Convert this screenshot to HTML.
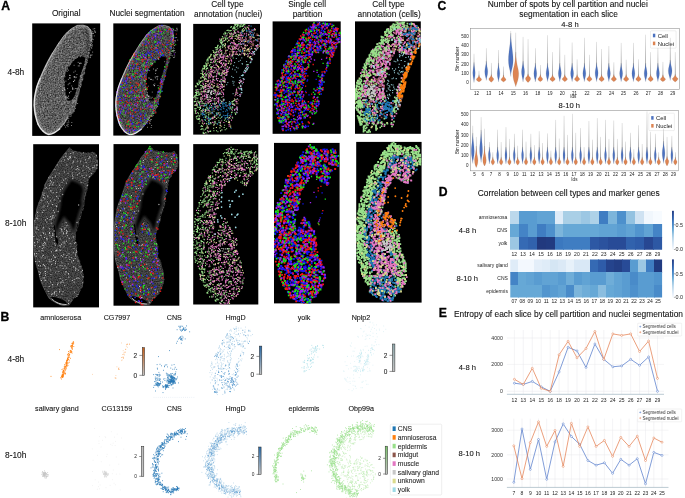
<!DOCTYPE html>
<html><head><meta charset="utf-8"><title>Figure</title>
<style>html,body{margin:0;padding:0;background:#fff;}svg{display:block;will-change:transform;font-family:"Liberation Sans",sans-serif;}</style>
</head><body>
<svg width="685" height="498" viewBox="0 0 685 498">
<defs>
<clipPath id="cp0"><rect x="32.2" y="23.4" width="68.0" height="112.5"/></clipPath>
<clipPath id="cp1"><rect x="113.3" y="23.4" width="67.6" height="112.2"/></clipPath>
<clipPath id="cp2"><rect x="193.2" y="23.9" width="66.8" height="110.7"/></clipPath>
<clipPath id="cp3"><rect x="272.6" y="21.4" width="68.1" height="112.4"/></clipPath>
<clipPath id="cp4"><rect x="355.0" y="21.4" width="65.8" height="112.4"/></clipPath>
<clipPath id="cp5"><rect x="33.2" y="144.2" width="65.8" height="163.2"/></clipPath>
<clipPath id="cp6"><rect x="113.5" y="144.1" width="65.8" height="161.6"/></clipPath>
<clipPath id="cp7"><rect x="193.2" y="144.1" width="65.1" height="160.4"/></clipPath>
<clipPath id="cp8"><rect x="274.0" y="142.9" width="65.6" height="160.5"/></clipPath>
<clipPath id="cp9"><rect x="356.2" y="141.9" width="65.4" height="160.7"/></clipPath>
<filter id="gn1" x="-5%" y="-5%" width="110%" height="110%" color-interpolation-filters="sRGB"><feTurbulence type="fractalNoise" baseFrequency="0.72" numOctaves="2" seed="2" result="n"/><feColorMatrix in="n" type="matrix" values="0.66 0 0 0 0.03 0.66 0 0 0 0.03 0.66 0 0 0 0.03 0 0 0 0 1" result="g"/><feGaussianBlur in="SourceAlpha" stdDeviation="0.35" result="m"/><feComposite in="g" in2="m" operator="in"/></filter>
<filter id="gn2" x="-5%" y="-5%" width="110%" height="110%" color-interpolation-filters="sRGB"><feTurbulence type="fractalNoise" baseFrequency="0.8" numOctaves="2" seed="7" result="n"/><feColorMatrix in="n" type="matrix" values="0.42 0 0 0 0.035 0.42 0 0 0 0.035 0.42 0 0 0 0.035 0 0 0 0 1" result="g"/><feGaussianBlur in="SourceAlpha" stdDeviation="0.35" result="m"/><feComposite in="g" in2="m" operator="in"/></filter>
<filter id="gn1b" x="-5%" y="-5%" width="110%" height="110%" color-interpolation-filters="sRGB"><feTurbulence type="fractalNoise" baseFrequency="0.72" numOctaves="2" seed="4" result="n"/><feColorMatrix in="n" type="matrix" values="0.52 0 0 0 0.01 0.52 0 0 0 0.01 0.52 0 0 0 0.01 0 0 0 0 1" result="g"/><feGaussianBlur in="SourceAlpha" stdDeviation="0.35" result="m"/><feComposite in="g" in2="m" operator="in"/></filter>
<filter id="bl5" x="-20%" y="-20%" width="140%" height="140%"><feGaussianBlur stdDeviation="0.5"/></filter>
<filter id="bl8" x="-20%" y="-20%" width="140%" height="140%"><feGaussianBlur stdDeviation="0.8"/></filter>
<clipPath id="gl_cp0"><path d="M71 29L65 34.5L58.9 42.9L52.9 52.5L48.1 61L44.5 68.2L40.2 78L36.6 87.6L34.6 97.3L34.2 105.7L35.4 115.4L38.4 125L43.3 131.6L48.1 134.4L54.1 132.8L60.1 128.6L65 122.6L68.6 116.4L73.4 113L76.4 104.5L78.4 96.1L80.8 87.6L83.2 78L85 70.6L87.4 62.2L89.1 55L90.3 47.7L91.5 41.7L92.1 35.7L90.9 30.2L87.9 26.6L83 25.1L77 25.4ZM85.3 57.6L84.6 62.2L82 71L79.8 78L77.4 87.6L75 95.1L71.5 101L67.4 100.2L66 96.1L65 87.6L64.3 78L65.6 73L68.9 66.2L74.3 60.4L79.2 55.6Z" clip-rule="evenodd"/></clipPath>
<clipPath id="gl_cp1"><path d="M152.6 29.3L146.6 34.8L140.5 43.2L134.5 52.8L129.7 61.3L126.1 68.5L121.8 78.3L118.2 87.9L116.2 97.6L115.8 106L117 115.7L120 125.3L124.9 131.9L129.7 134.7L135.7 133.1L141.7 128.9L146.6 122.9L150.2 116.7L155 113.3L158 104.8L160 96.4L162.4 87.9L164.8 78.3L166.6 70.9L169 62.5L170.7 55.3L171.9 48L173.1 42L173.7 36L172.5 30.5L169.5 26.9L164.6 25.4L158.6 25.7ZM166.9 57.9L166.2 62.5L163.6 71.3L161.4 78.3L159 87.9L156.6 95.4L153.1 101.3L149 100.5L147.6 96.4L146.6 87.9L145.9 78.3L147.2 73.3L150.5 66.5L155.9 60.7L160.8 55.9Z" clip-rule="evenodd"/></clipPath>
<clipPath id="hc_cp5"><path d="M66 184.5L62 191L59.4 198L58.3 207.6L55.9 216.1L53.9 224.2L55 226L56.5 238L58.1 238L58.3 234.2L60.7 225.7L64.3 219.7L68.6 224.5L72.2 233L74.8 234.2L77.2 225.7L79 218.5L81.4 211.3L83.8 205L83.4 199.9L85.2 190.2L83.6 184.5L78 180.8L70.5 177.8Z"/></clipPath>
<clipPath id="hc_cp6"><path d="M146.3 183.9L142.3 190.4L139.7 197.4L138.6 207L136.2 215.5L134.2 223.6L135.3 225.4L136.8 237.4L138.4 237.4L138.6 233.6L141 225.1L144.6 219.1L148.9 223.9L152.5 232.4L155.1 233.6L157.5 225.1L159.3 217.9L161.7 210.7L164.1 204.4L163.7 199.3L165.5 189.6L163.9 183.9L158.3 180.2L150.8 177.2Z"/></clipPath>
<linearGradient id="cb142_347" x1="0" y1="0" x2="0" y2="1"><stop offset="0" stop-color="#c8601a"/><stop offset="1" stop-color="#c4c4c4"/></linearGradient>
<linearGradient id="cb259_346" x1="0" y1="0" x2="0" y2="1"><stop offset="0" stop-color="#2a6aa6"/><stop offset="1" stop-color="#c4c4c4"/></linearGradient>
<linearGradient id="cb392_344" x1="0" y1="0" x2="0" y2="1"><stop offset="0" stop-color="#8fa9ad"/><stop offset="1" stop-color="#c4c4c4"/></linearGradient>
<linearGradient id="cb141_446" x1="0" y1="0" x2="0" y2="1"><stop offset="0" stop-color="#bdbdbd"/><stop offset="1" stop-color="#c4c4c4"/></linearGradient>
<linearGradient id="cb258_447" x1="0" y1="0" x2="0" y2="1"><stop offset="0" stop-color="#2a6aa6"/><stop offset="1" stop-color="#c4c4c4"/></linearGradient>
<linearGradient id="cb385_446" x1="0" y1="0" x2="0" y2="1"><stop offset="0" stop-color="#7cc46c"/><stop offset="1" stop-color="#c4c4c4"/></linearGradient>
<linearGradient id="wh" x1="0" y1="0" x2="0" y2="1"><stop offset="0" stop-color="#a8a8a8" stop-opacity="0.5"/><stop offset="0.55" stop-color="#808080" stop-opacity="0.85"/><stop offset="1" stop-color="#555" stop-opacity="1"/></linearGradient>
<clipPath id="hcl1"><rect x="509.7" y="210.8" width="152.4" height="38.9"/></clipPath>
<clipPath id="hcl2"><rect x="510.3" y="259.4" width="151.8" height="38.1"/></clipPath>
<linearGradient id="dcb" x1="0" y1="0" x2="0" y2="1"><stop offset="0.0" stop-color="#213b81"/><stop offset="0.1" stop-color="#294d98"/><stop offset="0.2" stop-color="#3163ae"/><stop offset="0.3" stop-color="#3f7dc2"/><stop offset="0.4" stop-color="#5294ce"/><stop offset="0.5" stop-color="#6dacd8"/><stop offset="0.6" stop-color="#98c5e2"/><stop offset="0.7" stop-color="#b8d6eb"/><stop offset="0.8" stop-color="#d0e3f2"/><stop offset="0.9" stop-color="#e4eef9"/><stop offset="1.0" stop-color="#f7fbff"/></linearGradient>
</defs>
<rect width="685" height="498" fill="#fff"/>
<text x="1.2" y="10.1" font-size="12.2" text-anchor="start" font-weight="bold" fill="#000" stroke="#000" stroke-width="0.3">A</text>
<text x="0.6" y="321.2" font-size="12.2" text-anchor="start" font-weight="bold" fill="#000" stroke="#000" stroke-width="0.3">B</text>
<text x="437.4" y="10.0" font-size="12.2" text-anchor="start" font-weight="bold" fill="#000" stroke="#000" stroke-width="0.3">C</text>
<text x="438.7" y="195.6" font-size="12.2" text-anchor="start" font-weight="bold" fill="#000" stroke="#000" stroke-width="0.3">D</text>
<text x="438.8" y="317.0" font-size="12.2" text-anchor="start" font-weight="bold" fill="#000" stroke="#000" stroke-width="0.3">E</text>
<text x="66.2" y="16.3" font-size="8.3" text-anchor="middle" fill="#111" stroke="#111" stroke-width="0.09">Original</text>
<text x="147.0" y="15.6" font-size="8.3" text-anchor="middle" fill="#111" stroke="#111" stroke-width="0.09">Nuclei segmentation</text>
<text x="227.4" y="7.1" font-size="8.3" text-anchor="middle" fill="#111" stroke="#111" stroke-width="0.09">Cell type</text>
<text x="228.2" y="17.2" font-size="8.3" text-anchor="middle" fill="#111" stroke="#111" stroke-width="0.09">annotation (nuclei)</text>
<text x="307.1" y="7.1" font-size="8.3" text-anchor="middle" fill="#111" stroke="#111" stroke-width="0.09">Single cell</text>
<text x="307.5" y="17.2" font-size="8.3" text-anchor="middle" fill="#111" stroke="#111" stroke-width="0.09">partition</text>
<text x="388.4" y="7.1" font-size="8.3" text-anchor="middle" fill="#111" stroke="#111" stroke-width="0.09">Cell type</text>
<text x="389.2" y="17.2" font-size="8.3" text-anchor="middle" fill="#111" stroke="#111" stroke-width="0.09">annotation (cells)</text>
<text x="7.5" y="74.7" font-size="8.4" text-anchor="start" fill="#111" stroke="#111" stroke-width="0.09">4-8h</text>
<text x="5.0" y="226.4" font-size="8.4" text-anchor="start" fill="#111" stroke="#111" stroke-width="0.09">8-10h</text>
<text x="60.7" y="320.2" font-size="7.15" text-anchor="middle" fill="#111" stroke="#111" stroke-width="0.09">amnioserosa</text>
<text x="117.0" y="320.2" font-size="7.15" text-anchor="middle" fill="#111" stroke="#111" stroke-width="0.09">CG7997</text>
<text x="174.3" y="320.2" font-size="7.15" text-anchor="middle" fill="#111" stroke="#111" stroke-width="0.09">CNS</text>
<text x="235.5" y="320.2" font-size="7.15" text-anchor="middle" fill="#111" stroke="#111" stroke-width="0.09">HmgD</text>
<text x="304.1" y="320.2" font-size="7.15" text-anchor="middle" fill="#111" stroke="#111" stroke-width="0.09">yolk</text>
<text x="361.0" y="320.2" font-size="7.15" text-anchor="middle" fill="#111" stroke="#111" stroke-width="0.09">Nplp2</text>
<text x="56.9" y="411.2" font-size="7.15" text-anchor="middle" fill="#111" stroke="#111" stroke-width="0.09">salivary gland</text>
<text x="116.9" y="411.2" font-size="7.15" text-anchor="middle" fill="#111" stroke="#111" stroke-width="0.09">CG13159</text>
<text x="174.3" y="411.2" font-size="7.15" text-anchor="middle" fill="#111" stroke="#111" stroke-width="0.09">CNS</text>
<text x="235.5" y="411.2" font-size="7.15" text-anchor="middle" fill="#111" stroke="#111" stroke-width="0.09">HmgD</text>
<text x="303.9" y="411.2" font-size="7.15" text-anchor="middle" fill="#111" stroke="#111" stroke-width="0.09">epidermis</text>
<text x="361.2" y="411.2" font-size="7.15" text-anchor="middle" fill="#111" stroke="#111" stroke-width="0.09">Obp99a</text>
<text x="7.5" y="362.0" font-size="8.4" text-anchor="start" fill="#111" stroke="#111" stroke-width="0.09">4-8h</text>
<text x="5.0" y="458.3" font-size="8.4" text-anchor="start" fill="#111" stroke="#111" stroke-width="0.09">8-10h</text>
<text x="567.8" y="7.1" font-size="8.4" text-anchor="middle" fill="#111" stroke="#111" stroke-width="0.09">Number of spots by cell partition and nuclei</text>
<text x="568.6" y="17.2" font-size="8.4" text-anchor="middle" fill="#111" stroke="#111" stroke-width="0.09">segmentation in each slice</text>
<text x="570.0" y="27.1" font-size="7.6" text-anchor="middle" fill="#111" stroke="#111" stroke-width="0.09">4-8 h</text>
<text x="569.3" y="108.2" font-size="7.6" text-anchor="middle" fill="#111" stroke="#111" stroke-width="0.09">8-10 h</text>
<text x="568.7" y="196.0" font-size="8.4" text-anchor="middle" fill="#111" stroke="#111" stroke-width="0.09">Correlation between cell types and marker genes</text>
<text x="467.5" y="232.5" font-size="7.6" text-anchor="middle" fill="#111" stroke="#111" stroke-width="0.09">4-8 h</text>
<text x="467.3" y="281.3" font-size="7.6" text-anchor="middle" fill="#111" stroke="#111" stroke-width="0.09">8-10 h</text>
<text x="568.5" y="316.9" font-size="8.4" text-anchor="middle" fill="#111" stroke="#111" stroke-width="0.09">Entropy of each slice by cell partition and nuclei segmentation</text>
<text x="467.3" y="369.6" font-size="7.6" text-anchor="middle" fill="#111" stroke="#111" stroke-width="0.09">4-8 h</text>
<text x="469.2" y="455.8" font-size="7.6" text-anchor="middle" fill="#111" stroke="#111" stroke-width="0.09">8-10 h</text>
<rect x="32.2" y="23.4" width="68.0" height="112.5" fill="#000"/>
<rect x="113.3" y="23.4" width="67.6" height="112.2" fill="#000"/>
<rect x="193.2" y="23.9" width="66.8" height="110.7" fill="#000"/>
<rect x="272.6" y="21.4" width="68.1" height="112.4" fill="#000"/>
<rect x="355.0" y="21.4" width="65.8" height="112.4" fill="#000"/>
<rect x="33.2" y="144.2" width="65.8" height="163.2" fill="#000"/>
<rect x="113.5" y="144.1" width="65.8" height="161.6" fill="#000"/>
<rect x="193.2" y="144.1" width="65.1" height="160.4" fill="#000"/>
<rect x="274.0" y="142.9" width="65.6" height="160.5" fill="#000"/>
<rect x="356.2" y="141.9" width="65.4" height="160.7" fill="#000"/>
<g clip-path="url(#cp0)">
<path d="M70.6 29.1L70.4 29.7L68.6 30.7L68.3 32L66.7 32.1L66.4 33.6L65.8 34.6L64.4 35.2L64.6 36.2L62.6 37L62.2 38.5L61.2 39.5L60.7 40.8L60.2 41.7L58.4 42.9L57.9 43.7L57.2 44.9L56.7 46L57.5 47L55.9 47.7L54.8 49.5L54.2 50.5L53.6 51.1L53 52.3L52.9 53.5L51.8 54.9L51.3 55.8L50.6 57.1L50.1 58.5L49.1 59.1L48.6 60.7L48.3 61.5L47.4 63L46.7 64.1L46.1 65L45.1 66.2L45.1 68L44.6 69L44 70.1L43.3 71.3L43.3 72.1L42 74.1L41.8 75L41.5 75.4L41.5 77.6L40.2 78.5L39.7 79.1L39.2 80.8L39.1 82.1L38.3 83.6L37.6 84.6L37.8 85.4L36.3 86.4L36.6 88.2L36.8 88.9L36 90.8L35.7 91L35.8 93.9L35.6 94L34.8 95.7L35.6 97.1L34.6 98.7L34.5 100.2L34.2 100.6L34.6 102.6L34.5 103.5L33.6 104.5L34 105.8L34.6 107.2L34.8 108.6L34.6 109.9L35 111.5L34.9 112.4L34.7 114.3L35.9 115L35.5 115.9L36.1 117.6L37.2 118.9L36.6 119.2L37.7 121.3L37.1 122.6L37.4 125L38.8 125.2L39.1 125.3L39.9 126.5L40.9 127.4L41.2 129.6L42.9 129.8L42.5 131.6L44.4 131.7L45 132.5L45.9 133.1L47.9 134.3L49.3 134.2L49.8 133.6L51.1 133.1L51.8 133.5L54.2 133.2L55.3 132.4L55.6 131.6L56.8 130.4L57.4 129.6L59.1 129.4L60 129.1L61 127.8L62.2 126.3L61.9 125.8L63.2 125L64.4 123.9L65.3 121.8L66 121.2L66.1 120.1L67.3 119.5L68 117.4L68.1 116.1L69.2 116.2L70 115.3L71.4 114.8L72.1 113.4L73.2 113.6L74.2 111.7L74.4 110.5L74.8 109.2L75 107.6L75.4 107.4L76.2 105.6L76.4 104.4L76.9 102.9L77.1 101.9L77.1 100.3L77.3 98.9L78.3 97.2L78.2 96.5L78.4 95.5L79.3 94.3L79.2 92.8L79.6 92L79.9 90.1L79.9 88.8L80.2 88.4L81.1 86.6L81.8 85.2L81.9 84.5L81.4 82.4L82 82L83.1 80L83.3 79L83.1 77.7L83.4 76L83.5 74.9L84.3 74.8L85.4 72.7L84.2 71.4L84.8 71L85.6 68.8L86.1 68L85.6 66.3L86.4 65.3L86.9 63.9L87.3 62.6L87.2 62L88 60.4L87.6 58.9L88.7 57.3L89.1 56.3L89.2 55.1L89.4 54.3L89.4 53.2L89.4 51L90.2 49.7L90 49.1L90.8 46.8L90.8 46.9L91.3 44.8L90.9 43.5L91 42.3L91.5 41L92.1 39.7L91.3 38.9L91.6 37L92 35.8L91.5 34.5L92.4 33.1L91.3 32.5L91.3 31.1L90.8 29L89.3 28.7L89 28.1L88.1 26.6L86.8 26.2L85.6 26.1L84.1 25.2L82.7 25.5L82.2 25.5L80.7 25.5L79.1 25.5L77.4 25.3L76.3 25.9L75.3 26.3L74.5 27.5L73 27.3L72.4 27.9ZM85.5 57.4L85.1 58.3L85.2 60L84.4 62.2L84.7 64L84.2 63.9L83.7 65.9L83.3 66.7L83.1 67.5L82.6 68.9L81.8 70.6L82 71.6L81.1 72.1L81.2 74.1L80 75.3L79.7 76.6L79.9 78L79.6 79.2L78.8 80.3L78.7 81.6L78.7 83.2L78.8 83.3L78.1 85.4L78.4 87.1L76.7 88.2L76.7 89.6L76.1 90.5L76 91.8L75.5 92.4L75.4 94.7L74.7 95.2L74.2 96.8L73.4 97.8L73.2 98.5L71.9 99.4L71.1 100.7L69.7 100.5L69.4 100.4L67.4 101L67 98.4L66.7 97.4L66.7 96.1L65.7 94.7L65.8 93.6L65.6 92.5L65.2 91.6L65.6 90L64.8 88.3L65.1 88.2L64.7 85.8L64.6 84.4L64.4 83.4L65.1 82.2L64.3 80.3L64.5 79.5L63.9 77.9L64.6 77.3L65.1 75.8L65.1 74.5L65.6 73.9L65.7 71.8L67.1 70.7L67.8 69.6L67.9 68.3L67.9 66.9L69.8 66.3L70.1 65.4L71 64.5L71.6 63.1L72.9 62.1L73 61.2L74.2 60.5L75.1 59L76.2 59L77.2 57.6L78.2 56.7L79.4 56.2L79.7 56.4L81.6 56.3L83.6 56.7L84.7 57.5Z" fill="#fff" fill-rule="evenodd" filter="url(#gn1)"/>
<g clip-path="url(#gl_cp0)"><path d="M68.6 116.4L65 122.6L60.1 128.6L54.1 132.8L48.1 134.4L43.3 131.6L38.4 125L35.4 115.4L34.2 105.7L34.6 97.3L36.6 87.6L40.2 78L44.5 68.2L48.1 61L52.9 52.5L58.9 42.9L65 34.5L71 29L77 25.4L83 25.1L87.9 26.6L90.9 30.2L92.1 35.7L91.5 41.7" fill="none" stroke="#fff" stroke-width="3.6" stroke-opacity="0.28" filter="url(#bl8)"/></g>
<path d="M68.6 116.4L65 122.6L60.1 128.6L54.1 132.8L48.1 134.4L43.3 131.6L38.4 125L35.4 115.4L34.2 105.7L34.6 97.3L36.6 87.6L40.2 78L44.5 68.2L48.1 61L52.9 52.5L58.9 42.9L65 34.5L71 29L77 25.4L83 25.1L87.9 26.6L90.9 30.2L92.1 35.7L91.5 41.7" fill="none" stroke="#cfcfcf" stroke-width="0.8" stroke-opacity="0.7" filter="url(#bl5)"/>
<path d="M80.8 32.1h0m-5.1 3.6h0m3.4-2.3h0m3 1.8h0m5.2-.2h0m-22.5 3.7h0m4.3-1h0m1.2-1.4h0m8.8 8.4h0m-8.6 2h0m7.3-.9h0m2.7 1.9h0m1.5 .2h0m-19.9 1.4h0m6.5 .3h0m10.1-1.2h0m-25.9 5.1h0m6-.2h0m1.8 .5h0m11.2-1.9h0m.5-.8h0m3 0h0m1.4 .1h0m-21.7 3.6h0m14.9 2h0m15.3-.9h0m-33 3.2h0m21.7-1.3h0m-22.4 4.2h0m5-.7h0m.5 .7h0m30.1 .5h0m-38.5 2.1h0m6.8 .2h0m3.6 .7h0m-6.4 3.3h0m4.5-1.3h0m-12.5 1.6h0m1.4 2.4h0m3.9 .1h0m5.9 5.8h0m3.3-.1h0m2.9-1h0m19.5 1.2h0m-26.9 2.3h0m-5 3.7h0m13.2 .3h0m16.4-.7h0m-33.7 3.6h0m6.7-1.7h0m.8 .1h0m3-1h0m24.4 .1h0m-41.3 10.2h0m1.7 1.5h0m23-.1h0m-17.3 1.7h0m7.5-1.3h0m2.9 1.8h0m2.9 .1h0m-20.6 .9h0m15.8 1.2h0m2.4 1.4h0m10.2-.3h0m8.6-.3h0m-33.8 2.1h0m5.4 .4h0m7.1 .9h0m6.4-1.1h0m3.2-.6h0m8.9-.2h0m2.5 0h0m-33.4 4.1h0m1.7 1.3h0m-1.3 1.4h0m.5-.4h0m1-.8h0m2.6 .7h0m17.4-.1h0m-8.7 3.5h0m8-.9h0m2.2-.1h0m-22.6 4.8h0m-3.5 4.8h0m1 1.9h0m8.5-.6h0m-3.7 6.3h0m5.5 2.7h0m-2.5 1.1h0m1.5 1.1h0" stroke="#a8a8a8" stroke-width="0.7" stroke-linecap="square" fill="none"/>
</g>
<g clip-path="url(#cp0)"><path d="M60.1 128.6C59.1 129.3 56.1 131.8 54.1 132.8C52.1 133.8 49.9 134.6 48.1 134.4C46.3 134.2 44.9 133.2 43.3 131.6C41.7 130.0 39.7 127.7 38.4 125.0C37.1 122.3 36.1 118.6 35.4 115.4C34.7 112.2 34.3 108.7 34.2 105.7C34.1 102.7 34.2 100.3 34.6 97.3C35.0 94.3 35.7 90.8 36.6 87.6C37.5 84.4 39.6 79.6 40.2 78.0" fill="none" stroke="#fff" stroke-width="1.4" stroke-opacity="0.8" filter="url(#bl5)"/><path d="M40.2 78.0C40.9 76.4 43.2 71.0 44.5 68.2C45.8 65.4 46.7 63.6 48.1 61.0C49.5 58.4 52.1 53.9 52.9 52.5" fill="none" stroke="#fff" stroke-width="1.19" stroke-opacity="0.44" filter="url(#bl5)"/><path d="M52.9 52.5C53.9 50.9 56.9 45.9 58.9 42.9C60.9 39.9 63.0 36.8 65.0 34.5C67.0 32.2 70.0 29.9 71.0 29.0" fill="none" stroke="#fff" stroke-width="0.98" stroke-opacity="0.24" filter="url(#bl5)"/></g>
<g clip-path="url(#cp0)"><path d="M85.5 29C88.6 34 88.8 42 87.6 49S85.5 54 84 57" fill="none" stroke="#000" stroke-opacity="0.4" stroke-width="2.2" filter="url(#bl8)"/></g>
<g clip-path="url(#cp0)"><path d="M93.2 29h0m1.5-.5h0m-2 3.2h0m2-1.4h0m.1 1.4h0m.4 .4h0m.2 .2h0m-5.7 2.9h0m1.4 .7h0m.3-1.9h0m1.3-.4h0m.1-.4h0m.7 .2h0m.8 2.5h0m-3.8 1.3h0m.8-.5h0m0 1.2h0m.9 .9h0m-.3 3.1h0m.1-2.5h0m1.2 .2h0m-4.3 4.8h0m1.3 .4h0m.2-.5h0m1.1-.7h0m.7-1.6h0m.1 2.8h0m-1.7 .4h0m.2-.1h0m.7 2.7h0m.1-2h0m.7 .2h0m-2.2 4.1h0m1.6-2h0m-5.6 4.4h0m2.5 .2h0m.7 .2h0m3.3-.8h0m-5 4.1h0m2.8-.3h0m.1-.8h0m.7 .2h0m.8-.4h0m-3.8 2.9h0m1.9-.6h0m.2 .4h0m-16.7 43.3h0m.2 .4h0m.9 .5h0m1.4 .1h0m.9-1.9h0m-3.7 2.8h0m4.3 .7h0m-5.1 3.1h0m1.5-.4h0m.2 .6h0m-3.8 3.2h0m2.7-.9h0m2.4-.7h0m-4.8 3.4h0m3.6-.7h0m-7 4h0m2.8 1.3h0m1.1-.5h0m-2.5 2.7h0m-1.5 4.2h0m1.2-1.9h0m.4 1.3h0m3 .3h0m-7.3 2.7h0m2.1 .1h0m1-.2h0m.6-.8h0m3.3 1.2h0m-5.9 1.6h0m2.4-.5h0" stroke="#9a9a9a" stroke-width="0.8" stroke-linecap="square" fill="none"/><path d="M80.4 56.7h0m-3.1 .8h0m.9 4.9h0m1.9 .5h0m-9.9 .7h0m3.9 1.7h0m4.2 .6h0m1 0h0m.6-2.3h0m1.4-.3h0m-14.2 8.2h0m1.4-1.3h0m6.8 .9h0m-11 2.2h0m9.5-1.1h0m3.1 2.3h0m-15.1 2.2h0m1.9-1.3h0m.8-.1h0m.4 1.4h0m5-1.3h0m0 2.5h0m4.1-1.1h0m.4 .2h0m.4-.5h0m.9 1.2h0m.7-.5h0m4.3-.2h0m-17.9 2.8h0m5.6-.4h0m6.1 1h0m.2-.3h0m-8.8 1h0m3.2 2.5h0m.8-.5h0m3.7-1.6h0m-5.4 3.2h0m3.5 1.3h0m-8 2.4h0m.9-.6h0m.1 1.4h0m2.9-.6h0m5-1.1h0m0 1.4h0m1.3 .1h0m1.7-.5h0m1.1 .2h0m-14.2 1.8h0m7.1 2.2h0m1.3-1.2h0m-6.5 3.4h0m4.2 1.1h0m7.5-1h0m-10.9 2.1h0m.3 1.5h0m1.5-.8h0m.1-.1h0m1.2-1.1h0m.4 1.8h0m-3 .6h0" stroke="#8a8a8a" stroke-width="0.9" stroke-linecap="square" fill="none"/><path d="M79.9 63.6h0m-18.1 13.1h0m8.1-1.3h0m0 2.5h0m4.5-.9h0m-.8 4.5h0m-8.9 7.7h0m7.9-.3h0m-10.1 1.6h0m7.1 2.2h0m-4.4 4.4h0m1.9 .6h0" stroke="#d0d0d0" stroke-width="1.1" stroke-linecap="round" fill="none"/></g>
<g clip-path="url(#cp1)">
<path d="M152.7 29.2L151.4 30.4L150.6 31.1L150.9 32.2L148.8 32.3L147.8 34L146.6 34.5L145.2 35.8L145.1 36.9L145 37.6L144.1 38.8L142.9 39.7L141.9 41.3L141.7 41.6L141 42.7L139.4 44.5L138.8 45.6L138.7 46.6L138.1 47.8L137.3 48.7L136.6 50L135.7 51L135.7 51.8L134.6 52.7L133.7 54.1L133 54.8L132.5 56.4L132 57.7L130.6 59.1L130.5 59.4L129.8 61L129.7 61.8L128.8 62.6L128.3 64.3L127.5 65.8L127.7 67L126.2 68.3L125.8 69L125.2 70.3L125 71.4L124.2 72.5L123.7 74.1L123.1 74.9L122.7 75.9L122.2 76.8L121.9 78.7L121.2 80.3L120.5 81.1L120.5 82L119.8 83.7L119.5 84.7L119.5 85.9L117.9 86.8L118.4 88.2L117.5 88.9L117.7 91.4L116.9 91.4L117.2 93.2L116.7 94.5L116.2 96.1L116.6 97.3L116 98.9L116.1 100L115.7 101.3L116.2 102.9L115.9 103.9L115.6 105.3L116.1 106.7L115.9 107.2L116.1 108.8L116.1 110.4L116.8 111.6L117 112.9L116.5 113.9L116.8 115.6L117.6 116.7L118 117.6L118 119.6L118.6 120.7L118.2 121L118.9 123.2L120.2 123.8L119.7 125L120.5 126.5L121.4 128L122.6 128.2L123.2 129.4L124.2 130.8L124.5 131.9L125.9 132.3L126.9 133.2L127.8 133.4L129.5 134.3L130 134.7L131 134.2L132.3 133.7L133.4 133.3L135.6 133.2L136 133.2L137.2 132.4L138.3 130.6L140.2 130.2L140.9 130L141.3 128.9L142.3 128.1L143.4 126.4L144.2 126.1L144.9 125L145.7 123.8L146.8 122.9L147.7 122L148.2 120.8L148.7 119L149.6 118.9L150 117.1L150.8 116.7L152 115.2L152.9 114.5L153.9 113.7L154.7 113.8L155.8 111.5L155.6 110.6L156.2 109.1L157.1 107.8L157.4 107.3L157.5 105.7L158.1 104.7L157.6 103L158.8 102.1L158.8 100.5L159 99.3L160.5 97.9L160.4 97.2L160.2 95.9L160.4 95.1L161.1 93.3L161.2 92.1L161.2 90.7L161.7 89.7L162.5 87.6L162.5 87.3L162.5 85.3L163.6 84.4L163.4 82.8L163.9 81.8L164.3 80.8L164.8 79.3L164.7 78.2L165.1 77L165.3 75.6L165.6 74.2L166.1 73.5L166.2 72L166.8 70.6L167.3 69.1L167.6 68.2L166.6 66.9L168.3 66.2L168.1 64.4L169 62.7L169.6 62L169.2 60.1L169.6 60.1L170.8 57.2L169.7 57L170.6 55.3L171.1 54.2L171.2 53L170.9 52.1L171.4 50.7L172 49.1L172 47.8L171.6 46.4L172.6 44.7L172.2 44.3L173.2 42.1L173.3 41.4L173.6 40L173.3 38.5L173.6 37.5L173.5 36.1L173.2 35.1L172.8 33.1L172.6 32.8L172.5 31.3L172.3 29.8L171.5 29.2L170.4 27.7L169.5 26.5L168.3 26.3L167.3 26.3L165.6 26.1L165 25.4L163.1 25.6L161.2 25.3L160.9 26.3L159.2 26.2L159 26.6L156.3 27L156 27.6L154.8 27.7L153.6 29.2ZM167.2 57.8L166.8 59.5L166.7 60.5L166.1 61.5L165.9 62.9L165.1 63.8L165.6 65.2L164.5 66.8L165 68.6L164 69L163.6 70.3L163.2 72.1L162.7 72.9L162.5 74.4L162 75.4L161.4 76.6L161.6 78.1L160 79.6L160.8 80.4L160.4 80.9L159.6 83.7L160.6 85.3L159.3 85.8L159.5 86.7L159.5 88.1L158.6 89.2L158.2 90.8L158 91.7L157.3 94L156.4 94.7L156.5 95.6L155.6 97.4L155.4 98.3L154.4 98.8L153.7 101L153.3 100.8L150.9 100.8L150.4 100.6L148.9 100.6L148.9 99.4L148.6 97.6L147.9 97L147 96L146.8 93.7L148.1 93.4L147.2 92.1L147.3 89.9L146.9 89.5L146.5 87.7L146.3 86.7L146.2 84.9L145.9 83.4L146.3 82.6L146 80.8L146.1 80L146.4 78.4L146 77.4L147 76L146.8 74.4L147 73.8L148 72.6L147.7 71.4L148.5 70.1L148.6 68.7L149.7 68L150.7 66.8L151.4 66.1L152.3 65.1L153.1 63.1L154.5 62.4L155.1 61.1L155.9 60.6L156.7 59.8L157.1 59.1L158.7 58.4L159.6 56.7L160.5 56.1L162.1 56.1L162.9 56.8L164.7 56.5L165.3 57.3Z" fill="#fff" fill-rule="evenodd" filter="url(#gn1b)"/>
<g clip-path="url(#gl_cp1)"><path d="M150.2 116.7L146.6 122.9L141.7 128.9L135.7 133.1L129.7 134.7L124.9 131.9L120 125.3L117 115.7L115.8 106L116.2 97.6L118.2 87.9L121.8 78.3L126.1 68.5L129.7 61.3L134.5 52.8L140.5 43.2L146.6 34.8L152.6 29.3L158.6 25.7L164.6 25.4L169.5 26.9L172.5 30.5L173.7 36L173.1 42" fill="none" stroke="#fff" stroke-width="3.6" stroke-opacity="0.22" filter="url(#bl8)"/></g>
<path d="M150.2 116.7L146.6 122.9L141.7 128.9L135.7 133.1L129.7 134.7L124.9 131.9L120 125.3L117 115.7L115.8 106L116.2 97.6L118.2 87.9L121.8 78.3L126.1 68.5L129.7 61.3L134.5 52.8L140.5 43.2L146.6 34.8L152.6 29.3L158.6 25.7L164.6 25.4L169.5 26.9L172.5 30.5L173.7 36L173.1 42" fill="none" stroke="#c8c8c8" stroke-width="0.8" stroke-opacity="0.7" filter="url(#bl5)"/>
<path d="M158.8 34.5h0m6.3 2.3h0m-.1 5.5h0m-21.2 8.3h0m14.8 3h0m2.2-1.2h0m-23.6 5.9h0m.1 1.5h0m1.3-1.7h0m4.1 1.8h0m2.8-2.4h0m-17.6 8.3h0m15.1-.9h0m.4-.3h0m4.1 4.5h0m-19.1 5.7h0m8.7-2.5h0m3.6 2.4h0m-18 1.9h0m10.6 4.2h0m1.5-2h0m-9.9 4.6h0m-1.9 4.1h0m14 3.3h0m2.3 1.5h0m-22.2 2.3h0m8.4 1.7h0m13.5 .8h0m-1.5 7.3h0m20.8-1.1h0m-6.4 3.2h0m-29.7 5.2h0m-3.5 5h0m6-1.8h0m5.8-.8h0m-8.9 9.3h0m.7 2.4h0m22.5-1.6h0m-11.6 6.8h0m-4.8 2.6h0" stroke="#a8a8a8" stroke-width="0.7" stroke-linecap="square" fill="none"/>
</g>
<g clip-path="url(#cp1)"><path d="M173.3 29.4h0m.2 .3h0m3.3-1h0m.1-.5h0m.3 1.4h0m-3.4 .6h0m1.5 .4h0m1.6 .2h0m-3.5 4.8h0m-2.4 1h0m1.6-.5h0m.9 1.7h0m1.8-.3h0m1.3 0h0m-3.8 1.8h0m1.7 1.5h0m.8 .4h0m.1-.6h0m2.3-.5h0m-6.5 4.5h0m2.4-1.1h0m1.1-.6h0m-4.6 3.8h0m1.2 .5h0m.5-.9h0m1.6 1h0m.7-1.6h0m.5-.3h0m-2.7 3h0m.6 2.2h0m1-.5h0m.2 .8h0m.2-.4h0m.1-2.1h0m.7 2.2h0m-4.8 2.3h0m1.4 .9h0m.1-2.4h0m1.2 .2h0m1 .3h0m1.6 .7h0m-4.2 2.9h0m1.7 .3h0m2 .2h0m-1 1.5h0m.4 0h0m-18.9 43.5h0m.3 .8h0m-.9 1.1h0m-.5 3.6h0m.6 .8h0m1.6-.1h0m1.3-.7h0m-4.4 2.7h0m.6 1.4h0m.3-2h0m-2.1 5h0m.2-.8h0m1.3 .7h0m2.4-1.4h0m-4.4 4.2h0m.1-.6h0m.1 .2h0m.9 .2h0m.7-.7h0m-3.7 1.9h0m1.1 2.3h0m.6-.1h0m-2.4 .6h0m.8 .4h0m.7 .6h0m-.9 2h0m.6 .6h0m1.5 1.8h0m-4.1 1.8h0m3.7 .2h0" stroke="#9a9a9a" stroke-width="0.8" stroke-linecap="square" fill="none"/><path d="M160.3 56.8h0m-11.5 2.5h0m.9-2.1h0m5.8 1.4h0m2.7 .3h0m.7 .3h0m5.8 2.5h0m-13.9 2.6h0m1.9-.5h0m.8 5.2h0m3.8-.4h0m-9.7 2.1h0m.5-.3h0m1.5 .2h0m6 .3h0m.4-.8h0m-.4 3.4h0m-10.7 2.1h0m1.4 1.5h0m8.9-.1h0m.4 .9h0m1.3-1.3h0m0-.1h0m.9-.1h0m-13.5 4.3h0m.8-1.3h0m3.5-1.4h0m1 .1h0m1.4 1.3h0m2 .6h0m4.3-.4h0m.1-1.5h0m-2.6 5.9h0m-6.5 2.2h0m5.2-1.4h0m.9 .8h0m3.6-.1h0m-13 1.8h0m.2 1.7h0m.6 .3h0m-1.9 .9h0m3.5 2.4h0m4.9-.5h0m5.8-.2h0m-10.9 3h0m.2 .5h0m1.4 .5h0m9.9-.6h0m-13.2 2.2h0m2.1 1.4h0m.7-2.5h0m.3 2.2h0m.1-1.8h0m.3-.5h0m.8 1.9h0m.1-1.2h0m1.3 1.2h0m1-.9h0m-5.4 2.8h0m.9 .2h0" stroke="#8a8a8a" stroke-width="0.9" stroke-linecap="square" fill="none"/><path d="M158.2 58.9h0m-5.5 4.9h0m3.3 6.3h0m-11.7 10.6h0m6.7-1.3h0m3.4 6.2h0m-8.6 3.7h0m12.3 2.6h0m-10.9 3h0m-1.7 2.6h0m2.8-1.1h0m-1.5 3.7h0" stroke="#d0d0d0" stroke-width="1.1" stroke-linecap="round" fill="none"/></g>
<g clip-path="url(#cp1)">
<path d="M156.3 27.9h0m12.6 1.4h0m.5-.4h0m1.1 .7h0m-12.4 1.7h0m1.9-.2h0m.5 0h0m.8 .6h0m6.4-.7h0m-19.5 5h0m23-2.2h0m-19.2 4.8h0m1-1.6h0m18.9 1.3h0m-23.4 1h0m20.7 1.4h0m1.5-1.3h0m2.8 .5h0m-30.8 5.1h0m7-2.8h0m12.9 2.1h0m4.7-1.5h0m-20.9 2.9h0m5.2 .5h0m5.9-.9h0m6.6-.1h0m7 .9h0m-19.6 3.1h0m2.5-.7h0m2.9 .2h0m1.1 2.1h0m4.2-.7h0m.3 .6h0m4.6-1.8h0m2.1 1.7h0m-35 2.9h0m14.4-2.3h0m4.2 2.6h0m6.4-1.4h0m1.3 1.1h0m3.4-.8h0m4.6-.1h0m-34.6 2.4h0m1 .7h0m2.7 .8h0m14.8-.8h0m16.7 1.2h0m-37.1 .3h0m10 2.5h0m1.2-.2h0m2.2-.2h0m.2-.3h0m3.2-1.7h0m10.2 .2h0m7.7 1.6h0m-37.2 1.9h0m3.5 .2h0m9.4 .3h0m2.5 1.1h0m2.4-.6h0m-18.7 3.1h0m2.8-.7h0m2.5-.2h0m2.3 .4h0m.9-.4h0m.8-.4h0m13.9 1.8h0m-25.6 2.7h0m13.4-.4h0m5.6-.2h0m.4-1h0m1.2-.4h0m1.7 .8h0m18.5-.2h0m-27.3 2.8h0m5.3 2.2h0m.3-1.7h0m-18.8 4.1h0m1.5-.1h0m7.4-.8h0m1.4-.3h0m-11.4 3h0m3.7 1.1h0m1.1 .5h0m4.1-1.2h0m7.8 .6h0m2.9-.5h0m20.2-.4h0m0 .4h0m-39.3 3.5h0m4.9-1.3h0m13.4-.7h0m1.9 .6h0m.3 .8h0m-23.9 3.5h0m8.1-.4h0m5.6 .4h0m1.7 .5h0m8.6 .2h0m13.8-.7h0m-36.2 2.7h0m8.2 1.1h0m3.4-.2h0m2.7-1.9h0m.3 1.2h0m1.1-1.4h0m20.5 1.6h0m1.6-1.6h0m-43.2 4.7h0m5.3-1.6h0m3 1.4h0m4.1-.8h0m.3-.7h0m12.6 2.2h0m3.1-2.2h0m.2 1.7h0m12-.4h0m-25.8 1.4h0m.8 1.7h0m2.3-.2h0m1.7-1.7h0m4.1 1.4h0m-17.3 2.5h0m2 1.7h0m1.3-2.3h0m14.8 .4h0m.5 2h0m-24.7 2.8h0m7.3-2.1h0m3 .7h0m8 .3h0m1.6 1.6h0m.1-2.4h0m1.9 .4h0m3.8-.1h0m9.3 1.8h0m6.5-2.3h0m-44.1 5.4h0m1.6-.1h0m2.9-1h0m2.3-1h0m3 1.8h0m14.6-.9h0m13.8 1.1h0m1-.5h0m.5-.1h0m2-1.8h0m-40.2 4h0m5.7 .5h0m2.8 1.1h0m1.3-2.4h0m1 1.7h0m1.4-1.5h0m1.2 1.6h0m4.1-.9h0m1.8-.5h0m.7 .1h0m-12.5 3.2h0m23.7 .8h0m1.2-.3h0m1.5 .5h0m-32.3 1.8h0m.3 .2h0m8.8 .7h0m4.5 .3h0m.4-1.3h0m2.5-.2h0m4.9 .3h0m3.8 .4h0m9.1 1.1h0m-36.6 2.5h0m11 .1h0m2.2-.9h0m1.9 1.7h0m2.9-1.8h0m.3 .2h0m20.2 .6h0m-37.4 3.1h0m22.4 .3h0m.6-1.7h0m2 .6h0m-24.4 2.5h0m13.5 0h0m10.4 .4h0m-23 2.3h0m7.6 1.4h0m.9-1.3h0m2 1.2h0m8.5 1.1h0m-12 2.9h0m3.4-1.1h0m7.2-.6h0m-7.8 2.4h0m1.7 2.1h0m3.4-1.3h0m.7 .4h0m-11.3 3.7h0m2.4-2.2h0m8.4 1.5h0m-1 2.9h0" stroke="#f01818" stroke-width="1.35" stroke-linecap="round" fill="none"/>
<path d="M158.3 28.1h0m6.4 1.5h0m.2-.2h0m-13.9 1h0m1.9 1.6h0m.1 .3h0m1.4-1.5h0m4 .7h0m5.2 1.2h0m2.3-2.1h0m-17.2 2.4h0m13.2 1h0m6 .1h0m-21.3 4.9h0m8.5-2.4h0m7.7 1.6h0m-14.1 2.6h0m6.6 .6h0m.4 .2h0m-.9 .7h0m15.8 1.4h0m2.3 .8h0m-33.2 .6h0m6.3 2.2h0m10.2-1.5h0m9.2 1h0m5.2 1.1h0m-13.1 2.6h0m-18.8 1.4h0m3.8 1.3h0m19.6 .5h0m-23.6 1.5h0m1.8 .3h0m5-.7h0m3.3 .9h0m12.5-.5h0m-31.1 4.4h0m2.7-1.9h0m4.3 1.5h0m1.7 .2h0m1.4 .5h0m1.4-2.5h0m28.1 .9h0m-25.2 4.5h0m3.7-.5h0m2.5-2.2h0m4.5 1.8h0m-24.4 3.3h0m5.3-1.5h0m6.9 2h0m.7-1.4h0m7.4-.9h0m.5 .5h0m15.6 .7h0m-23.3 4.2h0m.4-2.3h0m20.4 .3h0m.2 .2h0m-32.3 4.1h0m2.6 .1h0m2.2-1h0m9.2 .3h0m-19.2 4.2h0m.5-.6h0m5.3-.4h0m0 1h0m-.8 .5h0m3.8 1.9h0m.1-.2h0m3.2 .1h0m1.6-1.7h0m.1 .9h0m21.5-.3h0m1.4 3.7h0m-22.6 3.3h0m3.9-1.7h0m-24.8 5.2h0m3-1.2h0m6.4 .6h0m9.7-.6h0m22 1.1h0m-36.7 .7h0m13.9 .2h0m7.9 1.9h0m0-.3h0m11.7-.8h0m-35.1 2h0m3.9 2.9h0m3.6-1.6h0m10.1-.6h0m18.7 2.2h0m1-2.8h0m.1 1.9h0m1.3-.6h0m-38.4 3.9h0m3.9 .6h0m6.9-.5h0m3.6 .4h0m4.4 .1h0m-12.9 .5h0m7.3-.1h0m2.4 .1h0m7 1.6h0m8.9 .3h0m4.9-2.1h0m-41 3.2h0m12.4-.3h0m8.4 2.5h0m2.3-1.1h0m-22.1 2.7h0m2.8-.8h0m6 2.4h0m5.3 0h0m9.6-.2h0m2-1h0m-26.9 1.9h0m8.8 .1h0m2.1 0h0m14.4 .5h0m7.1-.4h0m3.7-.4h0m1.5-.1h0m-40.3 4.2h0m7.6-1.3h0m6.5 .6h0m2 1.7h0m11 .3h0m7.6-1.5h0m-29.7 3.8h0m2.6-2h0m21.4 2.6h0m7.9-.1h0m-30.4 .6h0m2 2h0m21.6-.8h0m4.7 .6h0m-3.3 3.5h0m-26.9 3.1h0m7.9-.7h0m4.7 .6h0m3.6 .6h0m-9.7 1h0m1.7 .3h0m15.1-.8h0m-11 2.6h0m3.5 .6h0m2-.2h0m-1.1 3.1h0m-5.9 4.7h0m4.6-2.1h0" stroke="#22e022" stroke-width="1.35" stroke-linecap="round" fill="none"/>
<path d="M162 25.2h0m-7.6 4.6h0m.9 .1h0m1.3-.8h0m-6.6 2.6h0m.2 .7h0m10.3-.1h0m6.4-1.9h0m-17 4.5h0m4.2 .6h0m1.9 0h0m3.8-2.5h0m-13.1 3.2h0m5.7 1.7h0m2.9-.2h0m6-1.4h0m10 2.5h0m-25.8 2.3h0m12.9 .9h0m8.3-.2h0m4.7-1.9h0m-26.1 4.5h0m.8-.6h0m9.5 .7h0m1.7-.9h0m1.6-1.6h0m7.9 2.7h0m.9-.3h0m2.5 3.2h0m.7 .3h0m-23 3h0m8.3-1.4h0m.5 1h0m1.1-.8h0m2.7 1h0m2.3-2h0m-23.8 3.5h0m8.8 .8h0m1.1-.9h0m.7 1.1h0m1.7-1.7h0m3 .7h0m3.9-.4h0m.3 1h0m3.1-.6h0m-25.8 4h0m5.9-1.4h0m2.3 1.8h0m1.4-2.1h0m.8-.3h0m.1 1.1h0m4.3-.5h0m.1-.1h0m9.9 2h0m1.4-1h0m.8-.7h0m.8 .3h0m-29.6 4.2h0m17.4-2h0m2 1.6h0m.3 .4h0m2.1 .3h0m-19.1 1.2h0m10.8 .8h0m-18.1 4.1h0m1.9-.9h0m3.7-.2h0m11.2-.6h0m-16.6 4.1h0m3.7 .1h0m1-1.7h0m3.7-.1h0m3.1 4.8h0m0-2.3h0m3.3 2.1h0m3.8-1.2h0m16 1h0m-27 1.6h0m4.5-.4h0m0 2h0m4.1 .8h0m-14.2 2.4h0m11.4-1.1h0m22.6-1h0m-44.2 3.9h0m1.4 1.7h0m.9-1.8h0m2 1.4h0m1.3-2.5h0m0 1.1h0m5.4-.3h0m1.4 .3h0m6.4-.7h0m20.4 .8h0m3 .4h0m-38.6 1.7h0m1.3 1.4h0m.5 .8h0m-6.6 1.2h0m1.7-.3h0m4.2 2.4h0m5.7-.9h0m.7-.2h0m9-1.4h0m1.6 1.6h0m18.4-.2h0m-42.8 3.3h0m1.8 .1h0m3.3-1.4h0m.7-.2h0m8 .8h0m3.5 .7h0m25.8-1.2h0m-44.9 4.3h0m5.6-1.2h0m6.6 2.1h0m.7-.3h0m1.5 .3h0m.4-1.2h0m1.4 .1h0m7.7 1h0m16.9-.1h0m1.4-1.3h0m2.9-.5h0m-40 4.8h0m-4.1 .6h0m1.4 2.3h0m.9-2.6h0m3.7 2.3h0m8.4 0h0m1.8-.2h0m-15.1 1.4h0m1.5 1.9h0m.1-2.1h0m3.3 .5h0m4.7 1h0m12.4-.5h0m1.6 .5h0m2.5-.1h0m-14.9 2.8h0m5.9-.1h0m13.7 .1h0m8-1.3h0m.8 2h0m-42.7 1.6h0m9.4-.9h0m2.6 .8h0m18.3 .5h0m3.6 1.5h0m-28.7 2.8h0m2.5-2.4h0m3.7 .8h0m1.7 1.8h0m3.3-2.1h0m2.4 1.4h0m1.2-.1h0m2.4 .2h0m14.3-1.9h0m-32.5 5.3h0m.6-.9h0m5-.7h0m14.5 1.4h0m5-.2h0m-28.3 .8h0m13.3 1.9h0m.5-.2h0m3 .5h0m7.1-1.3h0m.5-.8h0m3.2 1h0m-24.1 4.6h0m9.9 .2h0m5.5-1.7h0m4.9-.1h0m.2 .2h0m3.6-.3h0m-25.7 4.8h0m11.7-1.9h0m.3 0h0m9.9-.4h0m.6 .4h0m6.3-.3h0m-15.5 3.5h0m.1-1.1h0m.8 .8h0m4 1.6h0m2-.9h0m5.1 1.1h0m-21.8 2.5h0m17.7 .2h0m-15.6 3.4h0m1.7-1.5h0m3.5-.2h0m2.4-1h0m2.3 1.3h0m1.3-.1h0m1.4-.3h0m2.6 .5h0m-10.4 2.3h0m6.1 .1h0" stroke="#2222f0" stroke-width="1.35" stroke-linecap="round" fill="none"/>
<path d="M159.6 25.9h0m.2 1.7h0m12 1.1h0m-10.1 3.1h0m9.9-1.6h0m-25 4.7h0m2.1-.7h0m6.4 .8h0m1-1.4h0m14.7 0h0m1.6 .1h0m-20.2 5.3h0m3.3-2.6h0m3 .7h0m1.6 .9h0m-13 3.9h0m-4.7 1.2h0m6.3 .6h0m8.8-.5h0m2.5-.8h0m.1 1h0m-3.5 4.3h0m-20.8 3.9h0m.6 2.7h0m4.3 2.4h0m2.2-1.9h0m.6 1.6h0m16.8-2h0m-16.1 3.2h0m1.9 .8h0m.5 4h0m1.2-2.2h0m-4 5.1h0m23.3-2.2h0m-34.7 5.1h0m5.7 .3h0m8-2.4h0m-.7 4.2h0m-2.9 3.8h0m-10.7 1.8h0m8.4-.7h0m-14.2 5.8h0m1.5-2.1h0m33.6 1.9h0m.5-.1h0m-21.1 2.2h0m20.9-.6h0m.8-.5h0m-42.8 5h0m-2.5 5h0m.6 1h0m9.8-2.3h0m4.2 1.4h0m9.5 .4h0m18.4-1.2h0m-34 4.6h0m10.1 1.5h0m3.9-.3h0m3.8-.6h0m3.6 2.5h0m12.1-2.2h0m-23.7 3.1h0m6.2 .1h0m3.1 1.4h0m-9.8 3.5h0m13.5 .1h0m-28.9 .9h0m1.5-.4h0m1.3 1.7h0m2.6-1.1h0m5.8 1.3h0m6.1-1.2h0m6.1 1.3h0m4.7-1.5h0m.7 0h0m3.1 .1h0m-29.3 3.2h0m-3.4 2.7h0m1.8 .2h0m5.3 1h0m27.3-1.1h0m-36.1 3.6h0m16 .3h0m5.4 .4h0m-18.5 3h0m2.1 1.9h0m9.5 2.8h0m-5.4 6.1h0m4.2 0h0m3.4 .6h0" stroke="#9a28f0" stroke-width="1.35" stroke-linecap="round" fill="none"/>
<path d="M176.3 34.1h0" stroke="#f01818" stroke-width="1.0" stroke-linecap="square" fill="none"/>
<path d="M175.7 44.7h0" stroke="#22e022" stroke-width="1.0" stroke-linecap="square" fill="none"/>
<path d="M172.3 37.8h0" stroke="#2222f0" stroke-width="1.0" stroke-linecap="square" fill="none"/>
<path d="M172.8 31.9h0" stroke="#9a28f0" stroke-width="1.0" stroke-linecap="square" fill="none"/>
<path d="M173.1 44.8h0" stroke="#f01818" stroke-width="1.0" stroke-linecap="square" fill="none"/>
<path d="M172.2 50.9h0" stroke="#22e022" stroke-width="1.0" stroke-linecap="square" fill="none"/>
<path d="M175 37.9h0" stroke="#2222f0" stroke-width="1.0" stroke-linecap="square" fill="none"/>
<path d="M174.3 54.1h0" stroke="#9a28f0" stroke-width="1.0" stroke-linecap="square" fill="none"/>
<path d="M172.9 40.8h0" stroke="#f01818" stroke-width="1.0" stroke-linecap="square" fill="none"/>
<path d="M172.9 28.4h0" stroke="#22e022" stroke-width="1.0" stroke-linecap="square" fill="none"/>
<path d="M173 31.9h0" stroke="#2222f0" stroke-width="1.0" stroke-linecap="square" fill="none"/>
<path d="M173.5 42.2h0" stroke="#9a28f0" stroke-width="1.0" stroke-linecap="square" fill="none"/>
<path d="M172.6 44.3h0" stroke="#f01818" stroke-width="1.0" stroke-linecap="square" fill="none"/>
<path d="M173.4 36.7h0" stroke="#22e022" stroke-width="1.0" stroke-linecap="square" fill="none"/>
<path d="M145.8 118.3h0" stroke="#2222f0" stroke-width="1.0" stroke-linecap="square" fill="none"/>
<path d="M155.3 101.4h0" stroke="#9a28f0" stroke-width="1.0" stroke-linecap="square" fill="none"/>
<path d="M149.1 121.9h0" stroke="#f01818" stroke-width="1.0" stroke-linecap="square" fill="none"/>
<path d="M152.4 111.7h0" stroke="#22e022" stroke-width="1.0" stroke-linecap="square" fill="none"/>
<path d="M151.2 104.5h0" stroke="#2222f0" stroke-width="1.0" stroke-linecap="square" fill="none"/>
<path d="M151.9 107.6h0" stroke="#9a28f0" stroke-width="1.0" stroke-linecap="square" fill="none"/>
<path d="M150.9 116.3h0" stroke="#f01818" stroke-width="1.0" stroke-linecap="square" fill="none"/>
<path d="M154.8 102.5h0" stroke="#22e022" stroke-width="1.0" stroke-linecap="square" fill="none"/>
<path d="M147.3 123.7h0" stroke="#2222f0" stroke-width="1.0" stroke-linecap="square" fill="none"/>
<path d="M152.3 105.7h0" stroke="#9a28f0" stroke-width="1.0" stroke-linecap="square" fill="none"/>
<path d="M154.2 110.7h0" stroke="#f01818" stroke-width="1.0" stroke-linecap="square" fill="none"/>
<path d="M154.5 101.9h0" stroke="#22e022" stroke-width="1.0" stroke-linecap="square" fill="none"/>
</g>
<g clip-path="url(#cp1)"><path d="M141.7 128.9C140.7 129.6 137.7 132.1 135.7 133.1C133.7 134.1 131.5 134.9 129.7 134.7C127.9 134.5 126.5 133.5 124.9 131.9C123.3 130.3 121.3 128.0 120.0 125.3C118.7 122.6 117.7 118.9 117.0 115.7C116.3 112.5 115.9 109.0 115.8 106.0C115.7 103.0 115.8 100.6 116.2 97.6C116.6 94.6 117.3 91.1 118.2 87.9C119.1 84.7 121.2 79.9 121.8 78.3" fill="none" stroke="#fff" stroke-width="1.2" stroke-opacity="0.8" filter="url(#bl5)"/><path d="M121.8 78.3C122.5 76.7 124.8 71.3 126.1 68.5C127.4 65.7 128.3 63.9 129.7 61.3C131.1 58.7 133.7 54.2 134.5 52.8" fill="none" stroke="#fff" stroke-width="1.02" stroke-opacity="0.44" filter="url(#bl5)"/><path d="M134.5 52.8C135.5 51.2 138.5 46.2 140.5 43.2C142.5 40.2 144.6 37.1 146.6 34.8C148.6 32.5 151.6 30.2 152.6 29.3" fill="none" stroke="#fff" stroke-width="0.84" stroke-opacity="0.24" filter="url(#bl5)"/></g>
<g clip-path="url(#cp3)">
<path d="M317.4 21.7h0m-4.4 2.6h0m2.8 1.4h0m2.9-1h0m.5-.6h0m9.5 1.3h0m1-1.3h0m-10.7 3.1h0m-8.8 4.6h0m6.3 1h0m3-.8h0m3.9-1.2h0m0 .8h0m.9 0h0m5.1 .2h0m7.6-.2h0m-30.9 2.2h0m2.3 1.7h0m8 .2h0m6.5-1.2h0m11.7 1h0m1.5-1.4h0m2.4 .8h0m-7.8 4h0m3.9-2.7h0m4.4 1.8h0m.4-.3h0m-29 2.1h0m.8 .9h0m-13.3 3.9h0m26.7-.3h0m2.2 0h0m2.9-1.8h0m-27.5 4.8h0m4.7-.2h0m4.9 .3h0m5.6-.8h0m4.8-1h0m10.1-.6h0m-33 4.8h0m.2-1.4h0m5.5 1.1h0m8.9 1.3h0m18.7-2.8h0m-39.8 5.7h0m6.9-1.4h0m9.1 .1h0m19.7 1.5h0m3.4-2.7h0m1.1 .3h0m-44.6 5.2h0m5.7-1.3h0m1.8-.3h0m2.8 .6h0m32.9 .9h0m.2 .3h0m-37.9 2h0m8.4-.5h0m3.4-1.2h0m-19.1 3.5h0m17.5 1.8h0m-16.6 1h0m6.1 2.4h0m-7.7 2h0m1.4-1.3h0m4.2 .2h0m5.5 2.1h0m10.7-2.1h0m-25.9 3.3h0m1.6-.2h0m9.9 1.4h0m3.4-2h0m.1 .7h0m4.5 1.4h0m-14.4 1h0m10.7 1.7h0m5.3-1.8h0m19.5 2.6h0m-35.4 2h0m2.5-1.7h0m1.7 1.3h0m2.8 .1h0m3.5-.7h0m4.4-.3h0m19.4 1.7h0m-41.6 3.6h0m2.8-2.6h0m9.9 .7h0m9.1 0h0m-24.1 2.7h0m2.5 1.8h0m.7-.6h0m15.1 .6h0m26.1-1.2h0m-43.8 3.5h0m.7-1.3h0m7.5-.1h0m1.4 .8h0m.1 1.1h0m3.4-.4h0m4.9 1h0m7.2-1.5h0m-22.8 4.2h0m2.3 0h0m5.6 .4h0m6.9-2.1h0m25.1-.8h0m.7 2.1h0m-41.8 1.4h0m.5 1.7h0m8.6-2.1h0m1.5 1.2h0m26.2-.7h0m2.7 .4h0m.2-.7h0m1.8 .8h0m-36.5 2.1h0m4.7 .9h0m25.7 .4h0m-28.3 2.1h0m3.1 2.1h0m.2-.5h0m11.5-1.6h0m2.2 0h0m-27.2 3h0m5.7 1.2h0m7.6-1.8h0m5.9 1.4h0m5.2 .1h0m-18.7 1.7h0m9.7 2.2h0m6.7 .3h0m1-.9h0m11-.6h0m1.8 .6h0m3.9 .9h0m.9-1.5h0m-38.8 3.6h0m14 .1h0m2.3-1.5h0m11.3 .2h0m.4 4.2h0m2.1 .3h0m-19.3 3.5h0m6.6-2h0m8.5-.2h0m6.6-.3h0m-24.5 4.1h0m12.9-.1h0m1.5-.1h0m.6 .7h0m1.7-1.8h0m-22.7 4.4h0m2.8-.3h0m.1 1h0m17.6-.3h0m-21 3.9h0m1.8-1.5h0m3.7 .7h0m1.3-.7h0m15.8 .5h0m-13.8 5.8h0m4.3-.8h0m4.4-.3h0m-6.4 4h0" stroke="#1414f5" stroke-width="1.5" stroke-linecap="square" fill="none"/>
<path d="M313.7 23.4h0m2.8 2.2h0m7.9-.5h0m8 .9h0m-19.6 2.3h0m.8 1.3h0m8-1.5h0m14.4 .6h0m-30.6 1.5h0m.3 .8h0m8.6 .4h0m5.5 .7h0m8.5-1.9h0m3.5 .8h0m5.3-.6h0m-33.2 4.4h0m22.8-.9h0m5.5 1.7h0m-23 1.8h0m11.9 .6h0m9.4 .9h0m8-.2h0m-12.9 2.8h0m.7 .2h0m4.8-1.5h0m6.3 .1h0m2 1.4h0m-37.3 3.3h0m2-.3h0m11-.5h0m10.1-2.1h0m4.7-.1h0m1.4 1.2h0m5.4-.3h0m-16 2.8h0m4 1.2h0m-24.6 2.8h0m15 .8h0m3.9-.8h0m11.6-1.7h0m3.9 2.5h0m-43.6 1.5h0m7.7 .6h0m3.5-1.3h0m4-.2h0m2.7 2.8h0m17.1-2.3h0m.5 1.2h0m5.7-.3h0m.7 1.2h0m1-1.2h0m-36.9 1.7h0m13.3 2.6h0m-14.5 2.2h0m3-.8h0m31-.5h0m-41.5 2.8h0m3.2 .3h0m.3 1.3h0m7.1-.1h0m7.1-1.9h0m-17.4 4.7h0m9.1-.9h0m-10.7 2.7h0m21.4 .5h0m-20.2 3.9h0m.3-.5h0m2.8-.9h0m-6.2 5.3h0m9.7-2.3h0m4.7 1.3h0m5.1-.1h0m-23.4 3.6h0m13.6-.4h0m.1-.8h0m4.1 0h0m-16.2 2.6h0m.8 .1h0m8.7-.5h0m10.6 1.1h0m1.8-1.3h0m17.9 2.2h0m-45.1 .6h0m6.1 1.7h0m1.1-1h0m1.6 .6h0m5-.7h0m7.6 .6h0m2.3 0h0m.3-1h0m2.2 1.5h0m17.2-.2h0m-42.7 1.8h0m1.4 1.2h0m13.5 0h0m.6-1.2h0m3.6 1.7h0m2-.5h0m1.9-1.3h0m-9.8 4.5h0m4 0h0m-15.1 3.5h0m19.5-.8h0m19.9 .5h0m-42.6 3.6h0m3.3-.2h0m7.7 .3h0m.6-1.9h0m12.4 .4h0m-19.6 2.2h0m13.2 1.4h0m-6.4 1.7h0m3 1.7h0m1.8-.2h0m5.6 .8h0m16 1.7h0m-34.8 1.8h0m6.4 2.6h0m6.5-1.2h0m3.7-1.2h0m1.4 1.8h0m8.1-1.6h0m0 2.1h0m6.6-1.4h0m.2-.9h0m-30.9 3.3h0m2.1 1.8h0m20.6-2.2h0m6.4 2.3h0m-32.5 .7h0m11.6 2.1h0m-9 1.7h0m3.4 1.8h0m2.8-.3h0m3.7-2.2h0m8.5 1.3h0m6.1-1.5h0m-27.7 3.5h0m3.5 .4h0m4.9 3.8h0m9 .4h0m13.2-.3h0m-21.2 2h0m22.1-1h0m-17.8 3.4h0m5 1.3h0m.5 1h0m1.2-1.5h0" stroke="#f51414" stroke-width="1.5" stroke-linecap="square" fill="none"/>
<path d="M325 24h0m1.8-.1h0m-7.1 .3h0m6.9 .7h0m-11.5 2.9h0m21.9 .6h0m-33.4 4.1h0m8.1-1h0m3-1.1h0m15.5-.2h0m-21.1 3.5h0m31-.6h0m-31.7 5.9h0m8.7-2.6h0m-10.9 3.4h0m1.4 4.7h0m28.4 .2h0m2.5-2.3h0m-28.9 2.9h0m-9.2 4.8h0m25.3-.2h0m2.7-1h0m7.5-.8h0m-19.8 4.1h0m7.3-.8h0m2.9 1.4h0m-35.1 3.6h0m18.5 .3h0m-17.9 .4h0m3.9 1.6h0m11-.7h0m-19.9 3.6h0m15.2-1.2h0m25.7 2.3h0m-39.7 1.6h0m1.9-1.1h0m6.1 2.2h0m-6.9 1.7h0m19.5 0h0m-20 2.9h0m9.1 .7h0m-2.6 4.3h0m8-2.6h0m-8.9 3.5h0m27.8-.6h0m-40.5 2.8h0m5.3 1.4h0m.5 .7h0m16.5-.1h0m18.5-1.5h0m-38.2 3.9h0m9.5 1.3h0m7.3-2.6h0m23.2 .7h0m-24.3 5h0m21.6 1.5h0m1.2 1h0m-41.1 3.3h0m7-1.9h0m2.6 1.3h0m1.1 .9h0m2-.8h0m4 .2h0m-9.6 1.1h0m1 2h0m.4-1.2h0m6.9 .6h0m2.2-.3h0m.8 .2h0m14.9-.6h0m-37.2 4.6h0m7.7-1.6h0m.9-.4h0m14.6 1.7h0m-25.9 1.3h0m0 5h0m6.3-.4h0m1.8-.1h0m8.4-.5h0m2.1-.8h0m9.5 .6h0m2-.9h0m-27.4 6.9h0m38.6-.8h0m-39.1 5.3h0m11.8 2.9h0m13.9-2.2h0m2.1 1.6h0m-24.8 .9h0m24.2-.3h0m-21.1 3.7h0m7.6 1h0m5.3 6.9h0m.8-1.1h0" stroke="#19e619" stroke-width="1.5" stroke-linecap="square" fill="none"/>
<path d="M325.5 23.9h0m-12.2 2.2h0m.8-1.7h0m11.1 .5h0m3.1 .6h0m-14.9 1.7h0m13.8 .4h0m8.6 .5h0m1.1 1.5h0m-27.5 3h0m24.9-1h0m-31.7 2.8h0m22.7-.5h0m7.5-.1h0m2.1 .9h0m4.8 .5h0m-37.8 3.5h0m1.5-.4h0m16.6-1.2h0m-19.7 2.6h0m.7-.5h0m16 2.2h0m6.1-.7h0m3.4 0h0m4.1 .9h0m-33.3 1.6h0m5.5-.6h0m29.4-.3h0m1.2 .7h0m-29.9 2.4h0m30.9 1.5h0m-42.5 3.9h0m3.1-.8h0m3.3 3.2h0m14.1-.1h0m.1-1.4h0m14 .3h0m.6-1h0m1.7 1h0m1.7-.4h0m1 1.4h0m-26.5 3.1h0m1.4-1.1h0m5.8-.3h0m19.9 1.9h0m-37.9 2.8h0m3.3 .6h0m6.5-2.3h0m7.2 1.4h0m-6.2 3.1h0m-19.7 2.4h0m5.2 .4h0m8.5 0h0m2.5-.8h0m-15.5 4.7h0m7.9-1.6h0m3.7 0h0m.7 1.9h0m-16.2 4.4h0m11.3 1.3h0m7.2 0h0m2.1 .8h0m19.8 0h0m-36 3.2h0m.7-.2h0m2.9 .7h0m3.4-1.3h0m-8.1 3.5h0m15.3 .1h0m-22.7 5.1h0m2.4-2.3h0m39.5-.1h0m-43.3 3.9h0m10.9 0h0m9.6-.8h0m5.1 .3h0m18 .3h0m-26.2 3.1h0m-18 3.6h0m-.7 4.9h0m2.7 2.2h0m21.3-1.1h0m5.1 .4h0m-17.3 2.6h0m4 .5h0m7.7-.5h0m3.6-.6h0m1.4 1.2h0m-26.6 1.1h0m24 2.3h0m.4-1.8h0m-13.5 4h0m1.2-.8h0m6.5 .3h0m2.4-.8h0m-12.2 3.1h0m28.1 0h0m-25.8 4.7h0m-6 2.5h0m1.3-1.1h0m16.1-.4h0m1.3 .5h0m-11.6 4.3h0m2.4 1.8h0m10.6 2.2h0" stroke="#9b22ee" stroke-width="1.5" stroke-linecap="square" fill="none"/>
<path d="M325.3 22.1h0m-8 3.6h0m1.3-.9h0m6.5 1.6h0m1.9-.6h0m-18.5 2.4h0m5.2 .1h0m2.1-.1h0m1.9 1.2h0m15.6-.5h0m.8-.2h0m-21.1 2h0m-8.6 4.4h0m4.9-1.1h0m6.3 1.9h0m2.1-1.9h0m2.7 .4h0m.3 1.5h0m3.2-.7h0m1.7-1.8h0m-23.6 5h0m1.5-2.2h0m7.2 0h0m2.2 0h0m3.4 2.3h0m2-2.1h0m10.1 1.4h0m11.8 .7h0m-42.5 2.8h0m20.5-1.3h0m1.6-.1h0m5.6-.2h0m10.9-.4h0m1.5 .5h0m.5 .2h0m-28.1 2.4h0m3 0h0m5.3 2h0m4.5 0h0m13.8-1.9h0m-30.5 3.1h0m10.4 .8h0m3.8 1.1h0m14.4 0h0m1.6-1.2h0m-42.1 3.1h0m4.1-.7h0m5.9 1.9h0m14.5-.2h0m2.1 .2h0m9.4 .4h0m.1-.8h0m1.2-.4h0m-36.3 4h0m.3-2.3h0m9.6-.1h0m3.4 .5h0m.5 .4h0m2.3 1.5h0m16 0h0m-35.6 .3h0m1.4 1.6h0m.7 .6h0m2.6-.7h0m3.5-.4h0m8-.2h0m.6-.1h0m2.8 .1h0m-21.2 2.6h0m5.7 .3h0m2.8 1.6h0m-12.8 1.9h0m2.5 1.4h0m8-.6h0m1.5-.5h0m12.5 0h0m17.4 .2h0m-19.4 2h0m19.7-.2h0m-43.7 3.6h0m6.7 1.1h0m7.9-1.2h0m1.6 1.6h0m1.2-2.4h0m.6 .7h0m-12.5 4.1h0m34.5 .4h0m-42.7 .6h0m24.6 1.2h0m16 .5h0m2.5-.9h0m-38.5 3.9h0m12.4-1.7h0m4.2 2.1h0m18.5-.3h0m-42.9 3.3h0m3.7-1h0m4.3-.5h0m9.1-.2h0m3.1 1.2h0m-12.6 2.2h0m2.3 1.8h0m4.4-1.7h0m1.8-.1h0m-12.8 3.9h0m11.3-1.8h0m8.6 .1h0m19.3 .8h0m.6-.1h0m-38.7 4.9h0m6.8-.3h0m-5.3 1.3h0m2.4 1.1h0m4.3-.3h0m3.5 0h0m3.7-.3h0m-22.4 3.6h0m.6-.6h0m9.8 1h0m5.7-1.8h0m1.1 1.6h0m-17.2 1.8h0m5.3 1.7h0m19.3-.1h0m-14.1 1.1h0m11.4 1.6h0m4.3-1.3h0m15.2 .3h0m-41.9 3.7h0m10.7-.1h0m2.2-1.4h0m13.5 1h0m9.1-1.1h0m4.2 1.8h0m-32.2 .9h0m7.8 2.6h0m.7-.8h0m18.7 .7h0m5.9 0h0m2-1.8h0m-11.3 2.6h0m-30 4.6h0m3.8 .4h0m8.4 .2h0m9.6-.2h0m6.9 .5h0m-26.6 2.5h0m5.1-1.5h0m.4 .1h0m4.1 1.8h0m15.5-2.4h0m-22.6 4.3h0m10.1 1.1h0m6.7-.5h0m-17.6 2.4h0m1.4 .5h0m1.1 .8h0m19-.3h0m-13.5 3.2h0m7.4-2.3h0m9.6 1.9h0m-8.8 1h0m7.5 .3h0m1.8 0h0m-11.5 3.1h0" stroke="#1414f5" stroke-width="1.5" stroke-linecap="square" fill="none"/>
<path d="M330.5 24h0m-8.7 1.5h0m1 1.5h0m-12.8 2.8h0m6.8-.3h0m5.6-.8h0m9.4-.3h0m4.1 1.4h0m2.2-1.1h0m-29.9 1.6h0m.8 1.5h0m6.4 1.1h0m13.3-.1h0m5.7 .1h0m2.8-2.3h0m-34.4 3.9h0m1 .9h0m3.6-.8h0m1.7-.8h0m4.7-.2h0m6.6 0h0m1 2.2h0m17.6-2.6h0m-39.6 5.7h0m2.1-.3h0m7.2-1.2h0m.5 .9h0m7.5-1.3h0m3.1-.8h0m6.8 1.5h0m2.4 .7h0m5-1.1h0m-27.2 3.3h0m5.4-1.1h0m6.4 .4h0m-19.9 3h0m4.7 1.4h0m5.9 0h0m1.6 .5h0m1.5-.4h0m2.8-1.6h0m.1 1.3h0m3.6 .3h0m5.9-.4h0m.6-.3h0m3.5-1.1h0m3.5 2.1h0m-34.1 1.4h0m3.6-.8h0m.8 2.2h0m.1-.3h0m7.7-.7h0m22.1-1.5h0m-39.6 4h0m14.2-.8h0m3.1 1.4h0m7.2-.9h0m.7 0h0m7.4 .1h0m-33.4 3h0m5.7 .1h0m1.3 1.1h0m4.3-.1h0m11.4-1.5h0m1.4 1.1h0m11.9-.7h0m-35.2 4.3h0m10.4-.3h0m27.1-.7h0m1.9 1.3h0m-43.5 2.5h0m2.2-.6h0m8.6-1.1h0m8.2 1.1h0m-19.6 4.4h0m7.7-1h0m7.1-.2h0m2.2-1.2h0m.2 1.8h0m4.4-.3h0m-1.7 2.3h0m-22 2h0m5.6 .2h0m6.5 .4h0m3.1 2.3h0m1.7-1.3h0m2 1.2h0m-20.9 1.8h0m3 .1h0m37.1 .9h0m.5 .2h0m1.3-2.8h0m-43.7 4.3h0m3.3 1h0m17.4 .2h0m-20.6 .8h0m5.6 2.3h0m17.4-1.6h0m-18.4 3.9h0m3.4 .5h0m29.1-.1h0m-29.9 3h0m-6.1 3.2h0m2.5 .1h0m-3.2 2.8h0m15.1-.9h0m1.5-.7h0m23.5-.2h0m-48 5.3h0m11.9-2.3h0m15.8 1.1h0m15.6 .9h0m-40.7 2.8h0m1.8-.1h0m2.2-1.1h0m.4 1.3h0m6.8-2.3h0m4 .1h0m5.3 .3h0m-22.8 3.4h0m8.1-.1h0m19.5-.3h0m-20.7 4.4h0m20.5-.7h0m-25.6 2.8h0m.4-.8h0m10.2 2h0m8.1-1.1h0m3.1 .4h0m-19.1 2.2h0m25.8-.9h0m7.4 1.6h0m3.5-.3h0m-24.6 3.4h0m8.7 .9h0m11.4-2.1h0m2 .8h0m-25.8 2.8h0m17.9 1.8h0m-12.8 1.8h0m10.6-1h0m-18.5 4.7h0m7 2.7h0m5.4 3.2h0m4.9-1.6h0m-16.4 2.5h0m.1 .8h0m2.9-.9h0" stroke="#f51414" stroke-width="1.5" stroke-linecap="square" fill="none"/>
<path d="M314 22.7h0m13.4 1.3h0m4.5 2.8h0m1.7-1.3h0m-27.1 4.1h0m9.6-1.9h0m-6 3.6h0m8.2-1h0m-6.6 4.9h0m8.4 .6h0m11.8-.4h0m3.9-.5h0m.1-1.9h0m-30 5.3h0m11.6-.3h0m19.1-1.1h0m-30.9 4.9h0m2.5-1.4h0m10.5 1.5h0m3.8-1.9h0m-25.4 3.4h0m18.2 2.9h0m5.4 .8h0m-17.4 2.4h0m7.9-.4h0m4.3 1.5h0m4.9-2.2h0m-23.1 5h0m.3-.4h0m20.9-.4h0m5.9-1.5h0m-35.1 5.2h0m4.9-.6h0m2.7-.1h0m.4 .2h0m4.4 .5h0m31.7-1.4h0m-40.9 4.9h0m1.3-1.5h0m8.7 1.5h0m2.3-1.2h0m-16.9 4.2h0m.7-.6h0m14.7-.5h0m6-1.1h0m-25.5 4.5h0m6.2-1h0m18.7 1h0m18.4-1.4h0m-22.5 5.1h0m-17.7 2.8h0m-3.5 .7h0m16 1.7h0m-16.2 3.1h0m7.6-.1h0m-9.3 1.3h0m.6 2.2h0m10.8 2.4h0m2.5-1.4h0m6.8 .6h0m-19.2 2h0m14.1 1.6h0m-13.2 3.7h0m35-1.1h0m.9 .1h0m-24.8 3.5h0m24.6 2.3h0m-34.5 3.3h0m11.4-1.5h0m3.7 1.2h0m17.6 0h0m-40.4 4.5h0m5.3-2.2h0m4.9 .4h0m25.6 1.2h0m-30.6 3h0m1.3-.7h0m18.9 0h0m1.2 3.8h0m4.3-1.6h0m-26.5 3h0m17.6 .8h0m-16.5 2.9h0m29.1 .6h0m4-.5h0m-29.9 1.7h0m-1.7 3.3h0m.1 2.3h0m1.4-.3h0m-6.6 1.9h0m1.9 1.2h0m18.3 1.8h0m13.5 0h0m-30 5.2h0" stroke="#19e619" stroke-width="1.5" stroke-linecap="square" fill="none"/>
<path d="M319.5 22.4h0m3.6 4h0m-10.6 .6h0m12.4 1.9h0m2.1-1.5h0m-10.1 3.5h0m16.8 .3h0m-8.3 2.9h0m1.6 .7h0m2 .8h0m.3-2.4h0m7 1.5h0m1 4.3h0m-34.1 .4h0m17.7 1.2h0m3.7 .3h0m14.2-1.3h0m.8 2.1h0m-37.8 2h0m8.6-1h0m19.3-.3h0m4.5 .8h0m1-.5h0m-15.5 3.9h0m6.3 0h0m6.3-.5h0m.1 1.6h0m-40.2 3.2h0m.7-.4h0m16.8-2.4h0m.4 1.7h0m4.2 .1h0m3.2 .2h0m-19.5 2.2h0m2.2 4.4h0m1.9-.1h0m8.4 .2h0m1.6-2.3h0m-23.3 7.6h0m1.5-.4h0m1.2 1.9h0m-7.6 2.5h0m11.3 1.5h0m.2-1.1h0m31.3 .9h0m-40.4 3.8h0m8.3-2.1h0m8 .2h0m3.2 .2h0m-9.9 4.4h0m-13.4 3h0m1.6 .2h0m20.7 1.9h0m-24.4 3.1h0m17.6-1h0m0 1.7h0m-19.6 2.1h0m17.9 1.4h0m23.5 0h0m-36.4 4.3h0m15.9 1.5h0m.8 2.9h0m3.5 .1h0m-13.7 2.6h0m8.5 .7h0m15.8-1.4h0m-24.4 3.2h0m-13.2 3.9h0m8.5 .6h0m6.2 .2h0m12-.1h0m8.8-1.7h0m6.7 .8h0m-29.4 2.4h0m11.8-.4h0m5.5 1.2h0m10.2-1.6h0m-33.2 3.3h0m5.2 1.8h0m4.5 0h0m12-1.6h0m1-.8h0m6.6 2.1h0m-34.9 2.9h0m4.9-.7h0m10.3-.1h0m7.2 0h0m12 1.5h0m-30.8 .1h0m1.8 3h0m1.8 2h0m8.5-.2h0m3.8-1.7h0m7.6 .6h0m-24.7 4.2h0m.6-.7h0m7.8 1.3h0m8.2-2.5h0m-9.5 4.1h0m1.1 .9h0m-6.5 1.6h0m1.4-.4h0m2.4 .4h0m17.2-.3h0m-20.9 2.7h0" stroke="#9b22ee" stroke-width="1.5" stroke-linecap="square" fill="none"/>
<path d="M322.3 23.7h0m-11.9 2.8h0m4.4-1.7h0m3.6-.7h0m1.7 .7h0m8.9-.7h0m3.1 .4h0m-20.5 4.7h0m.4 .7h0m.4-.7h0m8.9-1.5h0m.6 1.2h0m11.4-.6h0m-24.7 1.7h0m8.2 1.3h0m4.7-.6h0m14.9 .5h0m-27.6 2.7h0m4.6 1.3h0m7.3-2h0m1 2.7h0m7.8-2.6h0m-1 5.4h0m-25.8 .9h0m2.1 1.1h0m4.8 .3h0m12-1.4h0m4 2.3h0m3.4-1.3h0m-32.8 4h0m18.3-1.2h0m15.6 .2h0m-32 3.3h0m12.7-1.1h0m.9-.6h0m6.6 2h0m11.3-.7h0m-36.3 3.2h0m4.4-1.6h0m2.1 1.9h0m11.4 0h0m.5-1.3h0m5.4 1.4h0m1.9-1.2h0m2.6-.2h0m-27.5 3.1h0m.3-.4h0m3.5-.1h0m11.7 1.9h0m.1-1.7h0m24.2-.5h0m-41.9 4.3h0m14.4-.5h0m2.4 .8h0m-14.3 2.3h0m1.4-.7h0m-3.7 3.5h0m9.2 1.5h0m6.4 0h0m22.3-1.3h0m-44.6 3h0m4.7 .1h0m10.5-.4h0m26.2 2.1h0m-41.6 1.8h0m2.8 1.3h0m6.3-1.4h0m8.7 0h0m3.8 .4h0m-14.2 2.2h0m11.3 1.5h0m2.4-1.3h0m20.2 .5h0m-40.7 2.9h0m2 0h0m6.9 .1h0m7.7-.1h0m2.9-.1h0m-17 3.3h0m3.3-1.2h0m6.9-.5h0m2.4 1.5h0m22.8-.9h0m-37.5 2.7h0m.2 1.2h0m1.1 .4h0m1.3 .5h0m7.6-1.7h0m7.2-.3h0m-24.9 5.2h0m10.1-.9h0m12.5 .4h0m17.7 .7h0m.2-2.4h0m.4 2.4h0m1.9-2.2h0m.3 1.9h0m1.9-1.6h0m-47.4 2.1h0m19.7 1.8h0m26-1.3h0m-45.1 2.7h0m9.8 1.8h0m30.7-1.5h0m-39.5 2.7h0m7.3 1.8h0m.9-1.4h0m33.2-.5h0m-45.2 4.8h0m1.6 .5h0m6.2-.1h0m7.2-2.1h0m1.2 1.9h0m5.3-.2h0m5.6-.4h0m19.9-.5h0m-42.8 4.1h0m2.6 .2h0m7.4-1.5h0m7.2 1.1h0m2.9 .7h0m3.7-.2h0m-17 .9h0m3.8 .3h0m28.8 .9h0m.2 .4h0m.8 .1h0m-42 2.6h0m4.9-.3h0m7.9 0h0m13.9-.5h0m2.2 .6h0m13.1 .1h0m-41.7 1.9h0m11.3 2.5h0m4.2-1.1h0m13.7-1.8h0m-29.6 3.5h0m10.4-.5h0m2 2.2h0m.9 .3h0m3.4-.2h0m2.2-2.2h0m1 .3h0m1.2 .3h0m1.8 .3h0m4.7 1.5h0m-26 .8h0m6 1.2h0m1.5-1.4h0m14.8-.2h0m-13.8 3h0m7.4 1.2h0m-14.3 4.7h0m4.9-1.6h0m.2-.7h0m19.1 .5h0m-6.7 3.8h0m.7 1.1h0m-14.8 5.6h0m14.1-.1h0m10.8-2.2h0m-25.2 4h0m3.1 .1h0m2.1-.7h0" stroke="#1414f5" stroke-width="1.5" stroke-linecap="square" fill="none"/>
<path d="M318.3 23.9h0m-5.5 1.1h0m5.1-.3h0m4.2 2.2h0m-2.7 3h0m7.2-1.8h0m8.1 1.4h0m2-.3h0m.5-.7h0m-28.3 3.2h0m19 .2h0m1.6 .9h0m1.1-.8h0m-29.9 4h0m11.6-.5h0m18.9-.9h0m2.2-.7h0m-31.4 3.4h0m4.8 1.2h0m3.8-.9h0m25.5-1.5h0m-21.4 4h0m8 1h0m5.1 .4h0m.8-1h0m-29.4 2.7h0m22.6-.5h0m10.2 2.2h0m1.6-2.9h0m1.6 2.6h0m2-1.5h0m-40 4h0m6.4-1.5h0m5.9 1.7h0m1.2-1.8h0m18.8 2h0m3.9-.7h0m.6 .6h0m-34.1 1h0m7.9 .1h0m1.2 1.9h0m4.2-2.2h0m1.8 1.6h0m16.3 .8h0m3.6-1.8h0m-30.2 3.9h0m4.3 .5h0m-12.6 3.3h0m12.9 .2h0m20.2-2.6h0m1.2 1.8h0m2.5-.9h0m-42.1 2.5h0m4 .3h0m3.6-.1h0m.7 .9h0m2.5 .6h0m28.1 .6h0m-39.3 1.2h0m2 .6h0m-4.8 2.5h0m2.5-.6h0m2.1 1.9h0m37.5-2.2h0m-46.2 5.4h0m2.5-.1h0m3.2-2h0m4.2 2h0m6.7 .4h0m.2-2.6h0m6.2 2.4h0m.9-1.2h0m-14.4 3.7h0m8.5 .6h0m2.9-.4h0m.4-2.1h0m-22.8 3.7h0m9.3 0h0m9.1 1.7h0m-18.3 2.6h0m12.9 .6h0m1.9-1.7h0m7.1 .7h0m-25.9 3.5h0m3.3 .5h0m6.7-2.8h0m1.1 .1h0m13.1 1.8h0m19.2-1.7h0m-38.7 4.6h0m4.3-.8h0m2 .3h0m9.3-1.1h0m4.4 1.5h0m-22.1 2.5h0m10.4 1.7h0m1.2-2.8h0m-17.2 3h0m1.4 .1h0m.2 1.4h0m3.8 1.3h0m36.3-.5h0m5.5 .4h0m-46.3 .1h0m4.8 1.6h0m1.4-.8h0m15.2 1.2h0m-18.9 3.9h0m11.8-1.6h0m-10.7 2.1h0m33.4 1.7h0m-29.9 3.3h0m2-.1h0m1.6 .6h0m5.1-2.5h0m1.2 2.2h0m2.4-1.7h0m6.7 1.8h0m6 .1h0m6.5-.3h0m.5-2h0m2.4 .9h0m-32.6 1.7h0m3.1 .3h0m1.1 0h0m22.1 2.1h0m-33.9 1.6h0m9.9-.4h0m12.9 .6h0m2.3-.4h0m3-.7h0m8.9 2h0m-34.5 3.1h0m2.6-2.3h0m6.7 .2h0m2.1 2.7h0m3.6-1.4h0m4.3 .8h0m8.2-.8h0m1.2-.5h0m-7 3.3h0m-19.1 4.4h0m-3.6 1.5h0m9 .9h0m22.1-1.6h0m-23.1 6.1h0m7.2 4.8h0m-11.3 2h0" stroke="#f51414" stroke-width="1.5" stroke-linecap="square" fill="none"/>
<path d="M323.4 23.3h0m-12.4 7.6h0m13.9 1h0m15.3 .7h0m-34.2 .5h0m16.1 1.2h0m7-.5h0m11.6 0h0m-38.2 3.8h0m1.3-.3h0m9.1-.2h0m15.9-.3h0m2.5 3.6h0m-31 4.5h0m24-1.2h0m14.8-1.7h0m-44.2 5.5h0m3.5-2h0m1.7 1.1h0m25-1.6h0m4.9 2.2h0m1.3 .6h0m1.2 .2h0m-34.7 2.2h0m2 .4h0m4.3-2.2h0m25.9 .4h0m-28.3 4.1h0m5-1.2h0m5.9 .6h0m15.5 .4h0m-37.4 4.4h0m39 2h0m-39.2 2.8h0m7.2-1.2h0m.7-.6h0m1 1.5h0m4.1 1h0m-8.6 1.4h0m33 1.8h0m-41.6 1.2h0m8 1h0m.9-.3h0m-11.9 2.4h0m5.3 1.6h0m6.4 .4h0m4.8 3.8h0m1 .8h0m-11.7 3.1h0m33 .6h0m-40.2 1.4h0m7.4 .2h0m2.6-.4h0m3.5-.5h0m0 2h0m2.9-.8h0m.8-.4h0m-23.1 2.5h0m4.3 .6h0m3.7 .8h0m13.2-1.4h0m-21.3 3.2h0m12.6 .2h0m1.7-.4h0m11.1 1.5h0m-1.2 1.3h0m-18.9 4.8h0m0 1h0m.7 2.9h0m-3.8 1.7h0m18.4 .7h0m20.5 .1h0m-4.4 2.3h0m-27.8 3h0m20.2 .8h0m4-.5h0m5.7 .5h0m-37 2.2h0m8.6 .6h0m15.9 1.6h0m7.8-.2h0m4.8 1.8h0m-28.8 1.6h0m1.8-.3h0m.4 2.1h0m18-2h0m-24.1 3.2h0m1.2-1h0m11.8 2.5h0m-16 .7h0m.7 .4h0m1.8 .6h0m20.9 6.4h0m0-1.1h0" stroke="#19e619" stroke-width="1.5" stroke-linecap="square" fill="none"/>
<path d="M314.4 26.3h0m.3 .1h0m8.2 .6h0m-11.6 .6h0m2.4 .2h0m7.5 5h0m14.9-2.5h0m-28.2 2.8h0m3.8 .8h0m11.4-.5h0m-8.4 3.5h0m1.7 .7h0m15.8-.9h0m-28 3.4h0m10.4 1.6h0m6.4-.2h0m5.8 .5h0m4.2-1.9h0m7.4 1.8h0m-36.6 1.2h0m6.7 1.4h0m.9-2.2h0m6.3 1.3h0m2.5-.5h0m5.7 1.8h0m16.9-2.8h0m-39.6 5.5h0m5.3-.3h0m7.6-.6h0m.3-.9h0m2.8 1.8h0m2.7-1.1h0m11.3 .7h0m5.2-.5h0m-8.8 4.1h0m5.4-2.1h0m-37.7 5h0m12.9-2.4h0m9.8 1h0m5.3 .5h0m.7-1.8h0m-35.1 5h0m6.5-.1h0m.7 1h0m5.6 0h0m8.3-2.4h0m22.3-.1h0m-33.5 6.8h0m2.5-1.1h0m26.2 2.8h0m-35.8 3h0m7.4 2.5h0m.4-.7h0m2.2 2.8h0m.9 .3h0m-12.2 3.3h0m32.1 .9h0m-40 3.1h0m16.3 2.3h0m22.7-1h0m-30.5 4.1h0m29.6-2.4h0m-42.5 3.4h0m7.5 2h0m-4.2 1h0m41 1.7h0m-28 2.4h0m7.4-.2h0m.1 1.3h0m-13.5 3.5h0m25.9 .7h0m2.8 .8h0m-31.2 4.2h0m.1-1.4h0m32.8 1.3h0m-38.1 4.4h0m.7 1.5h0m1.2-1.9h0m9.7 1.1h0m7.6-1h0m2.2-.8h0m-25.4 3.5h0m3 1.3h0m2.1 .4h0m2.2-1.8h0m15.6 .6h0m-21.3 4.4h0m3.5-2.3h0m.2 0h0m3.2 1.8h0m3.6 .5h0m27.9-2.4h0m-9.5 5.1h0m.8-.8h0m-9.1 3.3h0m1.8-.2h0m-15.1 2.7h0m.6-.3h0m7.9 .6h0m-9 3.6h0m11.2 .8h0m17.4-2.5h0m-23.4 5.4h0m3.4-.9h0m11.4-.5h0" stroke="#9b22ee" stroke-width="1.5" stroke-linecap="square" fill="none"/>
<path d="M309 94.9h0" stroke="#1414f5" stroke-width="1.3" stroke-linecap="square" fill="none"/>
<path d="M305.6 86.2h0" stroke="#f51414" stroke-width="1.3" stroke-linecap="square" fill="none"/>
<path d="M313.4 92.3h0" stroke="#19e619" stroke-width="1.3" stroke-linecap="square" fill="none"/>
<path d="M326.5 58.4h0" stroke="#9b22ee" stroke-width="1.3" stroke-linecap="square" fill="none"/>
<path d="M316.2 79.3h0" stroke="#1414f5" stroke-width="1.3" stroke-linecap="square" fill="none"/>
<path d="M306.2 92.6h0" stroke="#f51414" stroke-width="1.3" stroke-linecap="square" fill="none"/>
<path d="M317.1 70.4h0" stroke="#19e619" stroke-width="1.3" stroke-linecap="square" fill="none"/>
<path d="M314.5 60h0" stroke="#9b22ee" stroke-width="1.3" stroke-linecap="square" fill="none"/>
<path d="M326.6 57.8h0" stroke="#1414f5" stroke-width="1.3" stroke-linecap="square" fill="none"/>
<path d="M326.7 57.4h0" stroke="#f51414" stroke-width="1.3" stroke-linecap="square" fill="none"/>
<path d="M314 89h0" stroke="#19e619" stroke-width="1.3" stroke-linecap="square" fill="none"/>
<path d="M321.6 59.4h0" stroke="#9b22ee" stroke-width="1.3" stroke-linecap="square" fill="none"/>
<path d="M307.6 80h0" stroke="#1414f5" stroke-width="1.3" stroke-linecap="square" fill="none"/>
<path d="M313.2 64.5h0" stroke="#f51414" stroke-width="1.3" stroke-linecap="square" fill="none"/>
<path d="M320.1 77.2h0" stroke="#19e619" stroke-width="1.3" stroke-linecap="square" fill="none"/>
<path d="M313.8 71.4h0" stroke="#9b22ee" stroke-width="1.3" stroke-linecap="square" fill="none"/>
<path d="M318.7 74.6h0" stroke="#1414f5" stroke-width="1.3" stroke-linecap="square" fill="none"/>
<path d="M322.1 72h0" stroke="#f51414" stroke-width="1.3" stroke-linecap="square" fill="none"/>
<path d="M318.3 76.2h0" stroke="#19e619" stroke-width="1.3" stroke-linecap="square" fill="none"/>
<path d="M315.2 90.5h0" stroke="#9b22ee" stroke-width="1.3" stroke-linecap="square" fill="none"/>
<path d="M305.7 91.5h0" stroke="#1414f5" stroke-width="1.3" stroke-linecap="square" fill="none"/>
<path d="M311.7 94.1h0" stroke="#f51414" stroke-width="1.3" stroke-linecap="square" fill="none"/>
<path d="M323.1 63.3h0" stroke="#19e619" stroke-width="1.3" stroke-linecap="square" fill="none"/>
<path d="M317.1 72.3h0" stroke="#9b22ee" stroke-width="1.3" stroke-linecap="square" fill="none"/>
<path d="M307.1 81.1h0" stroke="#1414f5" stroke-width="1.3" stroke-linecap="square" fill="none"/>
<path d="M307.8 75.8h0" stroke="#f51414" stroke-width="1.3" stroke-linecap="square" fill="none"/>
</g>
<g clip-path="url(#cp2)">
<path d="M230.5 43.8h0m9.5 .3h0m17.8 .5h0m-35.2 .7h0m33.4 .2h0m.8 1.5h0m.3-.2h0m-18.1 4h0m16.8-2.1h0m.5 1h0m1.3-.9h0m-24.9 3.8h0m20.1 .7h0m.5-.7h0m.5-.7h0m.8-.3h0m-34.6 3.8h0m3.4-.4h0m9.2 .9h0m.6-1.6h0m21.4 0h0m-3.2 4.2h0m.6 1.3h0m.1-.8h0m-26.5 1.6h0m24.6 2.2h0m.6-.5h0m.1-.4h0m-2.6 2.9h0m-22.2 4h0m2.8-.7h0m17 .3h0m.7-1.2h0m1.1 1.3h0m.7-1.3h0m-30.5 3.7h0m26.6-.6h0m.7 .6h0m.1 1.1h0m.5-1h0m.3 .1h0m0 0h0m1.3-1.4h0m.1 0h0m-4.8 5.1h0m-29.1 2.1h0m7.4-1.4h0m5.3 0h0m16 .1h0m1-.5h0m-26.8 4.7h0m25.1 1.2h0m1.6-2.5h0m1.1 .8h0m-34.5 4h0m11.6-.1h0m.5-1.9h0m2.6 .3h0m16.4 0h0m1.4 2.1h0m-1.9 1.6h0m.1 1.2h0m-34.7 2.9h0m34.1-.5h0m1.1-.2h0m.5 0h0m.1 1.1h0m0-1.2h0m-26.6 2.1h0m4.9 2.1h0m21.3 0h0m.6-.2h0m.1-2.4h0m-22.4 3.7h0m20.3 .7h0m-35.2 1.7h0m32.7 2.4h0m3.2-2.7h0m-20.3 4.3h0m16.7 2.9h0m.2 4.8h0m-2.4 2.1h0m2.4-1.2h0m.4 1.1h0m-.5 2.6h0" stroke="#9edae5" stroke-width="1.1" stroke-linecap="square" fill="none"/>
<path d="M235.6 24.4h0m13.1 1.4h0m.4-.1h0m-4.3 1.4h0m3.8 1.3h0m.4 1.1h0m5.2 0h0m.4-.9h0m-20.7 4.4h0m0-2.6h0m.9 2.2h0m.9 .2h0m2.2-1.4h0m.1 .5h0m.6 .4h0m2.6 .2h0m2.9-2.1h0m5.2 1.5h0m1.9 .3h0m.7-2.1h0m1.2 .7h0m-25.9 4.2h0m2.9-.7h0m.8-.2h0m.4-1h0m2.3 1.3h0m2-1.1h0m.5 2.3h0m2.7-.5h0m1.1 .6h0m.1-.2h0m.7 .2h0m0-1.8h0m.7 1.7h0m.2-1.4h0m1.3 1.4h0m1.4-1.7h0m.4-.2h0m1.9-.4h0m0 1.8h0m2.3-.8h0m1.5-.5h0m1.3 2.1h0m1.5-1.5h0m4.4 1h0m-32.6 .6h0m4 1.6h0m1.5 1.1h0m1-.8h0m.2 .6h0m.4-.1h0m.1 .2h0m.3-2.5h0m5.2 2.2h0m.8-1.2h0m.1 1.6h0m1.9-1h0m.1 .2h0m1.5 .2h0m3.7 .8h0m4.1-.9h0m.1-1.1h0m1.2 1.5h0m8.7 .5h0m-40.1 .2h0m3.6 1.6h0m5.6-.5h0m4.6 .3h0m5.3 1h0m1.1-2.1h0m.8 .9h0m.7 1.1h0m1.7-1.3h0m1 1.3h0m.2-1.6h0m1.3 1h0m.5-1.7h0m1.4 2.8h0m.2-1.1h0m2.6-1.6h0m.1 2h0m.8 .7h0m2.7-1.1h0m3-.7h0m.9 1h0m-36.9 1.5h0m.4 .6h0m1.1-1h0m3 2.2h0m5.7-2.2h0m.7 .6h0m.6 .1h0m1.1 .1h0m.6-.4h0m0 1.5h0m.3-.2h0m.7 1.1h0m.4-.7h0m1.1 .6h0m.9-.1h0m.6-.2h0m2.2-1.7h0m.7 1.5h0m1.9-.9h0m0 .5h0m1.1 0h0m5.3-2h0m2.3 .2h0m1.4 1.1h0m6.5 .6h0m.3-1.8h0m-31.9 5h0m.2-1.1h0m.3 .3h0m.8 0h0m.6-.8h0m2.9 1.6h0m2.1 .2h0m0-.7h0m.9 1.3h0m.7-1.7h0m.5-.2h0m.7 0h0m1.5 1.2h0m2.2-.3h0m3.5-.9h0m.7-.9h0m1.8 .3h0m3.7 1h0m5.1-.2h0m.3-.6h0m.2 .8h0m1.1-1h0m.2 2.1h0m-40.6 1.7h0m2.1 1.1h0m.3-.6h0m.2 .1h0m.5-.4h0m.6 1.1h0m.4 .5h0m.2-.3h0m5.6-.5h0m1.3-1.5h0m.6-.3h0m1.3 .7h0m2.1 0h0m0-.9h0m.2 1.7h0m.4-1.3h0m1.6-.3h0m1.6 .1h0m1.4 .9h0m.8-.8h0m1.7 1.2h0m2.5-.9h0m.2 2.1h0m.9-2.5h0m.5 .3h0m2.7 1.1h0m1.2-.9h0m2.1 .7h0m1.2-.8h0m4-.3h0m0 .7h0m-38.9 3.4h0m.1-.9h0m1.9-.1h0m.3 1.3h0m2.5 .7h0m4.1-1.7h0m.5 1.8h0m3.8-1.9h0m2.5 .5h0m.6-.3h0m.4 .2h0m.2-.7h0m1.2 .3h0m1.6 1h0m.5-1.3h0m3-.3h0m2.1 1.9h0m1.7 .4h0m1.3-.1h0m4.7 .1h0m.4-.8h0m1.4 .9h0m.9-2h0m1.6 2.3h0m-38.7 1.8h0m.1-1.3h0m1.3 .4h0m1.1 2.2h0m1.4-2.3h0m1 1.9h0m.3-1.8h0m.2 1.3h0m.3-1.3h0m2.2 1.2h0m.7 .6h0m.9-1.3h0m2.6 1.3h0m.3-.2h0m1.1 .6h0m1-1.9h0m1.3 1.7h0m.4-1.6h0m.8-1h0m.6-.1h0m2.4 .4h0m.6-.5h0m1.5 .2h0m2.1-.1h0m1.2 .7h0m3.6-.2h0m1.9-.1h0m1.6 2.1h0m.4-1.5h0m2 1.5h0m.7 .1h0m1.8-1.7h0m-41.1 4.2h0m1.3-.3h0m1.9 .2h0m.1-1h0m.5-.7h0m2.2 2h0m1.5-1.1h0m.1-.2h0m1.6-.7h0m.7 .2h0m.5-.2h0m.4-.2h0m.2-.2h0m.4 2.9h0m.2-1.1h0m.3-1h0m1.8-.8h0m5.9 2.8h0m.1 .2h0m19.9 0h0m-40.3 2.8h0m.2-2.3h0m1.7 2.3h0m.8-1.2h0m.4-.9h0m3.4 1h0m1.7-.2h0m.5 .7h0m.6-1.1h0m1.1 1.5h0m.3-2.2h0m3.5-.3h0m.7 .7h0m.8 .5h0m4.4-1.1h0m.6 .9h0m-24.8 4.1h0m6.9 .1h0m2.2-.3h0m.3-.2h0m.6 .4h0m.5 .3h0m3.4-2h0m.8 .1h0m.8 1.8h0m.4-.8h0m.7-1.2h0m1.7 .7h0m.3 1.4h0m.3-.1h0m.1-1.7h0m.3 1.1h0m.3-1h0m4.8-.6h0m-23.7 5.2h0m3.8-1.3h0m1.4-.5h0m1.9 1h0m1.2 .4h0m.2-.2h0m2.5 1.2h0m.8-.7h0m1.6-.9h0m.7-.7h0m2 .1h0m1.2 1.9h0m.3-1.6h0m4.4 .3h0m18.1-1.3h0m-44.6 5.1h0m.1 .6h0m3.5-.8h0m2.2-.8h0m1.8-.6h0m0 2.3h0m.7-.4h0m.6-1.4h0m.5 1.9h0m.8-1.8h0m.5 0h0m1.2 1h0m1.9-1.8h0m.7 2.3h0m1.4-2.4h0m2 .5h0m1.8 1.4h0m.1-.6h0m1.5-.1h0m.2 .3h0m1.8-.7h0m0 .3h0m.3 1.5h0m.6-2.2h0m0 1.7h0m.6-1.7h0m.2-.1h0m.1-.1h0m0 2h0m-23.5 2.1h0m2.7-.3h0m1.1 1.6h0m.9-1.6h0m.9 1.6h0m1.2-1.9h0m0 1.7h0m2.2-1.9h0m3.1 1.1h0m.4 .1h0m.9-1.1h0m1.3 .3h0m2.6 1.7h0m.3-2.1h0m1.4 .8h0m.4-.9h0m.2-.4h0m1.4 .2h0m1.2 1.4h0m.1 .8h0m.1-2.2h0m17.8 .1h0m-40.1 4h0m1.4-1.1h0m2.3 1.4h0m2 .2h0m1.2-1.6h0m.4 1.3h0m1.3-.3h0m0 .6h0m3.1-.5h0m.2-.9h0m4.7-.1h0m.6-.5h0m2.5 2h0m1.3-1.8h0m1.2-.3h0m-22.8 5.7h0m.9-1.6h0m.4-.7h0m2.9 2.2h0m.5-2.5h0m1.4 2.3h0m2.7-1.1h0m.1 1.1h0m.4-1h0m1.3 .9h0m1.7-1.7h0m.2 .1h0m1 1.9h0m.5-2.1h0m3 .9h0m.5 .1h0m1.4-1.4h0m.3 2.1h0m1.2-1.4h0m.5 1.3h0m.5-1.1h0m15 1.1h0m3-.4h0m-40.6 3.4h0m2.9-1.7h0m.1 2.2h0m.4-2.2h0m1.6-.3h0m.4 .5h0m2.4 .6h0m.3-.3h0m1.4-.3h0m.4-.2h0m.3 1.2h0m1.5 .7h0m4.9-1.9h0m1.5 .9h0m2.3-.7h0m1 .3h0m.7 .1h0m14 .5h0m.8-.1h0m1.8-1h0m1.7 1h0m-40.2 4.2h0m.3-2.2h0m1 1.6h0m1.1-.5h0m1 .3h0m1.2 .5h0m.2-1.7h0m.8 1.7h0m.5 .3h0m.1-2.5h0m1 1.6h0m0 .6h0m1-2h0m2.7 1.3h0m3.5-.6h0m.5 .2h0m1 1.8h0m.5-2.5h0m1.1 1.8h0m.5-1.7h0m.2 2.1h0m1-2.2h0m0 1.4h0m1.9 .7h0m16.9 .3h0m-41 2.6h0m2.8-1.7h0m1.4 .2h0m.5-.6h0m.7 2.2h0m.2-2.1h0m.9 1.8h0m2.4-.7h0m.7-1.5h0m2.9 1.2h0m6.2 1h0m1.4-1.1h0m.3 .4h0m1.5-.8h0m.2-.5h0m.4-.1h0m.9 2.5h0m13-.1h0m.1-.5h0m2.4-.7h0m-42.8 2.4h0m1.4 .4h0m6 .4h0m.3-1.5h0m.3 2h0m.8-1h0m1.9 .9h0m6.9-.6h0m.3-1.3h0m1.1 2.5h0m0-1.9h0m2.2 2.1h0m.7-1h0m.6 0h0m2.9-1.1h0m.4 1.4h0m1.1 .7h0m12.7-.5h0m.6-2.2h0m.1 2h0m-40.5 3.3h0m5.6-1h0m.3-1.4h0m.9 2.8h0m1.7-.3h0m.5-1.4h0m1.5 .3h0m.1 .7h0m9.9-.2h0m.7-1.3h0m1.1 .8h0m.3-.6h0m2.6 .7h0m2.2-.8h0m.2 1h0m11.5 1.1h0m.7-1.4h0m1.8-1.3h0m.3 2.4h0m2.9-1.2h0m-45.8 3.7h0m5.9-.7h0m1.5-.7h0m.2 2.2h0m1.9 .2h0m1.3-.8h0m.2-1.9h0m.1 1.8h0m.4-.7h0m.2-.7h0m5.3 1.7h0m.5-.6h0m3 .7h0m.4-2.5h0m.7 1.8h0m1.3 .8h0m.4-.8h0m.5 .3h0m0-.2h0m4.3-1.4h0m16.8-.2h0m-40.1 5.2h0m.2 .4h0m.5-.7h0m.1-2.1h0m1.3 .1h0m.2 2.8h0m3.9-.2h0m1.8-2.4h0m.4 1h0m1.6 1h0m1.1-1.2h0m0 1.2h0m3.2-1.1h0m1.9-.3h0m1.7 1.3h0m.3 .5h0m.5-1.7h0m.1 1.4h0m.3-1.7h0m3.9 1.4h0m.5-1.9h0m.7 1h0m10.6 .2h0m1.4 1.1h0m0-.5h0m.8-1.6h0m.1 2.1h0m-40.8 3.1h0m.4-1.2h0m.3-1.5h0m.4 2.6h0m8-1.2h0m2.6-1.3h0m1.1-.1h0m.3 .1h0m3.1 1.6h0m.3 0h0m.2 0h0m1.7 .4h0m.4-.4h0m1.5-.2h0m2.3-.6h0m1.7 .3h0m12.2 1.3h0m1.6 .4h0m-33.8 1.8h0m.7-1.1h0m1.9 0h0m8.5-.1h0m3.6 1.8h0m1.4-1.3h0m.3 .1h0m1.1-.4h0m2.5 .6h0m6.8-.5h0m2.9 .4h0m4.7-.7h0m2.1 1.3h0m.1 .7h0m-40.8 3.2h0m5.5 .3h0m1.6-.6h0m2-.7h0m.4-.2h0m1 .7h0m1.5 .4h0m1.4 .3h0m0-2.8h0m3.6 .1h0m3.1 0h0m1.4 1.6h0m14.6 .5h0m2.2-.7h0m.3-.4h0m1.3-.6h0m1.1 1.1h0m-40.8 3.6h0m6.6-.7h0m9.1 .3h0m.4-.7h0m6.1 .9h0m18.1-1.1h0m-20 3.1h0m13.7 1.2h0m1.8 .7h0m-32.8 1.4h0m7.8 .3h0m3.5 .7h0m1.9-.6h0m.1-1.1h0m.3-.5h0m.1 1.3h0m.2-1.4h0m1.7 0h0m13.7 1.7h0m-26.6 1.4h0m.8 1h0m7.7 1.4h0m2.1-.2h0m1.3 .6h0m6.4-.6h0m3.5 .1h0m5.5-1h0m2.1-1.4h0m-27.1 3.3h0m16.1 1.9h0m8.6-1h0m.1 .5h0m-20.9 3.1h0m20.9-1.6h0m-21.6 4.5h0m.8 1.1h0m12.3-1.3h0m-17 2.8h0m.9 .5h0" stroke="#e377c2" stroke-width="1.1" stroke-linecap="square" fill="none"/>
<path d="M231.4 26.6h0m2 .4h0m1.1-2.3h0m.1 1.6h0m.9-1h0m.1-1.3h0m.9 2.7h0m.4-2.3h0m.3 2.3h0m.2-1.2h0m.4 .2h0m.3-1.4h0m0 .9h0m1.7 1.7h0m.2-1.8h0m.2 1.8h0m.2-.6h0m.8-2h0m.2-.3h0m.4 2.1h0m.5 .3h0m.6-.1h0m.2-1.6h0m.2 .8h0m.8-1.1h0m0 0h0m.8 .3h0m2.2 2.3h0m-16.3 .4h0m1.9 1.5h0m.6-.4h0m.3-1.3h0m0 0h0m.4 .4h0m.5 1.1h0m.6-1h0m.4 1.5h0m1.2 .5h0m1.2-1.4h0m5.5 .2h0m1 1.5h0m1.2-1.9h0m.6 1.2h0m-21.1 3.1h0m1.9-1.9h0m.6-.3h0m1 0h0m.2 2.1h0m1.1-1.8h0m.2 .4h0m1.1-.4h0m3.2 1.1h0m.6-.8h0m5.1 1.9h0m2-2.3h0m1.2 .7h0m3.4 0h0m-22.8 3.1h0m.1-.4h0m1.4 .2h0m.1-.7h0m.9 2.6h0m.7-2.7h0m3.9 2.7h0m.9-2.4h0m.2 1.1h0m2.8-1.5h0m2 1.6h0m1.9 .2h0m-16.4 1.6h0m.6 .8h0m1.9 .5h0m.8 .6h0m.1-.3h0m1.5 .7h0m0-.7h0m6.6-1.8h0m1.6-.3h0m.9 .1h0m-16.5 5h0m.8-.8h0m.5 .6h0m.1-1.5h0m.2 .5h0m.4 .1h0m1 1.5h0m1.6-.9h0m1.1-1.1h0m1.9 2.2h0m-6.9 1.1h0m.4-.6h0m.4 .7h0m.2 .3h0m0 .8h0m.3-1.7h0m1 2.1h0m.4 .2h0m15.6-1.1h0m-23.5 4.1h0m.6 .1h0m.7-.2h0m.8-.6h0m.2-1.3h0m.3-.4h0m.2 0h0m1.5 2h0m.5 .7h0m0-1.4h0m.6-.4h0m1.8 1h0m2-1.5h0m.7-.5h0m6.2 1.7h0m-18.4 3.7h0m2.9-.8h0m.9-.6h0m1.1-.9h0m.2 2.8h0m2.4-2.8h0m6.3 2.2h0m4.8-.6h0m6.6-.6h0m-24.8 3h0m.3-.4h0m.7 1.2h0m1.1-.7h0m.1 .5h0m1-1.5h0m4.1 .2h0m1 1.3h0m2.9 .5h0m15.8-2h0m7.3 2.3h0m-38.5 3.3h0m1.4-1.7h0m.3-.8h0m.5 .4h0m2.2 .2h0m.4 1.7h0m.7-.6h0m.1-.6h0m1.9-1h0m.9-.1h0m2.6 2.4h0m7.3-1.3h0m12.1-.9h0m5.1-.5h0m3 2.1h0m2.6 .6h0m-43.2 2.8h0m.8-.5h0m0-.7h0m1-.6h0m.5-.1h0m.3 .3h0m.6 1.4h0m1.1-.2h0m.7 0h0m2.5-1.3h0m1.3 1.9h0m17.2-1.8h0m16.3-.4h0m-43.7 5.4h0m.9-2h0m1.3 1.1h0m0-1.7h0m2.8 2h0m.3 0h0m3.6-.1h0m.7-.7h0m.4-1h0m3.9 1.7h0m-15.9 3.6h0m.9-.3h0m1.5-.4h0m0-1.6h0m.1 .9h0m.1 1.3h0m3-.2h0m.7-1.1h0m6.1-.6h0m7.7-.8h0m4.7 .3h0m2.1 .7h0m16.7 .4h0m-44.6 3.8h0m.4 .3h0m1-1.9h0m.2 2.1h0m.1-1.2h0m.1 .3h0m.5-1h0m1.3-.3h0m.1 .2h0m0 1.8h0m.2 .1h0m.5-.2h0m.4-.4h0m3.1-1h0m.6-.2h0m.4 .8h0m2.4-.2h0m7.6-1h0m-19.7 3.9h0m.1 .8h0m.7-1.9h0m3.2 .5h0m10.1 .4h0m8.1 .3h0m-23.3 3h0m1.3 .2h0m.4 1h0m0-1.8h0m.5 1.8h0m.1-.2h0m2.2 .3h0m.1-1.8h0m1.1 1.7h0m.1-.5h0m2.3-2.1h0m5.9 .3h0m3.7 1.5h0m.5-1h0m.4 1.9h0m.3-1.6h0m2 .5h0m.1 .4h0m-19.7 2.8h0m.2-.6h0m.5 .8h0m.6 .4h0m.2-1.8h0m.5 2.2h0m1.9-1.7h0m8.8 0h0m7.9 .8h0m-23.8 3.3h0m1.6-2.3h0m2.1 2.8h0m.1 .1h0m1.6-1.6h0m.1-.3h0m.8-.3h0m1.2 .4h0m6.9 .4h0m9.1 .7h0m1.2 .3h0m-26.8 2.7h0m.6 .2h0m1.3-1.4h0m.5 1.6h0m0-1.4h0m.1 0h0m.9 0h0m0-.7h0m1.1-.4h0m19 0h0m19.1 2.3h0m-44 2.7h0m.6 .9h0m1.4-2.4h0m1 .2h0m2 .4h0m.5 .3h0m1.2 .3h0m.3 .9h0m.7 .2h0m2.1-1.9h0m.4 1.4h0m7.8 .5h0m3.4-.5h0m6.6 0h0m-27.7 3.6h0m1.2-.2h0m1-.3h0m3.1-1.6h0m.1 1.1h0m2.2-.6h0m10.6 1.1h0m24.2-2.3h0m-42.7 5.3h0m.7 .3h0m.3-.1h0m0-1h0m1.4 1h0m.7-1.5h0m.3 1.6h0m3.3-1.2h0m3.3 .1h0m0-.3h0m9.2-.9h0m1.2 1.1h0m-21.1 4.2h0m.9-.8h0m.4 .4h0m.3-.6h0m.1-1h0m.6-.6h0m.2 2.3h0m1.5-.4h0m.1-1h0m.4 .1h0m.8 .3h0m.2-1.3h0m14.6 .7h0m3.1 .7h0m2.6-.8h0m-27 3.6h0m1.1-.6h0m1.1 .2h0m.3 .7h0m.9 1.1h0m.8-.8h0m3.2 .9h0m13.1 0h0m.4-.4h0m7.3-1.2h0m-27.5 4.3h0m.9-.2h0m.3-2.2h0m.2 2.1h0m2-.3h0m.6 .2h0m3.2-.5h0m.6 .9h0m5.2-2.3h0m16.2 .8h0m8.5 1.4h0m1-.1h0m.8-.9h0m.1 .1h0m1.2-1h0m-39.3 5.3h0m1.1-1.7h0m1.7-.4h0m.1-.2h0m.9 2.3h0m0-2.2h0m.1 .9h0m2.3 .1h0m1.2-.5h0m1.1 .7h0m2.5 0h0m3.7 0h0m4.2-.4h0m.7 1.3h0m1-1.9h0m5.3 .3h0m4.4-.5h0m3.2 .7h0m3.2-.4h0m.5 .7h0m.6 .4h0m.3 .7h0m.2-.4h0m-39.6 .8h0m.5 .1h0m2.2 .6h0m.7 1.5h0m1.3-.2h0m.2 .1h0m1.1 .2h0m3.4-1.3h0m.9-.7h0m1.4-.4h0m.6 2h0m.2 .9h0m3.3-.8h0m1.1 .1h0m3.9-.4h0m2.6 .8h0m.1-.9h0m1.8-1.6h0m11 2.7h0m1.7-1h0m.2 1h0m-38 .9h0m.5 1.8h0m.1-1.7h0m.7-.3h0m3.5 .8h0m1-1h0m.7 2.1h0m1.7-1h0m2.3 .4h0m.4-.7h0m1.8-.3h0m1.2 .9h0m21.5-1.7h0m1.5 1.2h0m-36.2 4h0m.1-1.4h0m2.3 .7h0m.7 1.2h0m2.5-1.8h0m1.5-.9h0m2.4 .5h0m.5-.2h0m.7 1.7h0m3.9-1h0m.2 1.6h0m1.7-1.5h0m2.1-1h0m2.6 2.7h0m.4-1h0m2-.1h0m12.5-.1h0m.6-.6h0m2.9 .6h0m.7 1h0m-39.2 3h0m.5-.4h0m1.1-.6h0m1.5 .6h0m.1-.6h0m1.3-1.6h0m3.6 .4h0m1.5 1.4h0m0 .6h0m2.5-.5h0m.1-1.6h0m5.8 2.1h0m.2-.8h0m.4 0h0m2.7-1.4h0m2.4 .4h0m0 .3h0m15.4-.6h0m-39.4 2.6h0m.6 1.8h0m1.1 .6h0m.8-1.1h0m.3 1.2h0m.2-.2h0m.3-.5h0m2.4 1h0m3.1-2.8h0m.7 .6h0m2.9 0h0m.1 .4h0m.4 2h0m1.2-.7h0m1.1-1.1h0m5.2 .3h0m1.6-1.3h0m2 1.1h0m1.3-1.2h0m4 1.8h0m2.3-1.5h0m2.2 .8h0m2.6-.3h0m-32.6 3.2h0m5.5-1h0m3.2 .7h0m.1 1.6h0m0-2.3h0m.6 .5h0m1.4 2.3h0m3.8-.9h0m.5-.4h0m.3 1.4h0m3.5-2.3h0m.3 1.8h0m5.3-2.2h0m1.8 1.1h0m2.4-.3h0m-29.6 2.1h0m2.6 2.4h0m1.7-1.3h0m2.9-.8h0m.4 .5h0m4.2-.3h0m3.5 .5h0m2.6-.5h0m3.3-.5h0m4.3 2h0m-23.5 1.2h0m.6 2.5h0m.8-2.4h0m.4 2.4h0m3.5-1h0m.9-1.8h0m.4 .7h0m5.9 1.5h0m6.3-.4h0m4.3-.4h0m2.4 1.2h0m-25.6 .8h0m3.1 .5h0m1.5-.9h0m2.4 2.7h0m1.8-.4h0m.7 0h0m.1-.4h0m3.3-.3h0m2.6 .1h0m1.4 .9h0m2.6-.8h0m1.4-1h0m3.3-.2h0m-22 2.7h0m.1 1.2h0m.6-.2h0m1.9-.8h0m1.1 1.7h0" stroke="#98df8a" stroke-width="1.1" stroke-linecap="square" fill="none"/>
<path d="M256.1 50.3h0m-1.8 3.7h0m-2.6 5.5h0m-6.1 9.2h0m1 1.2h0m-5.7 12h0m.1 3.8h0m-33 2.9h0m2.9-1.4h0m0 1h0m1.2-.4h0m-4.8 4.5h0m.7-1.4h0m.1 .1h0m.2 0h0m0 .1h0m0 1.3h0m.6-1.8h0m.2 1.2h0m.4-1.5h0m1.1 2.2h0m.5-.5h0m.2-1.1h0m.3 1.4h0m.6-1.2h0m-4.8 4.8h0m.6-1.3h0m2.6-1.2h0m.2-.3h0m0 1.1h0m.2-1.1h0m.5 1.2h0m.2 .1h0m1.9-1h0m-6.1 4.1h0m.5-.4h0m1.9-1h0m.1 1.4h0m.4 0h0m-1.5 1.8h0m2.8 .9h0" stroke="#c7c7c7" stroke-width="1.1" stroke-linecap="square" fill="none"/>
<path d="M242.6 29.7h0m5.3-2.2h0m7.3 2h0m-12.4 2.1h0m7.9 0h0m4.2-1.4h0m-25.1 3.3h0m9 1.7h0m9.8-.3h0m4.8 .1h0m5.1 .2h0m.8 .6h0m.1-.3h0m-37.4 3.1h0m1.6 .1h0m5.9-2.4h0m.5 .2h0m2.3 .4h0m2.9 1.6h0m2.1-1.6h0m1.7 .5h0m3.5 .3h0m7.8-1.1h0m2.2 .4h0m.8 .3h0m.8 .2h0m4 1.4h0m-32.3 1.1h0m3 .2h0m0 .4h0m5.1 .5h0m2.9-1.7h0m2.4 .2h0m3 1.5h0m2.3 .5h0m1-.2h0m1.5-.2h0m1.9-.9h0m6.6-.5h0m-30.3 3.8h0m10.3 .2h0m5.9 .7h0m10.7-.2h0m-27.9 1.8h0m1.2 1.2h0m3.1-.1h0m4.6-1.1h0m1.5 1.7h0m10.2-.2h0m.1-2.3h0m1.1 .7h0m13.7 .1h0m-34.1 4.8h0m8.3-1.6h0m8.9-.2h0m1.5 1.9h0m.3-.5h0m.8-1.8h0m.8 2.2h0m1.3-1.3h0m.6 1.4h0m0-1.6h0m.2-.5h0m.2 .7h0m1.3-.6h0m1.8-.9h0m2.9 .7h0m-40.8 3.4h0m18.3-1h0m.9 1.1h0m.1 .6h0m10.9 .2h0m5.4-1.6h0m-38.7 4.6h0m3.2-.1h0m2.9-.2h0m4.7-1.7h0m5.2 2.1h0m3-1.8h0m3 .7h0m4.4-.7h0m7.4-.3h0m.2 1h0m6.1 1.4h0m-41.1 .8h0m9.6 1.5h0m6.6-.3h0m1.3 .2h0m23.3-.6h0m-31.1 4.3h0m.9-1.7h0m8.9 .1h0m.1 1h0m-22 3.2h0m.8-1.5h0m16.8 1.6h0m3.4-1.7h0m-23.8 5.4h0m7.1-.2h0m6.3-2.2h0m.6 .2h0m.4 .9h0m8.5-.6h0m-15.2 4.6h0m11.7 0h0m-20.9 2.8h0m.1 .2h0m7-.5h0m.4-.1h0m12-1h0m2 1.3h0m.5-.6h0m1.7-1h0m-25.5 5.3h0m7.9-2.1h0m.7 .3h0m-5.2 3.6h0m3.6 .7h0m16.1 .4h0m-23.9 .7h0m5.4 2h0m2-1.9h0m17.4 .4h0m-28.9 4h0m8.9 .2h0m3.2-.9h0m3.4-1.1h0m.4 .5h0m2.1 1.2h0m8.2-1.3h0m-5.1 2.5h0m1.3 .1h0m5.2 2.4h0m-22.6 1.6h0m3.1 .1h0m11.3-1.3h0m21.2 1h0m-.8 2.9h0m-34.9 3.9h0m33.4 1.1h0m-24.5 .5h0m11.6 2h0m.1 .5h0m2.3-2.5h0m-15.7 3.9h0m6.4-1.3h0m16.2 1.1h0m-34.8 2.4h0m9.4 5.2h0m2.6 1.9h0m11.4 2.6h0m-7.3 3h0m2.3-1.1h0m14.9 .4h0m-.9 5h0m1 .1h0m-27.1 .5h0m6.2 1h0m5.2 1h0m6.3 .3h0m-12.4 2.5h0m8.7-.4h0m4.8-1.2h0m9.4-.3h0m.1 1.3h0" stroke="#dbdb8d" stroke-width="1.1" stroke-linecap="square" fill="none"/>
<path d="M251.1 26.1h0m2.1 3.5h0m-11.7 2.1h0m4.9-1.1h0m1.7 .3h0m1.7-.7h0m0 2.1h0m1-.8h0m1.6 1.3h0m-10.1 .3h0m7.7 1.8h0m1.6-.3h0m.1 1.4h0m1.7-.9h0m.7-2.1h0m5.4 2.8h0m-16.2 .5h0m2.7 .2h0m7.7-.3h0m-11 5.4h0m.4 .1h0m1.2-1.3h0m3.4 1.6h0m.6-.8h0m1.6-1.2h0m6.2-.3h0m.8 .3h0m.2 .6h0m-15.6 3.4h0m2.2 0h0m4.6-2h0m11.7 2.4h0m-17.6 6.1h0m7.9-1.1h0m-8 2.2h0m-18 48.1h0m-17.7 5h0m6.9-.8h0m6 .5h0m1.6-2.2h0m1.7 2.2h0m.1-.9h0m.1-1.1h0m1.2 .8h0m.1 .6h0m1.3 1h0m.2-2.2h0m.2 2.3h0m2.9-.2h0m.7-.3h0m.6-.9h0m.4 .9h0m.1-1.6h0m-31.1 2.3h0m5.4 .1h0m.7 .6h0m2.5 2.2h0m1.4-2.1h0m2.4 1h0m2.4-.5h0m5.7-.9h0m1.6 2.3h0m1.3-1.7h0m1.1 .1h0m1.8-.2h0m.4 .2h0m2 1.7h0m1-2.4h0m2.9 1.5h0m-28.9 1.6h0m3.3 1.4h0m2.6-1.2h0m2.7 .5h0m.2-.3h0m0 1.2h0m2.7-.7h0m.9-1.3h0m2.5 2h0m2-1.1h0m1.1 .6h0m2.2-1.6h0m.5 .6h0m2.7 .9h0m.6 1.2h0m1.8-2.5h0m.7 1.4h0m-27.9 3.8h0m.8-.4h0m1.5-1.4h0m7.6 1.1h0m.5 .2h0m.6 .2h0m3.3-.2h0m4.4 0h0m2.6-1.4h0m2.4-.4h0m2.3 2.2h0m-25.5 1.7h0m.7-.7h0m.8-.3h0m1.1 1h0m2.1 1.8h0m7.3-1.9h0m3.1-.9h0m2 1.7h0m2.7 .8h0m1.2-1.4h0m1.4 .6h0m1-.3h0m1.4-.1h0m.3-.6h0m.1 1.3h0m1.6-.6h0m2.2-.8h0m-27.9 2.6h0m.9 2.3h0m3.9-1.5h0m.8 .8h0m1.2-.5h0m.4 .3h0m14.3-.9h0m.3 .1h0m1.2-.1h0m1.3 1.4h0m-21 2.5h0m2.7-1h0m9.4 1.6h0m2.8-2.1h0m-13.3 3.4h0m1.2 .3h0m5.4-.6h0m2.6 .8h0m13.5 4.2h0" stroke="#1f77b4" stroke-width="1.1" stroke-linecap="square" fill="none"/>
<path d="M246.5 28.3h0m-14.1 7.5h0m7.9-1.1h0m14.2-1.6h0m1.7 2.1h0m.8-1.5h0m.2 1.1h0m-11.9 2.7h0m.5-.3h0m3.3 .6h0m.6-1.3h0m1.8 .7h0m2.6 1.1h0m-12.4 1.1h0m1.1 2h0m.6-1.7h0m1.2 2.1h0m1.3-2.2h0m1.4 1.3h0m3.9-.9h0m2 1.4h0m7.7-.3h0m-12.1 2.2h0m1.5 .5h0m1.8 .2h0m1.5 .6h0m6.2-1.4h0m-28.4 2.8h0m8.4 .1h0m2.7 1.7h0m7.1-.2h0m2.9-1.8h0m.8-.8h0m0 .8h0m3.8 .7h0m1.4-.6h0m-33.2 3h0m4.6-.4h0m5.5 1h0m2.7-.7h0m11.6 1.6h0m-23.9 1.5h0m4 1.5h0m2.9-.5h0m2.7 1h0m-12.9 .4h0m26.2 2.5h0m-32.2 2.7h0m13.9-1.1h0m-15.7 2.5h0m11.8-.1h0m4.3 2.4h0m-19.9 5.3h0m17.4 .1h0m-11.5 2.4h0m5.6-.8h0m-3.2 2.2h0m-14.4 5.3h0m8.1 .2h0m11.4-1.3h0m-11.1 5.6h0m4.8 1.3h0m-5.4 2.2h0m4.3-1.6h0m7.6 1h0m-18.1 4.4h0m-5.7 3.5h0m17.4-2.5h0m.2 1h0m2.9 0h0m.4 0h0m-18.4 4.7h0m2.5 2.8h0m28.8-.2h0m-30.8 1.5h0m33.2-.8h0m1.7 .6h0m-2.5 3.9h0m.6-1.3h0m1.1 .9h0m-24.1 6.1h0m-2.1 4h0m18.7 1.5h0m-15.3 4.6h0m.2 0h0m6.1 1.1h0m-17.8 3.7h0m3.7 1.3h0m7.8-2.5h0m15.1 .8h0" stroke="#8c564b" stroke-width="1.1" stroke-linecap="square" fill="none"/>
</g>
<g clip-path="url(#cp2)"><path d="M238.4 55.3h0m-2.1 3.2h0m5.5-.6h0m-7.2 4.7h0m4.2-1.2h0m1.6-1.1h0m6.2 1.3h0m-12.9 4.1h0m8.4-2h0m.4 .3h0m3.9 .9h0m-10 2.4h0m1.7 .8h0m-5.6 1h0m2.5 .8h0m1.6 2.1h0m6.9 .1h0m-11.8 4.3h0m1.5 1.1h0m6.7-.1h0m1.5-1.9h0m-2 5h0m-11.6 2.1h0m5-1.3h0m.4 1.9h0m.9-1.3h0m-7.4 2.8h0m7.2 .5h0m-.8 8.5h0m-3.7 8h0" stroke="#9edae5" stroke-width="0.9" stroke-linecap="square" fill="none"/></g>
<g clip-path="url(#cp4)">
<path d="M395.7 21.4h0m17 2.4h0m-22.1 2.7h0m8.7-.2h0m3.5-2.3h0m.8 .1h0m10.7 .8h0m2 1.1h0m-25.2 3.3h0m7.5-.8h0m.2 1.5h0m11.2-1.3h0m8 1h0m.2-2.1h0m-17.6 4.3h0m1.8-1.5h0m2.2 .8h0m1.1 .4h0m5.8-1h0m3.2 .1h0m1.5 .3h0m3-.2h0m1 .5h0m-34.9 2.4h0m1.8 1.1h0m4-.8h0m9.3-.6h0m.5 1.9h0m10.8-.2h0m0 0h0m.1-1.3h0m.5-.7h0m.6 1.3h0m.6-.8h0m6.1 1.3h0m2.8 .1h0m.6 .4h0m0 .5h0m-41 1.3h0m5-.5h0m2.5 1.8h0m7.6-.9h0m9.6-1.5h0m6.2 .9h0m3.5 1.3h0m.5 .5h0m-21.6 3h0m5.4-1h0m.8-.9h0m1.6 .3h0m11.6 1.5h0m-25.7 3.2h0m4.1-.8h0m6.1 0h0m7.7 .3h0m.6-.8h0m12.5 1.1h0m-29 1.5h0m4.1-.3h0m1.3 .7h0m4-1h0m6.4-.4h0m.2 1.8h0m3.2-.1h0m1.6-.8h0m3.2 .9h0m-41.9 3.8h0m7.4-1.3h0m5.3-.9h0m9.6 .7h0m9.8-.2h0m0 .2h0m3.8-.7h0m.9 .5h0m.1 .8h0m-35.9 3.2h0m6.2-.4h0m.1-.4h0m2.4 .6h0m.1-.9h0m1.1-1h0m2.2 .3h0m7.5 .1h0m.2 1.5h0m9.6-.3h0m1.2-1.3h0m.4 1.6h0m6.6 .2h0m-32 2.6h0m.8 .4h0m7.8-1.5h0m-19 3.5h0m8.1-.1h0m4.9-.1h0m6-.9h0m-21.4 3.8h0m3.6-.7h0m0 .1h0m15.4 1.8h0m4.2-2h0m-23.4 3.1h0m6.9 0h0m3.5 2.8h0m5-1h0m.8-1.4h0m-17.6 5.2h0m1-1h0m14.1 3.1h0m1.2-.6h0m1.7 1.1h0m.7-2h0m.4 2.1h0m-20.4 3.5h0m.4-2.1h0m5.4 .6h0m4.1 .3h0m1.2 .3h0m-13.8 1.9h0m3.4-.4h0m1.6 2.4h0m.5-2.4h0m3.9-.3h0m6.5-.1h0m3.4 .4h0m1.5 .1h0m-22.6 2.8h0m7.7 .8h0m4.4 .5h0m.4 .5h0m10.3 .4h0m.8-2.2h0m18.6-.2h0m-44.2 3.8h0m10.5 1.9h0m7.9-.4h0m2.8-2.4h0m1.9 .1h0m1.9 .6h0m19-.2h0m-42.4 5h0m10.2-1.8h0m2.3-.2h0m8 1.5h0m1-.6h0m-24.3 4.2h0m2 0h0m9.2 .2h0m.5-.3h0m31.7-1.8h0m-37.7 3.6h0m20.9 .2h0m14.3-1.4h0m.4 2h0m-41.6 2h0m6.3-.6h0m1 2h0m1.4-2h0m1 .5h0m3.1 1.4h0m6.5-.4h0m4.6 .5h0m.9-1h0m16.6 1.1h0m-35 .8h0m19.2 1.1h0m0-.5h0m3.2-.9h0m-24.6 5h0m13.4-1.9h0m2.9 2.3h0m-20.2 .6h0m23.8 .3h0m-18.9 2.5h0m11.6 1.3h0m1.8 .9h0m6.3-.4h0m-11.1 3h0m0 1h0m5-1.9h0m.8 1.6h0m-16.1 2.1h0m1.2-1.1h0m12 1.4h0m4.8-.7h0m-4.4 2.7h0m18.1 .7h0m-31.3 4.2h0m.4-.9h0m5.3 .6h0m7.3-1.4h0m-13.7 2.2h0m3.3 1.5h0m24.6 1h0m-11.1 2.5h0m-4.6 2.2h0m.7-1h0m4.9 2.1h0" stroke="#dbdb8d" stroke-width="1.7" stroke-linecap="square" fill="none"/>
<path d="M399.1 23.2h0m1.5 .7h0m13.2 0h0m-21.7 2.3h0m5.6-.6h0m.2-.5h0m2.6 0h0m3.5 .3h0m.2 .9h0m5.5-2.1h0m1.2 2.8h0m3.8-1.2h0m1.1 .2h0m-27.4 2.8h0m6.1 .7h0m2.8 .4h0m1.1-.5h0m.4-1.3h0m1.1 1.1h0m1.2-2h0m1 1.3h0m.5 .4h0m1.8 0h0m1.5-.7h0m.1 1.6h0m2.3-1.3h0m3.3 0h0m1.5 .2h0m2.3-1.5h0m.6 .6h0m3.6 1.3h0m-29.3 3.1h0m3.5 .3h0m2.4-1.6h0m.4 2h0m.4-1.3h0m.2-.6h0m1.4 1.2h0m2.2-.8h0m.5-.5h0m.1-.4h0m.2-.3h0m2.9 1.1h0m7.3 .4h0m.8 .2h0m1-.8h0m.6-.8h0m-25.3 2.7h0m1 2.9h0m.7-.7h0m.7 .4h0m1.6-.2h0m2.1-2.2h0m1.3 .8h0m2.6-.2h0m.2 .7h0m.3-1.4h0m2.4 1.5h0m.8 .5h0m1-1.2h0m2.1 .9h0m1.6-.6h0m.5 .8h0m.6-.1h0m1.2-.7h0m2.2 .8h0m2.8-1h0m3.9-.9h0m.2 2.7h0m3.6-2.7h0m-36.9 5.4h0m3.2-2.1h0m1.8 .6h0m.3 .1h0m1.8-.7h0m1.2 1.3h0m3.2 .3h0m0-.1h0m2.8-.7h0m.9 .7h0m.5 .8h0m7.4 0h0m.9-.4h0m1.4-1.7h0m2.4 2.4h0m4.7-2.6h0m2.2 1.4h0m1.9-1.5h0m-34 5.1h0m.3-.7h0m6.3-1.1h0m.8 2h0m.5 .3h0m.1-1h0m.4-.6h0m1.8-.1h0m1.4-.3h0m.4 1.1h0m1.9-1.4h0m5.2 .6h0m5.7-1h0m.1 1.8h0m4.7 .3h0m.2-2.2h0m.8 .8h0m4.2 .8h0m-45 3.3h0m4-1.1h0m2.3 1.3h0m2.3-2.2h0m1.3 1.7h0m4.5 1.1h0m2.3-.7h0m1.4 .1h0m.6-2.1h0m0-.1h0m2 2.6h0m.4-1.5h0m.8-.4h0m3.6 1.8h0m1.1-1.4h0m.6-.9h0m4.6 1.4h0m6.3-1.4h0m.3 .5h0m2.9 .6h0m.1 .3h0m.2-.6h0m-38.1 2.3h0m.7 1.4h0m1.2-.2h0m1.6 1.5h0m2.2-1.9h0m1.4 0h0m.3 1.8h0m.2-1.3h0m5.1-.3h0m2.8-1.2h0m2 2.5h0m2.9-.5h0m.1 .3h0m.5 0h0m8-.7h0m.6-1.1h0m.1-.3h0m2.9 2.2h0m.4-1.5h0m.8 1.6h0m.5-.1h0m-42.8 2.1h0m2.7 .3h0m.8 .3h0m1.8-1.7h0m6 0h0m.1 .5h0m.9 1.2h0m1.4-.9h0m1 .4h0m.9 .8h0m1.1-.7h0m3.2-1h0m.3-.2h0m.9 .5h0m4.2 1.1h0m1.1 .5h0m.4-1.1h0m.6 .7h0m.4-.9h0m.3-.5h0m.6 1.8h0m.6-.3h0m.1-1.5h0m2 1.1h0m1.3-.4h0m1 1.2h0m2.3-.6h0m2.5-.1h0m-39.1 2.8h0m9.2 0h0m1.5-1.5h0m.5 1.6h0m2.4-1.4h0m1.5 1.3h0m1.1 .6h0m.1-.8h0m1.8-.3h0m.2-1.4h0m.8 1.2h0m1.7-.6h0m.8 .4h0m.2 1.4h0m.5-2.4h0m5.1 1.2h0m6.2-.6h0m.2 2.1h0m.7-.4h0m.3-.9h0m.7 .8h0m.5 .7h0m.5-2.1h0m2.3 .9h0m-32.5 1.8h0m.8 .4h0m.2-.7h0m3 .1h0m.3 2.3h0m3 .1h0m.2-2.5h0m1.9 .2h0m.5 .9h0m.4 .1h0m.3-.7h0m.3 1.8h0m.6-2h0m.2 1.4h0m2.3-.3h0m17.8-1.5h0m1.1 2.4h0m.6-1.9h0m-44.9 5h0m4.2-1.4h0m2.5 1h0m.2 .6h0m2.6 0h0m1.8-2.2h0m0-.2h0m.7 2.2h0m.1 .4h0m.4-2.8h0m.9 1.6h0m1.3 .3h0m.1-.2h0m.1-.5h0m0-.2h0m.4-.4h0m1.3-.1h0m.4-.1h0m1.9 .9h0m0-.7h0m1.4 .8h0m2.6-.1h0m.8 .4h0m20.2-1.8h0m-38.2 5.5h0m.9-1.1h0m3.3 .1h0m.2 1h0m.7-.3h0m.3-.6h0m1.5-1h0m.1-.4h0m.9 1.8h0m2.5-1.6h0m.5 .6h0m.1 .9h0m1.8-1h0m.4 .5h0m.2 .8h0m2.1-.3h0m.5-1.7h0m-21 3.4h0m3.2 1.6h0m1.1 .2h0m2.9-.1h0m1.2-.8h0m.2-1.5h0m1.2 2.5h0m.3-.5h0m3.5-.8h0m.1-1h0m3.1 .8h0m1.2 .8h0m.1 .8h0m.7-1.8h0m3.1 .7h0m.1-.2h0m0-1.3h0m-18.5 4.4h0m.4-1.3h0m2.3 1h0m2.2 1.3h0m.9-.8h0m.1-1.7h0m1.5 .3h0m.1 1h0m2.1-1h0m4.2 2.6h0m.2-1.5h0m.7-1h0m1.1 1.7h0m.6-1.1h0m.3 1.8h0m.3 .1h0m.6-.6h0m-26.4 1.5h0m3.7 .8h0m3.8 .8h0m.6-1.1h0m1.3 .3h0m1.8 .6h0m.1-.1h0m2.6-.6h0m.8 .6h0m.4 .7h0m.2-1.7h0m1.4 0h0m.7 1h0m.7-1.6h0m-19.8 3.6h0m5.5 1.2h0m2.4-1.2h0m.6-.3h0m3.3-.6h0m.8 .5h0m3.5 1.6h0m.1 .3h0m.3-1.8h0m1.8 .4h0m.1-1.1h0m1.1 1.1h0m.1-1h0m1.1 2.3h0m.3-2.5h0m1.3 1.9h0m.4-.6h0m.5-1h0m1.3 .1h0m0 2.4h0m18-.3h0m-41.5 1.6h0m4.2 .8h0m1.4 .2h0m.8 .5h0m5.3-.3h0m.3 0h0m2.2-2h0m3.4 2.3h0m.4-2.5h0m.9 2.9h0m1.2-1.4h0m.2-1.2h0m.4 1.3h0m2.5 .1h0m0-1.2h0m1 .8h0m-19.6 4.4h0m1.5-.5h0m5.6 .6h0m.1-.6h0m1.3-1.1h0m.5 1.2h0m3-1.2h0m.7 .9h0m1.5-2h0m.1 2.4h0m.6 .1h0m.6 .1h0m1.9-1.4h0m17.8-1.3h0m-42.9 4h0m5.5-.7h0m1.5 2.4h0m.1-1.7h0m2.4 1.1h0m1.1 .5h0m2.1-.7h0m.2-1.5h0m3.4-.2h0m2.2 1.2h0m.7-1.1h0m.6 1.3h0m.2 .8h0m2-2.2h0m1.9 1.1h0m1.6-1.2h0m-22.5 4.9h0m2.5 .1h0m.3 .9h0m.9-.3h0m7.7-1.7h0m1.2 .6h0m0 .6h0m5.3-.1h0m.1-.5h0m.9-.9h0m.8 .9h0m.2-1.2h0m.1-.2h0m.3 .8h0m1.2 .3h0m.6 1.3h0m.1-.9h0m14.7 .6h0m.7-2h0m-37.9 5.1h0m1.3-1.2h0m1.6 1.2h0m.7 .3h0m.9 .2h0m.4-2.5h0m1 2.5h0m7.2-.5h0m1.3-.7h0m.2 .6h0m.3-2h0m.5 2.5h0m.7-2.2h0m.8 2.4h0m.5-1.4h0m.2 1.2h0m.8-.6h0m2.6-.9h0m1.4 .3h0m14.5-1.3h0m.7 2.2h0m-39.4 2.5h0m3.1-1.5h0m1.7-.2h0m.5 2h0m.1-1h0m.4 1.3h0m.7-2.3h0m1.5 2.4h0m.1-2.4h0m9.4 1.8h0m2.7-.1h0m0 .1h0m.1-1.2h0m1.6 1.6h0m1-.6h0m.7-1.8h0m13.6 2.9h0m2.7-2.7h0m-44.4 4.3h0m2.6-1.2h0m.6 0h0m3.3 1.3h0m1-.8h0m.3 1.6h0m.6-.3h0m2.4 .8h0m1.3-.9h0m.3-1.5h0m0 .9h0m.4-.1h0m0-1h0m7.8-.1h0m2.7 1.9h0m.2-.8h0m.9-1h0m.7 2.3h0m.1-.4h0m.5-1.1h0m.7-.7h0m.9 2.3h0m.3-2.8h0m.7 2h0m0-.1h0m.2-.3h0m.1-1.5h0m.3 .9h0m13.8-.2h0m-42.5 2.9h0m3.3-.1h0m.4 1.3h0m2-.1h0m.1-.1h0m5-1h0m3.4 .3h0m0-.2h0m1.4 1.9h0m5.7 .2h0m.2-1.7h0m2.3 .2h0m.1-.2h0m.5-.2h0m.1 1.6h0m0-1.4h0m0-1.2h0m.7 1h0m.2 1.4h0m.2-1h0m1.3-1.2h0m1.5 .4h0m1.6 1.3h0m10.8 .2h0m1.8-1.3h0m-36.9 4.9h0m2-1.6h0m.7-.5h0m1.3 0h0m1.4-.1h0m3.7 1.7h0m0 0h0m.6-2h0m.6 2.3h0m1.9-.6h0m.8 .9h0m.6 .2h0m1.7-1.6h0m1.6-.9h0m0-.1h0m0 .1h0m3.3 1.3h0m0 0h0m1.9-1.4h0m1.3 2.3h0m9.5-.4h0m6.4-1.7h0m.1 .7h0m-38.4 4h0m.4-1.6h0m3 1h0m3.9-1.5h0m.5 1.7h0m2.5 .2h0m7.6-1.5h0m0 .4h0m2.5 .4h0m6.9 1.6h0m1.8-2.1h0m4.4-.7h0m.2 2.8h0m-36.8 .6h0m5 1h0m2.4-1.3h0m.5 .7h0m3.3 .2h0m12.5-.2h0m.1 .5h0m17.4-1.3h0m-42.1 4.5h0m.1 .6h0m3.3 0h0m6.1-1.7h0m4.2 2.4h0m1.1-1.1h0m1.2-1.8h0m1.9 1.5h0m2.5-1.1h0m1.9 2.4h0m.9-2.4h0m.9-.2h0m1.1 1.4h0m1.1-1h0m4.7 1.2h0m3.6-1.3h0m-31.1 3.1h0m12 .7h0m1.2 .1h0m2.2-.6h0m3.9 1.6h0m15.6 0h0m-27.7 1.4h0m1.2 .3h0m4.6-1h0m.5 .9h0m1.1-.8h0m3.8 1.2h0m7.2-.7h0m4.9 1.8h0m.2-.5h0m2.4 .1h0m-27.8 2h0m4.6 1.6h0m5.3-1.1h0m15.4 1h0m-26 1h0m5.7 .1h0m1.4 1.6h0m.3-.5h0m.2-1.7h0m0 2.3h0m1.1-1.9h0m5.8 2h0m-14.1 1.2h0m2.7-.6h0m4.8 .3h0m3.4 .1h0m5.2 .6h0m8.7-.1h0m1.8 .5h0m-8.8 1.5h0" stroke="#e377c2" stroke-width="1.7" stroke-linecap="square" fill="none"/>
<path d="M396.4 21h0m.6 .8h0m.8 1.5h0m.2-2.2h0m1 2.8h0m1.8-.9h0m1.5 .1h0m.1-1.8h0m0 1.9h0m.8-.9h0m0 .9h0m1-.6h0m0-1.1h0m.3-.1h0m2.9 2.2h0m4-.3h0m-19.3 3.3h0m.5-1.3h0m.1 .8h0m.7-2.1h0m1.1 .5h0m.2 .8h0m1.7-.9h0m.3 2.5h0m1.3-1h0m.8 .6h0m.2-2.3h0m3.5 .3h0m.3 2h0m2-.9h0m2.2 .3h0m4.4-1.3h0m-24.6 5.2h0m.5-.8h0m.8 .6h0m.3 .3h0m2.2-2.1h0m0 1.7h0m0 .3h0m.9-2.8h0m1.2 .6h0m.6 1.4h0m.8-1.9h0m.1 .7h0m.7-.4h0m.2 1.9h0m.7-2h0m1.8 1h0m.7-.7h0m.8 .1h0m1.4 .1h0m1 1.2h0m2.5-1.8h0m1.9 1.5h0m1.6-.9h0m.3-.7h0m-22.9 5h0m.3-.2h0m.8-.4h0m.7 .5h0m1.7-1h0m.7 1.3h0m.7-.6h0m.1 .5h0m.7-1.7h0m.4 .2h0m.2 .9h0m1.8-1.1h0m-7.9 4.6h0m1.2-.5h0m.6 .9h0m.2-.1h0m.5-.8h0m2-1.4h0m1.3 1.3h0m.2 .3h0m1.2 .5h0m-10.9 1.4h0m.7 1h0m.9-.3h0m.5 0h0m4 1.5h0m6.9-1h0m3.8-1.5h0m.7 2.4h0m-17.8 1.5h0m.4-.1h0m.1-.5h0m.2 1.9h0m.4-.6h0m1.3-1.5h0m.4 1.3h0m1.5-.4h0m.4-.8h0m0 0h0m.8 0h0m1.5 1.6h0m1.3-.7h0m2.6-.3h0m7.3 1.6h0m0-2.1h0m-22.2 4.5h0m2.2-.8h0m.1-.4h0m.8 .3h0m.4-.3h0m.3 .8h0m1.1-1.1h0m.6-.4h0m.5 1.6h0m.2-.8h0m2.9-1h0m2 .5h0m-12.2 4.5h0m1-.5h0m1.4-.5h0m.6 .8h0m.5-.9h0m.5 .5h0m4.7 1h0m1.9-.4h0m9.1-1.5h0m-23.1 4.9h0m1.7 .5h0m.2-1.6h0m.9-.9h0m.4 .8h0m0-.9h0m.6 1h0m.1 1.4h0m.4-.7h0m1.7-.1h0m1.1-1.8h0m.4-.2h0m1.4 1.3h0m3.9 .2h0m1 .6h0m.2-1.9h0m2.6 .2h0m10.2 1.9h0m.8-1.2h0m-29.2 3.4h0m.6-.9h0m.1-.4h0m0 .4h0m1.3 .7h0m.4 .1h0m.1-.9h0m1.3 1.5h0m1.2 .6h0m.2-1.4h0m2.1 1.6h0m.1-1.3h0m0-.2h0m.1 .4h0m.9-.5h0m1.4-.1h0m1 1h0m10.1-1.8h0m1.3-.2h0m8.8 .9h0m9.9 .1h0m-42.5 2.9h0m0 .5h0m.1 .9h0m.9-2.1h0m1.8 1.1h0m.6-.1h0m.2-1.3h0m.2 1.6h0m.1-.7h0m1.3 1.4h0m.5 0h0m0-1.8h0m.8 .7h0m.7 1.2h0m.2-1.8h0m2 .2h0m1.2 .8h0m.3 1h0m3.7-.8h0m5.3 .1h0m-21.6 2.6h0m.9 .7h0m.7-.7h0m.8-.9h0m1.6 2.2h0m3.1-2.4h0m1.6 1.5h0m7.6 0h0m-17.9 3.5h0m.5-2h0m1.6 1.6h0m.2-1.4h0m.3 .3h0m.4 .9h0m1-1.3h0m2 1h0m.1-.6h0m1.1 .7h0m.3-1.1h0m2.9 2h0m-11.9 1.7h0m.1 1.6h0m.4-.1h0m.6-.1h0m1.1-1h0m2.2-.4h0m2.2 .2h0m6.9 .8h0m-14.6 2.1h0m.7 1.4h0m1.2-.1h0m.1-1.7h0m4.1-.6h0m4.9 2.2h0m11.1 .3h0m1.3-.4h0m-23.5 3.6h0m.8-1h0m1.1-1.8h0m1.4 2.4h0m2.4-1.6h0m4 .4h0m12.2 0h0m-23.1 1.6h0m1.4 .1h0m2.9 .3h0m1.1 1.5h0m5.8 0h0m1.9 .9h0m4.3-2.2h0m2.6 .8h0m4.7 .2h0m-25.7 3.2h0m.6-1.8h0m.2 .2h0m1.7 1.3h0m1.4-.3h0m2.1-.8h0m.6 .1h0m.6 .7h0m0-.8h0m.8 .8h0m.6-.6h0m15.5 1.9h0m-27.5 3.3h0m.5-.5h0m.6 .6h0m.9-2h0m1.2 .6h0m-4.1 3.3h0m.7 .9h0m1.6-.7h0m.7 .7h0m.6-1.7h0m.1 1.7h0m0-1.3h0m.8-1.2h0m2.4 2.6h0m1.1-2.6h0m4.4 .3h0m1.1 .3h0m1-.7h0m2.1 .8h0m10.6-.5h0m-27.6 4.1h0m.1-.2h0m0 1.6h0m0-1.3h0m.7 .6h0m1.7-2h0m.2 2.5h0m2.2-2.1h0m.7 .5h0m.2 1.7h0m11.7-2.1h0m2.5-.3h0m23.6 0h0m.2 1.3h0m-44.5 3.4h0m0 .6h0m.2 .2h0m.5-1.7h0m3.1 .9h0m.9-.7h0m.5 .9h0m.1 .5h0m.3-2h0m1 1.4h0m16.5 .7h0m.5-.6h0m-23.8 3.3h0m.4-1.4h0m1.5 .3h0m.4 1.4h0m1.7-.4h0m4-1.1h0m3.3 1.5h0m.8-1.8h0m1 1.7h0m-13.6 1.1h0m.1 1.2h0m.3-1.6h0m.5 2h0m1.2-1.3h0m.3 1.1h0m.7 .5h0m1.9-1.7h0m.2 .9h0m.9-1.6h0m21.3 .4h0m-27.3 3.2h0m.2 1.2h0m.4 .5h0m.3-1.5h0m.2 .1h0m.2 1.5h0m.3-1.4h0m.9-1.2h0m2-.1h0m1 1.6h0m8.7 .5h0m1.3-.2h0m7.2 .8h0m5.2-1.6h0m11.7 .1h0m2.1 .7h0m-41.7 1.1h0m.2 .6h0m1.6 2.3h0m1-.8h0m.5-.2h0m.4-.7h0m1.3-.3h0m.4 1.4h0m2.4-.9h0m1.7 0h0m1-.1h0m7.4-1.1h0m2.9 1.7h0m6.8-1.8h0m2.1 1.6h0m.8-.4h0m7.4 .7h0m.4-.1h0m.2-.2h0m1 1.1h0m.8 .1h0m.1-1.4h0m.1 1.3h0m.6-1.1h0m.1 .9h0m.2-2.5h0m.4 .4h0m-41.8 3.9h0m2.2-.5h0m.1-.4h0m.6 .4h0m.1 1.2h0m.1 .5h0m1.1-2.1h0m.3 1.6h0m.6-.2h0m.2-1.1h0m.7 .1h0m.8 1.5h0m2-1.6h0m2.6-.1h0m.1 0h0m1.2 1.8h0m1.3-.4h0m2.6-.2h0m3.5 .3h0m3.8-1.3h0m1.2 .1h0m1.8 1h0m14-.2h0m-40.1 3.7h0m.9-1.7h0m1.2 .1h0m.1-.7h0m.2 2.4h0m.7-2h0m.6 1h0m.9 1.2h0m.1-2h0m.6 .8h0m.6-1h0m.8 1.7h0m0-2h0m4.9 2.4h0m.1-.9h0m8.1-1.1h0m.3 1.9h0m19-.5h0m.1 .3h0m-38.6 1.1h0m.5 1.3h0m.5 .3h0m9.3-.5h0m1.5 1h0m.6-1.6h0m.9-.4h0m5 .1h0m17.9 1.4h0m1.1-1h0m.2 1.7h0m.2-2.6h0m-35.9 3.5h0m1.4 1.6h0m.4-.7h0m.2-1.5h0m2.4 .6h0m2.1 .2h0m1.1 1.2h0m1.3 .5h0m1.9-2.6h0m.5 2.3h0m7.2-2.1h0m3.8 1.7h0m10.5 .4h0m1.2-2.2h0m2.4 1.3h0m1.3-1.5h0m-38.5 4.8h0m3.3-.7h0m.4-.8h0m1.8 .7h0m.4 .5h0m.4-.4h0m.3-.6h0m1.8 2.1h0m2.3-1.9h0m0 1.7h0m1.7-.3h0m2.6-.8h0m2.4-.5h0m-16.8 2.8h0m.4 1.2h0m.4-1.7h0m.7 1.8h0m.3-1.9h0m1.2 1.3h0m.6 .3h0m.7 .4h0m1.5-1h0m.4 1.3h0m.5-.7h0m.3 1.2h0m.6-.6h0m.4 .6h0m.6-.8h0m.2 .7h0m.6-1.2h0m.1 .3h0m.8-1.8h0m.6 2.8h0m1.4-.4h0m.9-1.8h0m.3 2.2h0m.4-1.2h0m2.8-.9h0m2.2 .5h0m7.3 .5h0m1.4-.8h0m-26.3 4.1h0m.1-1.2h0m1.7 .5h0m2.1-.9h0m1.1 .9h0m.1-.9h0m.6 1.6h0m0-.4h0m.4-.6h0m1.5 1.1h0m.3-1.9h0m3.5 0h0m1.3-.2h0m1.7 .1h0m1 .3h0m3.1 2.2h0m.4-1.5h0m.1 1.7h0m3.2-.7h0m9.8 .8h0m2.5-1.2h0m-33.9 1.8h0m.2-.3h0m.1 1.8h0m.8-1.5h0m.4 1.1h0m.2-.5h0m3.2 1.6h0m.8-.2h0m.9-1.8h0m1.2 1.3h0m4.5-1.6h0m1.3 1h0m2.5 1.2h0m5.2-2.3h0m3.4 1.3h0m2.6-.9h0m-23.9 3.7h0m.3 .9h0m.1-2.1h0m.1 .8h0m.2-.9h0m1.6 2.4h0m.9-1h0m9.3-.3h0m0 1h0m4.2-.7h0m1.5-1.4h0m10.3 .3h0m-28.5 5.2h0m.1-1.9h0m.1 1h0m1.4-.2h0m1.7 1.5h0m1.8-1.4h0m.7-.4h0m.8 1.7h0m6-2.1h0m-8.1 2.4h0" stroke="#98df8a" stroke-width="1.7" stroke-linecap="square" fill="none"/>
<path d="M411.2 26.6h0m-2.7 1.1h0m1.3 1h0m5.1-.7h0m-19.8 4.9h0m14-2.7h0m9.8 2.5h0m-15.2 2.6h0m6.2-1.5h0m7.5 1.7h0m-28.2 2.3h0m14 0h0m8.9-1.4h0m1.3 .7h0m6.9-.9h0m-11.6 4.2h0m2.9-.8h0m2.8 .5h0m8-.3h0m-26.1 5h0m5.8-2.3h0m7.5-.5h0m6.3 1.9h0m0 .9h0m-10.7 1.4h0m7.2 1.4h0m3.4-.4h0m4.7-2h0m-27.5 5.4h0m.1-1.5h0m4.7 1h0m16.2-.9h0m-5.6 3.7h0m5.1-.5h0m-32.7 3.2h0m1.4-.4h0m4 1.3h0m5.8-.9h0m-16.5 2.3h0m15.3-.1h0m-3.1 2.3h0m-7.7 4.1h0m3.9 3.8h0m-5.2 2.7h0m1.2 7h0m-3.9 1.7h0m1.8 .1h0m5.7 1.4h0m-15.2 1.2h0m.1 1.1h0m6.2 .5h0m3.7-2.1h0m1.5 3.7h0m.6 .6h0m.7-.7h0m2.9 1.4h0m-7.7 2.3h0m4.4 5.4h0m18.8 4.3h0m.1-1.2h0m2.1 1h0m.2-1h0m-32.1 4.1h0m1-.2h0m29.1 .4h0m1.2-.2h0m-35.9 2.6h0m27.8-.6h0m5.5 .8h0m-32.4 .8h0m31.8 1.3h0m.9-.8h0m1 .7h0m-22.3 2h0m20.9 1.2h0m-6.1 2.9h0m-18.2 2.6h0m9.6-1h0m6.7 .7h0m-8.8 2.8h0m4-.3h0" stroke="#8c564b" stroke-width="1.7" stroke-linecap="square" fill="none"/>
<path d="M410 23.8h0m6.8 2.3h0m-12.6 2.8h0m4.2-.1h0m3.8 .3h0m.1-.3h0m.2-.6h0m.9-.4h0m.4 .1h0m1.1 .7h0m1.1 1.1h0m1.3-.3h0m-8.1 3h0m.3 .5h0m5.4-.2h0m-11.2 1.8h0m.5-.4h0m1 .1h0m0-.3h0m.8-.4h0m1 2.5h0m1.4-2.6h0m3.2-.3h0m.5 .9h0m.5-.5h0m1.1 1.1h0m7.6 1.4h0m-13.9 .1h0m2.4 2.4h0m1.5-1.7h0m10.3-.6h0m-9.5 2.9h0m1.4 0h0m0 2.8h0m4.8-2.8h0m3.9 2.8h0m.7-1.7h0m-15 3h0m.8 .9h0m4.2-1.3h0m4.4 0h0m-13.4 3.3h0m4.6 .8h0m.7-.4h0m.1 .6h0m.1-.2h0m1.2-1.9h0m2 .4h0m-9 3.4h0m2.2-.7h0m8.8 .7h0m-47.4 51.5h0m8.8 1h0m10.2-1h0m6.7 .9h0m-27.1 1h0m5.8 1.7h0m5.6 1h0m2.1-2.2h0m2.2 1.2h0m.4 .6h0m1.5-1.6h0m2.1 .9h0m.4 .6h0m.4-.3h0m.3-1.1h0m.5 1.4h0m.6-.1h0m.1-2.2h0m.2 2.7h0m1.5-1.9h0m-25.2 3.7h0m0-1.1h0m13 1.5h0m6.5 .8h0m.6-1.6h0m.5 .4h0m.9 1.2h0m.1-1.8h0m.2 1.2h0m1.1 .7h0m1.9-2.3h0m1.2 .2h0m.5-.3h0m.6 .6h0m1.1 1.4h0m-26.3 1.3h0m.1 .4h0m1.5 .2h0m.7 .8h0m.7-1.7h0m.6 1.6h0m8.8-1.5h0m3.3 2.1h0m2.7-1h0m1.3-.8h0m.4-.4h0m0 .6h0m1.1-.3h0m0 .1h0m.9 .1h0m.7-.6h0m.1 2.5h0m.1-2.8h0m.1 .9h0m.6 1.7h0m1.2-1.5h0m.8-1.1h0m.2 1.8h0m-27.7 3.3h0m1.3-1h0m.3-1h0m1 .6h0m.4-.3h0m.8 .8h0m2.1 .6h0m.2-.2h0m4.1-1.6h0m10.8 1.7h0m1.8-.6h0m3.8-.3h0m1.5 1.3h0m-27.4 1.4h0m4.1 1.6h0m2.8-.2h0m5.3-1h0m.3 1.6h0m2.8-2.6h0m1.7 .3h0m2.4 1.5h0m1.6 .8h0m6.1-2.5h0m-27 5.3h0m7.5-.6h0m3.6-.5h0m9.6-.5h0m.7-.5h0m6.9 .9h0m-26.8 2.7h0m3.5 .3h0m.1-1.2h0m3.1 .6h0m5.3-.3h0m1-.3h0" stroke="#1f77b4" stroke-width="1.7" stroke-linecap="square" fill="none"/>
<path d="M394.8 29h0m6.7 3.8h0m18.1 5.9h0m-27.5 .7h0m2.8 2.2h0m4.6-.9h0m20.5-.1h0m.3 1.3h0m.6-2.1h0m-20 2.8h0m-1.1 3.4h0m19.4-.4h0m-2.8 3.2h0m.1 0h0m1.9-.6h0m-27.3 4h0m24.5-.9h0m-31.4 3.2h0m-1.5 3.7h0m27.7 1.1h0m2.3-1.7h0m-25.1 4.3h0m-14.1 4h0m34.8-.9h0m.1-1.3h0m-34.5 3.2h0m8.2 1.6h0m-.6 3.4h0m1.4-.6h0m-5 2.2h0m.9 1.4h0m28-2.6h0m-26.1 9.7h0m-14.9 3.5h0m1.4 .5h0m7.4-.1h0m29.9 1.1h0m-21.6 1.8h0m17.5 1h0m.8 2.9h0m-33.5 1.6h0m-3.5 2.1h0m33.5 4.3h0m2.5-.8h0m.3 .7h0m-4.2 4.4h0m2.4-2.7h0m1 2.4h0m-3 2.4h0m1.1 1.7h0" stroke="#9edae5" stroke-width="1.7" stroke-linecap="square" fill="none"/>
<path d="M419.5 44.2h0m-.7 2.1h0m-3.8 4.7h0m.4-1.7h0m.7-.1h0m-2 2.8h0m1.2 1h0m0 .2h0m.1-1.9h0m.5 1.4h0m-3.7 3.4h0m1.6 .2h0m.7 .3h0m-2.3 .6h0m.2 1.7h0m.7-1.1h0m.2 .9h0m.3-.8h0m-2.1 4.7h0m.8-1.4h0m-6.1 7.6h0m2-.5h0m.3 0h0m.8-.6h0m.2-.6h0m-2.8 3h0m.2-.1h0m1.2 1.3h0m-3.1 2.9h0m.6-1.9h0m.3 2.5h0m0-1.4h0m.3 .9h0m-2.3 1.4h0m.2 2.1h0m.3-.3h0m.7-1.9h0m-2.4 4.1h0m.2 .8h0m0 .9h0m.2 .4h0m2.4 .8h0m.1-.6h0m-4.6 4h0m.5-1.1h0m2.4 .6h0m.4 .6h0m.3 .9h0m.2-1.6h0m.1 .4h0m.1-1.2h0m-4.1 3.4h0m.3 .1h0m.4 .8h0m.1-.1h0m.1-.3h0m.4 .4h0m.4-.4h0m1.3 0h0m-3.9 4.1h0m1.1-.3h0m.2-.9h0m.1-.6h0m2 .8h0m.4-1h0m-5.1 4.7h0m.2-1.2h0m0-.5h0m.6 2.2h0m.5-2.7h0m1.3 2.2h0m1 0h0m-4 .8h0m1.4 .1h0m.2 .5h0" stroke="#ff7f0e" stroke-width="1.7" stroke-linecap="square" fill="none"/>
<path d="M370.6 86.3h0m2.2 .4h0m1.6-.1h0m-5.9 1.8h0m.9 1.6h0m.1-.8h0m.3 .4h0m1.1-1.1h0m.3-1.3h0m.4 2h0m.9-.7h0m.1 .6h0m-3.8 2.9h0m.8-1.1h0m2.2 1.5h0m.2 .3h0m.2 .2h0m.8-2.2h0m.9 1.6h0m.4-1.6h0m.8 .2h0m-5.8 3.2h0m1.9 1.5h0m.1-2.2h0m.9 2.3h0m1.2-2.3h0m.6 .4h0m0-.6h0m.9 .9h0m-4.6 2.7h0m1.9-.3h0m.4-.2h0m.1 0h0m1.9 0h0m-3.1 3.3h0" stroke="#c7c7c7" stroke-width="1.7" stroke-linecap="square" fill="none"/>
</g>
<g clip-path="url(#cp4)"><path d="M408.5 66h0m1.2-1.8h0m1.4 .1h0m.2-.7h0m-4.5 3.5h0m.7 1.5h0m.4-1h0m-.1 1.8h0m.1 .3h0m.5-.5h0m.4 .1h0m-4.9 5.4h0m1-1.5h0m.3 .7h0m.3-1.1h0m.6 .1h0m0 1.1h0m.8-.4h0m-2.3 2.8h0m1 .1h0m.1 1h0m.2-.8h0m.5-.4h0m.2-.8h0m.1-.4h0m-4.1 5.6h0m1.3-.2h0m.5-1.9h0m.3-.2h0m-1.1 3.4h0m.6 1.8h0m1-.6h0m-3.1 3.5h0m.3-.4h0m1.2-1h0m.3-.4h0m1.4-.7h0m-4.4 3.7h0m1 0h0m.9 1.9h0m.4-2.3h0m.3 1.4h0m.2-1h0m.3 .9h0m-3 3.3h0m.3-.3h0m1-.1h0m-2.6 1.7h0m.3 1.3h0m-.7 3.7h0m.6-2h0m.4 .6h0m.3 .1h0m1.7-.3h0m-1.7 3.7h0" stroke="#ff7f0e" stroke-width="1.7" stroke-linecap="square" fill="none"/></g>
<g clip-path="url(#cp4)"><path d="M401.4 53.2h0m2.4 .2h0m2.4 .5h0m-6.8 1h0m.3 1.7h0m1.1-1.4h0m1.9 .4h0m.6-1.2h0m5.2 2.5h0m-11.1 2.3h0m8.5-1.7h0m-11.7 3.8h0m1.6 .5h0m2-1.2h0m3.4-.1h0m3.7 1h0m-5.7 2.7h0m5.2 1.7h0m-11.9 2.8h0m3.1 .3h0m3-1.8h0m3.5 .7h0m3.9-.4h0m-11.9 3.2h0m.4 .1h0m4.9-.1h0m2 .9h0m1.3 .4h0m.3-.7h0m-13.9 3.3h0m5.4-1.9h0m3.4 .4h0m1.1 1.1h0m1.7-1.9h0m-7.2 5.7h0m-5.6 2.4h0m4.2-1.7h0m4.1-.1h0m-8.3 4.8h0m.8-2.1h0m-1.5 3.5h0m1.8 .7h0m.7 1.4h0m1.7-2.1h0m1.6 .2h0m4.6 1.8h0m-9.4 1.2h0m.7 1.3h0m4.8-2.2h0m.6 1.9h0m1.9 .4h0m-9.4 1.7h0m3.4-.7h0m2.4 2.3h0m.1-2.2h0m-5 4.6h0m1.7-.7h0m.6 1.3h0m-2.1 1.7h0m.6 1.2h0" stroke="#9edae5" stroke-width="1.1" stroke-linecap="square" fill="none"/></g>
<g clip-path="url(#cp5)">
<path d="M67 151.2L65.5 152.5L64.3 153.4L63.6 154.6L63.1 156L62.2 157.1L61.5 157.7L60.5 158.4L59.4 159.8L59.2 161.1L58.6 161.6L57.6 162.8L57.5 164.2L56.5 165.1L55.3 166.3L55 167.7L53.8 168.8L53.3 169.6L52.8 170.7L52.3 172.2L51.6 172.8L50.9 174.2L50.4 175.3L48.9 176.1L48.6 177.8L48.1 178.9L47.6 179.3L46.9 181.1L46.4 181.5L45.8 182.9L44.5 184.2L44.2 185.2L45 187.7L44.4 188.3L44.3 189.5L43 189.7L43.2 191.1L41.5 192.8L42.1 194L42 195.5L41.3 196.9L40.6 198.1L41.1 198.9L39.9 200.6L39.2 201.6L38.4 202.7L38.5 204.5L38.4 205.1L37.2 207.2L37.5 207.1L36.8 208.7L36.4 209.7L36.2 211.4L36.1 213.2L36 213.7L35 215.2L35.8 217L34.9 218.4L35 219L34.9 220.5L34.2 221.7L34.5 223.6L34 224.5L34.2 225.7L33.6 227.4L34.4 228.9L34 230.1L33.9 231.2L33.5 232.3L33.5 233.1L33.4 234.4L33.2 236L33.4 238.1L34.2 239.1L33.9 239.7L33.7 240.8L33.4 242.4L33.5 244.2L33.4 246L33.6 246.8L33.3 248.1L33.5 249.2L34.1 250.7L34.4 251.8L34.3 253.7L34.3 254.3L34.5 255.6L34.5 256.7L35.1 257.9L35.3 259.2L35.8 260.7L36.1 262.2L35.9 263.6L36.7 265L37.2 266L36.6 267.3L37.4 268.4L38.3 269.2L38.7 271.5L38.7 271.9L39.3 273.3L39.5 274.9L38.8 275.9L39.1 276.8L40.1 277.9L39.9 279.4L40.8 280.9L41.3 281.8L41.4 283.3L41.9 284.1L42.9 285.3L42.9 287.2L43.8 287.2L44.1 289.8L45.9 290.2L45.8 291.7L46.2 292L47 293.9L47.2 294.3L47.7 296L48.5 297.3L49.1 298.7L50.5 298.7L51.1 300L52.2 301.1L53.3 301.4L54.7 301.7L56.1 302.7L56.6 303L57.4 303.3L59.8 304.2L60.3 304.8L61.8 305L62.8 305.6L64.5 305.5L66.1 305.2L66.6 304.7L68 305.3L69.2 304.8L69.6 303.5L70.5 302.6L71.7 301.7L72.4 300.8L72.8 300L74 298.3L74.8 297.9L75.5 297.9L77 296.6L77.6 295.5L78.8 294.1L79.4 293.2L80 291.6L80.6 290.8L80.7 288.9L81.5 288.4L82.9 286.9L82.9 286.5L82.9 284.9L83.3 283L83.9 282.2L83.5 281.1L83.2 279.3L83.6 278L84 277.8L83.7 275.8L83.6 274.5L83.3 273.5L83 271.9L82.9 270.8L82.8 269L81.8 268.1L82.1 266.6L82 266.2L81 264.9L80.2 263.2L80.1 262.3L80.4 261L79.1 259.3L78.8 258.5L78.4 256.9L78.1 256.4L77.1 254.4L77.5 253.4L77 252.3L77.1 251L76.7 249.3L77.4 247.8L77 247.6L77.2 245.4L77.5 244.3L76.8 243.6L76.2 242.2L75.1 240.7L75.9 239.3L75.7 238.5L76 236.6L76.1 235.9L76 234.4L75.4 232.4L76.8 231.2L77.3 230.9L77 228.8L77.6 228.1L78.3 226.6L78.4 225.1L78.8 223.9L79.4 223.2L78.8 221.8L79.3 220.8L79.6 219.6L80.7 218.6L80.9 216.7L81.6 215L81.6 214.1L82 212.4L81.8 211.1L83.4 210.4L83.5 209.3L83.7 208.5L83.5 206.8L84.5 205.3L84.3 203.9L84.4 203.5L84.5 201.6L84.6 200.7L85.2 199.3L85.1 198.2L85.2 196.8L86.4 195.2L85.8 193.7L86.5 193.2L86.6 191.5L87.4 190.4L87.4 189L87.9 188.1L87.6 186.3L88.8 184.9L87.8 183.1L88.6 182.7L88.6 180.9L88.9 179.9L88.9 178.9L90.2 177.9L90.7 177.1L91.7 175.7L92.6 174.9L93.6 174.1L94.4 172.6L95.4 172.2L95.6 171.3L96.7 169.5L97 168.2L97.6 166.9L98 165.8L97.6 165.2L98 162.9L98 161.6L98 160.6L97.6 159.6L96.9 158.5L97.8 156.8L96.8 155.9L96.8 154.4L95.6 153.8L95.1 152.4L94.8 152.4L92.3 151.7L91.6 152.1L90.1 152.8L88.7 152.5L87.7 152.4L86.5 152.9L85.5 152.4L84.5 152.2L82.8 152.8L81.3 152.3L79.8 151.6L78.7 151.7L77.5 151.5L76.2 150.9L74.6 150.7L73.6 150.4L72.2 150.1L71.9 148.9L70.4 148.4L69.5 147.5L68.9 148.4L67.9 149.4L67.2 150.7ZM78.2 180.9L79.2 181.6L80.4 181.9L80.8 183L82.4 183.6L83.9 184.5L84.3 185.6L83.8 186.3L85 188.1L84.8 189.8L85.7 190.7L85.3 191.8L84.3 192.6L84.8 193.9L84 195.7L84.1 196.4L83.6 198L83.9 199.5L83.2 201.4L83.6 202.4L83.8 203.4L84 204.5L82.9 205.8L83.2 207.1L82.8 208.7L82.1 210L81.7 211L81 212.1L80.7 213.7L80.8 214.9L80 215.8L79.6 216.9L79.1 218.2L78.7 218.7L78.4 221L77.7 222.7L77.8 223.1L77.9 224.3L78.1 225.6L77.1 227.6L76.7 228.4L75.8 229.6L75.8 231.2L74.6 232.4L74.6 233.2L74.3 233.8L73.4 232.9L72.3 232.4L71.5 231.6L70.6 230.5L71.3 229L69.8 228.5L70.1 226.1L68.9 225.3L68.6 224.4L67.3 223.3L67.1 222.1L66 221.7L65.6 220.7L64.3 219.5L63.6 221.4L63 222.5L62 223.5L61.4 224.1L60.6 225.9L60.6 226.6L60 228.2L59.6 229.6L59.5 230.3L58.9 231.3L58.3 232.8L58.1 234.1L58 235.3L58.2 236.4L57.2 238.7L58 239.5L58.3 241.1L58.3 242.3L58 243.5L57.4 244.6L56 246.4L56.7 244.9L56.8 243.8L56.1 242.5L55.3 241.9L55.5 239.7L55.5 239.3L55 237.9L55.3 236.8L54.9 235.4L55 233.9L54.2 232.4L55.3 230.9L54 229.3L53.8 228.6L53.7 227.6L54 226.1L53.5 224.6L54 223.2L54.3 222.4L54.7 221.7L54.4 219.7L55.7 218.1L55 217.9L56.3 216.1L56.7 214.3L56.3 213.9L57 211.6L57.3 211.4L57.3 209.1L57.3 208.3L58.3 206.9L58.3 205.7L58.4 204.3L59.1 203.2L59.1 201.3L58.8 201L59.3 199.7L58.9 198.3L59.6 196.8L60 195.3L60.4 194.3L61.5 192.8L61.4 191.6L61.9 191L62.7 189.3L63.8 188.6L64.3 187.4L64.7 186.6L65.4 185.2L66.3 184.5L66.9 183.3L67.1 182L68.5 180.9L68.5 180L69.7 178.4L71.3 177.8L72.3 177.8L73.4 178.9L74.5 179L75.7 179.8L77.2 180.1Z" fill="#fff" fill-rule="evenodd" filter="url(#gn2)"/>
<path d="M72.2 300.2L69.2 305L62.5 305.6L55.3 302.6L49.3 298.4L46.9 294.2L43.3 287L40.2 279.7L38.4 271.3L35.4 261.6L34.2 252L33.6 243.8L33.6 231.7L34.8 219.7L37.2 207.6L40.8 198L42.7 192.6L45.7 183L50.5 174.5L55.3 167.3L61.3 157.7L66.2 151.6L69.8 147.4" fill="none" stroke="#8a8a8a" stroke-width="0.6" stroke-opacity="0.7" filter="url(#bl5)"/>
<path d="M73.3 152.8h0m10 0h0m-17.4 1h0m4.9-.3h0m25.5 2.2h0m-33.1 1.6h0m2.5-1h0m2.1 2.4h0m1.9-1.9h0m.1 1.4h0m.7-.6h0m.2-1.4h0m4.1 1.1h0m14.1 1.3h0m.6-1.7h0m.6 .5h0m-28.9 3.6h0m3.4-1h0m3.7-.6h0m5.3 1.9h0m3.6-.1h0m3.4-.1h0m4.9-1.2h0m11.6 1.1h0m-39.9 3.9h0m15.9-2.3h0m13 0h0m10.8 2.1h0m-29.9 .3h0m4.8 2.1h0m5.5-.7h0m6.3-.5h0m3.2 .6h0m1.4 1h0m4.2-.2h0m1.5 .4h0m.5-1.7h0m2.6-.6h0m-42 4.3h0m21.1-.2h0m1.6-1h0m1.2 1.1h0m4.1 1.2h0m6.8-1.7h0m7.1-.9h0m-37.8 5.4h0m5.4-1.6h0m3.6 1.3h0m4.1-.4h0m6.9 .4h0m12.6 .3h0m-40.9 3.3h0m4.8-.7h0m17-1h0m.4 1.6h0m4.5-1.9h0m4.6 .8h0m4.1-.5h0m3.2 1.5h0m-40.6 1.1h0m3.8 .1h0m13.2 .9h0m18.4-1.2h0m-33.8 3h0m.8 1.4h0m2 .8h0m8.8-.5h0m1.4-2.2h0m17.6 2.6h0m-31.3 2.8h0m.4-1.6h0m2 .1h0m.7 1h0m6.6 .2h0m7.1-2.1h0m21.1 2.6h0m-42.5 2.6h0m1.6-.6h0m2.4 .5h0m13.3 .6h0m-11.7 2.1h0m.5 .1h0m9.2-1.3h0m-17.4 5.2h0m1-1.7h0m9.2-.5h0m3.1-.3h0m-13 5.1h0m.7-2.1h0m3.3 .6h0m.7 .9h0m8.5-.5h0m3.5-.2h0m-18.9 3.9h0m.8 .8h0m2.9-2h0m5.7 1.9h0m3.7-1h0m4-1.6h0m-10.9 3.7h0m1.5 1.8h0m-5.8 3.2h0m1-.9h0m3.6 .2h0m4.9-1.7h0m3.6 1.1h0m.5 1h0m-19.1 5.8h0m4.8-.1h0m1.6-1.8h0m9.7 .2h0m.8 1.9h0m-1.3 2.9h0m-16.5 2.7h0m.7 .5h0m.5-2.6h0m9.5 2.4h0m3.2-1.9h0m1.6-.3h0m.4 1.7h0m1.5-.7h0m-19.2 3.5h0m10.7-.9h0m4.5-.5h0m1.7-.3h0m-5 3h0m4.5 1.3h0m14.9-.9h0m-29.2 4.6h0m6.7 .2h0m23.4-1.8h0m-30.9 2.6h0m.6 .9h0m1.5 .7h0m5-.8h0m6.5-.1h0m10.3-.2h0m1.5 1.4h0m.2-.7h0m2.8-.1h0m.6-1.2h0m1.4 2.6h0m-30.6 1.4h0m7.3 .8h0m.4 .5h0m5.9 .2h0m.1-1h0m3.1 1.3h0m1.3-2.8h0m8 .3h0m1.5 2.6h0m.1-1h0m2.8 .7h0m.3-.9h0m.4-1.1h0m-33.3 4.9h0m7.1-1h0m4.4-1.3h0m4.7 1.6h0m2.3-.1h0m.9-.7h0m14.4 .8h0m5.9 1.1h0m-36.5 2.2h0m7.5-1.6h0m2 .8h0m.5 1.4h0m.2-1.5h0m4.6-.7h0m8.4 1.5h0m9-.5h0m-34.8 4.2h0m3-.8h0m1.7-1.9h0m5.4 2.5h0m9.8-2.1h0m8.6 2.4h0m1.2-1.1h0m2.4-.5h0m9.3 1.2h0m-40.8 3.1h0m7.8-.2h0m.4-1.7h0m.5 2.1h0m1.4-.9h0m.4-1.6h0m9.3 .5h0m.5 1.5h0m4.7 .3h0m1.7-1.1h0m3.1-1.4h0m5.3 .6h0m4.4-.3h0m-34.8 3.3h0m2.5 1.9h0m1.7-.9h0m16.9-.8h0m3.3-.1h0m9.9 1.9h0m-34.9 2.3h0m2.8-.4h0m1.3 .5h0m8.3 .8h0m4.1-.9h0m.7 0h0m.4-.4h0m.3-.5h0m2.8 0h0m1 .4h0m15.6-.2h0m.5 1.6h0m-42.2 3.1h0m0-1.3h0m1.9-.2h0m27.2 1.2h0m5.2-.8h0m4.2-1.2h0m2.3 1.5h0m.7-1.7h0m-40 3.9h0m4.9 1.5h0m1.2-1.8h0m1.1-.7h0m1.7 2.6h0m8.5-2.5h0m1.2 1.8h0m.6 .1h0m5.8-1.8h0m1.6 1h0m3.2 .8h0m1-1.8h0m2.1 1.3h0m2.6 .9h0m4-1.9h0m-26.5 4.1h0m2.2-.7h0m2 1.4h0m16.4-1.1h0m3.7 1.2h0m.1-.3h0m1.6-1.8h0m-39.5 2.9h0m3.6 0h0m9.9 .2h0m1.8 0h0m4.5 1.9h0m0-1.9h0m6.5 1.2h0m6.3 1h0m3.5-2h0m6.3-.7h0m-39.7 4.4h0m2.1 .2h0m3.1-1.2h0m1 1h0m.6 1.3h0m6.5-2.3h0m8.3 1h0m2 .1h0m2.9 .1h0m8.8 .9h0m6.3 .1h0m-34.2 1.6h0m2.8-.4h0m2.2 1.9h0m6-2.8h0m6.3 1.4h0m3-.3h0m9.5-.1h0m.5 1h0m-37.1 2.7h0m1.3 1h0m4.7-1.1h0m.5-.3h0m10.2 .8h0m3.1-.5h0m7 .2h0m.4-.1h0m9.3-1.5h0m3.2-.1h0m2.4 1.7h0m1.5-1.4h0m-43 4h0m5.7-.9h0m.3 1.8h0m5.4-.7h0m14-.6h0m3.4-.4h0m.3 .3h0m-25.5 4h0m1.2-.1h0m15.7 .7h0m8.7-1.5h0m7.7 1.1h0m1.4-.3h0m1.2 .4h0m3.9-1.5h0m-41.6 3.7h0m3.5-.3h0m.8 .2h0m4.7 1.5h0m12.4-1.2h0m3.2-1.1h0m6.6 .9h0m1.6-.9h0m-21.9 5.1h0m.4 .2h0m5-.3h0m.4-1.6h0m2.3 0h0m1.3-.9h0m1.4 .1h0m11.1-.1h0m8.5 .7h0m-33.5 3.7h0m15.6-1h0m-5 4.2h0m-11.6 1.8h0m4.5 2.4h0m1.8-1.3h0m.1 1.3h0m.1-2h0m1.4-.5h0m3.3 .3h0m.4 .3h0m3.3-.3h0m11.5 .5h0m-23.2 2.1h0m5 .9h0m5.7-.9h0m14.9 2h0m1-1.7h0m-25.2 4.6h0m2.9 1.1h0m1 1.7h0m.6 .7h0m.3-2h0m11.3 0h0m-8.9 3.4h0m8.6-.6h0" stroke="#e2e2e2" stroke-width="1.0" stroke-linecap="round" fill="none"/>
</g>
<g clip-path="url(#hc_cp5)"><path d="M70.5 177.8L78 180.8L83.6 184.5L85.2 190.2L83.4 199.9L83.8 205L81.4 211.3L79 218.5L77.2 225.7L74.8 234.2L72.2 233L68.6 224.5L64.3 219.7L60.7 225.7L58.3 234.2L57.7 243.8L57.1 246.2L55.9 242.6L54.7 235.4L53.5 225.7L55.9 216.1L58.3 207.6L59.4 198L62 191L66 184.5Z" fill="none" stroke="#4a4a4a" stroke-width="4.2" stroke-opacity="0.7" filter="url(#bl8)"/></g>
<g clip-path="url(#cp5)">
<ellipse cx="58.9" cy="300.6" rx="8.6" ry="2.3" transform="rotate(20 58.9 300.6)" fill="#000"/>
<path d="M51.5 298.6Q57.0 304.5 66.5 304.6" stroke="#d8d8d8" stroke-width="0.8" fill="none" filter="url(#bl5)"/>
<path d="M72.6 178.4h0m-10 16.2h0m-2.6 6.4h0m18.6 4h0m-20.4 6.5h0m18.8 11h0m-20.4 13.9h0" stroke="#9a9a9a" stroke-width="1.5" stroke-linecap="round" fill="none"/>
</g>
<g clip-path="url(#cp6)">
<path d="M146.7 150.6L145.3 151.9L144.9 152.9L144.1 154.2L143.6 155L142.3 155.8L141.8 156.5L140 158.9L140.8 159.2L139.1 161.1L139.3 161.4L137.8 163L137.4 163.9L136.7 165.1L135.7 166L135.8 166.8L134.3 168.2L134.1 168.7L132.9 170.4L132.5 170.8L131.7 172.6L131.1 173.6L130.3 174L129.7 175.7L129 177.1L128.9 178.3L128.2 178.6L127.3 180L126.5 181.1L125.6 183.1L126 183.9L125 185.4L124.8 186.5L124.8 187.4L124.1 189.3L123.9 189.7L122.7 190.9L123.1 192.2L122.2 193.6L122.5 195.7L121.6 196.6L121.1 197.6L120.6 199L120.2 200.6L119.5 201.8L118.9 201.6L118.7 203.5L118.4 204.8L118 206L117.5 207.6L117.1 208.2L116.5 210L117.1 211.3L116.5 212.3L116.3 213.1L115.7 214.6L116 216.5L115.1 218.4L115.4 217.9L115.2 220.2L114.8 221.4L114.3 222.6L114.6 224L114.7 225.2L113.3 226.5L114.2 227.4L114.1 229.2L114 230.3L114.4 231.3L113.8 233.3L114.3 234.5L114.6 236.1L113.5 237.1L114.6 237.9L114.1 239L113.6 241L113.9 241.7L114.4 243.1L114.2 244.5L113.7 245.9L114.1 247.6L114 248.5L114.4 250.2L114.3 251.3L115 252.5L114.7 253.5L115.1 254.9L115.2 256.3L115.4 257.3L115.9 259L115.6 260.5L115.6 261.3L116.5 262.4L116.2 263.5L116.4 265L117.3 266.6L117.1 267.8L117.7 268.9L119.1 269.7L119.4 271.2L119 272.3L119.5 274.6L119.1 274.4L120 277.2L120.4 278.3L119.9 279.3L120.7 280L121.6 281.2L121.9 282.1L122.5 283.1L123.5 285.5L123.5 285.6L124.5 287.3L124.7 288.1L125.6 289.5L125.8 290.8L126.3 292.1L127.4 293.2L127.8 294.4L128.5 295.4L128.6 297.1L130.2 297.9L130.5 298.5L131.9 299.4L132.5 299.6L133.7 300.9L134.8 301.2L135.6 302.3L136.4 302.3L138.6 302.5L139.5 304.1L140.5 303.6L141.3 305L142.5 305L143.9 304.9L145.8 305L146.6 304.5L147.7 304.5L149.8 304L150.6 303.3L151.3 302.6L151.6 301.5L152.3 299.5L153.5 298.7L153.5 298.3L155.5 297.8L156.6 296.6L156.6 295.8L158.8 294.5L159.3 294.1L159.6 292.8L160.1 290.8L160.3 290.5L161.2 289.4L162.4 288.2L162.3 286.4L162.4 286.5L163.1 284.6L164.1 283.3L163.8 281.3L164 280.6L164.7 279.7L164 278L163.9 276.6L164.2 274.9L164 274.3L163.9 273.1L163.2 271.6L163.7 270.2L162.5 269.3L162.5 267.6L161.8 266.4L161.8 265.5L161.3 263.5L161.5 262.5L160.5 261.9L160.5 260.3L159.9 259.3L159.1 258.4L158.2 256.9L157.8 255.4L158.1 254.5L158.4 253L158.1 251.8L157.7 250.1L158.2 248.9L158 248.1L158.7 246.3L157.5 244.9L157.6 243.7L156.6 242.8L156.8 241.4L156.3 240.2L156.4 239.1L155.9 238.5L156.2 236.7L155.8 234.9L156.5 232.8L156.7 232.3L156.8 231.5L157.8 229.6L157.3 229.1L158.2 227.4L158.6 226.1L158.9 224.9L159.3 223.4L159.7 222L160.6 221.4L160.5 220.6L160.7 218.3L160.8 217.4L161.1 216.3L161.5 214.6L161.8 213.7L162.5 212.1L163.3 211.3L163 209.6L163.7 208.4L164.4 206.9L164 206.4L165 205.5L165.2 203.8L164.7 202.2L166.6 201.1L164.6 200.2L165.9 199.3L166 197.6L165.2 196.4L166.9 194.5L167.2 193.5L167 192.4L166.5 191.2L167.7 189.3L167.5 188.1L167.8 187.5L168 185.7L168.7 184.9L168 183.2L168.5 182.2L169.4 180.8L168.8 179.4L169.9 178.4L170 178.1L172 176.5L171.7 175L172.7 173.5L173.6 173.2L174.7 172L175.5 170.9L176.3 170.2L176.4 169.3L177.1 168.7L177.9 167.1L178.4 165.6L178 164.8L178.5 163.1L178.2 161.6L178 160.9L177.5 158.9L178.3 158L177 156.6L178 155.4L177.1 154.2L175.7 153.2L175.3 152.2L174.3 150.9L172.4 151.8L171.6 152.4L170.8 152.4L169.2 152.2L168.3 152.4L166.7 151.9L165.4 152.1L163.7 152L162.2 151.9L161.8 151L159.5 151.4L158.9 151.3L158 150.9L157.4 150.4L155 150.5L153.9 150.2L152.9 148.8L153 148.2L150.8 147.2L150.7 147.4L149.5 147.9L148.2 149.3L147.5 149.8ZM158.1 180.2L159.7 181.6L160.9 181.3L161.4 182.5L162.8 183.2L163.7 183.9L164.1 185.2L164.3 185.7L165.1 187.4L165.6 188.2L165.8 189.7L165.4 190.6L165.5 192.7L165.2 193.2L164.2 194.8L163.9 196.7L163.7 197.9L164 198.5L163.3 200.5L164.4 201.7L163.6 202.9L164.3 204.2L163.8 206.4L163.3 206.4L162.7 207.1L162.1 208.9L161.8 210.7L160.2 212.1L160.6 213.1L160.6 214.1L161 215.6L159.3 216.7L159.2 217.9L158.7 219.3L158.3 220.1L158 221.5L158.2 222.6L157.7 224.1L157.7 225.1L157.1 226.5L156.7 227.6L156.2 229.3L155.4 230.1L156.2 231.3L154.9 232.2L154.4 233.6L153.9 233L152.5 232.1L151.4 230.9L151.1 229.9L151.4 228.3L150.6 227.5L149.5 226.2L149.2 224.7L148.8 224.1L147.4 223.2L146.8 221.8L146 220.9L145.5 220.4L145 218.8L144.5 220.1L143.1 221.6L143.1 222.2L142 223.9L141 225.5L140.7 226.3L140.6 227.3L140.3 227.8L139.4 230L139.6 231.3L139 232.1L139 234L138.6 234.7L138.3 235.9L138.1 237.7L138.4 239.8L137.8 239.8L138.5 241.1L138.3 242.8L137.9 244.1L137.9 245.6L136.9 244.4L136.8 243.4L135.4 242.2L136.6 240.6L135.6 239.2L135.7 238.2L135 237.2L135.9 235.3L135.5 234.2L134.9 233.4L134.6 231.9L135.3 230.8L134.2 229.7L134.4 228L133.9 226.3L133.7 224.9L134.2 223.7L134.4 224.1L134.9 222L135.6 220.1L135.2 219.3L136 218.4L136.5 215.9L135.9 215.8L136.2 214.1L137.3 213.1L137.4 212.3L137.6 210.9L138.6 209.1L138.8 207.6L139 206.3L138 205.3L139 204.1L139.2 202.4L139.6 201L139.7 199.6L139.1 198.6L139.6 196.9L140.3 196.4L140.1 195.3L140.8 194L141.2 192.5L142 191.3L142.4 190.6L142.8 189L144.2 188.1L144.5 186.3L145.2 185.6L146.1 184.6L146.4 183.1L147.2 182.4L148.3 181.4L148.7 180.4L150.1 178.8L150.9 178.3L150.8 176.9L152.1 177.9L153.5 178L154.6 178.9L155.9 179.4L157 179.7Z" fill="#fff" fill-rule="evenodd" filter="url(#gn2)"/>
<path d="M152.5 299.6L149.5 304.4L142.8 305L135.6 302L129.6 297.8L127.2 293.6L123.6 286.4L120.5 279.1L118.7 270.7L115.7 261L114.5 251.4L113.9 243.2L113.9 231.1L115.1 219.1L117.5 207L121.1 197.4L123 192L126 182.4L130.8 173.9L135.6 166.7L141.6 157.1L146.5 151L150.1 146.8" fill="none" stroke="#8a8a8a" stroke-width="0.6" stroke-opacity="0.7" filter="url(#bl5)"/>
<path d="M151.1 150.6h0m20.4 8h0m.5-1.9h0m4.4 .9h0m-33 2.9h0m1.7-1.3h0m7 1h0m15.4 1.4h0m-24.4 .9h0m14.5 2.2h0m-16.4 .7h0m13.8 2.1h0m.8-2.2h0m12.9 1.7h0m1.5 .5h0m-16.8 2h0m10.6 1.1h0m9.8-.4h0m-37.9 2.8h0m6.2-.9h0m17.6-.6h0m-19.6 4.2h0m8.3 0h0m4.9 1h0m2.5-1.7h0m-10.7 3.1h0m9.2 .2h0m12.2 3.9h0m-30.5 4.3h0m.7 2.1h0m2-.1h0m1.9-.3h0m-18.1 7.8h0m9-.4h0m33.3 3.4h0m-44.3 4h0m-1.5 1.2h0m5.6 4.6h0m-4.3 1.9h0m14.3 1h0m-8.3 3h0m9.9-.8h0m-14.7 2.9h0m-.6 3.8h0m2.7 .5h0m35.7-1.3h0m-43.5 4.4h0m27.4-.4h0m-26.5 2.7h0m6 .1h0m22.3 2.5h0m4.1 0h0m.5 1.8h0m-29.3 5.2h0m9.8-.6h0m-14.8 5h0m4.1 5h0m14.9-2.1h0m5.4 2.1h0m2.1 0h0m.5-.9h0m12.1-.8h0m2.3 0h0m-1.4 5.9h0m-24.9 2.7h0m10.6 1.3h0m8.3 1.1h0m5-.9h0m-33.9 2.3h0m.9-.3h0m14.2 1.7h0m-19.6 1.3h0m24.7 0h0m15.9-.7h0m-2.5 3.5h0m3.8-.4h0m-37 4h0m15.8 1.7h0m10.2-2.7h0m12.3 1h0m-41.3 2.1h0m10.3 2.4h0m3.3-2.7h0m12.2 0h0m4.5 1.7h0m-29.1 1.5h0m16 1.5h0m14.7-1.3h0m-10.7 2.7h0m-12.8 4.6h0m9.4 1.1h0m18.7-.5h0m5.2-1.3h0m-9.5 6.1h0m-21.4 3h0m2.2-.3h0m8.6 .4h0m.3 .1h0m12 1.5h0m-13.1 2.3h0m1.8-1.2h0m7-.2h0m7.7 .6h0m-14.5 2.2h0m16.8 .3h0m-20.6 5.4h0m4.7 .4h0m.5-.4h0m12.3 0h0m-4.9 4.9h0" stroke="#e2e2e2" stroke-width="1.0" stroke-linecap="round" fill="none"/>
</g>
<g clip-path="url(#hc_cp6)"><path d="M150.8 177.2L158.3 180.2L163.9 183.9L165.5 189.6L163.7 199.3L164.1 204.4L161.7 210.7L159.3 217.9L157.5 225.1L155.1 233.6L152.5 232.4L148.9 223.9L144.6 219.1L141 225.1L138.6 233.6L138 243.2L137.4 245.6L136.2 242L135 234.8L133.8 225.1L136.2 215.5L138.6 207L139.7 197.4L142.3 190.4L146.3 183.9Z" fill="none" stroke="#4a4a4a" stroke-width="4.2" stroke-opacity="0.7" filter="url(#bl8)"/></g>
<g clip-path="url(#cp6)">
<ellipse cx="139.2" cy="300.0" rx="8.6" ry="2.3" transform="rotate(20 139.2 300.0)" fill="#000"/>
<path d="M131.8 298.0Q137.3 303.9 146.8 304.0" stroke="#d8d8d8" stroke-width="0.8" fill="none" filter="url(#bl5)"/>
<path d="M152.9 177.8h0m-10 16.2h0m-2.6 6.4h0m18.6 4h0m-20.4 6.5h0m18.8 11h0m-20.4 13.9h0" stroke="#9a9a9a" stroke-width="1.5" stroke-linecap="round" fill="none"/>
</g>
<g clip-path="url(#cp6)">
<path d="M166.7 155.6h0m6.8-1.9h0m-15.6 2.5h0m-5.5 3.6h0m9.4 0h0m9.6 1.8h0m-14.8 1h0m7.7 1h0m-26.8 3.3h0m23 .5h0m-22.6 1.4h0m30.2 1.7h0m-35.2 .9h0m19.2-.1h0m.9 2.6h0m9.6-2.2h0m7.2-.2h0m-28.4 5.1h0m15-.5h0m1.7-1.8h0m-25.5 4.7h0m26.8 .8h0m-32.9 1.6h0m4.9 1.2h0m.6 .1h0m32.2-1.8h0m-32.4 4.4h0m9.3-1h0m-5.3 7.5h0m-11.7 6.9h0m3.8 1.9h0m-4 .6h0m13.4 2.4h0m-8.3 3h0m1.6 1.6h0m1.5 1.2h0m-4.7 10.4h0m15 4.4h0m-18.3 1h0m32.4 2.8h0m-13.4 1.3h0m1.5 .2h0m-25.1 3.4h0m3.5 1h0m9-1.7h0m-4.9 4.2h0m-.2 3.5h0m27.5-1.2h0m-10.7 6.3h0m-1.2 3.4h0m-24.5 3.6h0m8.7-2.7h0m24.5 0h0m-18.1 8.6h0m10.7-1.6h0m13 6.6h0m-28.1 2.5h0m16.1-1.1h0m2.5 4.1h0m5.7 5h0m-19.7 3.6h0m15.6 1.1h0m-21.4 1.6h0m7.6-.5h0m-13.3 3.2h0m10.6 1.8h0m8.4 3.6h0m0 2.8h0m-4.9 3.3h0m18.4-1.4h0m-24.5 2.8h0m18.7-1.2h0m-1.4 5h0m-6.5 3.8h0m11.6-2.6h0" stroke="#f01818" stroke-width="1.65" stroke-linecap="round" fill="none"/>
<path d="M149.9 146.5h0m-1 1.9h0m1.9 .5h0m-3.7 4.6h0m11.3-.1h0m-1.1 5.3h0m19.4-.8h0m-15.9 5.7h0m-24.8 2.8h0m31 .7h0m-14.1 2.1h0m-9.8 2.5h0m-3 2.7h0m9.9 2h0m15-1.9h0m-25.7 3.7h0m26.8-.2h0m1.5-.8h0m-27.6 5.1h0m6.2-1.3h0m-.1 3.3h0m-14.4 4h0m-5.7 6h0m-4 1.8h0m8 .2h0m1 1.5h0m6 8.6h0m-14.7 11.6h0m9.4 0h0m-5.6 7.8h0m-1.9 2.2h0m18 .6h0m6.1 .7h0m-17.4 2.5h0m16.3 .9h0m-15.7 1.6h0m-2.8 5.4h0m7 1.4h0m-18.2 4h0m5.9-1.5h0m9.4 1.8h0m-15.2 1.8h0m7.7 .4h0m0 .2h0m22.4-1.7h0m-22.2 3h0m2.8 2.9h0m20.8-2.9h0m-3.1 3.3h0m-21.8 4h0m11.6 .4h0m4.9 4.1h0m1.3 14.7h0m8.7-2.4h0m9.2 2.3h0m-29 1.4h0m16.5 1.7h0m13.8 3.9h0m-17.7 5.4h0m.9-2.7h0m10.2 7.6h0m-16.4 2.4h0" stroke="#22e022" stroke-width="1.65" stroke-linecap="round" fill="none"/>
<path d="M174.4 154.8h0m-8 4.3h0m-6.4 3.9h0m-17.1 4.2h0m.6-1.2h0m24.2-.1h0m-20.9 5.6h0m1.2 5.1h0m8.9 .1h0m-1.6 2.2h0m-20.4 2.6h0m7.7-.1h0m-13.8 3.2h0m13.1 .5h0m-1.8 5.5h0m26.3-.2h0m.7 1.1h0m-40.8 4.1h0m11.8 .6h0m-1.1 1.9h0m-6.9 7.2h0m-7.1 3.5h0m2.6 6.2h0m8.3-2h0m-16.8 3.6h0m6.8 .9h0m.3-1.2h0m8.8 2.7h0m-14.5 8.8h0m23-1.8h0m.2 .2h0m4.8-.3h0m-31 4.7h0m15.6-2.4h0m17.3 4.5h0m-32.8 2.3h0m5.6 3.2h0m2.3 1.1h0m3.4 .8h0m5.4 .7h0m5.5-.6h0m1.2 4.8h0m7.6-.5h0m-1.4 3.8h0m-22.7 1.5h0m34.9 .4h0m-3.6 4h0m3.9-.4h0m-37.5 2.2h0m23.3-.3h0m-17.2 2.4h0m10.3 1.5h0m-9 6.4h0m-4 2h0m5.6-.2h0m21.3-.6h0m5.6 3h0m-14.7 5.1h0m5.3 .5h0m10.5-2.2h0m-5.2 4.7h0m1.9 .1h0m-20.2 2.6h0m4 .6h0m15.2 2h0m-20 1.9h0m3.8-.1h0m18 2.1h0m-20.8 1.4h0m1.3 1.9h0m18.6 3.1h0m.8-.6h0m-26.9 1.5h0m18.2 .1h0m8-.8h0" stroke="#2222f0" stroke-width="1.65" stroke-linecap="round" fill="none"/>
<path d="M145.5 151.9h0m28.4 3.5h0m-32.5 12.8h0m3.5 .6h0m16.2 3.6h0m-13.3 1.8h0m16.4 1.5h0m5.3-1.3h0m-27.5 6.5h0m-15 3.9h0m15.4 1.8h0m-16.9 10.4h0m5.8 24.8h0m-10.1 15.1h0m30.5 3.6h0m-5.9 4.7h0m2.9 6.6h0m-25.8 .8h0m3.1 5.2h0m10.3 0h0m-10 2.4h0m31.9 .5h0m-38 6.4h0m5.8 1.3h0m7.6 3.2h0m-.2 4.4h0m-11 5.9h0m29 .2h0m-19.7 11.4h0m9.1 5h0" stroke="#9a28f0" stroke-width="1.65" stroke-linecap="round" fill="none"/>
<path d="M149.4 151.8h0m-2.5 3h0m-1.4 2h0m29.2 2.1h0m-24.2 .6h0m24.7 2.9h0m-12.6 4.8h0m-26.4 2.1h0m8.1 .2h0m6.8-1.2h0m6.7 1.1h0m14.9 .3h0m-.8 3.6h0m.4-1.8h0m-20.4 3.3h0m2.9 .8h0m1.6-.7h0m3 1.7h0m-30.7 3.3h0m10.2 5.6h0m-11.3 2.1h0m8.3 8.6h0m-14.5 4.8h0m10.2-1.5h0m7.7 1.4h0m26-2.2h0m-33.1 9.1h0m2-.7h0m-16 2.9h0m9.7 2.8h0m2.7 5.7h0m-11.4 4.4h0m-2.3 5.8h0m5 2h0m36-1.6h0m-12.1 12.7h0m-30 1.9h0m21.5 1.1h0m-8.8 1.9h0m1.6 .8h0m5.7 4.1h0m1.2 .4h0m-17.3 1.6h0m28.2 1.1h0m-29.9 .4h0m37.8 3.1h0m-24.6 4.9h0m-13.1 3.2h0m9-1.3h0m13.9 .4h0m10.5 1.8h0m2.2 2.5h0m3.9-2.4h0m-33.7 3.1h0m26.7 2.2h0m-10.7 3.3h0m13.2-2.3h0m-19.8 3.7h0m4.9 .4h0m.6-1.1h0m9.1 2h0m8.2-1.1h0m6.7 .5h0m-40.4 6.2h0m29.6 3.3h0m9.3 .5h0m-5.6 5.2h0m4.8-2h0m-20.1 5.1h0m7.6-1.5h0m-8.5 2.6h0m15 .3h0m-18.9 4.7h0m5.8 2.3h0m1.4 .3h0" stroke="#f01818" stroke-width="1.65" stroke-linecap="round" fill="none"/>
<path d="M163.3 151.9h0m-1.6 4.9h0m-21.3 4.6h0m11.5 .3h0m22.7-1h0m-37.5 4.1h0m3-.9h0m16.8 .3h0m16.6 .1h0m-15.7 3.6h0m-16.8 .5h0m20.3 7.1h0m-.3 2.6h0m-26.6 3.3h0m-7.4 13.4h0m-2.4 1.2h0m9.1 5h0m-3.3 3.5h0m.5 2.5h0m.1 2.7h0m-7.2 3.1h0m1.6 .8h0m1.6 1.6h0m-6.3 5.1h0m5.3 4.8h0m6.2 1.1h0m-11.2 5.8h0m29.9 2.1h0m-22.4 8h0m18.3-.8h0m-30.8 2.9h0m38.8-.8h0m1.6 1.1h0m-1.9 4.2h0m-35.7 .4h0m3.9 5.1h0m11.2-1.8h0m6-.1h0m13.9 1.3h0m-8.3 2.1h0m1.8 1h0m-20.6 4.2h0m7.5-.2h0m-4.3 2.3h0m.1-.9h0m12.8 4.4h0m-3.5 2.5h0m5.8-.2h0m-9.7 2.7h0m-14.6 4.5h0m2.6-.5h0m3-1.9h0m12.3 1.7h0m12.4-.5h0m11.3-1h0m-37.4 8.3h0m18.5 4.2h0m.5-.7h0m-19 3.4h0m19.2 1.9h0m-.5 3h0m4.9-1.6h0" stroke="#22e022" stroke-width="1.65" stroke-linecap="round" fill="none"/>
<path d="M151.1 150.7h0m5.6 6.9h0m4.5 4.1h0m1.3-1.5h0m14.3-1.2h0m-32.7 7.9h0m-4.2 2.9h0m-7.9 3.6h0m30.3-.9h0m3.5-.1h0m4.1-.2h0m-29.6 3.5h0m12.4-.7h0m2.4 1.5h0m-15.9 2.5h0m2.2-1h0m21 .7h0m-16.8 1.4h0m-11.8 5.7h0m8.3-2.7h0m-19.5 12h0m-2.1 4.7h0m6.7-.9h0m9.9 .3h0m-18.4 15.4h0m10.9 3.5h0m-5.1 3.3h0m34 .3h0m-41.6 1h0m5.4 5.3h0m12 5.5h0m8-1.4h0m12.9 1.6h0m-6.2 .7h0m-32 4h0m5.1 .8h0m-6.4 1h0m17.9 6.9h0m2.6 1.8h0m19.7-1h0m-14.6 3.3h0m14.7 5.6h0m-29.6 2.2h0m5.8 1h0m22.5-.4h0m-1.9 2.4h0m-13.3 2.7h0m-17.8 3h0m1.3 1.3h0m11.1-1.3h0m18.9 1.1h0m2.4 0h0m2.7-.5h0m.3 .2h0m-31.7 4.5h0m2.6 2.5h0m29.5 .4h0m-29.3 .7h0m12.1 3.2h0m-12.7 6.4h0m8 .5h0m3.9-1.6h0m15.3 1.5h0m-29 3.5h0m11.3-2.1h0m10.3 1.4h0m.4-.1h0m6 1.2h0m-23.3 2.9h0m11.4-1.4h0m2.8-.7h0m-15 5.2h0m4 1.1h0m3.5 3.3h0m3.2 .3h0" stroke="#2222f0" stroke-width="1.65" stroke-linecap="round" fill="none"/>
<path d="M158 156.5h0m9 7.3h0m-2.9 1.3h0m-14.5 3.6h0m2.6 .7h0m22.9 1.2h0m-43.4 7.2h0m-11 22.6h0m4.9 2.7h0m7.7 14.7h0m-2.1 11.6h0m-2.1 9h0m-5.1 2.6h0m32.5 7.4h0m-7.9 2.5h0m6.6 3.6h0m-11.9 5.2h0m-1.8 2.1h0m12.4 0h0m-32 5.1h0m4.6-2.1h0m30.8-.5h0m-5.5 7.4h0m-27.2 3.1h0m9.7 2.4h0m-4.6 4.4h0m5.9-1.4h0m-3 4h0m11.3-.6h0m-4.5 17.6h0" stroke="#9a28f0" stroke-width="1.65" stroke-linecap="round" fill="none"/>
</g>
<g clip-path="url(#cp7)">
<path d="M226.3 149.6h0m1.6-.5h0m1.4-.6h0m1.2 1.2h0m.6-2.5h0m1.4 2.3h0m.6-.5h0m.7 .4h0m3.5 .3h0m-12.5 2.9h0m2 0h0m.5-.1h0m1-1.2h0m2.4 .8h0m.5-1h0m.3 .6h0m.1 0h0m.3 .5h0m0-1.2h0m.5 1.2h0m0-.2h0m3.7-.7h0m3.1 1.5h0m1.6-.5h0m.1-1.5h0m2.9 1.2h0m.2 .6h0m.5-.4h0m.7-.3h0m.7 0h0m1.2-.6h0m2.1 .3h0m.3 .5h0m1.3-.5h0m.3 1h0m.2-1.6h0m.7 1.7h0m2.5 .1h0m1.1-.9h0m-32.2 1.7h0m3.1-.5h0m1.9 .2h0m.4-.3h0m1.2 .6h0m1.7 0h0m1.7 .2h0m.9 .4h0m.8-1.2h0m3 .3h0m3.6 2.1h0m.1-.4h0m.4-1.3h0m1.7 .9h0m.7-.7h0m.5 .8h0m2.8-1.3h0m.2 1.7h0m.3-2.1h0m.7 3h0m1.6-2.9h0m.1 .1h0m3.5 1.6h0m2.3 .3h0m-32.4 1h0m1.9 2.1h0m3.7-.2h0m.3-1.6h0m3.4 2.3h0m.8-1.5h0m.4 1.2h0m.4-2.4h0m.7 1.1h0m.7 1.2h0m3.7-1.1h0m1.1-.6h0m.1 .2h0m1.3-.3h0m.6 2.1h0m.2-.7h0m.6-1.6h0m1.8 2.2h0m.4-2.1h0m2 .9h0m.1-.1h0m.1 .3h0m.5-1.2h0m.8 1h0m.3 .3h0m3.5-.2h0m.4 .5h0m0-.2h0m.8-.9h0m1.2 .1h0m1.4 1.4h0m-37.6 2h0m.2-1.3h0m.8 .5h0m1.1 1.8h0m.4-2.1h0m.5 .6h0m2.7 .4h0m1.6 1h0m2.9-1.2h0m6.5 .4h0m.8-.6h0m10.5 .4h0m3.4 .7h0m3.1 .4h0m.1-.3h0m.1-2h0m1.5 1.2h0m.2-.8h0m.2 1h0m.3 1.2h0m-39.5 .8h0m.2 2.2h0m.2-1.9h0m1.1 0h0m1-.6h0m3.2 1.9h0m.5-1.8h0m1.8 .5h0m4.6 .6h0m5.8 .7h0m.8-.6h0m1.8-1h0m1.7-.3h0m2.4 2.7h0m1.9-1.4h0m2-.3h0m4.4-.1h0m1.9 1.3h0m1.5-1.1h0m.7-.8h0m1.4 2h0m.7-.7h0m.1 1h0m1.1-.2h0m-44.2 3.4h0m1.4-1.4h0m1.6 .6h0m.4-1.8h0m4.7 .5h0m.4 1.5h0m.2-2h0m4.3 .5h0m2.6 1.8h0m5-.2h0m2.6-1.5h0m.9-.8h0m2.2 1.2h0m6.3 1.3h0m1.5-2.5h0m.7 2.5h0m3.1-1.1h0m1 .9h0m2.2-.4h0m1.7 .9h0m.5-1h0m-44.7 3.1h0m.7-.4h0m1 .1h0m.8 .3h0m2.7 .6h0m1.2 .2h0m.5-1.3h0m1.3-.5h0m1.3 .1h0m12.7 1.5h0m3.7-.3h0m.7-1.8h0m2.4 1.9h0m.3-1.9h0m8.1 1.4h0m6.3-.5h0m.3 .6h0m.8-.8h0m-44.8 3.8h0m3-1.3h0m.6 .8h0m.4-.7h0m4.4 .6h0m2.4-1.4h0m.9 1.9h0m3.7-.6h0m2.1-.6h0m3.1-.6h0m5 1.8h0m2.8-.2h0m2.3-.9h0m3 1.6h0m3.6-2.1h0m.3 1.3h0m1.8-1.1h0m.1 .5h0m1.3 1.7h0m-44.4 2.5h0m.6 .5h0m3.4-.7h0m6 1h0m.2-.4h0m3.2 .3h0m12.6-1.3h0m4.7 .8h0m.7-1h0m8.1-.5h0m.1 1.3h0m.6-1.4h0m-40.8 3.4h0m1.6-1h0m.5 1.8h0m.4-1.5h0m1.9-.5h0m1.4 1.6h0m.3 .3h0m1.3-.8h0m12.3 .8h0m.9 .1h0m5.8-.4h0m1.2-1.4h0m.9 .6h0m8 2.2h0m2.5-.7h0m-41.2 2.7h0m.4-1h0m2.8-.9h0m1.1 .3h0m2-.1h0m.2 1.5h0m.8-1h0m.4 .9h0m.4 .9h0m6.6-2.4h0m20.1 2h0m1.6-1h0m1.9 1.4h0m2.3 .2h0m1-.1h0m-42.8 .9h0m0 2h0m1-1.3h0m.3-1.1h0m.7 1.4h0m.2-1.3h0m2.2 2.4h0m1.3-2h0m.3 2h0m2.4-2.2h0m3.1 1.2h0m.9 .8h0m2.2 .3h0m5.4-.4h0m.6-1.5h0m17-.7h0m2 2h0m2 .5h0m.7-1.9h0m-44.1 5h0m2.5-1.6h0m2.1-.3h0m.2 1.8h0m1.4-1.4h0m2-.1h0m1.7-.6h0m.9-.4h0m-11 4.4h0m2.7 .5h0m1.5-.1h0m.5-.6h0m1.7-.5h0m.1 1.8h0m3.7 .1h0m.3-.5h0m.4 0h0m1.6 .1h0m2.3 .1h0m-15.1 3.4h0m.6-1.4h0m.4-1.4h0m5.5 2.3h0m3.6 0h0m.5 .3h0m1.4-1.6h0m6.3 .1h0m-19.9 3.4h0m4.1-.9h0m.2-.6h0m.2 2.7h0m1.6 0h0m.9-1h0m2.1-1.5h0m.8 1.3h0m.9 .1h0m1.4-1.6h0m.3 1.3h0m2.1-1.1h0m.3 1.1h0m3.5-1.1h0m-18.8 5.1h0m1.8 .6h0m1.5-1.8h0m.3 1.5h0m.3-1.7h0m1.2 2h0m2.6-.1h0m.8-.3h0m.3-.9h0m.8-.4h0m3.3-.5h0m1.2-.8h0m4.9 1.4h0m-20.5 3.2h0m.4-.1h0m0 1.5h0m2.3-1.5h0m1.3 .2h0m.2-1.5h0m1.6 .4h0m2.1 1.6h0m.9-.1h0m.4-.7h0m2.8-.5h0m1.6 .2h0m-13.4 4h0m1.9-1.8h0m2.1 2.6h0m1.1-1.3h0m.7-.7h0m1.6-.9h0m.6 2h0m4-1.3h0m.7-.2h0m1.1-.5h0m4.9 .2h0m-20.1 4.5h0m.2-.5h0m12.2 1.5h0m.1-2.5h0m2.1 1.8h0m3.2 .7h0m.5-1.2h0m2.3-.1h0m-21.3 4.2h0m1.5-2.1h0m7.6 2.2h0m.2-1.6h0m1.6 1.1h0m1.1-1h0m4.8 1.4h0m-18.5 2.7h0m2.7-2.2h0m.5 .7h0m4.1 .8h0m.3 .9h0m1.9-.8h0m.1-1.5h0m5 1.2h0m-14.8 4.2h0m3.6 .2h0m1.3-2.2h0m.1 2.1h0m1.1-2.7h0m1.1 .8h0m.7 .2h0m2.1 .2h0m3.9 .3h0m3.6 .4h0m2.3-1.6h0m-20.2 5.4h0m1.4-2.1h0m.8 .5h0m.5-.8h0m.3 1.7h0m.7-.6h0m.7-1.1h0m1.1 1.5h0m1.1-.2h0m.9 1.1h0m4.1-1.2h0m1.2 1.3h0m3-1.5h0m2.7-.5h0m1.1 1.8h0m-19.6 .5h0m.5 2.3h0m3-.8h0m1.9-1h0m3.3 0h0m1.8-.6h0m.7 .7h0m6.7 .1h0m.1 2h0m9.8-.4h0m1.1-.6h0m2.1-1.1h0m1.6-.5h0m-32.6 4.7h0m2.6-1h0m.1 2h0m.1-.8h0m.4 .4h0m0-.4h0m4.2-2h0m.1 2.3h0m1.1-.4h0m2.1 .9h0m3.8-.4h0m1.4-1.5h0m.6-.3h0m2.5 1.3h0m9.5-1.2h0m4.8-.1h0m2 2.2h0m-34 1.6h0m1-.4h0m.4 1.2h0m1-1.9h0m1 1.4h0m1-.9h0m2.4-.7h0m.8 1.7h0m1.5-1h0m2.4 .4h0m.2 .7h0m10.9 .4h0m1.4-.1h0m2.1 0h0m1.6-.4h0m.6-.9h0m5.4 .1h0m2 1.8h0m-38.2 2.5h0m.3-2h0m.1-.3h0m2.4 .4h0m.7 .6h0m.4-.8h0m0 .7h0m1.7 .8h0m2.1-.5h0m6 .7h0m2.8-.8h0m8.4 1.5h0m3.2-.5h0m3.2-1.9h0m5.1 .2h0m1.6 1.9h0m-38.6 3.4h0m2.3-1.7h0m3.6 1h0m0-.5h0m.8-.9h0m.4 .5h0m0 .1h0m2-.2h0m6.6-.1h0m4 .6h0m5.8 .7h0m6.2-1.2h0m1.6 1.3h0m2.7-1h0m.4 1.1h0m-35.1 1h0m0 2h0m2.1-2h0m1.1-.1h0m1 1.5h0m.3-1.2h0m5.1 1.6h0m.6 .5h0m3.2-.4h0m1.1-1.9h0m5.6 1.9h0m5.6-1.9h0m2.1 0h0m.2 1.3h0m1.5 1.2h0m.6-.5h0m5.7-1.7h0m.1-.3h0m5.5 2.2h0m-42.3 2.5h0m2.9-1.2h0m.8 1.4h0m1.9 .3h0m2.1-2.1h0m.2 .8h0m1.2 .1h0m1 .8h0m.2 .1h0m3.9-.5h0m2.2 .8h0m3.7-2.6h0m5.6 1h0m1 1.8h0m.3-2.4h0m3.7 1.4h0m.1-.3h0m7.1-.3h0m2 .4h0m2 .8h0m1.5-2.1h0m-43.2 4.7h0m0-.2h0m.2 .2h0m1.6 .2h0m1.6-1.2h0m.1-.9h0m3.9 2.1h0m.1-2.2h0m2.8 1.9h0m18.4-.8h0m8.7 .6h0m2.5-.7h0m.9 1.3h0m2.1-.2h0m-42.4 3.2h0m2.2-.1h0m1.3-.4h0m.2-.6h0m1.4-.9h0m2.3 2.2h0m2-.4h0m.4-1.9h0m.2 .7h0m4.5 2h0m2.5-2.4h0m4.2-.1h0m12.5 2.4h0m1.3-.3h0m2.4-2.1h0m.5 1h0m-35.1 3.8h0m.8-1.6h0m0-.2h0m1.3-.4h0m2 .1h0m.5 1.8h0m.2-.1h0m.3 .9h0m.9-2.7h0m2.9 2.6h0m2.6-.7h0m.9 .9h0m2.1-2.6h0m1.4 .6h0m5.6 1.8h0m10.5-1.4h0m5 1.2h0m.7-.7h0m-39.7 1.8h0m.6-.4h0m.8 .9h0m.2 .6h0m0-.4h0m.1 .5h0m3.1-1.3h0m1.5 .4h0m1.9 .5h0m2.4-.9h0m5.9 .8h0m1.7-.8h0m6.8 1.6h0m4.1 .8h0m2.1-2.4h0m0 2.1h0m1.6-.4h0m1.4 .1h0m1.8-1.6h0m2.2 .9h0m.2 1.2h0m-38.4 2h0m2.1-1.5h0m3.1 0h0m2.1 .8h0m2.4-.3h0m2.6 1.7h0m.4-1.9h0m.2 .9h0m.1-.7h0m.3 .8h0m2.6-1h0m5 1.8h0m8.6-.8h0m1.1 .9h0m4.4-.7h0m5.7-.1h0m3.5 .7h0m-44.1 1.5h0m.9 1.5h0m1 .6h0m1-2.2h0m1.8 .6h0m1.2-1.4h0m.2 .6h0m1.5 .5h0m.7 1.6h0m1-1.1h0m5.9 .7h0m1-1.3h0m1.6 1h0m4-.7h0m1.6 .5h0m9.9-.1h0m5.1 .1h0m.5 .9h0m2.9 0h0m-41.4 1.5h0m2.1 1.1h0m1.3-1.5h0m1.7-.2h0m.8 1.4h0m1.8-.8h0m2.4 .9h0m13.5-.5h0m10.4-.6h0m3.3-.1h0m.2 1h0m7.3-1.7h0m1.1 1.7h0m-41.1 2.1h0m1.3 1.9h0m.9-2.7h0m3.1 1.4h0m4.4 .7h0m3.9-1.5h0m0-.4h0m9.3-.4h0m6.3 .8h0m.9 .1h0m6.6 1.9h0m1-2.3h0m1.7 1.8h0m1.6-.1h0m-42 1.9h0m.4 .8h0m1.4 .5h0m1.5-1.7h0m.6 1.7h0m.2-.3h0m.2-.1h0m1.1 .9h0m.2-1h0m9.4-.7h0m6 1.4h0m1.8-1.4h0m7.5-.3h0m4.9 .1h0m4.1 1.2h0m-36.8 2.2h0m.2 .8h0m.7-.4h0m2 .4h0m4.3 .8h0m.9-1.9h0m.3 0h0m0 1.7h0m4.7-2.5h0m1-.1h0m7.2 .8h0m.4 .1h0m.6 1.2h0m2.8-1.7h0m1.8-.1h0m.5-.4h0m2.6 1.5h0m.7 .7h0m3.7-2.2h0m1.4 .3h0m2.6 1.6h0m-40.4 2.4h0m.6 1.1h0m.2-.3h0m1 .1h0m.7 .1h0m.2-2.3h0m.4 2.1h0m.1-2h0m.4 2.7h0m4.6 .1h0m2-2.9h0m1.4 1.9h0m1.8 0h0m.7-.6h0m.4 1.1h0m.8-.2h0m1.1-2.1h0m1.6 1.2h0m2.3-.8h0m5.8 1.1h0m1.4-1.3h0m.8-.2h0m-27.4 4.7h0m2.5 .4h0m3.4-.3h0m2.4-.9h0m12.7 .6h0m2.7-1.2h0m4.4-.2h0m7 2.2h0m.8 .4h0m-35.9 .3h0m1.3 1.1h0m1.4 1.6h0m.1-2.6h0m0 1h0m1.3-.9h0m.7 .3h0m2.2-.2h0m1.2 1.1h0m1.9-.4h0m2.3 .5h0m13.2-1.7h0m2.9 2.5h0m1.1-.3h0m.4 .4h0m.8 .2h0m6.7-1.7h0m.3 .2h0m1.6 1.4h0m2.1 0h0m.8-1.6h0m-38 2.1h0m2.1 2.1h0m.2 .1h0m.1-.2h0m2-.7h0m1 .8h0m.2-2h0m.5 1.2h0m6.4 1.3h0m1.4-1h0m1.9-.2h0m8-.6h0m.1-.2h0m7.5 .1h0m6.6 .7h0m-39 1.6h0m.8 1h0m.7-.6h0m.6-.5h0m1 .9h0m1-.1h0m.7 .9h0m.3 0h0m.2-.3h0m2.9 1.2h0m7.1-2.7h0m2 2.2h0m2.4-1.9h0m10.5 2.3h0m3-1.3h0m5 1.6h0m-33.4 1.1h0m.5 .3h0m.4 .6h0m1.1-1.3h0m0 1.6h0m1.6-2.1h0m1.3 1.3h0m1.3-.6h0m2.9-.5h0m.3-.3h0m4.1 .6h0m1.7 1.9h0m9.8-.8h0m-26.8 3.2h0m.6-.3h0m.3 .6h0m.3-2.1h0m2.8 .7h0m1.7-.6h0m.6 .6h0m.8 .2h0m1.1 1.4h0m1 .6h0m1.9-.5h0m1.6-2h0m1.1 1.7h0m3.4-.6h0m.2 1.2h0m2.5-1.5h0m6.8 1.2h0m4.8-2.1h0m1.1 .1h0m-29.9 5.4h0m2.3-.5h0m1.9-1.5h0m1.7 1.9h0m.4-2.6h0m1.4 1.4h0m1.4-1h0m3.1 1.2h0m1.9-1.6h0m1.5 2.5h0m1.2-1.8h0m1.8 1.3h0m3.3-.6h0m1.4-.1h0m1.2-1.4h0m-22.2 3h0m4.6 1.9h0m.5 1h0m.6-1h0m1 .7h0m1.6-1.8h0m1.1-.1h0m5.2 .3h0m3.7 1.4h0m-15 .6h0m.2 .5h0m.5 .6h0m4 1.4h0m0-.1h0m1.6-1.1h0m.6-.6h0m.4-.2h0m1.4 2h0m4.9-.5h0m.4-.9h0m-8.9 2.8h0m.3-.6h0m.2-.2h0" stroke="#98df8a" stroke-width="1.15" stroke-linecap="square" fill="none"/>
<path d="M229.5 148.9h0m6.3 .9h0m-7.5 1.2h0m12.6 2.3h0m.9 .2h0m7.4 .8h0m4.8 .7h0m.4-2h0m-19.1 5.4h0m2.3-1.5h0m.3-.2h0m1.8 1.6h0m3.7-1.2h0m5.4-.1h0m5.6-.2h0m2 .2h0m-27.3 4.4h0m.2-.9h0m2.3-1.1h0m1.8 .4h0m8.4 .3h0m.4 1.4h0m2.8 .3h0m.5 0h0m3.8-1.1h0m.4-.2h0m8.3-1h0m-36.9 5.2h0m.9-2.4h0m4.1 2.2h0m.2-.2h0m1.6-1.6h0m.5 .3h0m.1-.3h0m.7 1.5h0m1.7 .4h0m.6 .3h0m2.9-1.2h0m1.8-.4h0m8.3 .9h0m2.2-.7h0m.8 0h0m3.3 .5h0m-35.2 1.3h0m12.8 1.6h0m.4-.8h0m1.1 .6h0m3.1-1.3h0m1 .6h0m1.6 1.9h0m.8-2.4h0m1.5 1.1h0m.9-1.5h0m1.9 .2h0m.1 .6h0m.4 1.8h0m1.2 .1h0m2.1-1.8h0m6.1 1.2h0m3.6 .2h0m1.3-1.7h0m-41.1 4.6h0m4.9-.9h0m0 .5h0m.8-.5h0m2.7-.9h0m1.8 1.5h0m.3-.5h0m2.5-.8h0m1.2 .5h0m1.1 .8h0m1.4-1.3h0m1.3-.6h0m1.7 .5h0m2.8 .7h0m1.2-1.1h0m.1 .4h0m.9 .9h0m1.1-1.4h0m1.1 2h0m.3-2h0m.3 1.8h0m.1-1.1h0m.7-.3h0m.3 1.2h0m1.1 .3h0m.2-.7h0m1.1 .7h0m1.7-1.7h0m3.2 1h0m4.2 1.7h0m2.7-2.4h0m-42.7 2.8h0m1.7 .2h0m1.7 .3h0m.6 .9h0m3.8-1.6h0m4.2 2.6h0m1.9-1.4h0m1.6 1.3h0m.8-2h0m.7-.6h0m0 1.4h0m.6-1.2h0m2.9 1.7h0m0 .2h0m15.3 .4h0m-39.7 2h0m12 .2h0m.6 .5h0m.3-.1h0m1.6-2h0m1.2 2.6h0m.4-1.5h0m.4 .7h0m3.4 .5h0m4.8 .5h0m.4-1.8h0m.9 .1h0m.1-1h0m2.9 1.4h0m.2 .4h0m3.3 .4h0m1.4-.8h0m.3-.6h0m.5 1.1h0m.6-1.5h0m3.2 1h0m1.3 .7h0m1.5-1.4h0m-43.5 2.5h0m.9 .8h0m5.7 1h0m3-1.5h0m.3-.8h0m6.6 1.5h0m.9 .5h0m1.7 .1h0m1.9-.3h0m2.2-1.2h0m1.6-.1h0m10.9 2h0m0-1.1h0m4.1-.1h0m-34.3 4.3h0m.7-.7h0m2.3 1h0m1.5-2.4h0m2.4 1h0m.3 .3h0m.8 .3h0m1.3-2h0m1.3 2.1h0m.4-1.1h0m2.7 .5h0m19.8 .5h0m1.2-1.2h0m-41.6 2.4h0m4.9 .6h0m1.9-.2h0m.2 .2h0m.8-.5h0m.1-.2h0m4.9 1.5h0m1.5 .4h0m.1-1.1h0m1.1 1.6h0m2-.8h0m.6 .1h0m19.7-1.9h0m.1 1.5h0m1.4 .4h0m-42.3 2.8h0m8.9 .1h0m2.7-.5h0m1.5 .2h0m1.9 .9h0m2.4-1.3h0m.3 1.6h0m.8-1.7h0m-18.4 5h0m1.5-2.8h0m4.6 1.7h0m.8 .5h0m6.7-1.9h0m3.9 1.1h0m-8.6 2.4h0m1.1 .6h0m2.7 .6h0m.1-1.1h0m.6 .1h0m1.9-1.1h0m-12.6 4.5h0m3.9 1.1h0m2.3-2.2h0m.2 .2h0m1.1-.6h0m.1 .1h0m4.6-.2h0m-4.1 3.8h0m1.1 0h0m3.4 1.2h0m-10.6 3.8h0m4.3-1.5h0m3.2 .5h0m.7 .2h0m2 .4h0m-12.4 2.3h0m.2-1.3h0m1.3 .4h0m3 1.6h0m1.7 .4h0m2.7-1.8h0m.3-.6h0m1.5 1.1h0m-5 3.6h0m2.6 0h0m2-.9h0m.4 .3h0m.1-1h0m-20.9 2.9h0m3.7 .4h0m7.9 2.2h0m1-2.9h0m1.8 .9h0m1.9-.1h0m-3.5 5.1h0m1.6-1.4h0m2 .4h0m.8-1h0m.7-.8h0m.3 1.3h0m1.3-.6h0m-18.1 2.9h0m11.9-.4h0m.6 1.1h0m.9-1.3h0m1.5 1.5h0m.2-.2h0m1.2 .4h0m10.4 .8h0m-23 2.4h0m2.9-.6h0m2.4 .7h0m.1-.3h0m2.3-.4h0m.4 1.3h0m1.3-.8h0m.6 .6h0m2.2-1.8h0m9.9 1.7h0m-20.4 2.5h0m.8-.5h0m2 1h0m0-2.5h0m1.8 2h0m.4-1.5h0m.4 .1h0m2 .3h0m.4 .9h0m.1-1h0m1 .8h0m2-1.4h0m.4 .3h0m11.5 .6h0m-28.4 2.7h0m9 1.5h0m2.7-1.5h0m3.7 .6h0m6.9-.7h0m.6 .6h0m.1 1.1h0m.5-.5h0m4-.2h0m0 .3h0m.3-1.2h0m.4 1.4h0m3.5 .4h0m.2-.4h0m-27.7 2.3h0m.4 0h0m3.7 .5h0m.2 .9h0m2-.4h0m1.4-1.8h0m2.6 0h0m1.3-.1h0m8.5 1.8h0m3.5-2.2h0m.6 2h0m2.4-.5h0m2-.3h0m-28.8 4.1h0m2.8-.8h0m.1 .9h0m3.2-.7h0m0-1.2h0m4.2 .4h0m5.9 .5h0m5-.6h0m1-.3h0m0 2.2h0m.5-2.6h0m1.7 2h0m1 .5h0m.5-.3h0m1.7-1.7h0m1.1-.2h0m.2 .2h0m1.1 1.7h0m-31 .7h0m3.5 .8h0m.9 1.2h0m2.8 .5h0m5.1 .3h0m1.2-2.8h0m.7 2.5h0m0-2.5h0m4.1-.1h0m1.1 .3h0m.7 1.4h0m6 0h0m1.3-1.3h0m1.6 1.5h0m.2 1h0m.2-1.3h0m-37.1 1.4h0m2.4 1h0m1.3 0h0m2.4-.2h0m.3 .9h0m8 .3h0m2.3 .6h0m1.2-.6h0m1.4-1.4h0m5.4 .5h0m7.9 .8h0m.7-.3h0m2.9 1h0m1.6-.3h0m2.8-1.2h0m2.2 1.2h0m.6-.9h0m-24.9 3.1h0m8.5-.1h0m1.1-1.3h0m2.4 2.5h0m.8-.6h0m2.6 .1h0m7.1-1.2h0m1.2 1h0m-35.7 3.1h0m4.4-1.9h0m4.6 1h0m3.8 1.3h0m1.1-1.2h0m2.6-1h0m2.3 2.3h0m.1 .1h0m.1-.8h0m1.1-.6h0m1.1-.4h0m1.8 1.1h0m.3-1.5h0m2.1 .6h0m3.9 .5h0m1-.7h0m.7 1h0m.5-.6h0m.1 1.3h0m.4 .3h0m.1-2.3h0m2.4 1.7h0m0-1.3h0m2.9 .1h0m-36.6 2.1h0m3.6 2.6h0m.4-1.3h0m4.7 .3h0m1.5 .6h0m.5-2.3h0m1.1 .9h0m.2 .1h0m.5 .9h0m.4-1.3h0m1.1 1.6h0m.8-1.7h0m1.2 1h0m.5-1.2h0m1.8 2h0m1.6-2.2h0m10-.1h0m1 2.4h0m.9-1.9h0m.3 2.2h0m1.7-1.5h0m.1 .5h0m-26.6 4h0m.3 .2h0m3.7-1.6h0m1.7 1h0m1.1 .5h0m3.3-1.4h0m.5 .4h0m9.8 .3h0m3.1-1.3h0m4.5 .9h0m.9 .7h0m.4-.4h0m.2 .4h0m-26.9 2.9h0m1.5-2.2h0m3.3 1.9h0m.9 0h0m1.8-.8h0m.1 1.5h0m.9-1.3h0m5.3 .7h0m1.4 .5h0m1.6-1.4h0m1.8-.3h0m1.6 1.9h0m3-2.6h0m.4-.3h0m1 2.6h0m0-1.8h0m.1-.3h0m.8 0h0m1.2 1.2h0m.1-.4h0m.4 1.1h0m.5-1h0m-39.4 1.9h0m7.5 2.1h0m4.2-.4h0m.5-1h0m.7 0h0m2.4 .2h0m2.1-1h0m.2 .8h0m1.1 1.9h0m1.6-.6h0m.1-.5h0m0-.9h0m.6-.3h0m1 .7h0m.2-.2h0m3.5 .4h0m.8 .3h0m1.7-.1h0m.6 1.1h0m.8 0h0m3.7-1.1h0m.3-.8h0m-32.4 3.6h0m.9-.8h0m.4 .2h0m7.7 1.2h0m.8 .3h0m4.6 .1h0m4.7 0h0m0-1.9h0m1.2 .3h0m.3 1.2h0m.1-1.4h0m5.2 .5h0m5 .5h0m2.5-.9h0m1.6 0h0m.1 1.3h0m1.7 .3h0m2.2-2.3h0m-35.5 5.4h0m.6-2.4h0m3.3 .3h0m4.3 .2h0m.7 1.2h0m1.4-1.6h0m4.9 2.5h0m3.2-1.1h0m1.6-.1h0m1.1-1.3h0m.6 1.7h0m1.2-.9h0m.3-.2h0m.2-.5h0m6 .8h0m.2 .9h0m1.2-.7h0m1 0h0m5.1 .3h0m-41.8 3.8h0m3.7-.1h0m.5-.6h0m4.4-1.5h0m2.1 2.6h0m.5-1.8h0m5.4-.2h0m.5-.1h0m5.1 1.4h0m.3 .6h0m.4 0h0m3.5-2h0m4.7 1h0m1.4 .7h0m.7-.7h0m1.2 .4h0m2.1-2h0m3.5 1.1h0m1.6 .9h0m.9 .6h0m-38.5 .3h0m10.3 2.8h0m2-.6h0m1.4 .4h0m.4-1.7h0m.7 1.6h0m1 .4h0m.8-1.8h0m4.5 .4h0m1.8-1.5h0m3.6 2h0m1.3-.8h0m2.3 .5h0m3.6-.9h0m.8 1.4h0m0-1.4h0m4-.2h0m-32.9 3.8h0m3.1 .9h0m.2-1.6h0m2.3 .4h0m.8 1.8h0m4.6-2.4h0m.5 1.9h0m.2 0h0m.4-1h0m.9 1.5h0m.9-.3h0m.2-.7h0m.7-.8h0m.5 1.5h0m3.8-.7h0m.2 .7h0m1-1.3h0m.2-.7h0m1.7 1.1h0m.5-1.6h0m2.5 2.1h0m.1-1.2h0m2.4 1.4h0m1.6-.5h0m1.2-1h0m.3 1h0m.2 .6h0m0-1.1h0m1.1-1.1h0m1 2.3h0m.8-.1h0m-41.2 2.7h0m4 .4h0m5.4-.4h0m1.2 0h0m3.5 .1h0m1.4-.4h0m.5-1.2h0m.8 1.3h0m8.7 .7h0m1.7 0h0m1.4-1.8h0m.1 .9h0m4.3 .3h0m2.7 .3h0m.7-.9h0m.6-.4h0m3.2 1h0m.1-.2h0m1.5 .1h0m-40.4 3.8h0m8.8-1.3h0m1.1-1.1h0m1.6 1.6h0m3.5 .6h0m2.3-1.6h0m1.9-.6h0m.3-.3h0m.9 0h0m.8 1.9h0m9.6-.9h0m.2 1.4h0m1.4 .4h0m3.1-1.6h0m1.8 .9h0m1.1-.1h0m3.6 .1h0m-43.7 1h0m8.6 1.3h0m1.8-1.1h0m.2-.3h0m1.4 2.7h0m.8-.4h0m1.1-.3h0m.6-.6h0m1.8-.2h0m.6-1.3h0m.6 .3h0m.6 1h0m1.2 .7h0m2.5-.7h0m.2-.9h0m3.2 1.5h0m.6 1h0m.2-1.9h0m.7 .2h0m.1 .2h0m1.2-.8h0m1.6 2.4h0m3.5-1.2h0m.7-1.1h0m1.5 1.8h0m1.9-1.8h0m.1 1.6h0m1.5-1.3h0m1.2 1.3h0m-30.3 3.4h0m.2-.5h0m.9-1.2h0m2.7-.7h0m6.9 1.9h0m.5-.5h0m4.3-.7h0m.2-1h0m5.6 2.5h0m.2 .1h0m3.2-2.3h0m.5 .5h0m.7 1.9h0m1.4-1.2h0m3.5-.5h0m2-.7h0m-34.7 3h0m6.4 1.5h0m1.7 .1h0m2.3-1.5h0m1 .5h0m3.4 .1h0m2.1 .6h0m.2-1.3h0m1.4-.2h0m.2 2.8h0m.2-.3h0m1.2-.2h0m.5-.9h0m1.3-.4h0m3.1-.7h0m5.9 1.3h0m3.2 0h0m-29 2.9h0m1.2-1.1h0m2.3 .7h0m.4-.9h0m.3 .9h0m1.7 1.5h0m.9-2.1h0m.8 .4h0m.3-.9h0m1.8 2.4h0m.5 .3h0m2.6-.1h0m3.7 .2h0m2.1-1.8h0m1-.2h0m1.1-.7h0m2.4 1.4h0m.1-1.3h0m1.4 .5h0m3.6-.3h0m-23.7 5.2h0m1.6-1.1h0m2.2-.4h0m.4 1.7h0m3.4-1.8h0m3.6 1.5h0m1.6 0h0m3.2-1.7h0m1.2 1.4h0m2.8-.5h0m-24.5 4h0m.3-2.3h0m6.9 .3h0m.1-.6h0m1.4 .5h0m2.4 .6h0m1.1 .9h0m2.5-.2h0m1.7 .5h0m2.6-2.3h0m1.8 2.5h0m.3-2.2h0m2 1.8h0m.3-1.3h0m1.1-.6h0m.5-.1h0m-16 5.6h0m1.9-1.3h0m1.1-1.1h0m1.4 .5h0m1.8 1.6h0m3.7-1.9h0m.8 .8h0m.2 .4h0m-11.8 1.4h0m4.9 .3h0m2.1 1.2h0m.2 .5h0m.5-1.7h0m-8.4 3.3h0m.9 .4h0m1.1 .3h0m2.3 0h0m0-.4h0m.2-1h0m2.1 .1h0m.8-.1h0" stroke="#e377c2" stroke-width="1.15" stroke-linecap="square" fill="none"/>
<path d="M227.7 155.1h0m1.6 .2h0m16.9 .8h0m6.3 2.8h0m-30.3 3h0m7.7-2.3h0m1.6 1.9h0m18.3-.4h0m2.3-.8h0m-23.3 2.7h0m.7 .8h0m12.5 .3h0m-10.6 1.1h0m.4 .3h0m2.2 1.4h0m-14.8 1.7h0m7.2 1.3h0m2.2-.3h0m10.6-.4h0m1.8-.8h0m9 .1h0m6 2.1h0m0-.4h0m-30.6 2.6h0m18.8 .8h0m6.2-2h0m2 1.2h0m-42 4h0m5.3-1.9h0m4.7 .6h0m7.4-.2h0m0-1.1h0m3.8 .1h0m15.1 2.6h0m-23.1 2.5h0m3.3 .2h0m8-.8h0m-28.3 4h0m2.9-1.5h0m28.1-1.1h0m-24.7 4.9h0m6.8-.5h0m3.3 .6h0m21.4-1.7h0m2.4 0h0m-37.5 7.3h0m4.6 1.8h0m-5.4 2.6h0m-3.5 8.6h0m12.2-2.6h0m-9.3 6h0m10.1 .3h0m-10.5 8h0m1.9-.1h0m3.1 .8h0m1.4 1.3h0m1.1 .1h0m-8.1 3.7h0m18.3-2.3h0m-18.1 4h0m4.3 .1h0m1.4 4.4h0m7.1-.7h0m3.2 .7h0m-18.6 4.9h0m3.1-1.4h0m20.5 1.6h0m4.6 .6h0m-29.9 3.6h0m6.5-1.7h0m8.3 1h0m3.9-1h0m7.9-.2h0m-30.4 3.2h0m7.6 4.8h0m4.6-2.1h0m3 1.3h0m2.1 .4h0m8.2 .3h0m.8-1.3h0m7.4-1h0m.3 2.3h0m1.1 2.7h0m-38 1.7h0m19.1 3.2h0m13.4 .9h0m6.9 .1h0m.6-1h0m-33.5 2.3h0m6.2 1h0m6.5 .3h0m5.3 .5h0m6.5 0h0m-27.2 2.2h0m23.6 0h0m-4.8 3h0m15.6 .9h0m.6 0h0m1.6-.2h0m1.5-1.3h0m-38.7 2.9h0m16.1 1.9h0m2.5-.5h0m6.7-.9h0m3.3 .6h0m.9 .6h0m3.6-.6h0m-30.5 5.5h0m11.1 .8h0m5.8-2.4h0m16.2 .7h0m.7 1.3h0m5.7-1.5h0m-26.9 3.8h0m7.1 0h0m16-.3h0m4.9-.8h0m.9 2.7h0m-39.2 2.6h0m8.7-1.1h0m-12.5 1.9h0m2.9 2.5h0m.4-.1h0m15.1-.1h0m0-.3h0m12.3-2.1h0m7.7 1.1h0m-24.3 3.9h0m-1.5 3.4h0m4.4 .4h0m13.7-1.5h0m-24.8 3.7h0m20.6-1.7h0m-12.1 5.3h0m4-2.4h0m19.9-.1h0m.9 1.5h0m-24 3.4h0m14.2-1.8h0m6.3 4.4h0m-6.6 7.5h0" stroke="#dbdb8d" stroke-width="1.15" stroke-linecap="square" fill="none"/>
<path d="M220 245.4h0m1.9 3.1h0m1.8 .4h0m2.1 0h0m1.8-.3h0m-8.1 2.6h0m.1-2h0m0 .2h0m.6 1.5h0m.4-.2h0m2.2 .3h0m2.2 1.4h0" stroke="#c7c7c7" stroke-width="1.15" stroke-linecap="square" fill="none"/>
</g>
<g clip-path="url(#cp7)"><path d="M230.8 178.2h0m-1.3 2.3h0m6.6 9.9h0m-14.1 2.2h0m12.7-.5h0m8.2 2.1h0m-21.3 3.2h0m.1-.4h0m17.5-.6h0m-10.1 4.2h0m2.8 .4h0m-10.6 .7h0m11.2-.6h0m-2.7 5.6h0m.4-2.1h0m-8.6 2.5h0m-.8 8.7h0m11-1.4h0m5.2 .7h0m.9-1h0m-16.1 3.8h0m13.3-.7h0m-17.4 2.6h0m.2 2.1h0m17.8 5.5h0m-20.5 6.7h0" stroke="#9edae5" stroke-width="1.7" stroke-linecap="round" fill="none"/></g>
<g clip-path="url(#cp8)">
<path d="M312.4 146.9h0m4.2 2.5h0m16-.3h0m-25.2 1.6h0m2.1 2h0m26.4-.2h0m-33.4 2.2h0m17.1-.7h0m-16.4 2.7h0m6.6 .8h0m4.8-.5h0m5.4 0h0m1.6 1h0m5 .7h0m-21.5 2.5h0m1-.9h0m7 1.6h0m11.2-2.1h0m8.7 0h0m-21.9 4.9h0m6.2-.8h0m11.8-1.3h0m-15 2.7h0m3.3 1h0m2.4-1h0m1.4 1h0m.4-.6h0m3.3-.2h0m-17.1 4.9h0m9.5-1.4h0m5.7-.9h0m8.1 1.9h0m1.1 .7h0m-26.5 .4h0m1.7 2.7h0m9.4-1h0m13.5-1.1h0m-39.4 4.7h0m15.9-.6h0m18.8-1.7h0m-39.8 5.5h0m6.2-2.2h0m6.2 2.1h0m4.2-2.5h0m.8 1.1h0m.1-.2h0m17.3 .3h0m1.1-1.1h0m-34.1 3.1h0m2.7 .4h0m2.2 1.5h0m31.8 .4h0m-34.6 .6h0m6.3 1.8h0m30.9-.4h0m-45.7 8.6h0m8.2 6.5h0m-9.7 3.8h0m4.4-1.4h0m2.3 .6h0m2.8-.9h0m3.9-.2h0m2.4 2.2h0m-9.5 2.7h0m-3.9 1h0m-.8 5.4h0m1.8-2.5h0m2.7 1.6h0m.4-.2h0m1.8-.2h0m-11.8 3.5h0m17.9-.1h0m1.3-.1h0m-21 6.3h0m15.7 .6h0m5-.7h0m13.4 .9h0m-19.6 2.9h0m16-2h0m1 1.2h0m2.5-.9h0m.8-.7h0m-32.7 3.4h0m14.5 1.9h0m12.7-1.1h0m6.4 1h0m-29.5 1.2h0m14.9 1.4h0m3.3-.5h0m13.8 .9h0m-37.6 2.8h0m8.5 .2h0m2.9-.3h0m22.4 .5h0m5-.1h0m.4 .3h0m-33.3 1.2h0m4.3 .8h0m2.5-1.8h0m6.5 2.3h0m3.6-1.9h0m-20.7 4h0m.4 1.4h0m13.6-.9h0m12.3-.5h0m1.5 .1h0m3.2 .9h0m7.1-.7h0m-38.4 1.4h0m.7 1.3h0m10.2-1h0m2.2 2.3h0m1.4-1.8h0m-11.2 3.9h0m23.1-1.8h0m2.8 1.6h0m.5-.6h0m8.8 .9h0m-32.3 1.6h0m4.5 .9h0m9.8 .7h0m.2-2h0m3.1 1.1h0m12.7 .1h0m.7-1.1h0m-39.6 3.7h0m6.3 .5h0m2.3-.6h0m4.3 .5h0m5.1-1.1h0m3.5 2.4h0m6-1.9h0m4-.9h0m3 3h0m3.6-.3h0m.3-2.6h0m-32.5 5.5h0m2.5-2.4h0m14.7 1.2h0m.9 .1h0m2.5 .9h0m12.3-.1h0m-37.8 2.4h0m6.5-1.5h0m2.4 2.5h0m4.7-2.7h0m13.9 1.9h0m.1-1.5h0m.5 .3h0m6.5 2.1h0m1.4-.5h0m4.8-1.8h0m-27 4.5h0m4.7-1h0m6.8 0h0m20.8 1.7h0m-39.3 1.2h0m13.2 1.7h0m1.9-1.4h0m2.3 1.7h0m3.1-.8h0m.8-1.6h0m1.1 .6h0m7.1 1.1h0m9.3 3.3h0m-42.6 2.8h0m5.2-.4h0m11.2-.8h0m1.1 .1h0m4.7-.4h0m5.3-.2h0m-16 4.1h0m2.4 1.1h0m13.9-.2h0m5.2 2.5h0m1.6 .7h0m12-.4h0m-41.5 2.5h0m22 .5h0m12-.7h0m-12.8 1.4h0m-21.9 3.8h0m9.9 .7h0m8.6-1.1h0m3.6 .9h0m1.3-.6h0m5.8 1h0m7.3-1.5h0m2.8 2.4h0m-33.6 2.6h0m2.2-2.1h0m13.4 .5h0m-13.4 7h0m4.3 .5h0m.3 1.4h0m5.7 1.8h0m-7.9 2.2h0m14.5 .6h0m6.4-2h0m-12.4 5h0" stroke="#1414f5" stroke-width="1.85" stroke-linecap="square" fill="none"/>
<path d="M311.9 149h0m-1.7 3.5h0m10.7-2.3h0m14.3 .3h0m-9.5 3.8h0m10.8 1.6h0m-29.6 1.8h0m8.8-.9h0m10.3 2.2h0m4.8-1.4h0m-29.5 4.1h0m7.2-1.9h0m22.5 .5h0m-33.8 2.4h0m14.4 1.8h0m1-2.2h0m16.3 1.2h0m5.9-.2h0m-38.3 3.8h0m.8-.8h0m4.8-.4h0m16.4-.4h0m-10.9 3h0m20.9 1.2h0m-32.6 2.7h0m10.6-.4h0m3.3 .7h0m3 .3h0m15.1 .3h0m-6.6 3h0m-29.3 2.3h0m25.6-1h0m2.3-.3h0m.3 2.5h0m2-.8h0m-29.4 1.4h0m9 0h0m5.7 0h0m18.2 .3h0m-33.3 3.9h0m7.7-1.3h0m-13.9 5.6h0m4.4-.8h0m-.8 2.3h0m8.3-1.2h0m-4.7 7.5h0m-3.7 2.4h0m-8 4.3h0m12.6 0h0m2-1.2h0m-17.5 4.2h0m17.1-2.3h0m.4 2h0m-12.7 2.3h0m7.7-.2h0m-15.8 7.1h0m6.5-1.9h0m-7.7 5.1h0m4.9-1.8h0m10.3 .3h0m-13.2 4.4h0m.6-2.2h0m3.9 .5h0m3.5 .6h0m1.3 1.8h0m-9.3 5.6h0m5-.1h0m.6-.3h0m-8 3.6h0m3-.2h0m14.2-.9h0m9.7 0h0m7.6 .9h0m3.2-1.2h0m.2 .3h0m-31.2 2.3h0m1.8-1h0m3.6 2.9h0m15.9-1.9h0m4.2-.5h0m.8 .7h0m-27.6 4.6h0m4.5-1.6h0m1.4 1.5h0m4.1-1.8h0m11.2-.4h0m-13.6 4.2h0m6.1-.6h0m15.9 0h0m2.5 .1h0m3 .2h0m-11.1 3.6h0m.7-.5h0m.1 1h0m3.6-1.7h0m2.8 1.1h0m-32.5 2.7h0m7.1 1h0m10.9-1.5h0m4.7 1.5h0m5.5-2h0m.8 2h0m7.1-2.4h0m-40.4 3.2h0m6.6 1.4h0m11.1-.9h0m9.5 .9h0m1.5-1.4h0m6 .8h0m1.6 .7h0m1-1.5h0m4.6-.1h0m-39.6 3.1h0m2.8-.5h0m1.5 1.2h0m1.9-.5h0m3.3 1.6h0m3.2 .6h0m8.9-2.6h0m9.4 .6h0m1.9-.5h0m5.7 1.8h0m1.2-2.1h0m-33.8 5.4h0m4.6 2.1h0m8.7-.6h0m22.1 1.3h0m-31.5 2.2h0m5.3-.9h0m12.2 .1h0m16.4 .4h0m-40.6 2.6h0m5.3 1.1h0m-7.3 2.1h0m18.1 1h0m21.8-.4h0m4.6-1.2h0m-34.7 5.5h0m1.7-2.3h0m3.6 .5h0m1.5 1.1h0m2.9-.4h0m2.7 .9h0m.4-.8h0m22.4-1.2h0m-16.4 3.2h0m3.7-.3h0m3 1.6h0m1-1.2h0m3.2-.6h0m-12.8 4.8h0m6.2 .4h0m-11.8 .6h0m17.7 2.2h0m-33.8 3.7h0m10.2-.9h0m14.6-.3h0m10.4 .7h0m-30.5 1.3h0m.4 2.1h0m9.8-2.4h0m.9 .4h0m13.7-.4h0m-27.1 2.7h0m14.9 1.9h0m2.1-2.1h0m5.1 1.2h0m.7-.7h0m.8 .5h0m3.1 1.9h0m.7-1.4h0m-26 2.4h0m9.3 .6h0m6.3 .7h0m13.1-1.2h0m5.3 0h0m-19.8 3.6h0m7-.8h0m5.5 .4h0m-18.9 4.7h0m6.4-2.1h0m1.9 1.3h0m12.5 .5h0m-22.3 .5h0m10.9 4.2h0m7.3 0h0" stroke="#f51414" stroke-width="1.85" stroke-linecap="square" fill="none"/>
<path d="M310.1 144.8h0m4.1 3.1h0m1.8 1.6h0m14.8 .8h0m4 1.3h0m-22.7 2.1h0m22.1-.6h0m4.4 2.8h0m-31.5 2.4h0m-2.2 1.4h0m27.8 1h0m2.7 1.2h0m1.6-.4h0m-22 3.1h0m9.3 .1h0m5.4-.8h0m5.9 0h0m-35.4 3.7h0m12-.5h0m25.5-1.2h0m.1-.4h0m-39.9 4.4h0m22.7-1h0m.2 .5h0m5-.4h0m-20.1 4.3h0m4.4-.4h0m15.3 1h0m.3-1.7h0m-37.8 3.6h0m.5 4h0m19.2 1.2h0m-16.5 3.7h0m.2-.5h0m12.5 0h0m22.8-.8h0m-39.6 2.7h0m-4.3 4.3h0m4.1-.1h0m2.7 .8h0m5.9 .6h0m-7.5 .6h0m-5.8 5.6h0m2.4-2.4h0m-2.2 4.6h0m1-.8h0m15.1 1.1h0m.8-.1h0m-16.7 .8h0m-3.6 4.8h0m-2.7 5.6h0m6.1-.1h0m9.6 .1h0m1.7 3.5h0m.2-.9h0m-12.2 4.7h0m.8-1.3h0m6.1 2.6h0m20.6 4.5h0m-16.6 1.9h0m11.7-.7h0m5.3 .2h0m-20.1 2.8h0m1.2-.2h0m1.2 1.7h0m3.4-2h0m-14.1 5.8h0m24.3 1.9h0m7-.6h0m-27.4 2.3h0m9.3 2.2h0m.1-.4h0m6.5-1.3h0m-11.4 4h0m12-1.9h0m-17.6 5.1h0m4.9-2h0m3.3 .4h0m-11 3.5h0m4.3-.2h0m19.9-.2h0m5.4 1.8h0m-24.5 2.5h0m15.8-.9h0m-13.8 2.8h0m19.2 4.8h0m-9.3 1.2h0m19.9 .6h0m-39.2 4.3h0m15.1 1.4h0m-6.5 2.7h0m11.6 .9h0m16.4 2.1h0m-34.9 3.8h0m35.7 .2h0m5.7-2h0m-18 3.1h0m-22.9 3.3h0m8.8-.3h0m5.6 .4h0m11.8 2.2h0m8.6-.1h0m4-1h0m3.1 0h0m-20.3 3.5h0m-1.5 2.6h0m7.5-.1h0m-23.1 1.6h0m16.6 1.5h0m-7.8 1.9h0m1-.3h0m16.1 .6h0m.7 1.9h0m-23.3 1.4h0m14-1h0m8.5 2.1h0m-15.2 1h0m4.1 .1h0m7.8 1.4h0m-.2 2.6h0" stroke="#19e619" stroke-width="1.85" stroke-linecap="square" fill="none"/>
<path d="M306.1 152.9h0m8.6-1.9h0m3.7 4.6h0m2.2 .3h0m6.6-1.8h0m-23.2 4.6h0m2.5 .3h0m1.5-.4h0m1-2.3h0m3.3 .8h0m.8 1.7h0m4.6-.6h0m7 .8h0m9.3-2.2h0m.9 .6h0m.7 1.1h0m-29.3 6.1h0m25.5-2.4h0m-7.5 4h0m-16.3 2.2h0m5.9 2.1h0m-18.3 3.3h0m12.1-2.3h0m20.7 1.8h0m-34.6 1.6h0m10.2-.9h0m12.6 .5h0m4.2 4.9h0m7.6-1.4h0m-40.9 4.7h0m7.6 2.6h0m-9.4 1.9h0m2.9-.9h0m12.1 4h0m-7.7 9h0m3 1.6h0m-18.3 2.1h0m13-.9h0m-14.2 5.9h0m21.4 1.4h0m-11 2h0m2-.2h0m1.9 .3h0m-11.9 2.6h0m1.3 .3h0m6.9 .4h0m6.2-1.2h0m.5 7.8h0m-5.5 .6h0m2 2.6h0m14.8 .1h0m-25 1.3h0m14.7 .2h0m10.6-1.2h0m-26.1 5.4h0m6.1-.2h0m25.9 .3h0m-30.5 1.5h0m33.3-.3h0m-11.1 4.8h0m1.9-2.4h0m-8.4 4.7h0m2.6-.6h0m4.1 .9h0m10.6 .4h0m-37.6 .7h0m7.3 2.3h0m5.2-1.7h0m9.5 .6h0m0 .2h0m15.8 .1h0m.4 1h0m-29.2 .6h0m30.9 1.9h0m-27.6 2.4h0m8.1 .8h0m11-1.9h0m-20.7 2.5h0m12.4 .4h0m6.7 2.5h0m-30.8 2.7h0m21.4-.3h0m-14.5 1h0m35.6 .7h0m-12.4 3.3h0m-14.3 2.3h0m3.5 1.7h0m5.9 .1h0m18.6-1h0m-27.8 1.6h0m-11.5 4.2h0m2.5 1h0m.3-1.2h0m12.5 .3h0m9.4-.1h0m4.1 .8h0m6.3 .9h0m.3-1.4h0m.6-1.5h0m7.5 .1h0m-35.1 4.5h0m10.2-.4h0m15.1-.8h0m10.8 .5h0m-15.6 2.2h0m5.6 .2h0m-24 4.8h0m9.9-.3h0m1.8-.6h0m2.7 1h0m-18.9 4.1h0m5.2 2h0m4.6-.1h0m7.8-2.1h0m11.7 .7h0m4.1 .7h0m-14.2 2.6h0m.7-.6h0m1.5 1.8h0m5.8-2h0m2 .2h0m6.5 .3h0m-24.7 2.9h0m10.8 1.5h0m.2-.1h0m1-1h0m8.1 2.1h0m-15.4 4.6h0m7.4-1.3h0m-8.3 5.6h0" stroke="#9b22ee" stroke-width="1.85" stroke-linecap="square" fill="none"/>
<path d="M311.4 147.9h0m1.3 .7h0m12 .8h0m2.2 .2h0m7.3 1.8h0m-19.5 3.4h0m4.5-1.3h0m5.2 .4h0m3.2 1.6h0m-27.3 2.8h0m9.7-1.8h0m23 1h0m2.1-1.4h0m1 1h0m1-1h0m-34.6 5.6h0m9.7-.6h0m2.1-.9h0m5.9 .5h0m-22.1 1.7h0m2.5 .7h0m6 .4h0m2.6 1.1h0m1.4-1.4h0m6.2-.6h0m-17 5.3h0m2-.6h0m1.2-1.2h0m2.1 .7h0m4.4 .5h0m-16.8 1.4h0m2 1.8h0m3.6 .3h0m.7-1.7h0m3.1 .5h0m.3 1.1h0m5.5-1.9h0m-.4 3h0m9 .4h0m5.8 .6h0m-23.1 4h0m5.4-1.7h0m2.2-.6h0m1 2h0m17.8-.7h0m-34.9 3.4h0m-5.1 3.3h0m12.5-2h0m21.9-.3h0m5.5 .1h0m-38.7 4.2h0m10.9 1h0m29-1.5h0m-38.2 2.1h0m3.6 1.5h0m2.6-1.5h0m2.3 9h0m1.3 .3h0m-18.3 4.1h0m1 0h0m.4 1.2h0m1.2-2h0m3.3 1.7h0m7.7 .3h0m5.1-.7h0m-19.4 3.5h0m16-.7h0m1.2-1.3h0m-19.2 4.5h0m5.1 0h0m9.5-1.7h0m2.2 .3h0m-14.3 4.6h0m4.7-1.2h0m10.6-.9h0m2.2 1.7h0m-15 1.4h0m6.9 1.1h0m-13.1 1.9h0m6.5 2.2h0m-3.5 .9h0m.7 0h0m8.8 0h0m3.8 .7h0m-15.2 5.3h0m.8 1.9h0m2.1-.6h0m6.1-.7h0m3.1 .3h0m-15.5 4.5h0m.3-.5h0m2.5-.1h0m6.3 .8h0m16.4-.3h0m-24.8 2.1h0m1.8 1.3h0m11.9-2.7h0m14.2 1.9h0m1-.7h0m-21.4 3.1h0m13 0h0m4.3 .8h0m9.6 .1h0m-13.2 3.4h0m5.7-2h0m2 1h0m3.1 3.3h0m3.1-2.1h0m-21.3 5.1h0m-12.4 3.1h0m22-.4h0m.8 0h0m5.4 1h0m-21.2 .8h0m.2 .7h0m7.9-1.1h0m11.9 1.3h0m-22.6 3.3h0m20-.2h0m-13.6 3.4h0m8 .6h0m12.2-1.9h0m.6 1.3h0m3.5-.6h0m-13.4 4.2h0m14 .1h0m4.3 2h0m-27 1.9h0m8 2.2h0m1.7-.6h0m3.6 .5h0m2.3-.8h0m.3 .2h0m11.6 .8h0m-35.6 2.4h0m.8 0h0m12.4-2.4h0m5 1.9h0m.3-.1h0m9.5-.1h0m.6-.4h0m6.9-.4h0m1.1 1.6h0m.4-1h0m-36.5 3.3h0m1.4 .1h0m5.7 0h0m7.2-.3h0m5.4-.5h0m3.2-1h0m4.4 .1h0m7 .3h0m5.4 1.2h0m-40.6 3.3h0m6.9 .2h0m7.8-1.2h0m.9 .6h0m7.1-.9h0m12.5 1.1h0m-29.3 1.6h0m6.7 .6h0m24.5 1.1h0m4.1-1.6h0m-27.6 3.8h0m1 1.5h0m5.5-1h0m2.6-1.4h0m2.7 1.9h0m10.2 .5h0m8.8-2h0m-37.3 4.3h0m6.6 .7h0m20.7-2.1h0m4.5 .3h0m-31.8 3.6h0m.6 .3h0m5.9 0h0m11-.3h0m2-.4h0m-16.8 2.1h0m14.7 1.3h0m1.7 .6h0m1.7 0h0m.6-2.2h0m12.4 2.5h0m-33.5 4.4h0m.8 1h0m11.8-1.1h0m.6 .3h0m1 0h0m3.5 1.5h0m-8.4 2.1h0m-1.5 3.9h0m.6-2.1h0m.9 .6h0m2.3 2.9h0m4.5 2h0m.2-2.7h0m3.5-.2h0m1.9 1.3h0" stroke="#1414f5" stroke-width="1.85" stroke-linecap="square" fill="none"/>
<path d="M310.4 147.8h0m1.3 6.6h0m10.9 1.1h0m-4.6 1.3h0m14.8 .2h0m1.4-.5h0m-21.8 4h0m1.4-1.2h0m1.4 1.2h0m11.1 1h0m1.2-2.1h0m-11.9 3.5h0m3.7-.6h0m.3 2.1h0m12.8-.9h0m3.1 0h0m-39.4 1.6h0m11.1 2h0m3.1 .1h0m16.5 2.4h0m1.6-1.1h0m6.7 .3h0m.1 .2h0m-43.7 3h0m.3-.7h0m24.6 .1h0m8.1 1.4h0m-34.8 3.8h0m7.6 .2h0m10.6-2.6h0m14.7 1.7h0m3.1-1.5h0m1.2 1.4h0m-37.4 3.5h0m6-1.2h0m5.2-.8h0m-13.1 5.4h0m13.6-.6h0m.9-1.9h0m-10 4.9h0m8.1-.7h0m27 .4h0m-34.7 3.4h0m4.9-.7h0m-11.7 2.3h0m2 1.4h0m7.6-1.1h0m4.4-1.1h0m-12.7 4.7h0m3 .6h0m.6-1h0m3.9 1.5h0m5-1.5h0m-10.4 2.3h0m-8.3 3.7h0m2-1h0m13.6 1.8h0m-6.2 1.3h0m-11.8 5.5h0m8.3-.4h0m3.6-2.3h0m2.1 1.7h0m-11 2.3h0m7.9 1.1h0m-8.7 6.4h0m-4.6 2.2h0m5.3-.1h0m3.3-1h0m-8.1 3.3h0m4.9 .5h0m3.2 1h0m1.8-2.1h0m17.2 .1h0m-29.1 2.6h0m2.6 1.5h0m5.5 2.1h0m3.9 .1h0m3.8 .7h0m2.1 3.8h0m-2.7 2.2h0m.2 1.3h0m17.3-1.3h0m-23.1 1.8h0m2.5 1.1h0m4.2 1.3h0m9.9-.1h0m5-1.4h0m4.7-1.3h0m-31.7 3.9h0m1.3 .3h0m8.5 1.1h0m21-1.4h0m-35.1 3.4h0m2.3-.7h0m15.2 .9h0m1.4-.1h0m22.8 1.3h0m.4 2h0m-24.2 2.4h0m3.7 .7h0m-21.8 3.7h0m9.2-.7h0m8.2 .7h0m.8-.2h0m9.9-1.3h0m-18.9 2.6h0m27.8 2.4h0m.5-2.6h0m3.7 1.8h0m2-2.1h0m-33.2 4.5h0m7.1 0h0m.1 .1h0m2.9-1.2h0m2 1.7h0m14-1.9h0m2.9-.2h0m-34.3 3.2h0m19.7 1.3h0m6-.4h0m1.4-1h0m3.2 1.6h0m.8 .5h0m7.2-1.9h0m-29.1 4.9h0m11.1-1.7h0m21.6 .4h0m-35.5 4.2h0m2.2 .4h0m.7-1h0m8-.1h0m13.8-.9h0m10.8 .4h0m-34.6 2.6h0m14.6 1h0m11.3 .5h0m-33.3 2.4h0m9.8 1h0m8.1-1.7h0m4.7-.4h0m10.6 2.2h0m1.3-.3h0m4.6-2.1h0m-38.6 4.6h0m2.9 .1h0m2.7-.2h0m3 1.2h0m5.1-2.6h0m15.1 1.9h0m15.7-.5h0m-43.9 1.5h0m4.5 .7h0m4-.2h0m1.9 1.7h0m5.6-1.9h0m8.4 1.9h0m19.6 .1h0m-39.8 .8h0m.7 1.9h0m8.2-.4h0m15.4 .8h0m2.4 .4h0m2.4-1.8h0m.5 .8h0m1 .3h0m-29.3 2.5h0m1.5 1.9h0m2.5 2.2h0m8.4-1.4h0m7.1-1.4h0m1 2.8h0m12.2-.5h0m-32.3 1.6h0m.8-.8h0m19 1h0m-15.5 4h0m0-.3h0m9.7 .3h0m13.4-1.7h0m2.7 .5h0m1.2 .9h0m.9-.3h0m-24.4 3.6h0m10.1-1.2h0m8.8 .2h0m-5 8.1h0" stroke="#f51414" stroke-width="1.85" stroke-linecap="square" fill="none"/>
<path d="M327.9 152.8h0m3.5-.6h0m-26.9 3.6h0m7.1-2.4h0m15.2 1.8h0m5.7 .2h0m.1 .3h0m-32.7 1.7h0m1 .8h0m12.9-2h0m7.9 2.1h0m10.3-1.9h0m-26.4 4.6h0m8.1-.8h0m.7 4.6h0m3.2-1.3h0m-12.2 2.2h0m2.9 1.2h0m17 .1h0m-23.1 1.7h0m16.2 2h0m5.8-.5h0m-1.2 3.1h0m3.8-1.6h0m-1.9 5.3h0m-25.4 .3h0m30.6 0h0m-32.6 3.2h0m-12.6 5.5h0m15.9 .1h0m.2 2.5h0m-12.6 11.8h0m1.5 .9h0m1.2 .1h0m7.1 2.1h0m-20.1 .9h0m4.6 3.3h0m-6.8 4h0m6.5 .1h0m12.6-1.7h0m-13.5 4.9h0m.6-.2h0m-4.2 5.8h0m3 .4h0m6.9-1.6h0m16.9 .2h0m-10.2 3.2h0m14.3 1.8h0m-15.2 2.1h0m-4.8 5.6h0m5.7 4h0m1.2-2.3h0m10.3 1.4h0m3.2 .6h0m2.1-.1h0m-37.4 2.9h0m15.6-1.2h0m10.5 2h0m15.3-2.4h0m-32.2 5.1h0m1.1 .2h0m1.1-1.7h0m23.8 1.4h0m-4.8 3h0m-2.8 3.2h0m.4 .2h0m-26.8 1h0m16.6-.2h0m4.7 2.1h0m.6-2.1h0m3.3 .1h0m11.4 .1h0m-7.4 3.4h0m-13.9 4.4h0m17.2 .3h0m7.4-1.6h0m-34.6 1.9h0m5.2 2.1h0m6-1.3h0m8.7 2.1h0m6.1-2.5h0m-9.2 5.5h0m1.1-2.4h0m2.4 2h0m3.1-.1h0m-8.6 1.3h0m16.4 1.8h0m3.5 .4h0m.1 .1h0m1 0h0m-34.9 5.2h0m13.8-1.5h0m2.1 0h0m21.5 .9h0m4.8-.1h0m-21.5 7.1h0m.8-2.4h0m17.4 1.9h0m-16.4 2.5h0m3.7-1.3h0m-23.5 5h0m-.7 1h0m10-.1h0m3.7 1.2h0m16.1 .8h0m-12.9 1.3h0m10.4 .5h0m9.9 .5h0m-11.8 3.6h0m3.1-1h0m4 .1h0m-18.9 4.2h0m1.1-.7h0m6.2 1.2h0m-1.3 .8h0m3.1 1h0m1.2 3.6h0m2.6-2.1h0m.5 2.2h0m-1.9 .8h0" stroke="#19e619" stroke-width="1.85" stroke-linecap="square" fill="none"/>
<path d="M309.5 152.3h0m8 .2h0m-.8 1.8h0m7.7-1.2h0m1.9 2.3h0m-17.7 3.2h0m5.6-1.3h0m6.5-1.3h0m2.4 1.4h0m4.3 .1h0m-26.5 2.3h0m1.4 .2h0m9.2 .4h0m0 0h0m1.6 .1h0m19.2 .9h0m-30.1 .6h0m9.8 2.7h0m5.5-.6h0m.2-2.1h0m7.6 5.6h0m-12.3 2.5h0m-15.7 1.2h0m6.2 2.1h0m3.6 5.1h0m2-.5h0m-23.1 2.5h0m8.6 .4h0m6 3.7h0m27.7-1.3h0m-42.6 3.7h0m7.3 4.9h0m-7.3 .8h0m8.5 .8h0m.2 .5h0m.5 1h0m2.5-1.9h0m-10.8 4.7h0m5.8-1.4h0m5 1.3h0m-5 2.1h0m-9.7 2.5h0m2.7 1.3h0m1.6-1.6h0m.2-.1h0m11.5 .1h0m-18.1 4.7h0m8.9-1h0m7.3-.8h0m1.1 2.6h0m-21 8.5h0m-.9 2.1h0m9.6 .7h0m-1.4 3.6h0m3.5 .2h0m6.3 .5h0m7.3 0h0m-18 7.1h0m3.5-1.7h0m13.6 2.5h0m.3 1.3h0m4.9-.6h0m8.6-.5h0m-34.5 3.6h0m5.1-.4h0m3.7 .7h0m2.5-.6h0m4.5 3.9h0m14.3 1.4h0m3.9 0h0m-31.2 2.1h0m.2-1.1h0m3.9 1.8h0m5.6-1.1h0m13.4-.5h0m6.2 .2h0m-6.4 3.2h0m7.9 0h0m-10.6 3.6h0m-28.5 4h0m1.7-1.5h0m17 .1h0m21.3-1.3h0m-14.4 4.1h0m-11.1 2.1h0m10.9 2.4h0m12.8-1.6h0m1.9 1.1h0m-34.3 2.5h0m.7-1.4h0m3 .6h0m35.9 1.9h0m-32.2 4.4h0m4.2-1.2h0m9.7 2.4h0m16-.8h0m.6-.1h0m.3-.2h0m2.6 .6h0m-28.6 1.9h0m7.9 .6h0m13.1 3.6h0m7.6-.6h0m4.1 3h0m-21.5 2.2h0m.4 .2h0m1.7 0h0m1.1-.7h0m1.8 2.4h0m3.1-.4h0m6.4-.1h0m-26.1 1.8h0m9.5-.4h0m12 1.5h0m1.3-.7h0m7.7 .6h0m-30.3 3.8h0m11.6-2.6h0m-6.9 5.4h0m2.3 1.6h0m.5-.8h0m1.3 2.6h0m2.3-1.4h0m12.3-1.1h0m.6 1.6h0m-1.2 3.6h0m-21.3 1.2h0m9.1 1.6h0m-.3 3.4h0m-.7 .2h0" stroke="#9b22ee" stroke-width="1.85" stroke-linecap="square" fill="none"/>
<path d="M323.2 149.6h0m-19.9 2.5h0m7.1 .2h0m3.8 0h0m4-.2h0m15.2-1.6h0m-32.6 5.5h0m25.5-2.7h0m4.9 1h0m-13.2 2.2h0m9 .9h0m-15.6 2.7h0m9.5 .4h0m.7-.9h0m9.3 .9h0m4.2 1.2h0m-37.7 2.5h0m13.4-1.8h0m2.6 2.5h0m2 0h0m3.3-.9h0m.2 .3h0m15.8-1.6h0m0 0h0m-37.4 2.5h0m1.9 .5h0m5.4-.6h0m8.2 2h0m3.4-1.7h0m8.6-.1h0m1.9 1.3h0m11.4-.8h0m-37.5 2.7h0m4.7 2.1h0m19.2-.2h0m.8-2h0m-14.4 5.2h0m2.1-1.9h0m5.1 .2h0m6.8 .4h0m1.2 1.3h0m-34.4 1.4h0m.3-.5h0m4.9 .7h0m1.4-.6h0m28.7-.3h0m1.8-.3h0m-29.4 4.5h0m3.9 .6h0m19.2-.5h0m6.2-.3h0m-32.2 3.2h0m.7-.6h0m24.6 .7h0m3.3 .3h0m1.9-1.9h0m-33.1 5.9h0m9.7-.3h0m24.4-1.7h0m-41.5 5.6h0m12.3 5.4h0m-12.9 1.9h0m4.1-.1h0m-6.6 3.1h0m10.3-1.2h0m1.3-.4h0m1.2 5.6h0m-1.8 1.2h0m1.4 1.6h0m-9.6 .6h0m11.9 1h0m-7.6 4.3h0m-4.8 5.6h0m1.2-.7h0m6.1 .7h0m-5.2 1.2h0m5 2.5h0m12.4-2.8h0m-27.9 5.2h0m.7-1h0m26.8 0h0m4.9 1.1h0m-5.9 2.5h0m-22.1 1.4h0m1.4 0h0m16.4 2.4h0m1.4-2h0m-27.1 4.7h0m3.6-1.1h0m5.7-.3h0m24.9 1.6h0m-32.7 .5h0m9.5 2.6h0m4.8-1.3h0m5.8 1.1h0m3.3-1.9h0m2.4 1.7h0m6 .4h0m.3-2.4h0m-31.2 5.4h0m10.1 0h0m.6-1.7h0m8.7 .6h0m3.5-1h0m3.7 1.9h0m2.9-.3h0m5.2-1.8h0m-35.6 5h0m17.5 .4h0m17.5-1.3h0m-36.4 2.4h0m4.7 .8h0m3.1-.4h0m11.1 1.7h0m.7-1.9h0m.2 .1h0m.6 .3h0m-19.7 2.4h0m2.9 .2h0m7.7-.8h0m1.5 1.8h0m8.9-1.8h0m-3.7 3.6h0m10.1-.4h0m5.5 2.4h0m6.2-2.4h0m-37.1 4h0m12.2 3.1h0m18.7 .8h0m8.1 .5h0m2.4-1.9h0m-39.8 2.1h0m8 .3h0m4.5 2.2h0m5.9-2.1h0m5.9 1.5h0m6.7 .4h0m4.8 .2h0m3.7-1h0m-27.1 3.4h0m12.8-.7h0m.1-.9h0m3.3 1.4h0m-25.8 3.3h0m24.5 .1h0m12.9 .5h0m1.6-1.3h0m2.5 1.5h0m-39.1 2h0m1.5 1.1h0m5.3-.4h0m5.8-1.9h0m2.7 1.4h0m5.4-1.5h0m1.5 1.7h0m4.9-1.2h0m3.5-.1h0m-27.3 2.6h0m10.2 1.9h0m4.2-1.5h0m1.8 .4h0m1.6-.3h0m14.1-.3h0m-29.5 4.4h0m2-1.9h0m-7.1 5.1h0m13.3-.1h0m3.7 .7h0m-8.3 2.6h0m2.4-1.3h0m5.5-.1h0m8.7-.6h0m1.8 .5h0m-24.2 3.1h0m3.5-1h0m6.9 2.6h0m6.2-1.1h0m1.1 .2h0m3.4 1.1h0m-23.7 .8h0m12.5 2.2h0m17-2.3h0m-17.9 3h0m10.3 .7h0m2.4-.9h0m9 .9h0m-22.2 3.5h0m2.1 .4h0m2.6-.3h0m7.1-1.1h0m3.8 .5h0m6.1 .6h0m-15.2 2.4h0m13.6 1.1h0m.3-.2h0m-9.3 2.4h0m3.9-1.5h0m-13.1 3.8h0m12.3 .7h0m-.2 1.7h0" stroke="#1414f5" stroke-width="1.85" stroke-linecap="square" fill="none"/>
<path d="M307.1 149.1h0m-.6 .9h0m4.6 2.8h0m2.3-1.5h0m8.6 0h0m3.8 .3h0m2.2-.4h0m.3 1.3h0m-16.9 1.6h0m9.9 1.5h0m10.4-.6h0m3.6-2h0m-33.1 4.1h0m1.6 .9h0m8.7-1.6h0m1.6 2.4h0m1.5-1.8h0m6.3 .5h0m4.2 .3h0m-13.3 3.1h0m9-1.9h0m2.9 2.2h0m7.9-.7h0m2.9-1.4h0m-32.8 4h0m26.8 .3h0m-33.8 4.6h0m1.6-2.4h0m6.4 .7h0m4 1.1h0m8.1-2.2h0m20.5-.1h0m-42.5 4.2h0m10.8-.3h0m.5-.7h0m4.3 .3h0m.7 2.3h0m.5-.2h0m2.9-1h0m.4-1.5h0m10.6 .2h0m6.3 1.8h0m-39.6 1.2h0m3 0h0m13.2 .7h0m6.1 1.1h0m1.7-2.1h0m6.3 .6h0m-33.3 4.3h0m2.6-1.2h0m9.5 .9h0m-3.8 3.8h0m6.9 3.4h0m-2.1 .5h0m-8.6 3.2h0m3.7 .6h0m4.7 .5h0m.7-.2h0m.6 1.2h0m-9.7 3h0m4.8-1.4h0m2.3 0h0m.7-.8h0m-15.6 3.3h0m8.5-.6h0m6.3 2h0m-15.9 5.3h0m7.7 .9h0m2.4-.5h0m.7 1.1h0m.2-2.6h0m-14.7 5.5h0m.4-1h0m16.7-1.3h0m2.2 .2h0m-2.9 4.4h0m-18.1 4.4h0m2.3 2.3h0m7.5 1.5h0m-7.6 3.9h0m4.3-1.3h0m-4.2 4.5h0m3.1 .5h0m18.8-1.7h0m-.4 3h0m-27.7 3.6h0m11.6 1h0m19.5-2.5h0m-12.5 2.8h0m8.8 2.2h0m8.9-2.1h0m-30.9 3.9h0m4.6 .3h0m5.1-.2h0m5.4 .8h0m.5 .9h0m7.4-.7h0m-22 3.3h0m.6-2.2h0m6.9-.2h0m-7.7 4.3h0m2.8 0h0m4.8-.3h0m16.8 1.7h0m1.4-.2h0m1.2 .1h0m5.5 .1h0m2.4-1.5h0m-34 4h0m5-1.7h0m8.4 2h0m16.5-2.5h0m3.1 .3h0m-39.9 3.6h0m10 1.3h0m4.7-.2h0m21.5-1.5h0m-33.5 3.3h0m4.5 1.3h0m1.7-.7h0m.2-.9h0m6.9 1.2h0m10.9-1.4h0m3.2 1.1h0m-20.1 3.5h0m20.8-.9h0m1.8-1.1h0m-20.7 3.1h0m18.2 .1h0m-19.5 5.5h0m16-1.7h0m6.1 4.7h0m-31.6 .8h0m25.7 .7h0m6.2 .1h0m10 1.5h0m-1.5 1h0m4.1-.1h0m-28.9 4h0m1.4-1.7h0m4.4 2.5h0m-17 3.3h0m7.9-2.4h0m23.4 1.7h0m2.6-1.8h0m-19.5 5.5h0m6.3-1h0m1.3-.9h0m3.8 1.4h0m4.8-.5h0m-30 3.7h0m3.1-.9h0m3.5 .5h0m3-1.2h0m4.8 .7h0m1-1.7h0m18.1 .6h0m1.7 1h0m1.6 0h0m-18.8 4.2h0m2.8-.8h0m12.8-.6h0m2 .5h0m3.6 3.9h0m3.1-.4h0m-39.9 .7h0m18.6 1.7h0m.9-1.5h0m.6 2.4h0m12.2-1.5h0m2.8 .6h0m1.5-1.8h0m1.8 .2h0m-34.1 4h0m21.2-.4h0m2.1 3.4h0m.4-.4h0m.9 1.8h0m3.7-.3h0m-25.7 1.4h0m10.1-.1h0m5 1.7h0m-14.6 1.2h0m2.4 .2h0m3.2 3.6h0m8.2 2.5h0" stroke="#f51414" stroke-width="1.85" stroke-linecap="square" fill="none"/>
<path d="M311.3 147.2h0m1.9 .9h0m.9-.8h0m-7.3 4h0m1 1.2h0m8.3-1.6h0m.8-.1h0m-5.2 5.2h0m9.7-.9h0m-3.6 3h0m17-1.8h0m-14.3 4.7h0m12.5-.8h0m2.8 .7h0m-22.6 2.9h0m25.4-.6h0m-14.9 2.7h0m1.8 2h0m-24.7 2.9h0m29.1-.1h0m-33.3 1.5h0m2.5 1.4h0m-6.2 1.7h0m6.9-.3h0m17.1 1.8h0m10.7 .1h0m-8.4 .8h0m-13.9 3.2h0m16.3 0h0m-24.1 7.6h0m2.7-2.2h0m1 1.6h0m2.2-.7h0m-6.9 10.3h0m-9.6 1.3h0m-7 5h0m3.9-1.7h0m13.6-.6h0m1.3 1.6h0m-9.8 2.7h0m-1.8 3.9h0m6.7-2.4h0m-16 2.8h0m.2 2h0m6.3-1.4h0m-6.7 3.7h0m10.4 7.1h0m7.1-1.8h0m-16.2 5.2h0m12.2-2.6h0m2.2 2.1h0m13.5-1.8h0m-31.4 5.1h0m7.9 0h0m-9.4 3.1h0m1.9-1.1h0m.4-.7h0m17 1.3h0m-19.5 3.9h0m12.5 1h0m-1.9 2.6h0m1.9 .8h0m11.9-.1h0m-17.9 2.3h0m16.6-.5h0m.3 5.4h0m19.9 9.2h0m-22 1.5h0m7.4-.1h0m14.7-.8h0m-40.5 3.1h0m7.2 .3h0m0 1h0m6.5-.3h0m12 .5h0m2.4-1h0m3.3 1.1h0m-26.5 2.6h0m1.8-1.1h0m2.1-.3h0m29.5 1.7h0m-36.5 3.1h0m16.7 .7h0m6.7-2.4h0m-3.7 2.7h0m4 1.8h0m6.7-.4h0m.5-.7h0m.6 .5h0m-.2 3.6h0m4.6 .6h0m-34.5 3.6h0m26 .2h0m8.6 .1h0m5.3 .5h0m-34.7 3.8h0m10.4 1h0m19 0h0m5.6-2.6h0m-36.9 3.5h0m11.4 2.3h0m-5.6 .4h0m5.4-.1h0m4.9 1.6h0m7.9 .1h0m.1-1h0m.9-.9h0m-12.4 4.9h0m6.8-.6h0m11.6 0h0m4.5 1.1h0m-30 1.5h0m8.5 1.6h0m.7-2.4h0m6.2 .1h0m.4 .4h0m10.7 1.2h0m-10.5 6.8h0m7.8-2.3h0m-2.9 4h0" stroke="#19e619" stroke-width="1.85" stroke-linecap="square" fill="none"/>
<path d="M308.8 146.4h0m16.1 4.7h0m.5 .2h0m8.3 1h0m-21.5 3.5h0m1.8-2.1h0m-8.1 3h0m4.1 .5h0m1.7 1.1h0m.2 .6h0m1.3-1.3h0m17.4 0h0m2.3-.6h0m-29.6 4.2h0m7-.1h0m17.3-1.6h0m-17.3 4.6h0m20.4-.5h0m1.5 1.3h0m1.4 0h0m-34.9 1.5h0m2.9 .3h0m13.1 2h0m-9 2.9h0m5-.1h0m2.1 1h0m1.3-1.4h0m10 .2h0m.2 0h0m2.9 1.6h0m-18.9 2.4h0m-11.1 2.8h0m6.6 .6h0m20.6-.4h0m.5 1.4h0m-36.7 1.7h0m17.9 1.2h0m.5-2.1h0m20.5 2.3h0m-30.2 1.5h0m1.1 .4h0m1.4 1.3h0m-15.7 3.9h0m2.9 3h0m-2.8 3.3h0m2.1 .1h0m14.1 2.8h0m-21.3 7.7h0m15.9 .7h0m.2 2.4h0m-1.6 2h0m3.6-1.8h0m-18.2 5.8h0m1.5-1.9h0m.7 .5h0m8.9 1.9h0m14.6 1.2h0m-28.8 2h0m1.1 .2h0m28.7 .8h0m-27.4 3.5h0m1.6-.6h0m4.5-.2h0m19.7-.5h0m-11.9 4.5h0m17.4 .1h0m-33.8 1.9h0m6.6 1.3h0m16.3 .1h0m11 0h0m-16.9 2h0m1.9-1h0m8.9-.3h0m7.7 4.4h0m-17.8 4.1h0m-10.1 2.6h0m-9.4 2h0m5.1-1.5h0m7.4 2.8h0m12.6-.4h0m6.4-.8h0m2.2-.7h0m-5.1 5h0m-18.6 1h0m15.4 1.6h0m3.4-.6h0m2.1 1h0m-8 1.1h0m-8.5 5.2h0m.9 1h0m20.8 .5h0m5.4-.4h0m-33 2.2h0m18.7-.5h0m11 .3h0m8.5 2h0m-30.7 .9h0m-2.8 3.8h0m37-.5h0m-4 4.5h0m-21.8 2.2h0m11 1.1h0m6.6-.6h0m6.5-.5h0m-40.6 4h0m43.7-.4h0m-28.6 4h0m11.5-2.4h0m-14.9 5.4h0m13.7-1.1h0m-5.6 2.6h0m7.5 1h0m9.4-1.3h0m2.8-.7h0m-31.6 3.6h0m15.7 1.8h0m-12.4 .7h0m7.6 1.1h0m.1-1.2h0m1.9-.3h0m7.8 2.5h0m6.9-1.1h0m-25.9 3.1h0m4.9 .1h0m2.9 1.4h0m.6-1.4h0m16.8-1.5h0m-22 4.7h0m7.7-.4h0m8.7 1.2h0" stroke="#9b22ee" stroke-width="1.85" stroke-linecap="square" fill="none"/>
<path d="M316.3 197h0" stroke="#1414f5" stroke-width="1.3" stroke-linecap="square" fill="none"/>
<path d="M318.2 188h0" stroke="#f51414" stroke-width="1.3" stroke-linecap="square" fill="none"/>
<path d="M311.5 176.5h0" stroke="#19e619" stroke-width="1.3" stroke-linecap="square" fill="none"/>
<path d="M310.5 202.7h0" stroke="#9b22ee" stroke-width="1.3" stroke-linecap="square" fill="none"/>
<path d="M322.1 192.8h0" stroke="#1414f5" stroke-width="1.3" stroke-linecap="square" fill="none"/>
<path d="M318.3 190.9h0" stroke="#f51414" stroke-width="1.3" stroke-linecap="square" fill="none"/>
<path d="M316.6 179.4h0" stroke="#19e619" stroke-width="1.3" stroke-linecap="square" fill="none"/>
<path d="M314 192.3h0" stroke="#9b22ee" stroke-width="1.3" stroke-linecap="square" fill="none"/>
<path d="M303 203.9h0" stroke="#1414f5" stroke-width="1.3" stroke-linecap="square" fill="none"/>
<path d="M320.9 186.3h0" stroke="#f51414" stroke-width="1.3" stroke-linecap="square" fill="none"/>
<path d="M319 224.6h0" stroke="#19e619" stroke-width="1.3" stroke-linecap="square" fill="none"/>
<path d="M318.9 221.5h0" stroke="#9b22ee" stroke-width="1.3" stroke-linecap="square" fill="none"/>
<path d="M322.2 213.3h0" stroke="#1414f5" stroke-width="1.3" stroke-linecap="square" fill="none"/>
<path d="M322.8 210.6h0" stroke="#f51414" stroke-width="1.3" stroke-linecap="square" fill="none"/>
<path d="M325.3 199.1h0" stroke="#19e619" stroke-width="1.3" stroke-linecap="square" fill="none"/>
<path d="M319.5 219.9h0" stroke="#9b22ee" stroke-width="1.3" stroke-linecap="square" fill="none"/>
<path d="M320.2 217.8h0" stroke="#1414f5" stroke-width="1.3" stroke-linecap="square" fill="none"/>
<path d="M318.6 223.9h0" stroke="#f51414" stroke-width="1.3" stroke-linecap="square" fill="none"/>
<path d="M318.2 223.1h0" stroke="#19e619" stroke-width="1.3" stroke-linecap="square" fill="none"/>
</g>
<g clip-path="url(#cp9)">
<path d="M392.2 143.5h0m1.5-.9h0m1.7 1.3h0m-6.4 1.8h0m.1 .2h0m.7 0h0m.4 0h0m1-.7h0m0-.7h0m.2 1.2h0m.3-.7h0m.2 .1h0m1.8 .4h0m.4 1.2h0m.9-1.1h0m.9 .4h0m1.5 0h0m1.5-.3h0m1.9 .4h0m9.5 .9h0m5.9-1h0m.2 1h0m-29.2 .8h0m.7 1.7h0m.5-1.8h0m.1 1.5h0m.9 0h0m.3-.7h0m.6-1.4h0m.5 .6h0m.3-.7h0m.7 2h0m3.5-1.2h0m.5 2h0m.1-2.7h0m.5 .4h0m.5-.5h0m.2 2.6h0m.3-.1h0m.4 .3h0m.1-1.8h0m.1-.5h0m.6 .3h0m.2 .2h0m.6 1h0m.5-.3h0m1.6-1.1h0m3-.3h0m.3 1h0m0-.2h0m.7 .2h0m1.1 1.4h0m0-1h0m.3 1h0m.1-.4h0m.7-1.5h0m1.5-.2h0m.2 .2h0m.2 .5h0m.3 .3h0m1.5-.5h0m.6 .2h0m.1 .8h0m.3-.9h0m.3-.2h0m.6 .8h0m1 .2h0m.1 .4h0m2.4-2.4h0m.7 1.6h0m.3-.3h0m.6-.1h0m.8 1.8h0m-36.3 3h0m.6-.5h0m.8 .2h0m.1-1.4h0m.4-.4h0m1.3 1.9h0m.2-.6h0m1.9-.7h0m.1-1.2h0m.6 .5h0m.2 .2h0m1.2 .6h0m.2 .2h0m1-1.5h0m.1 1.1h0m.5-1.1h0m1-.1h0m.4 1.4h0m1.7 .1h0m.3-.6h0m.3-.2h0m1.3-.6h0m.4 2.1h0m.5 .2h0m0-1.7h0m.4 1h0m1-.4h0m1.5-1.1h0m.6 1.2h0m1.3-.3h0m.3-.3h0m.2 1.5h0m.2 .3h0m.7-2.6h0m1.5 2.3h0m1.3-1.1h0m.3 .7h0m.9-1.6h0m.2 2.2h0m3-.6h0m1.4-1.5h0m0 1.8h0m0-.8h0m.1 1.3h0m0 .1h0m.3-2.9h0m.1 .6h0m1-.6h0m0 .2h0m1 1.5h0m.6-.2h0m.1 1.4h0m1.4-1.4h0m1 1.3h0m.8-1.6h0m-37.8 4.1h0m.8-.8h0m.7-.1h0m.1-1.1h0m1.4 .9h0m0 .6h0m1.8 0h0m.8 .6h0m.2-1.8h0m.2 1.9h0m.2-.3h0m.9-.7h0m.1-.7h0m1.5-.1h0m.3 1.2h0m.4 .6h0m.1-1.5h0m.7-.2h0m.5-.2h0m.5 .5h0m2.3-.5h0m2.4 .1h0m.6 1.1h0m.2-.4h0m.4-1h0m.7 .9h0m.9-.3h0m0-.9h0m3.1 .5h0m2.4 1.4h0m1.1-.6h0m1.5 1.4h0m0-1.6h0m2 .4h0m2.5-.3h0m.6-1.1h0m.2 2.5h0m1-2.3h0m1.6 .1h0m.5 .9h0m.9 .1h0m.1 0h0m.8-.6h0m1.7 .6h0m-40 4.4h0m.8-1h0m3.1-.4h0m.3-.6h0m.7 0h0m1.1-.7h0m0 .6h0m.2 1.9h0m1.5-2.5h0m1.8 1.3h0m2.1 1.4h0m.1-2.4h0m.1 1.5h0m.7-1.1h0m.2-.8h0m.2 .3h0m.6 .4h0m10.6-.8h0m.8 .8h0m1.2 .1h0m.4 1.1h0m2.2-.4h0m1.8-1.1h0m2.6 2.4h0m0-1.4h0m.1 .8h0m.9-.6h0m.1-1.8h0m.4 2.1h0m1.6-.9h0m1-.6h0m.1 1.3h0m.1-.6h0m.6-1.2h0m1.1-.1h0m.3 .4h0m.4 2.6h0m.2-2.5h0m.5 2.5h0m-39 2.7h0m1.1-1.4h0m.3 1.1h0m.1 .2h0m.1 .4h0m.5-1.3h0m.3-.1h0m.1-.1h0m0-.8h0m.4 .8h0m.2-.4h0m2.2 .7h0m.7 .6h0m1.7-2.2h0m21.3 0h0m.7 2.4h0m.7-1.3h0m.2 .5h0m1.7 .2h0m1.3 .3h0m.5-1.6h0m.2 .8h0m.1 1h0m2.9-.4h0m.1 0h0m.4 .7h0m.8-1.3h0m.4 .9h0m-43.6 3.2h0m1.1-2.6h0m2.6 1h0m.8 .1h0m3.3-.4h0m.4 .7h0m3 .1h0m.3 .4h0m22.2-1.6h0m3.8 1.7h0m.2 1h0m1-2.3h0m0-.5h0m.2-.1h0m.8 1.2h0m.6-.8h0m2.6 1.6h0m.1-1.9h0m.3 .1h0m.2 2.3h0m-46 3.1h0m.1-1.5h0m0 .7h0m1-1.9h0m.5 1.1h0m0 .6h0m2.5-1.6h0m.1 2h0m.4-.8h0m.6 .4h0m.8-1.2h0m.4 1.5h0m.5-1.2h0m.5 1.6h0m.5-.9h0m.9 1.1h0m.3-1.2h0m.1-1h0m.8 1.9h0m.1-1.3h0m3.8-.7h0m8.1 1.3h0m17.3 1.4h0m2.8-2.5h0m.7 .1h0m-45.4 5.4h0m2.7-2.9h0m.2 1.5h0m1.9-.8h0m.7 1.3h0m1.8-.3h0m.4-.9h0m.7 1.6h0m.9-.6h0m.2-1.9h0m.3 1.1h0m0 1.3h0m1 .2h0m1-1.9h0m.5-.3h0m6.6-.1h0m1.6 .4h0m.4 2.3h0m3.6-1.5h0m1.4-1.3h0m3.1 1.5h0m-26.8 2.7h0m.2 .6h0m.2 .1h0m.1 .5h0m.9 0h0m1.2-.4h0m.1-1.4h0m1.1 1.7h0m.3-1.6h0m.3 2.1h0m3.2-2.5h0m.3-.1h0m9.3 1h0m17.3 .9h0m-40.1 3.2h0m.8 .1h0m1.5-1.1h0m1.1-1.4h0m.6-.1h0m.4 2.7h0m3.3-1.7h0m.3 .7h0m.3-.2h0m1.6-1.1h0m1.3 2.5h0m.4-.1h0m.7-1.8h0m.3-.3h0m13.9 1.1h0m.4-1.6h0m3.8 .8h0m.7 0h0m10.5 .4h0m-43.3 4.3h0m2.1-1.5h0m1.9 .2h0m0 1.4h0m.6-1.8h0m.6 .6h0m.5-.7h0m.2 .6h0m.5 .2h0m1.1 .7h0m.6-.2h0m.5-.5h0m2.9-1.2h0m9.3 1.4h0m10.3-.5h0m1.2-1.1h0m5.5 2.1h0m1.2-1.5h0m-39.3 4.4h0m.3 .2h0m.7-2.1h0m.1 .8h0m.8-.8h0m.4-.4h0m.4 3h0m.3-1.7h0m.7 .5h0m.4-1.4h0m.3 1.6h0m.3 .9h0m.4-1.6h0m3.3 .9h0m2.3-1.9h0m.7 1h0m24.8-.9h0m1.6 1.4h0m3-.8h0m-40.7 4.2h0m.8 .8h0m1-2.4h0m.9 2.1h0m1.2-.9h0m.9 .5h0m1.5-1.9h0m1.2 .2h0m.1-.3h0m.1 1.6h0m.3-.3h0m1.4-.2h0m12.6 .2h0m-24.3 3h0m.3-.8h0m.5 .2h0m1 .9h0m.5-1.1h0m.7-.1h0m1.8-.5h0m.5-.1h0m.2 2.3h0m.1-1.5h0m1.5 1h0m1.9-.9h0m.2-.6h0m.4 .9h0m.9 1.1h0m11.7-.1h0m-23.5 2.7h0m.7-.6h0m.3 1.4h0m.5-.4h0m.8-1.3h0m.6 .6h0m.5-.1h0m.5-.6h0m.1 1.5h0m.4-1.6h0m.1 .1h0m1.2-.6h0m.6 1.6h0m.2 .3h0m1.4 .5h0m.6-2.7h0m0 1.1h0m0 .6h0m.3-1.7h0m.2 .7h0m.6 .8h0m.9-1.2h0m3-.1h0m2.2 1.9h0m5.3-1.2h0m-20.7 4.5h0m1.1-2.4h0m.1 2.6h0m.5-1.3h0m1.9 1.6h0m.1-2.2h0m.1-.3h0m.7 .7h0m.4-.9h0m2.2 2.1h0m0-1.5h0m.1-.7h0m.1 .5h0m.3 2.3h0m.1-.2h0m.6-2.5h0m.5-.2h0m0 1.7h0m-9.9 2.6h0m1.2 .1h0m.4 .6h0m2.4-1.2h0m2 .1h0m1.2 1.8h0m.4-1.5h0m.2 1h0m.2-1.3h0m.3 1.1h0m.3 .8h0m-10.1 3h0m.1-.4h0m0-2.3h0m.7 1h0m.5 .1h0m2.1 .8h0m1.4 .4h0m.2-1.8h0m1 .3h0m1.9-.7h0m1.1 1.3h0m1.4-.1h0m9.8-.9h0m2.5 1.2h0m-22.8 1.3h0m1 2.2h0m2.4-.4h0m.9-1.9h0m1.2 1.1h0m1.2-.5h0m2.8 .3h0m.5-.7h0m-11.5 3h0m0 1.8h0m.1-.2h0m2.2-1.6h0m.3 .5h0m.8 .9h0m0-.9h0m.1 1.8h0m1.1 0h0m.4 .2h0m.2-1.9h0m2.2 1.2h0m.4-.4h0m1.4-.2h0m.6-.5h0m.4-.8h0m.4 0h0m8.3 2.2h0m4.4-2h0m-23.4 3.9h0m0 1.5h0m2-1.3h0m.7 1.6h0m.5-1.8h0m1.7 .6h0m3.2-.1h0m2.4-.7h0m6.5-1h0m6.2 .4h0m-23.9 3.8h0m0 .4h0m.5-1.4h0m.9 .2h0m.2 1.7h0m.9-1.8h0m.8 .2h0m.1 .8h0m.3-1.3h0m.9 1.3h0m.1-.7h0m1.1 2.1h0m.7-.9h0m.5-.6h0m15.2 1.2h0m-23.2 1.1h0m.3 .2h0m1 1h0m.7 .7h0m0-.9h0m.9 1.2h0m.9-.2h0m.6-2.3h0m.7 2.3h0m.4-.6h0m.3-1.4h0m1.4-.4h0m.1 2.7h0m.7-1.7h0m.6 1.3h0m.4-2.3h0m-10.3 5.9h0m2.6-1h0m.4 .7h0m1.8-.7h0m.1 .5h0m1.7-.4h0m.7-1.2h0m1.4 .8h0m.6-.5h0m7 1h0m-15.7 1.1h0m1.6 1.9h0m.2-.6h0m.8 1.3h0m1.1-.5h0m.3 .3h0m2.2-2.3h0m.5-.3h0m.4 .8h0m.4 .1h0m1.7 .3h0m1.7 1.1h0m.9-.3h0m2.5-.7h0m3.2-.9h0m1.7 1.1h0m-19.9 4.1h0m3.3-1.5h0m.4-.6h0m1.2 1h0m.4 1h0m.2 .3h0m.2-1.7h0m.9-.5h0m7.8-.1h0m2.4 .4h0m7.4-.8h0m14.5 .1h0m1.3 1.3h0m-39.8 1.8h0m.7 1.5h0m.6 .6h0m.5-1.2h0m.6-.4h0m.1 1.3h0m.6-1.8h0m.1 1.9h0m1.4-2.1h0m.3-.1h0m.1 1.1h0m.3-.2h0m.9 .8h0m1-1.7h0m.2 2.7h0m.8-2.3h0m0 1h0m.2 0h0m.2 0h0m.1-.7h0m15.7 1.6h0m2.2-2.4h0m-27.1 3.3h0m.3 1.1h0m.5 1.1h0m.2-1h0m.5-.6h0m.3 1h0m.5-1.4h0m2.7 1.4h0m0 .5h0m.9-.7h0m1-1h0m.6 2.2h0m.3-1h0m1.3-1.3h0m.7 1.1h0m.1 1.2h0m16.5-.9h0m.4 .1h0m.4 .8h0m6.6-.1h0m.4-1.2h0m2.7-.4h0m1.9-.8h0m1.7 2.4h0m-40.6 .8h0m.4-.1h0m1.4 .8h0m.2-.3h0m1.4 1.9h0m.6-2.3h0m.5 1h0m1 .4h0m.8-.1h0m.7-1h0m.1 1.4h0m.5 .1h0m1.3-.9h0m.1-1h0m1 2.1h0m12.6 .2h0m3.4 0h0m.8-2.2h0m2.6 2h0m1.1-.3h0m3.4-1.3h0m1.1 1.3h0m.7-.2h0m1.3-.7h0m.5 .2h0m1.5-1.6h0m1.2 1.3h0m.4 1.1h0m.2 .2h0m-40.7 .7h0m0 1.1h0m.5-.4h0m1.1 1.5h0m.7-1.6h0m.4 .5h0m0 1.3h0m1.4-1.5h0m.1-.2h0m.2 .9h0m.3 .6h0m.3-.7h0m.4-.9h0m.3 1.3h0m.3-.2h0m.2 .2h0m.8 .3h0m.3-.6h0m0 0h0m0 1h0m.4-.7h0m.5-.1h0m1.5-1h0m17.8 .9h0m1.1-.5h0m3.5-.6h0m.1 2h0m3.1-1.4h0m.8 .5h0m1.1-.3h0m.7-1.7h0m.1 1.2h0m.2 1.6h0m0-.6h0m3 .2h0m1.9-1.6h0m.1 .1h0m-43.5 3.1h0m.8 1.4h0m.2-.6h0m1.6-.7h0m.3 1.4h0m.3-1h0m0-.2h0m.6 .5h0m.7-1.3h0m.3-.1h0m.8 1.9h0m.3-2h0m.2-.1h0m2.8 .2h0m.5 1.5h0m.6-1.8h0m.3 .9h0m15.8 .3h0m7.5-.5h0m2.5 .8h0m.7-.3h0m1.3-.2h0m3.3 1.2h0m.2-.6h0m.5-.3h0m1.6-.9h0m.2 .5h0m-43.9 4.1h0m0 0h0m.9-1.6h0m0 .1h0m.3-.3h0m1-.2h0m1.1 1.6h0m.2 .8h0m2.4-2.1h0m.6 .8h0m.8-.3h0m.4 .6h0m.1 1.2h0m1.1-.9h0m13.5-.6h0m8.2-1.1h0m4.1 1.4h0m1.6 .5h0m.5-1h0m2-.5h0m.3-.3h0m.7 .5h0m.2-.5h0m.6 .5h0m.8 1.8h0m.1-1.1h0m1.8-.9h0m.3 .6h0m-41.6 4.9h0m.3-1.1h0m.6-1.1h0m.5 1.5h0m0-2.1h0m.7 2.3h0m.2 .4h0m.8-.8h0m.2-1.7h0m1 .8h0m1.2 .4h0m0 1.3h0m2.6-.7h0m.6-1.4h0m12.7 .9h0m11.8 .1h0m2.3-1.3h0m.5-.3h0m.5 2.1h0m2.2-1.5h0m.6-.3h0m.2-.1h0m.9 .4h0m.3 .7h0m.1 .2h0m.4 1.2h0m.3-.7h0m1.2-1.1h0m-42 2.8h0m0 1.7h0m.5-.9h0m.6 .7h0m1.2 0h0m.2-1.5h0m.1-.5h0m.7 2.5h0m.2-1h0m2.6 .1h0m.7 0h0m.1 .5h0m11.6-.9h0m.4 .4h0m14.9-1.3h0m.4 1.4h0m1.7 .5h0m.5-1.2h0m2-.2h0m.3-.8h0m1.3 2.1h0m1.2-.7h0m.9 .8h0m-43.4 .9h0m1.4-.3h0m.3 0h0m.9 2.7h0m.2-1.1h0m.1-1.6h0m0 .4h0m.7 .9h0m1.2-.4h0m.1 .3h0m.7-1h0m1.3 1.2h0m1.4-.5h0m.3-.6h0m.4 .8h0m1 1.4h0m3.2-.5h0m1.2-.5h0m7.7 .4h0m12.4-.4h0m.3-1.2h0m2.5 .7h0m.2 .9h0m2.5-.5h0m.1 .4h0m1.7-1.6h0m.2 2.5h0m1-.2h0m.6-.6h0m-43.7 2h0m.4 .3h0m.1-.9h0m1.6-.4h0m.9 1.7h0m.7-1.8h0m1.6 1.8h0m.1-.3h0m0-1.2h0m.9 2h0m.3 .1h0m.3-1.1h0m.2 .8h0m.5-1h0m.7-.3h0m.1-.8h0m.8 .4h0m.4 2.1h0m.3-2.2h0m.2 1h0m0 .7h0m7.6 .3h0m15.8-2.1h0m1.3 2.3h0m.8-1.5h0m.3 1h0m.1-.2h0m.2-1.5h0m1.1 .6h0m.8 .8h0m0 .3h0m1.3-.3h0m3.5-.8h0m1.5 1.5h0m1.3 .2h0m-45.3 1.2h0m.9 1.7h0m.6-.7h0m.3 .7h0m1.5-2.4h0m1.3 1.6h0m.1 .5h0m.1 .2h0m.3-1.1h0m1.6 .9h0m.2-1.9h0m.2 1.3h0m.1-.4h0m.5 1.7h0m1.3-.2h0m.6-.9h0m1.1 .3h0m12.1-1.1h0m1.8 1.7h0m9-2.4h0m3.2 .5h0m.6 1.2h0m.1 .8h0m.4 .1h0m.8-2h0m.8 1.4h0m1-1.7h0m.4 1.2h0m1.2-1.6h0m1.8 2h0m1-1.1h0m.2-.3h0m.8 1.2h0m.2 .2h0m-45.4 1.8h0m1.9 .8h0m1.5-1.6h0m2.7 .4h0m0 2.3h0m1-1h0m.4 .2h0m2.1-1h0m1.5-.1h0m.6 1.8h0m12.1-2.5h0m.7 1.7h0m2-1.1h0m7.9 1.5h0m1.7 .3h0m2.3-2.7h0m1.1 1h0m1.1 1.7h0m.6-.5h0m3.5-1.9h0m.4 1.9h0m0-.8h0m1.2 1.1h0m-45.4 1.8h0m1 .5h0m1.3-.4h0m.1-1.3h0m4.4 1.9h0m.7 .4h0m.3-.4h0m.4-.9h0m2.3-.9h0m1.2 .8h0m6.9 1h0m7-.1h0m1 .9h0m9.2-.8h0m1.5-1.7h0m.5 2.2h0m2.2-2h0m1.4 1h0m1.9-.8h0m.1-.4h0m1 .7h0m.2 1.2h0m.1 .5h0m.1-1.7h0m.9-.3h0m.2-.2h0m.9 2h0m-44.4 1.4h0m.5 .7h0m.1 .9h0m1.1-.8h0m.3-1.6h0m.1 1.9h0m.6 .9h0m.6-.7h0m1.2-.3h0m.6-1h0m1.2 2.1h0m0-3h0m2.2 1.4h0m.1-.2h0m.3-.9h0m12.4 .4h0m8.7 1.2h0m4.7 .9h0m1-2.1h0m1.4 1.2h0m1.8-.2h0m1 .1h0m2.4-.6h0m2.1-.6h0m0 1.8h0m-44.7 2.2h0m.9-1.1h0m.9 .1h0m1.9-.6h0m2.4 1.4h0m.5-1.3h0m0 1.1h0m2.2-.8h0m1.2 .2h0m14.7-.5h0m10.4 .2h0m.7 1.3h0m2.3-.5h0m2.6-.9h0m1.8 1.4h0m.1 1h0m1.3-2h0m.1 2.4h0m.2-2.2h0m.7 .5h0m-44.7 2.4h0m.7 1.8h0m1-.1h0m2.1-1.9h0m.5 .7h0m0 1h0m.8-2h0m.2 2.4h0m.6-.2h0m2.7-.1h0m2-.5h0m10 .2h0m4.3-.6h0m9.5-.8h0m1.6 2.3h0m.9-1h0m1.6 .2h0m.9-1.2h0m.5 2h0m1.2-2.4h0m1.7-.1h0m.8 1.2h0m1.1-.4h0m.1-.1h0m-43.1 4.9h0m.2-1.2h0m1.3-1.8h0m0 2.9h0m.5-1.9h0m1.2-.7h0m3.7 .1h0m.4 .2h0m.9 2.3h0m4.5-.2h0m3.3-1h0m5.4 .6h0m2.6-.3h0m6-1.2h0m3.9-.5h0m2.1 1.9h0m1.7 .5h0m.2-2.2h0m1.2 1.7h0m.1-.2h0m.4-.3h0m1.5 .6h0m1.6-.5h0m-41.4 3.2h0m.1-1.9h0m.7 1.1h0m.4 1h0m.7-.2h0m.1 .1h0m.8-2h0m.7 2.8h0m.7-1.1h0m.6 .5h0m.3-.9h0m1-.1h0m.5 1.7h0m1.2-2.9h0m.1 .7h0m2.8 .5h0m1.5-.1h0m6.3 1h0m12.7-1.5h0m0-.5h0m2.2 1.8h0m.9 .1h0m1.8 .8h0m.2-2.8h0m2 2.2h0m1.6-.2h0m.2 .5h0m-38.8 2.9h0m.1 .1h0m.4-1.8h0m.4-.5h0m3 1.2h0m.4-.5h0m.9 1.5h0m10.3-.3h0m8.9-1.3h0m.4 .2h0m5-.1h0m.7 .2h0m.9-.9h0m.7 .3h0m.1 1.1h0m.6 .3h0m.1-1.8h0m.8 1.1h0m.4 .3h0m1.4-.6h0m2.6 1.9h0m1.4-2.9h0m1 2.2h0m-38.9 1.6h0m.8 1h0m0-1.7h0m.1 2.4h0m.4-.7h0m1.2 .4h0m1.1-.3h0m.2-1.5h0m.8 2h0m.9-2.3h0m7.5 1.4h0m1.7 .9h0m2.6 .5h0m10.2-2h0m3.2 .8h0m.5-.8h0m1.6-.6h0m.2 1.9h0m.4 .4h0m3.8-2.5h0m.8 1.2h0m-34.5 3.1h0m8.6 1.3h0m4-1.6h0m11.6 .7h0m.3-.5h0m.4 .4h0m2.3-.6h0m.6-.4h0m0-.3h0m2.2 1.4h0m1.5-1h0m-21 2.8h0m4.1 .9h0m.2-.7h0m5.8 1h0m3.9 0h0m3.6-.5h0m.8-.9h0m1.1 1.3h0m-30.9 1.8h0m7.5 1.7h0m2 0h0m4.8-.6h0m.5-1.4h0m5.3 .4h0m-16.9 3.1h0m18.2 .5h0m2.7-.3h0m.5 0h0m.8 .7h0m-3.3 3.4h0m1.2-.7h0" stroke="#98df8a" stroke-width="1.8" stroke-linecap="square" fill="none"/>
<path d="M394.5 155.3h0m-3.5 2.9h0m1.7-.4h0m.1-.6h0m.5-1h0m.1 1.8h0m0-.3h0m2-1.2h0m.8 1.3h0m.5-1h0m1 0h0m.5 1.4h0m.4-.9h0m2.4 .9h0m2.1-.3h0m2.2-1.7h0m1.9 1.7h0m1.9 0h0m.1-.6h0m.6 .1h0m.8 1.2h0m.4-.8h0m.1 .9h0m0-1.4h0m-19.5 3.5h0m.2 1.1h0m1.9-.4h0m.4-2.2h0m4 .7h0m3.1 .8h0m.5-.9h0m2.2 1.7h0m1 .2h0m.6-1.2h0m1.6-.8h0m.1 1h0m.2 .4h0m1.6-.9h0m.7-.3h0m1.6 .5h0m.1 .2h0m1 1.1h0m-23.4 2.3h0m.7 .6h0m.4-2.1h0m.2 .8h0m1.2 1.1h0m0-2.3h0m.3 2.5h0m0-.4h0m1.4-2.1h0m.7 2h0m2 .3h0m0-2.2h0m6.8 0h0m1.7 1.9h0m1-.8h0m1-1.2h0m.2 1.6h0m1.2-.2h0m.5 .2h0m4.4 .3h0m.1-1.3h0m-25.3 4.7h0m2.1-2.3h0m.6 .7h0m1.9 0h0m.2 .8h0m.4 0h0m1.3-1.6h0m.9 1.5h0m.9 .1h0m.5 .4h0m4 .6h0m1.1-2.6h0m5.7 .1h0m.5 1h0m.9-1.2h0m.7 .3h0m2 .4h0m1.2 1.1h0m.8-.6h0m1.2-.5h0m0-.4h0m-28 4.3h0m.4 .6h0m.2 .3h0m.8-.5h0m.2 .4h0m3-2.2h0m3.9 1.9h0m4.3 .5h0m7.5-.1h0m3.3-2.1h0m.5 .2h0m1.8-.4h0m3.3 2.1h0m1.1-.9h0m-33 1.9h0m.5-.2h0m1 2.5h0m.5-1.8h0m.1 1.1h0m.1-1.3h0m10.9 .5h0m3.6 .7h0m5.8-1.2h0m1.1 1.6h0m-26.5 3.5h0m4.4 .2h0m.4-2.9h0m.1 .7h0m3.6 1.9h0m17.7-1.2h0m-28.5 3.1h0m2.6-1.4h0m.2 .1h0m1.5 1.6h0m.2-1.4h0m0 2.3h0m0-1.4h0m.2-.4h0m17.1 1.5h0m2.3 .5h0m-24.9 2.2h0m1.6 .6h0m.6-.4h0m2.4-.5h0m0 .2h0m1.7 .6h0m4.8-2.4h0m1.4 .4h0m17.5 2.3h0m.3-.1h0m-28.8 2.6h0m1.3-1.6h0m0 .6h0m.3-.6h0m1 2h0m.9-2.8h0m3.2 1.5h0m-8.5 1.8h0m.1 2.1h0m.7-1.4h0m.3 .1h0m2.1-.5h0m.4 2.1h0m-8.3 2.4h0m1.1 .1h0m.2 .6h0m.3-1.7h0m1.1 .4h0m4.4-.6h0m-4.7 2.6h0m.1 .4h0m1.2 .4h0m1 .1h0m0-1.1h0m.4 .3h0m.1-.1h0m.7 1.8h0m1.1-1.5h0m4.8-.1h0m-11.5 3.8h0m.9 .5h0m1.4-.6h0m.8-1.1h0m.2 .4h0m2 2.1h0m6.3-1.2h0m-12.5 3h0m.1 1.1h0m.2-2.1h0m1.1-.5h0m1 1.6h0m.1 1.2h0m1.3-1.7h0m.7 .1h0m4.5 .2h0m.6-.7h0m.1 1.7h0m2.8-1.7h0m-14.3 3.1h0m1.5-.2h0m.9 .8h0m.5-.6h0m1.5 1.9h0m1.5-2.6h0m.3 2.5h0m2.2-.9h0m-10.3 4.1h0m4.9-2.6h0m1.9 2.5h0m.1-1.9h0m-6 4.1h0m.2 .9h0m.4-2.2h0m0 .1h0m.5 2.1h0m.4-1.5h0m.6-.2h0m1.1 .8h0m1.1-.3h0m1.2 1.2h0m.3-2.5h0m-6.5 3.5h0m.2 2.1h0m.6-.4h0m.1-.6h0m0 .5h0m2.2-2.3h0m.1 1h0m3.4 .7h0m6.2 .7h0m.2-1.7h0m-13.9 3.6h0m.3 .1h0m1-1.3h0m.4 2.4h0m.3-.2h0m.9 .3h0m.7-.1h0m.4-1.1h0m.5 1.4h0m1.3-2.8h0m6 2.8h0m4.2-1h0m-17 3.9h0m1.2-1h0m.3-1.2h0m0 1.3h0m2.9 .6h0m.3-2h0m1.4 1.4h0m8.9-.1h0m-15.8 3.3h0m.8-.1h0m2.9-2h0m1.5 0h0m23.6 1.4h0m-29 2.2h0m1.9 .2h0m1 .3h0m1 .2h0m.1 1.1h0m1.9-2.1h0m1.5 1.7h0m5.8 0h0m-11.1 2.5h0m1.9 1h0m.4-.7h0m.2-1.3h0m.1 .7h0m4.1-.5h0m4 .3h0m18-.2h0m-31.3 2.4h0m1.9 2h0m.1-1.8h0m3.7 1.1h0m.8-1.6h0m5.4 1.7h0m4.5 .1h0m2.2-.7h0m1.1 .1h0m.1 .6h0m-20.8 4.1h0m1.5-1.4h0m4.7-.4h0m.3 1h0m.3 .1h0m1.4 .2h0m.1-.8h0m4.6-.8h0m8.3 .7h0m2.7-1.2h0m-22.9 3.8h0m3.3 .9h0m1.3-.5h0m2 .7h0m7.7-1.2h0m1.4 1.3h0m-16.4 2.2h0m1.1 .4h0m1.6 .5h0m.5-2.1h0m.7 1.7h0m.3 .8h0m.5-1.9h0m.3 .9h0m2.1 1.1h0m7.7-1.8h0m-12.7 3.6h0m.5-.1h0m.8 .8h0m.6 .4h0m0-2.4h0m3.7 1.1h0m-5.7 1.9h0m.8 2.1h0m3.1 .2h0m.5-.3h0m.8-.1h0m0-.2h0m1.1-1.6h0m19.6 2h0m-23.9 1h0m2.4 2.1h0m.9-1.5h0m0 1.5h0m4-1h0m-8.5 1.8h0m1.9 2h0m1.3-1.7h0m2.4 .6h0m9 1.2h0m-15 3.3h0m.2 0h0m.6-.1h0m.2-.8h0m1.4 1h0m.9-2.6h0m.8 1.3h0m1.1 .8h0m.8 .6h0m.1-.4h0m11.5-.3h0m6-.9h0m.5 1.5h0m.2-2.5h0m1 1.8h0m-24.9 1.8h0m.4-.9h0m1.4 .1h0m.2 1.3h0m1.2 .4h0m.7 .8h0m1.5-2h0m.2 .9h0m1.2 1.3h0m.9-2.6h0m.6 .3h0m1.3 .7h0m7.3-.5h0m.1 1.1h0m.8 .7h0m8.6-.2h0m-23.7 2.7h0m1.6-.8h0m0 .9h0m1.2 .4h0m.6-.8h0m0-1.4h0m.9 2.1h0m.8-.7h0m4.8 0h0m2-.4h0m4 1.1h0m4.4-.1h0m.7 .1h0m2.1-1.5h0m.7 1.4h0m.2 .2h0m-23.6 1.9h0m1.3 1h0m.4-1.1h0m1.5 .8h0m.6-1.2h0m5.7-.4h0m12 .6h0m1.8 1h0m-21.6 1.2h0m.4 1.1h0m.6 .3h0m0 .2h0m0 .5h0m.6-2.2h0m.5 1.7h0m15.8 .6h0m6.5-.5h0m-22.9 1.3h0m.3 .2h0m4.9-.2h0m3 2.4h0m10.1 .1h0m-19.8 .7h0m12.2 .5h0m2.2 1.7h0m1.1-1h0m5.9 1.1h0m1.1-1.4h0m-15.3 4.2h0m.8-1.1h0m12.1-.9h0m1.3 1.6h0m3.5-1.1h0m-23.5 3.2h0m2.9-.1h0m.7 .5h0m1.6-.2h0m.6-.7h0m.7 .9h0m.1-.3h0m1.2 1.3h0m.3-.9h0m0 .2h0m2.6 .4h0m1.2-.6h0m.1-1.5h0m0 .3h0m.4 .8h0m1.6-.5h0m.5-.2h0m.4 .5h0m2.8 1.5h0m.9-.4h0m2.1-.7h0m-22.6 3.1h0m3.2-.5h0m.1 1h0m1.1-2.2h0m.1 1.4h0m2.8 1.4h0m.8 0h0m.8-2.3h0m4.4 .5h0m.5 1.1h0m3.5-1.4h0m.6 1.2h0m0 .8h0m1.4-.1h0m1.2-1.5h0m3.6 .1h0m.5-.5h0m-23.8 5.1h0m.9-1.6h0m4.4 .8h0m1.6-1.6h0m1.3 .5h0m.1 1.4h0m.9-1.9h0m1.8-.3h0m1.6 1.5h0m.5-1.5h0m2.2 1.3h0m.9-.1h0m0-.4h0m.8-.2h0m.4 2.1h0m3.1-2.4h0m1.7 .3h0m1.5 1h0m-25.5 4.2h0m3.4-2.5h0m1.8 1.1h0m4.5-1.1h0m1.9 1.7h0m.6-.6h0m1.2 1h0m.1-1.9h0m2.3 .7h0m1.7 1.6h0m1-1h0m2.1-2h0m1.1 1.1h0m1.7 1.1h0m3.9 .8h0m.4-.5h0m-26.6 2.4h0m1.5-1.3h0m1.2 2h0m2.2-2.1h0m1.6 2.3h0m0-1.6h0m1 1.3h0m.5-.1h0m.1 .1h0m.1-.6h0m.2 .2h0m.6 .8h0m.2-1.8h0m1.2-.6h0m.4-.3h0m.4 1.5h0m.4-.7h0m2 1.1h0m.3-1.5h0m1.6 .2h0m2.2 1.3h0m0-1.6h0m.1-.3h0m.7 .7h0m.1 0h0m1.2-.8h0m1.6 1.7h0m3.5 .8h0m.8-1.3h0m1.7 .2h0m1.5-.2h0m.2 .1h0m-30.6 3h0m.9-1.1h0m.8 2.1h0m.3-1.6h0m7.3 .5h0m.2-.2h0m.5 .4h0m.4 .5h0m0 .8h0m1.9-2.5h0m.3 .3h0m.2 2.3h0m.2-1.6h0m0-.6h0m3.3 .6h0m1.3-.8h0m.4-.3h0m1.3 .3h0m.8 1.7h0m.9-1.4h0m.2 1.2h0m.3-.5h0m1.6 1.4h0m.5-1.3h0m0 .5h0m.4-1.5h0m.8-.5h0m1.9 1.4h0m0-1.5h0m.6 .8h0m1.8 .2h0m-25.5 2.7h0m1 .4h0m1.1 1h0m.9 .8h0m.5-2.7h0m4.7 2.5h0m.5-.7h0m1.8-.6h0m0 1.2h0m.5-.6h0m9 .2h0m-17.1 .8h0m3.7 1.7h0m.3-1.3h0m1-.2h0m.7 2h0m.2-.2h0m2.3 0h0m0-1.2h0m1 2h0m.2-.7h0m1.2-.8h0m1.5 1.4h0m.3 .2h0m.4-1h0m.2-1.2h0m1.3 .6h0m.2 .5h0m.3-.5h0m.5 .5h0m.5 .8h0m.3-1.4h0m.5-.9h0m-9.9 3.4h0m4.2 .4h0m.7-.3h0m2.4-.1h0m1.9-.5h0" stroke="#1f77b4" stroke-width="1.8" stroke-linecap="square" fill="none"/>
<path d="M397.3 149.2h0m16.8 .6h0m2 .1h0m-21.7 5.7h0m7.6-1.2h0m3.4 3.7h0m.8 .1h0m3.6-1.6h0m-22.8 3.7h0m3.5 .5h0m7.5-1.3h0m4.1 1.2h0m.8-.6h0m3.4 .9h0m7.5-.6h0m1.7 .8h0m-25.7 3h0m4.9 .6h0m1.8-.6h0m2.4-.9h0m1.3-.7h0m2.5 1.4h0m.3 .6h0m5.4-2.1h0m-30.3 3.1h0m10.3 1h0m.6 .8h0m3.2-1h0m1.5-.8h0m.4 1.6h0m1.6-.7h0m3.2-.3h0m1.9-1.1h0m3.8 .9h0m.2 1.6h0m0-2.2h0m1.4 .2h0m.3 2.2h0m6.3-.7h0m-20.2 2.4h0m.4 .2h0m1-.5h0m1.8 .4h0m.2-.5h0m.1-.7h0m.6 2.6h0m4-.7h0m2.1-.5h0m1.4-1.4h0m2.1 .1h0m1.8 .7h0m.1 1.1h0m5.7-1.5h0m-21.2 4.8h0m1.2 .1h0m.4 0h0m1.1-2.2h0m.7 1.6h0m.3-.2h0m3.4-1.5h0m3.5-.2h0m.6 2.7h0m.4-.8h0m.5 .9h0m.4-.7h0m.9-1.2h0m1.5 .2h0m.5-.9h0m.7 0h0m.8 .8h0m3.2 1.5h0m.5-1.6h0m-25 3.2h0m.7 1.4h0m1.1-.6h0m1.6-1h0m1.6-1h0m.8 1.1h0m0-.1h0m1.8 .2h0m3.2 .2h0m.4 .2h0m3.2-.2h0m.4-.1h0m2.2 .7h0m.2-1.3h0m.5 .3h0m.4 1.8h0m2.1-.1h0m.1-.2h0m1.1-1.6h0m.7 .6h0m-24.6 3.4h0m1.5-.6h0m.8-.4h0m.5 1.4h0m1.1-1.6h0m.9 .5h0m0-.1h0m.1-.9h0m1.3 1.2h0m4.5-.9h0m3.3 1.2h0m1.3 .7h0m1.3-.4h0m1.3-.5h0m.8-1.4h0m1.6 1.7h0m1.5-.7h0m.6 .4h0m-25.7 3.4h0m1.2 .4h0m2.2 .3h0m.4-1.1h0m.6-.7h0m1.5 1.5h0m.1-1.3h0m1.4-1.1h0m.7 2.7h0m.2-2.6h0m10.7 .4h0m2.6 1.6h0m.9-.3h0m0-.5h0m.5 .3h0m.1 1h0m1.8 0h0m.5 .2h0m0-.8h0m3.1-1.6h0m.3 .2h0m-36.5 2.8h0m10.1-.2h0m.6 1.8h0m.5-1.4h0m1.6 2h0m.2-2.5h0m.5 1.7h0m1.7-1.4h0m0-.1h0m-6.3 4.3h0m0 .9h0m1.4-.3h0m1-1.4h0m-4.1 4.4h0m.3-2.1h0m0 2.3h0m.5-.7h0m.2-.6h0m.1 1.1h0m.1-2h0m.6 1.9h0m0 .5h0m1-.3h0m.2-2.1h0m.7 1h0m-8.1 4h0m4.8-.3h0m3.4-1.8h0m-24.4 5h0m12.6 .8h0m2.9-2.3h0m3.5-.3h0m.9 .2h0m.4 1.7h0m.4-1.8h0m1.5 1.9h0m.2 .5h0m.3-2.1h0m.5-.6h0m.3 .6h0m-3.6 4.3h0m.5 .3h0m.3-1.8h0m.3 2.5h0m1-.9h0m.3-2.1h0m.8 1.7h0m-12.7 2.6h0m.9 .7h0m2.5-1.2h0m1 2.1h0m1.5-2.1h0m.3 1.8h0m.3-2.5h0m.7 2.8h0m1.1-1.7h0m.5 1.5h0m.4-.4h0m.5-2h0m1.6 0h0m.9 2h0m-12.5 3.1h0m4.6 .4h0m.5 0h0m.8-1.6h0m0 .5h0m.9-1.6h0m0 1.4h0m.4 .2h0m.3 .8h0m.3-.7h0m.1 .8h0m0-1.5h0m.3-.1h0m1.1-.4h0m2.1-.1h0m-10.6 3.4h0m1.6 .8h0m.2-1.2h0m.9 1.3h0m1.1 .1h0m.8-1.2h0m.8 1.1h0m.6 .9h0m.6-.6h0m2.3 .7h0m-14.6 1.8h0m3.6 .1h0m7.8-.9h0m.8 0h0m0-.1h0m2.5 .7h0m7 1.1h0m-13.2 2.4h0m.1 1h0m.1-.6h0m2.1-.3h0m2.9-1.6h0m.1 .5h0m5.2-.6h0m1.6 1.9h0m.2-.3h0m-16 1.7h0m2.6 2.2h0m1.4-2.5h0m.2 1.3h0m1.4-1.3h0m.8 2.5h0m.1-.7h0m.1 .6h0m.8 .1h0m4.6-1.9h0m7.1 .1h0m.5-.8h0m-22.7 3.7h0m6.2-.8h0m.3 2.8h0m1.4-.1h0m.2 .2h0m.4-2.6h0m.1 2.4h0m1-2.1h0m.2 1.4h0m5.2-.4h0m4-.7h0m3.9 1h0m.6-.5h0m.8-.2h0m2.4-.1h0m-26.1 4.3h0m2 .2h0m3.1-1.2h0m.6-1.2h0m2.9 1.5h0m1.5 .4h0m.3-.9h0m.9 .3h0m2.7-1.5h0m2.4 2.9h0m1.4-1.5h0m.9-1h0m.7 1.8h0m4.7-1.4h0m-24.1 3.9h0m5.5-.8h0m1.6 .2h0m2 1.8h0m.8-.5h0m.6-1.4h0m1 1.6h0m.1-2.1h0m1.3-.4h0m2.2 1.5h0m.2-.6h0m3.7-.8h0m.7 1.2h0m2 0h0m.9 1.5h0m3.1-1.8h0m-21.1 3.4h0m.6 .8h0m.4-2h0m1.1 1.4h0m.8-1.7h0m1.6 1.9h0m.6 .9h0m2.7-2.7h0m.1 1.8h0m.1-.9h0m0 1.9h0m.7-1.9h0m.5 1.4h0m0-.4h0m4.4-.2h0m-26.8 2.9h0m4.2-1.3h0m5.9 1.3h0m1.4-.9h0m4.8 2h0m0-2.5h0m.7 1h0m1.2-.4h0m1.2-.3h0m.5-.7h0m.2 1.1h0m.5-.6h0m.7 .5h0m2.7-.9h0m2 .1h0m.5 2.7h0m1.9-.3h0m-18.7 1.5h0m3.4 1.5h0m1.6-.5h0m2.4-1.8h0m2.4 0h0m.6 .2h0m.2 .5h0m1.1 .4h0m.6 .6h0m.7-.7h0m5 1h0m.5-1.7h0m2.4 1.7h0m7.4 .1h0m-24.9 1.8h0m.8 .7h0m.6 .8h0m.1-1h0m2.5 .1h0m2.2-1.7h0m.1 2.9h0m1.4-.8h0m.3-1.1h0m1 1h0m.1 .1h0m1-.9h0m2.8-1h0m1.8 2.2h0m1.3-1.9h0m3.4-.2h0m-25.8 4.7h0m3.7 .4h0m1.7 .3h0m.8-1.5h0m1.7-1h0m.7 2h0m.5-.8h0m2.3-.8h0m.1 1.9h0m1.4-.1h0m.9 .4h0m2.3-1.6h0m5.5-.2h0m1.9 .5h0m.3-1.3h0m-26.3 3h0m.4 1.6h0m2.8 .9h0m5-1.1h0m1.1 .1h0m.6 .4h0m.4-.9h0m1.2-.6h0m.6 .7h0m2.6 .3h0m.1 1.3h0m.3-2.2h0m1.8 .5h0m6.8-.6h0m2.3 .8h0m4.1-1.5h0m1.4 1.3h0m3.1-.3h0m.1 .4h0m-29.8 3h0m3.2 .4h0m1.3-1.3h0m2.3 1.6h0m1.1-.4h0m1.4-.1h0m.4 1.2h0m.4-2h0m.2 1.6h0m1.2-.7h0m2.4 .9h0m2.4-2.5h0m5 .3h0m2.6 .7h0m5.3 .8h0m.3-.9h0m0-.4h0m-27 3.3h0m3 .8h0m1.4 .7h0m.7-.9h0m.5-.5h0m.5 0h0m.4 1.5h0m1.3-.4h0m1.9-2.1h0m.7 1h0m9-.4h0m-17.2 2.6h0m2.6 1.2h0m.1-1.2h0m.4 .6h0m0 1.1h0m1.3 1h0m3.5-.3h0m.2-.5h0m.9-.5h0m2 .6h0m2.1-2.2h0m6.9 1.8h0m.3 .8h0m1.3-.4h0m4.3-.7h0m-27.7 2.2h0m4.2 1.5h0m.7 .1h0m0-2.2h0m.7 1.1h0m1.5 1.2h0m.9-.2h0m2.1-1.7h0m.9 2.4h0m.1-1.4h0m2.2 1.2h0m1.9-.8h0m1 .6h0m.4-1.4h0m10.4-.6h0m3.1 1.9h0m-26.7 3.6h0m.7-2.1h0m1.6 .5h0m3.6-1.4h0m.6 1.2h0m.2 .5h0m1.6-.2h0m1.8-.9h0m0 1.4h0m.9 .9h0m.1-1.6h0m4.1 1.4h0m0-1.9h0m.9 .2h0m.7 .8h0m.1-.9h0m1 1.1h0m.1 .8h0m3.1-1.2h0m.6-1.5h0m-28.2 5.3h0m4.8 0h0m.9-2.2h0m.3 1.9h0m.4-1.8h0m1.8 2.6h0m1.2-1.9h0m2.6-.6h0m.1 1.7h0m.7-.7h0m1.4 1.4h0m.4-.3h0m2-.8h0m.1 1.1h0m.3-1h0m.5 .4h0m1.7-1.3h0m2.1-.5h0m.1 1.8h0m3.4 .6h0m.9-.7h0m9.3 .2h0m.3-.6h0m-34.2 2.4h0m6.1 0h0m.6 .1h0m1 1.7h0m.9-1.5h0m.6 1.2h0m1.5 .3h0m.6-1.8h0m4 1.5h0m2.8-2.6h0m.3 1h0m1.1 .4h0m.5 .5h0m.7-1.1h0m.9 1.8h0m.2-.3h0m.4-2h0m1.2 2.5h0m.6-2.6h0m.2 1.9h0m.2-.2h0m.1-1.5h0m1.6 .7h0m-22.5 3.8h0m.6-.1h0m.4 .5h0m0-2.2h0m.9 .1h0m1.2 2.7h0m1-.4h0m.4-1.7h0m.7 2.2h0m1.7-.6h0m5.2-1.1h0m0 0h0m1.4 .3h0m.3 .7h0m.6 .2h0m.4-2.3h0m.8 0h0m.6 1.2h0m2.4 1.3h0m1.1-1.3h0m1.4-1h0m.5 1.2h0m.2 1h0m8.6-2.4h0m-30.8 3h0m1.1-.2h0m2.9 .3h0m.2 2.3h0m.2 .3h0m.9-.4h0m.2-1.2h0m.1-.7h0m4.8-.5h0m.6 2.4h0m1.1-2.2h0m.2 1.7h0m1.7-1.1h0m1.1 .8h0m2.5-1.5h0m.5 2.3h0m.1-1.8h0m3 0h0m.7 1.9h0m.1 0h0m.6 .3h0m2-1.4h0m1.9-.8h0m3.8 .4h0m-34.4 4.7h0m4.6 0h0m5.3-.1h0m1.3-.5h0m.6 .7h0m.9-.5h0m.5-1.2h0m.1 1.3h0m.8-1.1h0m3.5-.4h0m3.1 1.8h0m1.2-.1h0m1.7-2.1h0m1.1 0h0m2.4 .4h0m1.3 1.3h0m.7-.2h0m1.5 .5h0m2.2-2.2h0m-38.5 3h0m12-.1h0m4.2 .8h0m9.4 .6h0m17.4-.5h0m-33.9 2.8h0m4.6-.5h0m.5 .9h0m1.5 .1h0m22.8-.6h0m.8 1.7h0m-32.6 1.7h0m4.3 .2h0m.2-.6h0m2.9-.7h0m2 1.3h0m6 .6h0m2.4 .6h0m.3-2.2h0m1.3 0h0m6.7-.2h0m.9 .8h0m.4 .4h0m.4-.5h0m0-.7h0m3.5 .3h0m1.1 .8h0m.9 .2h0m.7 .4h0m0 .2h0m-23.9 3.6h0m2.3 .2h0m2.2-2.6h0m.7 .7h0m4.8-.9h0m11.2 1.6h0m.2-1.8h0m-31.7 5.5h0m1-1.1h0m4.8 1h0m10.6-2.3h0m2.4 1h0m1 1.5h0m3 0h0m1.6-1.2h0m1.3-.6h0m-17.8 4.3h0m12.6 .4h0m2.1-2h0m2.7 1.8h0m1-1.6h0m0 1.7h0m-21.2 .8h0m5.2 1.4h0m4.6 1.1h0m3.2 0h0m1.6-2.7h0m-1 3.3h0m.8 1.1h0m-7.3 1.8h0m8.1 .6h0" stroke="#e377c2" stroke-width="1.8" stroke-linecap="square" fill="none"/>
<path d="M388.2 148.5h0m7.5-.2h0m5.3-.2h0m7.2 1.7h0m-10.8 1.5h0m7-.9h0m-7.2 4.2h0m-15.4 3.5h0m24-.7h0m11.9 1.3h0m-33.8 .8h0m7.8 1.9h0m5.4-.5h0m3.7-.6h0m.6-.5h0m-16.6 4.9h0m18.3-2.1h0m2.5 .6h0m8.4 1.3h0m3.8-.4h0m-26 3.3h0m3.9 .2h0m6.4-2h0m6.8 .8h0m-14.4 2.9h0m4.6-.5h0m9 .7h0m1.3 .7h0m-38.2 2.5h0m7.2-1h0m1.4 .7h0m13.2-.7h0m20.2 .1h0m.1 0h0m-15.4 3.1h0m7.5 1h0m-33.9 2.3h0m36.8 1.4h0m-33.2 2.5h0m-3.6 2.1h0m5.1-1.1h0m1.4 2.8h0m-8.4 .2h0m8.2 5.7h0m5.6 .1h0m.2-2.3h0m-9.2 7.5h0m7.3 .8h0m-13.5 .7h0m15.7 2h0m.2 .3h0m-8.2 2.5h0m-6.9 3.4h0m9.6 .4h0m1.8 .4h0m-3.9 3.5h0m1.1 1.7h0m3.9-1.3h0m-1.8 2.8h0m-22.1 3.1h0m6.5-.8h0m2.1 6.1h0m14-.3h0m-24.6 2.9h0m8.6-.2h0m-8 5.7h0m6.1-2.2h0m12.6 2.3h0m3.7 2.3h0m10-2.2h0m-21.4 6h0m4.6-.7h0m.4-1.5h0m2.5-.2h0m.7-.2h0m2.7-.1h0m3 1.5h0m.3-.3h0m.6-.3h0m.5 .7h0m.3 .7h0m1.3-.4h0m10.2-1.1h0m-27.6 3.2h0m12.6 1.3h0m8.1-.9h0m1.4 .1h0m3.9-.2h0m-16.6 2.4h0m6.8 .7h0m4.5-1.2h0m-29.8 2.6h0m9.3 1.8h0m11.5-1.8h0m1.1 .6h0m14.1 1.9h0m4-.4h0m-31.1 1.8h0m11.9 4.2h0m13.3-1.8h0m-29.8 4h0m14.7 .6h0m8.3 .1h0m8.1-1.9h0m-26.4 5.2h0m14.9 0h0m.1-1.3h0m3.5 1.8h0m16.6-2.7h0m-22.9 4.1h0m3.6-.6h0m-20.6 4.7h0m11.2-2.4h0m4.2 1.3h0m8-.2h0m10.2 .2h0m-15.3 4.1h0m1.2 .4h0m1.3-1.6h0m4.4 .6h0m11.1-1.5h0m4.6 2.5h0m.7 .2h0m-39 2.1h0m1.2-1.6h0m9.8 .8h0m12.2 1.2h0m6.1-1.4h0m-13 2.6h0m5.7 2h0m6.4-1.3h0m5.7 1.5h0m-36.4 1.1h0m2.6 1h0m12.7-1.2h0m5.9 1.4h0m1.8-1.3h0m.1-.5h0m9.1 1.1h0m11.8 .5h0m-28.8 1.3h0m4.1 3.3h0m4.9 2.4h0m.6-2.1h0m10.5 2h0m2.4-1.5h0m5.3-.7h0m-15.1 3.4h0m-14.1 4.9h0m26.8-1.5h0m-29.9 4.4h0m5.4-1.1h0m3.6 1h0m5.9-2.3h0m-9.3 3.1h0m.8 1.4h0m3.3-2h0m6.1 1.6h0m4.3-1.1h0m8.1 0h0m-23.1 2.5h0m1.3 1.1h0m5.8 1.7h0" stroke="#dbdb8d" stroke-width="1.8" stroke-linecap="square" fill="none"/>
<path d="M383.8 215.9h0m1.2-1.5h0m2.5 1.6h0m-6.6 5.8h0m5.2-.8h0m4.8 .4h0m.9 .3h0m-.6 .9h0m-8.5 3.2h0m1.6-.7h0m2.3 3.7h0" stroke="#8c564b" stroke-width="1.8" stroke-linecap="square" fill="none"/>
<path d="M386.4 212.9h0m-.7 .3h0m.3 2h0m.1 .3h0m.9-1.3h0m.4-.3h0m.6-.8h0m-4.2 4.5h0m1.7-1.5h0m0 1.5h0m.7-.9h0m.8 0h0m1.7 1h0m.9-1.5h0m2.2 2.7h0m-9.2 3.1h0m2.6-2.8h0m.5 .2h0m4.6 2.3h0m.8-2.6h0m1.6 1h0m1.2 .5h0m-12.6 2.6h0m.1 1.3h0m.1-.5h0m.6 .3h0m2.6 .4h0m7.5-2.2h0m1.2 1.6h0m.2-1.6h0m-13.6 4.3h0m5.4-1.4h0m3.5 .8h0m1.8 .8h0m.7-.9h0m.5-.6h0m1.5 2.7h0m3.6 2.1h0m-4.8 1.3h0" stroke="#ff7f0e" stroke-width="1.8" stroke-linecap="square" fill="none"/>
<path d="M382.5 241.7h0m.9-.1h0m.4 .1h0m.1 .6h0m.4-.8h0m.2 1.1h0m2.4-.8h0m.4 .9h0m2-1.5h0m-7.8 4.2h0m2-1.5h0m.5-.1h0m.1 .3h0m0-1h0m.2 .3h0m.1 .3h0m1.6 0h0m.5 .5h0m.3 .6h0m.3-1.5h0m2.6 2.4h0m.4-2.2h0m-5.7 2.7h0m1.6 1.3h0m.1 .8h0m1.8-.8h0m.2-.3h0m.3-.4h0m.4 .3h0m.9 1.6h0m.9-2.1h0m.2-.1h0m.4 .6h0m-9 3.5h0m1.6-.4h0m1.7-.2h0m1.6-.9h0m1.7 2.8h0m1.1-1.5h0" stroke="#c7c7c7" stroke-width="1.8" stroke-linecap="square" fill="none"/>
</g>
<g clip-path="url(#cp9)"><path d="M393.4 178.1h0m-6.8 4.5h0m1.7 0h0m-4.5 6.1h0m11.4-.6h0m-11.9 3.7h0m25.1-.8h0m-26.2 2.2h0m-1.6 3h0m7.6 .7h0m7.2-.6h0m6.2 1.7h0m5.7-1.6h0m.5-1.3h0m-28.6 3.6h0m1.3 0h0m27.1 1.7h0m.5 .5h0m-27.5 .3h0m4.2 1.7h0m3.3-.5h0m17.7 1.6h0m3.1-2.4h0m-3.4 3.9h0m.9 .9h0m-2.3 1.2h0m-25.9 2.8h0m.7 .6h0m23.7 0h0m-24.9 4.2h0m.9-.3h0m22.6 3.5h0m.6 .2h0m-25 2.9h0m.6-1h0m17.3-.5h0m6.2 .5h0m-25.1 3.4h0m1.7 1h0m22.8-2.4h0m-23.2 3.4h0m5.4 .4h0m17.4-1h0m-23.3 3.5h0m1.3 3.5h0m2-.6h0m1 5h0m.2-1.3h0m-2.2 5.9h0m1.8-1h0" stroke="#ff7f0e" stroke-width="1.9" stroke-linecap="round" fill="none"/></g>
<path d="M73.3 341.6h0m-1.4 1.8h0m.3 1.4h0m.1-1.3h0m.6-.4h0m.1-.7h0m0 1.6h0m0-.1h0m.7-.2h0m0-1.3h0m-3 3.7h0m.3 .6h0m.3-1.1h0m.2 .3h0m.3 1.3h0m0 .2h0m.1-1.4h0m.3 1h0m0-1.3h0m.3-.6h0m0 .5h0m.1 1.2h0m1.2-.3h0m-14.2 3.1h0m10.5 .8h0m.7 .2h0m0 0h0m1.1-2.1h0m.3 .6h0m.2-.1h0m-4.1 4.5h0m.1 .3h0m.1-2.3h0m.7 .6h0m.6 1.9h0m.6-1.5h0m.1-1h0m.6 .9h0m.4-.1h0m.1-1h0m.2 .2h0m.3 1.6h0m-4.5 1.5h0m.4 .6h0m.1 1.6h0m.4-1.1h0m.6-1.1h0m.4 0h0m.1 .7h0m-2.2 3h0m0 .2h0m.4 .9h0m.2-1.9h0m.1 1.1h0m0 .6h0m0 .4h0m0-.1h0m.5-2.3h0m.3 .2h0m.6-.4h0m1 1.3h0m-4.4 4.6h0m.1-.5h0m.2-1.2h0m0 1.1h0m.5-2h0m0 1.8h0m0-.5h0m.1-.8h0m.1-.5h0m0 .3h0m.1-.5h0m.3 .1h0m.1 .2h0m.1 2.3h0m.5 .3h0m1-2.8h0m.1 2h0m-4.6 2.4h0m1.2-1.4h0m0 1.6h0m.3-1.4h0m.2-.2h0m0 2.4h0m0-1.3h0m.1 .9h0m.1-1.6h0m0 1.7h0m.2 .4h0m.5-2.3h0m.1 1.5h0m.6 .5h0m-4.9 3.4h0m1.1-1.9h0m.1 1.4h0m.3-1.3h0m0-.9h0m.1 2.6h0m.2-1h0m.1 1.2h0m.4-2.7h0m0 .4h0m.2 .5h0m.2 .9h0m.4-1.2h0m.2 1.3h0m.6-1.7h0m-5 3.1h0m.7 2.3h0m.4 .1h0m.1-1.4h0m.3-.1h0m0 1h0m.1-.6h0m0 .1h0m.6-1.1h0m.3 1.4h0m.7-.4h0m.1-.9h0m.6-.7h0m-3.4 3.7h0m0 1.8h0m.1-.1h0m.4-1.9h0m.2 1.2h0m.2-1.7h0m.2 1.6h0m0 .9h0m.1 .1h0m.3-2.1h0m.3 .9h0m0-.9h0m.9 1.5h0m.1-.9h0m.2 0h0m-14.5 3.1h0m9.4 1.4h0m1.2-1.4h0m.1 .9h0m.1-.9h0m.2-1.4h0m.1 .5h0m0 .7h0m.3-.5h0m.1 1.1h0m0 .2h0m.2-1.2h0m0 .1h0m0 .6h0m.1 .9h0m0-.1h0m0-2.1h0m.3 1h0m.2 .1h0m.1-1h0m-1.8 3.7h0" stroke="#ff7f0e" stroke-width="0.95" stroke-linecap="round" fill="none"/>
<path d="M121.5 343h0m5.2 1.6h0m.4-.2h0m.5-.3h0m1.8 .1h0m-3.1 2h0m1 1.1h0m-4.1 3.4h0m2.5-1.3h0m-1.7 3.3h0m1.1-.5h0m-2.5 2.3h0m.4 2.3h0m.8-2.5h0m0-.1h0m.6 .8h0m-2.5 2.5h0m.2 2.4h0m1.3-2.5h0m.2 .7h0m-1.9 2.5h0m-4.8 6.2h0m1.6 2h0m.4-1h0m.1 1.6h0m-26.4 5h0m22.6 3.1h0m.7-2h0m-.7 2.6h0m.4 .3h0m.5-.2h0" stroke="#fdc99a" stroke-width="0.85" stroke-linecap="round" fill="none"/>
<path d="M127.1 344.4h0m2.3-.2h0m-3.7 5.2h0m-.6 2.8h0m-3.2 5.3h0m1.7 .6h0m-5.1 10.7h0m.5 .6h0" stroke="#fba660" stroke-width="0.8" stroke-linecap="round" fill="none"/>
<rect x="142.3" y="347.6" width="2.3" height="27.9" fill="url(#cb142_347)" stroke="#2a2a2a" stroke-width="0.5"/>
<path d="M139.4 355.4H142.3M139.4 375.3H142.3" stroke="#2a2a2a" stroke-width="0.5"/>
<text x="137.2" y="357.7" font-size="6.5" text-anchor="end" fill="#2a2a2a"  stroke="#2a2a2a" stroke-width="0.09">2</text>
<text x="137.2" y="377.8" font-size="6.5" text-anchor="end" fill="#2a2a2a"  stroke="#2a2a2a" stroke-width="0.09">0</text>
<path d="M178.8 326.3h0m1.2 0h0m1.1-.2h0m1.6 .2h0m3.9-.4h0m-9.5 3.8h0m2.7-2h0m.3 1.6h0m.5-2.2h0m1.4 2.8h0m1.1-1h0m.4-1h0m.1 1.3h0m.1 .1h0m.1-.9h0m1.1 1h0m.3-1.6h0m0 2h0m1.2-.5h0m-5.7 1h0m.9 .8h0m.8-.8h0m.1-.3h0m2.1 .6h0m1.1-.2h0m4 1.4h0m-11.1 7.2h0m1.1-1.1h0m.3 .5h0m.1-.5h0m.2-1.1h0m.4 .3h0m.6 1.9h0m.1-.6h0m.6-2.2h0m.8 2.7h0m.2-1.7h0m2.2 1.7h0m-7.9 2.4h0m3.6-1.8h0m.1 .3h0m0-.4h0m1.1 1h0m-5.7 2.8h0m4.9 0h0m-11.8 7.4h0m-11.1 6h0m-1.3 8h0m2.9-.3h0m1.6 1.5h0m3.7-.8h0m1.5-.2h0m5.1 .3h0m2.2-.5h0m-16.8 3.6h0m7.1-2.1h0m.2 .6h0m2.8 .2h0m3.4 1.2h0m4.4-.8h0m-17.8 1.8h0m6 1.2h0m9.4-1h0m1.9-.2h0m1.1 2.8h0m.9-2.5h0m-23 5.2h0m2.1-.2h0m1 .4h0m.3-.3h0m1.1 .3h0m.7-2.4h0m.7 1.9h0m6.7-1.1h0m.5 1.8h0m.3-1.3h0m.9 .6h0m2.7-.3h0m.4-.2h0m.1 1.2h0m1.1-1.5h0m1.7 .8h0m.9-.3h0m.6-.5h0m.1 1.3h0m-20.3 2.3h0m1.9-1.4h0m.5-.6h0m1.4 1.6h0m.2-1h0m1-.6h0m7.1 2.5h0m.2-1.6h0m.2 1.9h0m.2-2.8h0m.3 1.6h0m.1-1.5h0m.1 2.8h0m1-3h0m.2 .2h0m.1 .8h0m.3-.1h0m.1 .4h0m0 .8h0m.2-.2h0m.5 .3h0m.1-1.4h0m.1 1.8h0m0 .3h0m.1-.6h0m.1-1h0m.3 .3h0m.1-.6h0m.1 .5h0m0 1.1h0m.1-1.9h0m0 .9h0m.4 1.2h0m.1-1.2h0m.3 .9h0m.3-1.5h0m.1 1.4h0m.1 .1h0m.2-.1h0m.3-.4h0m.5-1.9h0m.4 2.6h0m.1 .2h0m2.7-.9h0m-22.1 1.6h0m.4 .8h0m.3 1.3h0m.4-2.5h0m.7 1.9h0m.6-2h0m.2 1.2h0m.2 1h0m1-1.7h0m.5 1.9h0m0-1.3h0m.3 .9h0m.6-1h0m3.1 0h0m1.3-.4h0m0 1.8h0m1.4 .5h0m.8-1.9h0m.5 1.2h0m0 .7h0m.6-1h0m0 .6h0m.1-1.8h0m.9 .7h0m0 1.2h0m.1-1.4h0m.7 .7h0m.2-1.1h0m.4 .6h0m.1 .8h0m0-.1h0m.4-.5h0m.2 .9h0m.1 .3h0m0-1.5h0m0-.2h0m0 1.5h0m0-1.7h0m0 1.4h0m.2-2.3h0m.1 1.9h0m.1-1.8h0m.6 2.3h0m.1-2h0m0 1.4h0m.1-1.9h0m.1 .7h0m.2 1.9h0m.1-1.6h0m0 .2h0m.1-.2h0m0 1.7h0m.1-.8h0m.2-1h0m.1 .4h0m.1 1.2h0m.5-1.8h0m.5-.5h0m.1 .2h0m.1 1.3h0m0 1h0m0-.7h0m.6-.9h0m.5-.7h0m.6 1.3h0m.4-1.1h0m-22.5 3h0m1.1 2.2h0m.3-2h0m.9 1.9h0m.3-1.3h0m.3 .6h0m.3-.2h0m.2 1h0m.1-1.1h0m.2 1.1h0m.3-.4h0m.2-.1h0m.1 .6h0m.4-.4h0m.4 .4h0m1-.8h0m.2-1.5h0m0 2.3h0m0-.3h0m1.8-1.5h0m4.6 .1h0m1 1.2h0m.3-1.5h0m.1 0h0m.3 0h0m0 1.5h0m.1-1.9h0m.1 1.6h0m0-1.5h0m.1-.6h0m.2 2.3h0m.1-1.8h0m.2 1.1h0m0-1.1h0m.4 .4h0m.2-.3h0m.1-.1h0m.1-.3h0m0 .9h0m.2-.8h0m0 2h0m0-.4h0m.1-1.7h0m.1 0h0m.1 1.3h0m0 .3h0m.3-1.1h0m.1 .5h0m.1-.8h0m0-.1h0m.2 0h0m0 .2h0m.6-.1h0m.1 1.2h0m0-.6h0m0-.8h0m.1 2.5h0m.2-2.6h0m0 1.8h0m.4-1.5h0m0-.4h0m.2 .1h0m.1 1.2h0m0-.3h0m0 0h0m.1-.5h0m0 2.4h0m.1-2.6h0m.1 .5h0m.1 1.8h0m0-1.9h0m.2 .1h0m.1 .4h0m.2-1h0m0 1.7h0m.2-1.3h0m.3 .1h0m.2-.6h0m.1 1.9h0m.1 .3h0m.3-.4h0m3 0h0m-24.2 2.5h0m1-.3h0m.9 .3h0m.2-1h0m.3 .4h0m.2 0h0m.1-.7h0m.6 1h0m.2-.7h0m0 1.6h0m.1-.6h0m.3 0h0m.2 1.5h0m.4-1.9h0m.2 0h0m.2 0h0m.3-.8h0m.3 1.4h0m.1-1.5h0m2.6 1.7h0m.8 1.1h0m.2-.3h0m.6-.3h0m.9-.3h0m.3 .2h0m.3-1.3h0m0 2h0m.1-1.7h0m.2-.2h0m.1 .6h0m.1 1h0m0-1h0m.1-.5h0m.1 1.9h0m.2-.7h0m0 .5h0m.2-.8h0m0 .5h0m0 .2h0m.2 0h0m.1-.4h0m.1-.3h0m0-1.3h0m0 .5h0m.3-.2h0m.2 1h0m0 .3h0m0-.7h0m.3 .1h0m.7-.4h0m1 .1h0m1.4-1.2h0m.2 1.4h0m.2-1h0m.6 0h0m.2 .1h0m-18.4 2.7h0m9.2-.3h0m.9 .5h0m1.6-.5h0m0 1.5h0m.2 .8h0m.4-2h0m.6 .4h0m.2-.6h0m.4 .2h0m1.4-.2h0m.2 0h0m4.2 .8h0m-17.5 3h0m7.5 1.6h0" stroke="#2a7ab8" stroke-width="0.9" stroke-linecap="round" fill="none"/>
<path d="M154 397.4h0m2.1 0h0m2.1 0h0m2.1 0h0m2.1 0h0m2.1 0h0m2.1 0h0m2.1 0h0m2.1 0h0m2.1 0h0m2.1 0h0m2.1 0h0m2.1 0h0m2.1 0h0m2.1 0h0m2.1 0h0m2.1 0h0m2.1 0h0m2.1 0h0m2.1 0h0" stroke="#c9d8e6" stroke-width="0.6" stroke-linecap="round" fill="none" stroke-opacity="0.7"/>
<path d="M236.2 326.8h0m-5.4 2.6h0m2.6-1.1h0m1.1 1h0m1.2-.9h0m.3 1.2h0m.5-.9h0m.2-.5h0m2-.1h0m2.3 .1h0m4.1 1.7h0m.3-2.8h0m-15.9 3.8h0m1.3-.3h0m.8 .5h0m3.3 .9h0m1.6-.9h0m2.3-.8h0m3.6 2.5h0m.4-2.5h0m2.1 1.8h0m3.6-2h0m.2 .8h0m.6 0h0m.7-.6h0m.2 1.2h0m-23.5 3h0m.2 1.1h0m.4-1.8h0m.3 .8h0m.7 1.4h0m1.5-2.4h0m.3 2.2h0m.3-1.2h0m.3 0h0m3.4-1.2h0m1.9 1.1h0m1.1 .2h0m1.4-.7h0m2-.5h0m3.4 1.3h0m1.7 .9h0m.4-.1h0m2-.2h0m0-.7h0m.6 1.1h0m2.3-.1h0m1.6-1.2h0m-26.6 2.5h0m.5 1.6h0m1.2-.2h0m.4-1h0m.3 1.3h0m1-1.6h0m1.1 .2h0m.7 1.6h0m0-2.3h0m.2 1.1h0m1.1-.4h0m.8 .4h0m.2 .9h0m1.7-1.8h0m4.6-.7h0m7.2 1.3h0m.4 1.5h0m-24.8 1.6h0m1.4-.5h0m5.3 1.7h0m0-1.6h0m.6-.7h0m.7 .7h0m1.6-.9h0m.5 2.2h0m1.5-.2h0m.4 .2h0m1.6-2.2h0m.7-.1h0m.1 1.6h0m2.1-.1h0m.5 .1h0m2.4 .6h0m1.5 .4h0m1.5-.2h0m.1-.4h0m2.2 .2h0m2.3 0h0m-28.1 2.6h0m.3-.7h0m.6 .7h0m.3-1.1h0m0 2.2h0m.6-2.1h0m.1-.8h0m.7 .3h0m.4 .5h0m2.4 1.2h0m.3-1.9h0m1.6-.1h0m.2 2.8h0m.3-2.9h0m.3 2.4h0m1.1-2.2h0m1.2 1.1h0m0 .9h0m.8-.7h0m1.7 1.2h0m3.3-.9h0m.1-1.3h0m.4 0h0m.1 2.2h0m0-.3h0m1.1 .2h0m0 0h0m.1-.6h0m1.4 .1h0m1.8 0h0m.5-.8h0m4.6-.5h0m.7 .7h0m-29.2 3.9h0m.4-1.7h0m0 1.1h0m5-.5h0m1.5 1.3h0m1.8-.7h0m.8 .3h0m.1-1.7h0m.7 .2h0m1.2 .4h0m2.1-.7h0m1.5 1.2h0m.5 1.4h0m.5-1.5h0m5.6-.6h0m.1 .1h0m1.2 0h0m.7 .9h0m0 .2h0m.6-1h0m-25 2.1h0m1.6 1h0m.2 1.7h0m.2-2.3h0m.6 .9h0m3 .1h0m4-.2h0m1.2-1.2h0m.5 .2h0m.1-.2h0m1.4 2.5h0m1.5-1.8h0m0 .7h0m11.8-1.3h0m.7 0h0m-29.3 5.2h0m.7 .4h0m.7-1.8h0m.8 1.2h0m0-.6h0m1.6-1.5h0m.1 .7h0m.7 2h0m.6-.6h0m1-.9h0m.1-1.4h0m1.1 .2h0m4 .9h0m.2 .8h0m.7 .6h0m1.2-2h0m.9 1.7h0m.5 .6h0m.3-2.6h0m.3 .4h0m9.3 2.4h0m1.2-2.8h0m.3 1.4h0m1.4 .3h0m-29 3.5h0m.8-1.1h0m1-1h0m.1 2.4h0m.2-.6h0m.1 .6h0m.1-1h0m.4-1h0m.2 1.8h0m2-1.4h0m1-.8h0m.1 .4h0m.4 2.3h0m1.4-.7h0m1.7-1.9h0m.4 1.6h0m3 .3h0m1.3-.1h0m.1-1.3h0m1.4 .7h0m.2-.6h0m9.6 1.3h0m.3-.9h0m.1 .2h0m.3 .4h0m2.7-1.4h0m-28.2 5h0m1.3-.9h0m.9 1.1h0m1-2.4h0m1.6 1.7h0m.1-1.6h0m0 2.4h0m1.7-1.4h0m2.1 .3h0m2.4-1.7h0m3.6 2.9h0m.3-2.6h0m.5 2.3h0m.4-1.3h0m7.4 .2h0m1.7 1.3h0m1.6-1h0m-30.3 3.1h0m5.6 .9h0m.3-.8h0m2.6-2h0m.7 2.2h0m2-1.8h0m1.2 .5h0m3.5 1h0m.1-1.1h0m0 .1h0m1 1.7h0m1.7-.5h0m.1-2.1h0m7.8 1.9h0m.3 .1h0m.6-.9h0m2.2-.4h0m-30.2 4.4h0m.2-1.7h0m.7-.4h0m.1 1.6h0m3.6-.9h0m2.3 2.2h0m.9-2.1h0m2.1 1.6h0m.4-2.3h0m.2 1.7h0m.4-.2h0m1.1-1.1h0m2.5 2.1h0m0-1h0m.1 .6h0m2.5-.1h0m.1-.4h0m.9-1.1h0m0 .2h0m.2 1h0m.3-1.8h0m6.4 2.2h0m.3-1.1h0m.3 .8h0m.6-1.7h0m.2 1.6h0m2.1 .3h0m-29.1 .9h0m.9 1.6h0m1.6 .2h0m1-.9h0m.9-.2h0m3.6 1.4h0m.4 .3h0m1.1 .4h0m.8-1.7h0m.6 1.6h0m0-2.2h0m.7 1.5h0m1.5 .3h0m.1 .2h0m1.2 .1h0m.1-2.4h0m2.9 2.2h0m.5-1.8h0m1 .9h0m.4 1h0m5.4-1.7h0m.8-.1h0m.4 1.8h0m1.1-2.4h0m.3 .2h0m.9 2.2h0m-28.4 1.9h0m2.1-1.1h0m4.2 1.3h0m1.9-.4h0m2.8 1.2h0m.4-1.9h0m1.1-.3h0m3.8 .2h0m2 2.1h0m0-.8h0m5.6-.2h0m1.1 .9h0m.9-2.4h0m1.1 .4h0m.3 2.2h0m.2-1.2h0m1 .3h0m-29 1.8h0m1.8 2.1h0m.4-1.9h0m3.2 .5h0m2.5 1.2h0m.6-2.2h0m.1-.2h0m1 .2h0m2.9-.2h0m.9 1.5h0m.1-.1h0m.9 .7h0m.3-.6h0m.4-1h0m3.4 1h0m.5 .9h0m.7-1h0m2.6 1.1h0m1.3-.8h0m1.4 1h0m.9-2.3h0m0 2h0m.6-.6h0m-26.2 3h0m2.9 .6h0m1.6-.7h0m.4-1h0m.1 2h0m4.9-2.1h0m.5 1h0m.7 0h0m.1 .7h0m.3-1.9h0m.4 1.1h0m1.4-.2h0m.3 .1h0m10.4-1.2h0m1.4 0h0m.2 .4h0m1.2 1.6h0m1.1-1.2h0m-26.1 3.8h0m.6 .1h0m1.1-1.5h0m1 .3h0m.5 1.8h0m1.8-2.3h0m.5 1.7h0m1.9 .6h0m.1-.7h0m1.6 .4h0m.2-.1h0m1.1-.1h0m1.1-.6h0m.8-1.3h0m.8 2.3h0m.3-.2h0m.4-.6h0m.5-1.7h0m2.5 1.4h0m.2-.2h0m1.4 1.3h0m.3-2.1h0m1.2-.4h0m3.1 .6h0m.9 1.1h0m-25.4 3.2h0m4.5 1h0m0-2.8h0m.3 2.1h0m.3-.3h0m1.3-1.1h0m4.9 1h0m.2-.3h0m3.9 .8h0m1.1-.2h0m1-1.5h0m3.1 .8h0m.4-.9h0m2.2 .2h0m-20.4 4.3h0m.6 .3h0m4.3-1.5h0m4.3-.1h0m.5 .9h0m1.8-1.4h0m1.2 1.4h0m.4-1.1h0m2.3 2.2h0m1.5 0h0m1.5-2.3h0m.7 1.3h0m-19.9 3.7h0m1.3-1.8h0m.4 .6h0m.6 .7h0m.2 .4h0m2.3-.3h0m4.2-1.1h0m.5 .2h0m.3 .2h0m1.7-.4h0m2.1 1.6h0m1.1-.9h0m.4 1h0m.5-2.4h0m1.2 2.1h0m.8-1.7h0m.2 1.3h0m.6-.2h0m2.9-.3h0m.3 1.3h0m-19.8 2.9h0m.3-.9h0m.2 .3h0m.5 .4h0m.4-.8h0m.3-.5h0m.1 .1h0m.5 1.5h0m.7-.5h0m.7-2h0m1.7 0h0m5 2.8h0m.1-1.8h0m.2 1.6h0m4.4-1.3h0m.9 .2h0m.3-.2h0m3.7-1.3h0m-17 4.4h0m5.5-.2h0" stroke="#a9cde6" stroke-width="0.75" stroke-linecap="round" fill="none"/>
<path d="M234.5 329.3h0m8.3 1h0m2.1 1.8h0m3.8-1.2h0m-21.8 4.7h0m.4-1.8h0m11.2 .2h0m5.4 .8h0m1.7 .9h0m-19.7 1.3h0m5.2-.4h0m1.3 .7h0m1 1.3h0m-10.9 1.9h0m8-.4h0m6.4 .6h0m8.1 .4h0m4.5 .2h0m-27.2 2.6h0m4.8-1.7h0m4.7 2h0m2.5 .5h0m3.9 0h0m1.2-.7h0m1.4 .1h0m7.6-.6h0m-23.8 2.8h0m4.1 .9h0m14.8-1.1h0m-13.7 2.3h0m.1-.2h0m-11.7 4.5h0m2.4 1.2h0m23.1-1h0m-29 3.5h0m.8-1.1h0m1.1 1.4h0m.4-1h0m.4-1h0m3.7 2.3h0m19.4-1.6h0m-21.9 2h0m5.5 1.4h0m-6 7.2h0m7.6-.3h0m.1-.4h0m3.7-.4h0m7-.7h0m1.1 .7h0m-23.5 2.1h0m4.5 1.2h0m1.5 .7h0m3.7-.3h0m5.7-1h0m7 1h0m1.1-2.4h0m-16.2 5.3h0m7.3 .1h0m0-.8h0m8.7-1.3h0m.3 2.2h0m-22.4 1.6h0m2.5 1.2h0m.6-2.2h0m0 0h0m.1-.2h0m0 0h0m5.8 2.1h0m.7-1.6h0m3.9 1.9h0m.7-1h0m6.2-1h0m0 0h0m0 2h0m0 0h0m.6-.6h0m-21.3 1.9h0m5-.1h0m1.2 1h0m.1 .7h0m0 0h0m.3-1.9h0m.4 1.1h0m1.4-.2h0m12.1-1.1h0m1.4 2h0m1.1-1.2h0m-22.9 4.5h0m4.3-.7h0m1.6 .4h0m4 .2h0m0 0h0m.7-.8h0m6.1-1.7h0m0 0h0m3.1 .6h0m.9 1.1h0m-20.3 3.2h0m6.4-.4h0m5 .6h0m1-1.5h0m5.7 .1h0m-20.4 4.3h0m0 0h0m4.9-1.2h0m4.3-.1h0m2.3-.5h0m7.6 1.5h0m0 0h0m-18.2 2.5h0m.8 1.1h0m0 0h0m2.3-.3h0m4.2-1.1h0m.8 .4h0m5.8-1.1h0m2 .4h0m.8 1.1h0m0 0h0m-16.3 3h0m0 0h0m.2 .3h0m.5 .4h0m0 0h0m.8-1.2h0m.5 1.5h0m.7-.5h0m7.5-1h0m.2 1.6h0m4.4-1.3h0m.9 .2h0m.3-.2h0" stroke="#5b9bd0" stroke-width="0.75" stroke-linecap="round" fill="none"/>
<path d="M230.1 376.7h0m2.6 1.1h0m-5.4 .9h0m1.6 .8h0m.3-1.1h0m1.5 2.5h0m.6-2.1h0m.4-.7h0m.2 1.2h0m0 .5h0m0-.4h0m.1 1.1h0m.5-.6h0m1.2 .4h0m1.8 .7h0m-11.3 1.3h0m1.6 1h0m1.8-2.1h0m.3 .2h0m.7 .6h0m1.9 .5h0m.8-1.2h0m.3 1h0m.5-1.2h0m.2 1.4h0m1-1.1h0m.3 2h0m0-1.6h0m0 2.1h0m.1-2.1h0m1.1 .2h0m2 .3h0m-12.8 4.7h0m3.1-1.6h0m.8 .7h0m1.1 .3h0m.2-.6h0m.5-1.7h0m2.6 1.1h0m.6-.9h0m0 0h0m1.1 .8h0m.4-.4h0m.3-.1h0m.9 1.6h0m.9-1h0m.7-1.2h0m.7 .3h0m-7.9 2.7h0m2.7 .5h0" stroke="#4a8fca" stroke-width="0.75" stroke-linecap="round" fill="none"/>
<rect x="259.3" y="346.1" width="2.5" height="28.3" fill="url(#cb259_346)" stroke="#2a2a2a" stroke-width="0.5"/>
<path d="M256.4 356.4H259.3M256.4 374.2H259.3" stroke="#2a2a2a" stroke-width="0.5"/>
<text x="254.2" y="358.7" font-size="6.5" text-anchor="end" fill="#2a2a2a"  stroke="#2a2a2a" stroke-width="0.09">2</text>
<text x="254.2" y="376.7" font-size="6.5" text-anchor="end" fill="#2a2a2a"  stroke="#2a2a2a" stroke-width="0.09">0</text>
<path d="M311.8 345.4h0m1.1 2h0m2.8-.8h0m.1 .7h0m0-.3h0m1.8-1.4h0m0 .8h0m5.1-1.1h0m.6 .3h0m.3 2h0m-13.6 2.5h0m1.2-1h0m2-.5h0m1.2 1.4h0m.6-1.7h0m.1 0h0m.3 2.7h0m.6-2.1h0m.1 .5h0m.6 1.1h0m1.1-1.7h0m1.9 .3h0m-8.4 2.3h0m0 2.6h0m.6-1h0m1.1-1.9h0m.6 1.2h0m.7-1.1h0m1.9 1.1h0m-8.7 3.3h0m2-.9h0m5.1 .2h0m-6.7 3.1h0m.8 .6h0m.8-.7h0m1.3 1.9h0m.8-2.2h0m1.2 1.1h0m.1 .8h0m.3-.1h0m.7-2.3h0m4-.1h0m-14.7 5h0m1 .6h0m.2-.5h0m.3-1.7h0m2.7 .1h0m.4 .2h0m.3-.6h0m2.1 .2h0m0 1.1h0m.2-.8h0m.7 .1h0m0-.4h0m1.9 2.5h0m0-.6h0m-6.1 1.5h0m.5 .4h0m.2 1.8h0m2.7-1.8h0m1.4-1h0m-9.8 4.6h0m2 .3h0m.3-1.5h0m0 1.6h0m2.7-.3h0m1.5-.7h0m2.1 .3h0m.9-1h0m-7.4 5.4h0m.2-1.1h0m.8 .6h0m1.2-.8h0m3-1h0" stroke="#9edae5" stroke-width="0.8" stroke-linecap="round" fill="none"/>
<path d="M369.9 322.2h0m.4-.1h0m2.6 .8h0m-7.4 2.5h0m8.4-.4h0m2.5-.1h0m7.3 1.1h0m-23.1 2.5h0m.6 .3h0m7.9-1.7h0m2.2 2.1h0m1-1.9h0m2.2 1.2h0m4.8 .6h0m6.5 .2h0m-22.5 2.6h0m.8-.7h0m6.4 .2h0m5.9-1.3h0m3 .1h0m4.2 1.4h0m-21.1 4.3h0m3.6-1.8h0m.9 1.5h0m.4-.2h0m1.6-.4h0m1.3 .4h0m2.7-2.2h0m3.6 .4h0m-18.8 2.8h0m.5 .8h0m7.5-.5h0m.3 2.1h0m3.6-.3h0m3.4-1.9h0m4.1 .3h0m-12 2.5h0m10.7 .1h0m-24.5 3.5h0m25.1 1.7h0m2.4-.1h0m-28.6 .8h0m.7 1.1h0m14.1-.1h0m2-.3h0m-12.1 2h0m5.4 1.7h0m2.7-.4h0m.4 .7h0m11.1 .3h0m-21.6 .8h0m1.2 .1h0m11.2 1.3h0m8.1 1.2h0m-26.2 2.5h0m.1 .2h0m4.1-.3h0m2-.3h0m9.5 .8h0m-6.7 .4h0m.7 2.2h0m1.4-2.2h0m2 0h0m-15.3 4.7h0m9.6-.3h0m5.1 1.2h0m10-.1h0m-23.7 2.9h0m1 .1h0m3.6-2.3h0m10.3 .5h0m7.8 .4h0m4.1 1h0m-24.4 3.7h0m2.6-.8h0m3.1-1.9h0m2.7 .7h0m10.6 .4h0m2.1 1.5h0m-25.9 2.2h0m.3 .4h0m11-1.6h0m2.2-.3h0m5.7 1.1h0m0-1.1h0m5 2h0m1.8-.8h0m.5 .3h0m-16.8 3.9h0m3.9-2.3h0m3.2 2.2h0m-13.1 2.6h0m11.8 .2h0m-14.4 .7h0m.2 .9h0m.8 1h0m.2-1h0m3.9-1.2h0m3.9 .3h0m12.1 2.5h0m-19.2 .4h0m1.3 .8h0m2-.4h0m.2 1.8h0m2.7-2.2h0m1.9 .1h0m7 .9h0m.6 0h0m.8-.9h0m-10.1 4h0m2 .6h0m.3 .6h0m11.1-2.2h0m1.5 0h0m-19.1 5.3h0m4.7-.6h0m2.5-.6h0m4.9-.7h0m1.4 0h0m-10.3 3h0" stroke="#d4eef3" stroke-width="0.75" stroke-linecap="round" fill="none"/>
<path d="M375.2 341.9h0m-3.3 3.1h0m.1 2.4h0m2.1-1.7h0m-13.2 5h0m7.6-.4h0m2.3 .3h0m0-1.9h0m1-.6h0m.4 .6h0m.5 .8h0m.4 .1h0m-13.5 3.6h0m1.6-1h0m.2 .6h0m0 .7h0m9.3-1.1h0m.2 .5h0m-13.3 3.7h0m.7-.9h0m.6 1.1h0m.4-1.3h0m1-.4h0m.1-.9h0m.3 2.4h0m.6-2.5h0m.7 1.8h0m5.1 .7h0m.3-1.3h0m.7-.9h0m.4 1.6h0m.2 0h0m2.8-1h0m-12.4 3.5h0m1.2-.8h0m.5 .1h0m6.1 1.5h0m.4 .1h0m.3-1.6h0m.8 1.2h0m.3-1.9h0m-9.7 5.3h0m.2-2.1h0m.5 .4h0m0 .8h0m.5-1.3h0m0 1h0m4.4-.5h0m.9 1.7h0m.3-.7h0m.2 1.2h0m.2-2.7h0m.1 1.1h0m1-.2h0m.4-.2h0m.2 2h0m.2-1.4h0m-3.9 2.4h0m.2-.3h0m.6 1.9h0m.3-1.2h0m1-.3h0m.7 .7h0m-13.1 2h0m1.8-.4h0m1.2 .8h0m.2 1.5h0m1.9-1.8h0m.1 1.8h0m2.8-.4h0m1.5-1.8h0m0 1.5h0m-10 3h0m1.5-.6h0m.3 1.2h0m.8-2.4h0m.2 1.6h0m.1 .4h0m2.1-.5h0m2-.5h0m.2 1.5h0m1.8-1.1h0m.5-1.3h0m0 2.1h0m.5-1.2h0m.9-.4h0" stroke="#b4e3ec" stroke-width="0.75" stroke-linecap="round" fill="none"/>
<rect x="392.4" y="344.0" width="2.5" height="27.6" fill="url(#cb392_344)" stroke="#2a2a2a" stroke-width="0.5"/>
<path d="M389.5 355.3H392.4M389.5 371.4H392.4" stroke="#2a2a2a" stroke-width="0.5"/>
<text x="387.3" y="357.6" font-size="6.5" text-anchor="end" fill="#2a2a2a"  stroke="#2a2a2a" stroke-width="0.09">2</text>
<text x="387.3" y="373.9" font-size="6.5" text-anchor="end" fill="#2a2a2a"  stroke="#2a2a2a" stroke-width="0.09">0</text>
<path d="M44.5 470.8h0m-2.4 2.1h0m.3-1.4h0m.5 1.7h0m.1-.5h0m.1 0h0m.6 1h0m.1-1.1h0m.1 .9h0m0 .1h0m.1-.2h0m.2-.1h0m0-1.2h0m.2 1.1h0m.4-.2h0m0-.2h0m.4-.3h0m.1 .9h0m.1-1h0m.1 1.3h0m.1-1.3h0m.1 1.3h0m.2 0h0m.6-.3h0m.1 .4h0m1.1-1.3h0m-5.8 2h0m.4 .5h0m.2 1.3h0m.5-.3h0m.3-1.4h0m.1 .4h0m0-.3h0m.1 1.6h0m0-.4h0m.2-1.4h0m.3 .5h0m0-.3h0m.2 .7h0m0-1.3h0m.1 .4h0m0 .4h0m0 .4h0m.1-1h0m0 1.8h0m.1-.2h0m0 .8h0m0-2.2h0m.1 0h0m0 .1h0m.2 0h0m0 .6h0m.1-1.2h0m0 .9h0m0 .6h0m.2-1.3h0m0 .2h0m.2 1.7h0m.3-.3h0m0-1.1h0m.7 2.2h0m0-1.9h0m.2 1.5h0m.2-1.8h0m.3 1.5h0m.2-1.5h0m.1 1.6h0m.3-1.9h0m.4 1.7h0m.6-1.3h0m-3.8 3h0m1.1-.8h0m.1 1.4h0m.6-1.3h0" stroke="#c7c7c7" stroke-width="0.9" stroke-linecap="round" fill="none"/>
<path d="M102.8 471.2h0m.1 .8h0m.1 .7h0m.3 1.3h0m.6-.3h0m.6-1.5h0m0-1h0m0 2h0m.1-1.7h0m.2 2h0m.1 .4h0m.2-1.2h0m0 1.2h0m0-1.6h0m.1-.9h0m.2 1.2h0m0 1.2h0m.1-.3h0m.2-.6h0m.1-.3h0m0 1.3h0m.3-.5h0m.1-.2h0m.3 .8h0m0-.7h0m.1-1.3h0m.2 1h0m1.4 .5h0m-4.7 .6h0m.3 .2h0m.4-.2h0m.1 2h0m.3-1h0m0 1.7h0m.3 .2h0m.2-2h0m.1-.6h0m0 .8h0m.1-.7h0m.2 .5h0m0 1.2h0m.1-1.7h0m0-.1h0m.2 .5h0m.2-.4h0m.2-.1h0m.1 2.4h0m.1-2.8h0m0 2.8h0m.1-2.5h0m.3 .4h0m.2 .6h0m.1-.5h0m.6-.7h0m0 1.5h0m0-1.5h0m.9 .6h0" stroke="#d4d4d4" stroke-width="0.85" stroke-linecap="round" fill="none"/>
<path d="M94.6 428.5h0m16.7 3.2h0m5.9 2.4h0m-17.6 2.5h0m5.5 0h0m.6 1h0m8.7-.4h0m7.2 .8h0m-19 2.3h0m-3.7 .8h0m.1 2.5h0m14.1-.4h0m2.3-1.8h0m-4.7 3h0m1.5 1h0m2.9 .1h0m-22.8 3.4h0m8.8-1.9h0m22.7 2.1h0m-26.4 6.2h0m9.7-.9h0m-.4 2.2h0m9.6 .4h0m-23.2 3.3h0m8.1 1.4h0m17.6 2.5h0m-9.1 .9h0m3.6 4.9h0m-20.9 1.5h0m15 2.2h0m4.9 0h0m4 .4h0m3.5-.1h0m-24.6 5.8h0m17.2-.1h0m-13.8 2.4h0m-6 3.5h0m7.5-.6h0m10 .4h0m4-2.1h0m1.2 1.5h0m-16.8 1.8h0m1 2.2h0m6.5-1.1h0m-8.7 1.6h0m22.9 .6h0" stroke="#e9e9e9" stroke-width="0.7" stroke-linecap="round" fill="none"/>
<rect x="141.3" y="446.3" width="2.5" height="30.2" fill="url(#cb141_446)" stroke="#2a2a2a" stroke-width="0.5"/>
<path d="M139.2 456.5H141.3M139.2 476.3H141.3" stroke="#2a2a2a" stroke-width="0.5"/>
<text x="137.0" y="458.2" font-size="4.8" text-anchor="end" fill="#2a2a2a" >2</text>
<text x="137.0" y="478.2" font-size="4.8" text-anchor="end" fill="#2a2a2a" >0</text>
<path d="M182.3 428.8h0m3.2-.3h0m-9.4 3.5h0m1.7-1.4h0m.5 1.3h0m0-1.4h0m.2 0h0m.6 .5h0m.2-1.4h0m1.1 1.3h0m.2-.1h0m.1 .5h0m0-2.2h0m.2 1.4h0m.3 1.2h0m.3-.9h0m.1-.8h0m.1 1.7h0m.2-1.7h0m.1 .2h0m.1 1.1h0m0 .5h0m.2-.8h0m.3-.1h0m.1 .6h0m.2-1.9h0m.9-.1h0m.3-.1h0m.3 2.1h0m.1-1.3h0m.7 1.5h0m.6-.5h0m-18.6 2.8h0m.8 .7h0m2.6 .1h0m.3-.5h0m.2-.4h0m0-.2h0m.1-.5h0m.7 .9h0m.6-.1h0m.1 0h0m1.1 .1h0m.6-.5h0m0 1h0m.2-.1h0m.1-.7h0m.1-.8h0m0-.7h0m.2 1.6h0m.2 .3h0m.3-.6h0m0 1.1h0m.1-.3h0m.8-2.2h0m.2 2.6h0m.3-1.5h0m0 .3h0m0-.4h0m.5 .4h0m.2 .5h0m.1-.4h0m.2 .2h0m.1-.2h0m.3 .8h0m.8 .4h0m.2-2.3h0m.6-.5h0m.4 .8h0m.2-.7h0m.5-.1h0m.3 1.3h0m0 .6h0m.2-.5h0m.7 .4h0m.3-1.5h0m1.4 .9h0m.5-.3h0m.2-.7h0m.7 .5h0m-18.8 3.9h0m.3 .1h0m.8 .8h0m.2-.3h0m.8 .5h0m.1-2h0m.3 2.1h0m.1-1.3h0m.6-.2h0m.7 .7h0m.5-.9h0m.1 .4h0m.1 .8h0m.1 0h0m.5-.5h0m0 .7h0m.3-1.8h0m.7 1.9h0m.3-1.4h0m.4-.6h0m.8 1.4h0m.5-1.1h0m.2-.4h0m1.2-.4h0m-11.5 5.7h0m.2-1.1h0m.9 0h0m.8-.5h0m.5 .8h0m.7-1h0m.1-.2h0m1.1 .7h0m.4 .8h0m.2-.2h0m.3-.2h0m.6 0h0m.2-1.4h0m0-.5h0m.3 1h0m1.9 .2h0m.3-.1h0m-11.2 3.4h0m.3 1.2h0m.4 .1h0m.1-.8h0m.3-.5h0m0 1.4h0m.1-.5h0m.5 .4h0m.7-2.5h0m.3 1.2h0m.2 0h0m.1 1.1h0m.1-.2h0m1.1 .3h0m.5-2.6h0m.3-.1h0m.1 2h0m.3-1.4h0m.1 0h0m1-.5h0m.1 1.1h0m-10.2 4.5h0m1-1.3h0m.6 1.3h0m.1-.2h0m.5 .4h0m.2-1.1h0m0-.1h0m.2 .7h0m.3-.5h0m.1-1.9h0m0 2.1h0m.2-.1h0m.2-1.2h0m.6-.3h0m.1 .5h0m.2-.7h0m.3 .5h0m.8 .4h0m.7-.4h0m.5 1.1h0m.2 .2h0m-8.4 3.4h0m.3-1.2h0m.4 .5h0m.3-1.5h0m.6 1h0m.9 .8h0m.1 .2h0m.7-1.4h0m.8-.2h0m.1-.5h0m.1 2.6h0m.2-2.2h0m.3 1.5h0m.9-1.2h0m.1-.4h0m.2 1.4h0m.4-1.1h0m.2 .7h0m.3-.2h0m.5-.2h0m.3-.6h0m-9 5.3h0m.9-1.1h0m0-.8h0m1.1-.2h0m.1 .5h0m.4 .4h0m.6 .3h0m.1-1h0m.1-1h0m.4 1.7h0m.1-.7h0m0 1.4h0m.2-1.3h0m.4 .3h0m.8-1.3h0m2.8 .6h0m-9.9 4h0m1.6 .9h0m1.2-1.1h0m.3 .2h0m.1-.3h0m.2 .3h0m.2-1.7h0m1.1 .5h0m.1 1.7h0m.1-.3h0m0-.5h0m.3-.9h0m.4 .2h0m.4-.3h0m.1 1.5h0m.3-.9h0m.9-.6h0m1 1.6h0m1-.3h0m-10.1 3.6h0m1-.3h0m.6 .5h0m.1-1.3h0m.5 .4h0m1.1 1.1h0m.2-1.1h0m1 1.3h0m0-2.7h0m.4 2.7h0m.3-2h0m.1-.5h0m0-.3h0m.2 .4h0m.1 2.5h0m.2 0h0m2.1-2.3h0m-6.6 2.4h0m.4 1.4h0m0 1.2h0m.7 .1h0m2.1-1h0m0-1.4h0m.3 0h0m.4 2.5h0m.4-1.7h0m.9 1.2h0m-6.6 2.8h0m.1-.6h0m1.1 1.1h0m1.4-2.6h0m.2 2.6h0m.1 .2h0m0-2.5h0m.4 .1h0m.8 1.7h0m1-1.8h0m.6 1.7h0m.2-1.2h0m-7.4 5h0m1.3-.8h0m.7-1.2h0m.9 1.3h0m1.1 .3h0m.4-2.1h0m.2 2.5h0m0-2.8h0m0 1.6h0m.5-.6h0m.2 .2h0m.1 1.1h0m.1 .1h0m.1-.1h0m.1-.3h0m1-.2h0m.1-.7h0m-3.9 4.5h0m0-.1h0m.3-.5h0m.4-1.1h0m.4 0h0m.3 1.3h0m0-.2h0m0 .9h0m.4-.7h0m.5-1.5h0m.1-.3h0m1.6 .9h0m.4-1.3h0m.2 2.9h0m.1-1.7h0m0 1.1h0m-5 3.4h0m.4-1.1h0m.4-.8h0m.1 .3h0m.2 1h0m.1 .4h0m1.2-.1h0m0-2.1h0m.5-.1h0m.1 2.3h0m1.2-.1h0m0 .5h0m4.1-.8h0m-8.8 1.7h0m0-.3h0m.1 1.8h0m.4-.6h0m.3-1.8h0m.2 1.4h0m.5 .3h0m.4 .9h0m.4-2.3h0m.1 1.7h0m.6-1h0m0 .6h0m.1-.6h0m.1 1.2h0m.4-.5h0m1.1-1h0m.7 1.3h0m.1-.7h0m1.2 1h0m0-2.1h0m.2 2.7h0m-5.9 1.4h0m.3-1.2h0m1.3 1.8h0m.4 .6h0m.2-1.2h0m.7 .4h0m.1-.1h0m.6 .7h0m.1-.3h0m.4-1.5h0m.1 2.4h0m.2-.1h0m.1-1.2h0m0 1h0m.3-2.5h0m.1 2h0m.5 .2h0m-4.3 3.3h0m0-1.8h0m.3 .6h0m.2 .4h0m.9-.2h0m1-.4h0m.1 .1h0m.2-.6h0m.1 2.2h0m.3-2.7h0m.4 1.9h0m.1 .8h0m.1-1.9h0m.7 1.9h0m.4-.7h0m.6 .1h0m1.9-1.6h0m-6.6 3.4h0m.8 .7h0m.2-.5h0m.4-.8h0m.4 .8h0m.2-.1h0m1.5 .1h0m.5 .3h0m.1 .4h0m0-.5h0m.2-.4h0m.6 .7h0m0-.2h0m.2-1.2h0m.5 1.8h0m.2 .3h0m.6-1.3h0m0 .6h0m.3 0h0m.1 .3h0m-1.7 3.3h0m.9 .3h0m.4-2.1h0m.2 1h0m.2 .7h0m.8-.6h0m.4-.1h0m0-.4h0m.2-.9h0m.5 2.2h0m.1-1.1h0m0-.7h0m.3 0h0m.2 2h0m.2-.9h0m.4 .9h0m0-1.5h0m.1 1.1h0m.2-.9h0m.9 1.1h0m.3-1.2h0m1.4-.2h0m2.6 1.9h0m1.7-1.1h0m.2-.2h0m.7 1.2h0m.3-.1h0m.6 .1h0m.2 .1h0m.9-.3h0m.7-2.2h0m.5 .4h0m.3 .3h0m0 1.3h0m0-1h0m.1 1h0m.1-.5h0m.1-.3h0m0 1.1h0m.2-.2h0m.2-.1h0m.1-.1h0m.8-.4h0m.1 .9h0m-16.4 .4h0m.1-.1h0m.4 2.5h0m.2-2.3h0m.4 .1h0m1.5 1h0m.1-1.1h0m0 .5h0m.5-.3h0m.6-.1h0m.2 2.4h0m.1-1.9h0m.2 .3h0m.2 .8h0m.3-.3h0m0 .4h0m.1 .6h0m.4-1.4h0m.1-.5h0m.2-.8h0m.1 .9h0m.2 .1h0m.2-.7h0m.1 1.5h0m.4 .6h0m.3 .1h0m0-.2h0m.2-.2h0m.5 .1h0m.9 .1h0m.1-2.2h0m.4 1.9h0m.3-.8h0m0-.9h0m.1 2.2h0m.4-2.4h0m.1 1.9h0m0 .4h0m.3-2.1h0m0-.1h0m.2 2.2h0m.1-1.5h0m.2-.9h0m0 1.9h0m.2-.9h0m.4 .6h0m.3-1.5h0m.5 .6h0m.1 .1h0m.3 .5h0m0-.8h0m.9-.6h0m.1 .6h0m.2-.2h0m.1 .5h0m.1 .8h0m.1-1h0m0-.6h0m.3 .4h0m.3-.4h0m.1 .1h0m.1 .1h0m.2 .4h0m.5 .7h0m-12.1 1.7h0m.2 .5h0m1.7 0h0m.5 .1h0m1.8-.3h0m.4 1.9h0m.1-1.7h0m.1 2.1h0m.1-2.1h0m.8-.5h0m.1 .8h0m1.1-.5h0m.7 .5h0" stroke="#2a7ab8" stroke-width="0.9" stroke-linecap="round" fill="none"/>
<path d="M187.2 433.8h0m-6.2 3.4h0m5.5-.7h0m-.7 2.8h0m-7.3 2.3h0" stroke="#2a7ab8" stroke-width="0.9" stroke-linecap="round" fill="none"/>
<path d="M228.9 422.5h0m16.3 .1h0m-11.3 2.1h0m1.9-1.2h0m3.3 1.7h0m.6 0h0m1.9-.4h0m2.4 1h0m-17.2 3h0m1.2-.4h0m.3 .4h0m.8-.6h0m2.1 .7h0m.6-1.1h0m.6-.1h0m1 1.2h0m.9-1.1h0m.6 1.1h0m.1-.2h0m.3 .1h0m1.2-1.2h0m1.1 1h0m1.1-.3h0m.6-.3h0m1-.5h0m0-.2h0m.2-.1h0m.3 1.5h0m1-1.9h0m.3 .7h0m.6 .7h0m.3 .6h0m.1-2.1h0m.2-.6h0m.6 1.8h0m.5-1.5h0m.8 .6h0m.4-.5h0m.8 2h0m-24.8 1.3h0m.2 .3h0m.4-.7h0m.3 1h0m.4 .2h0m1.6 0h0m.2-1h0m.9 .8h0m.3 .8h0m.2-1.6h0m1.4 .6h0m1 1.5h0m.2-1.6h0m.2 .8h0m.5 .5h0m.4 .3h0m.3-.8h0m.5 .4h0m.3 .5h0m.5-1.4h0m.4-.6h0m.2 2.1h0m0-1.7h0m.3 1.8h0m.2-2.7h0m0-.2h0m.1 .6h0m.9 1.1h0m.3 .7h0m.2-.5h0m.3 .7h0m.9 0h0m.6-2.1h0m.1 0h0m.9 1h0m2.1 1h0m0-2.4h0m1.2 .6h0m.3 .1h0m0 .1h0m.1-.1h0m.8 .3h0m.2-.3h0m.3 1.2h0m.3 0h0m.4 .7h0m1-1.2h0m0 .9h0m.5-1.2h0m1-.8h0m.1 .5h0m.1-.4h0m.4 2.3h0m.5-.8h0m.3 .7h0m-29.6 2.3h0m.4-1.1h0m.9 1.8h0m1.6-1.4h0m.6-.1h0m.4-.9h0m.3 1.7h0m.8-.9h0m.1 1.6h0m.3 .2h0m.1-3h0m.2 2.6h0m.3-1.6h0m0 1.6h0m1.7-2.6h0m.4 1.8h0m.2-.8h0m.6 1.4h0m.1-1h0m1.2-.9h0m.7-.2h0m.3 1.2h0m.4-.7h0m.2 1.5h0m.8-.8h0m0-.4h0m.2-.5h0m.5 .8h0m1.4-.7h0m.3 1.6h0m0 .3h0m.4-2.3h0m.4-.2h0m0 .8h0m.8 .8h0m.2 1.2h0m.4-1.2h0m.4-.1h0m1.1-1.5h0m1.8 1.5h0m.2-.5h0m.4-1.1h0m.6 .3h0m0-.2h0m.6 .7h0m1.1 .4h0m2.5-.2h0m.3-.6h0m.3 1.8h0m.3-2h0m.2 .5h0m2.7 1.9h0m-31.2 2h0m.3-1.4h0m1.4 1.3h0m.2 1.2h0m.2-1.1h0m1.1-.9h0m.7 1.2h0m.1 .6h0m.6 .3h0m.1-1.5h0m.6-.5h0m.7 1.9h0m0-2.5h0m.3 .2h0m.8 .6h0m.5 .6h0m.1 .2h0m.3-.8h0m1.1 .5h0m.3-.5h0m.7 1.3h0m.1-.9h0m.1 1.4h0m.2-2.5h0m.1 2.7h0m1.8-2.2h0m.4 1h0m.2-.8h0m1.7-1h0m.1 2.5h0m1.7-2.4h0m.4 .9h0m1.4-.7h0m0 .6h0m.5 1.3h0m.7 .2h0m2.6-1.5h0m-24.5 4h0m.6-1.7h0m.5 .2h0m2.1 2.5h0m.1-.2h0m0 .1h0m.6-1.4h0m.7 .7h0m.3-.7h0m.2-.4h0m.8-.5h0m.6 2.1h0m0-2.6h0m.1 .8h0m0 1.8h0m.8-.9h0m.4-1.4h0m.2 .6h0m.1 1.9h0m.1-2.5h0m0 .2h0m.5-.4h0m.1 2.2h0m1.4-2.3h0m.1 2.2h0m1-.2h0m.5-1.7h0m1.2 1.2h0m1.2-.4h0m4.5 .4h0m2.5-.3h0m-24 3.5h0m.6 .9h0m.6 0h0m.2-.6h0m2.4 .4h0m.1 .1h0m.2-1.9h0m.1 .4h0m.6 1.6h0m.3-.2h0m.8-.1h0m0-1.1h0m0-1.1h0m0 .6h0m.1 .1h0m.2 1.8h0m.1-1.7h0m0 .6h0m.8 1.1h0m.1-1.6h0m0 .3h0m.3 .2h0m.3 .6h0m.1-1.5h0m0 1.1h0m.1-1.6h0m0 1.9h0m.4-.4h0m2.1 .7h0m.2-.9h0m4.9-.9h0m.3 1.1h0m.5-1.3h0m-17.9 5h0m2 .4h0m.9-1.5h0m0-.2h0m.1-.1h0m.3 .5h0m.4 .1h0m1.1 .6h0m.5-.7h0m.2-1.4h0m.4 .5h0m.5 .6h0m0 1.9h0m.5-1.1h0m.5-.7h0m0 .6h0m.2-1.4h0m.2 2.1h0m.4-.7h0m.1-1h0m.1-.5h0m.5 .1h0m.3 .5h0m.1 1.6h0m.5 .2h0m1-2.7h0m7.7 .7h0m-18.4 4.2h0m.1 .2h0m1.3 .2h0m.2-1.1h0m1.7 1.5h0m.1-2.3h0m.1 .9h0m0 .9h0m1.4-.9h0m.6-1.3h0m.1 .9h0m.3 1.5h0m.5-1.4h0m0 1.9h0m.9-1.9h0m.2 1.4h0m0-1.5h0m.3 1.2h0m2.1-1.3h0m.6 1.6h0m.5 .2h0m.3-1.6h0m1 .8h0m-14.6 3.1h0m3.1-1h0m.3 .8h0m.1-.6h0m.5 1.2h0m0-1.3h0m.8-.9h0m.2 .2h0m.3 1.2h0m.3-.5h0m.1 1.3h0m.1-1h0m.6 .9h0m.1-.8h0m.4 .4h0m.6 1.2h0m.1-1.7h0m.8 .1h0m1.8-.1h0m1.1-.1h0m-12.2 4.7h0m2.9-.1h0m0-.4h0m.5-1.8h0m0 .8h0m.2-1.3h0m.6 .7h0m.1-.1h0m1 1.2h0m.1-1.2h0m.5 0h0m.4-.2h0m.2 1.6h0m1-1.5h0m0 .2h0m.3 1.3h0m.3-1.9h0m.1 .1h0m.3-.3h0m.4 1.3h0m.1 .8h0m.4-.4h0m2.4-.1h0m-14.8 2.1h0m1.9 1.1h0m.9-1h0m1.9 .7h0m.6-1.3h0m.9 .4h0m.6 1.2h0m1.9-.9h0m.1-.9h0m.2 2.3h0m0 .4h0m1.5-1h0m.7 .7h0m.4-.1h0m.1-2.1h0m-10.7 4.6h0m2.1-1.5h0m1.4 1.6h0m.2 .5h0m.5 .2h0m.4-2h0m.3 .3h0m.2 .8h0m.6-.4h0m.9-.5h0m.4 1.4h0m.2-.4h0m.2-.4h0m.4 .7h0m2.1-1.2h0m1.4 1.2h0m0-1.8h0m-9.5 5.5h0m.4-1h0m0-.3h0m0-1h0m.6 2.4h0m.7-2.2h0m1.5 2h0m.1 0h0m.3-.9h0m.9 .5h0m.1-.7h0m1.1 .5h0m.2 .2h0m.1 0h0m.1-.9h0m.2-.3h0m.5 1.1h0m.7-.9h0m-9 3.5h0m.2 .5h0m.6-.7h0m.7 .2h0m0 .5h0m1-.7h0m.3 .2h0m.9-1h0m.5 .6h0m.2 1.3h0m.1-.1h0m.2-.9h0m.3 1.2h0m.2-1.3h0m0-1.6h0m.2 1.5h0m.1 1.3h0m1-.3h0m.8-2h0m.6 2.1h0m.5-1.6h0m.4 1.7h0m.1-.5h0m1-1.6h0m.7 0h0m.3 1.6h0m0-.7h0m-7.5 2.2h0m.2 1.4h0m.7-1.3h0m.5 .4h0m.2 1.2h0m.1-2h0m.1 .6h0m.1 1.4h0m.4-.7h0m.4-.4h0m.6-.4h0m0-.4h0m.4 1.2h0m.8-.5h0m0 1h0m.3 0h0m.5-.4h0m.4-.7h0m.2-.2h0m.5 2h0m.3-.9h0m.9-1.7h0m2.7 1.5h0m-15.6 2.6h0m3.5 1.2h0m.7-.7h0m.7-1.3h0m2.1 1.7h0m0-1.2h0m.7 1.3h0m.3-.3h0m.1-1.8h0m.2 1.1h0m.6 .7h0m.1 .8h0m.8-2.5h0m.1 1.2h0m0-1h0m.3 .7h0m.8 .8h0m0-.7h0m.5 .2h0m.7 1.1h0m-7.8 .8h0m2.3-.2h0m.7 1.2h0m.3-.4h0m.4 1.2h0m.4-2.3h0m.4 2.6h0m.7 .2h0m.1 0h0m.2-2.1h0m.1-.5h0m.3 2.8h0m1.5-.3h0m.2-2.5h0m.1 1.5h0m.2-1.2h0m.3 2h0m.1-.7h0m.1-.2h0m1.6 .1h0m-8.2 2.5h0m.7-.7h0m1.8 1.3h0m.4 1.1h0m1.2-2.6h0m.1 .8h0m.8-.4h0m.1 1.9h0m.2-1.3h0m.1 1.1h0m.8-1.6h0m.3-.4h0m2.2 1.7h0m3.9-.7h0m-8.7 2.1h0m.1 .6h0m.3 .5h0m.1-.8h0m.5-.7h0m.4 1.6h0m.6-.4h0m.1 .1h0m1.3-.6h0m.1-.6h0m.1 .6h0m0-.4h0m.3 .3h0m0 1.6h0m.6-.1h0m0 .8h0m.3-2.2h0m.3-.7h0m.1 .6h0m.1 1.3h0m.5-.9h0m.3 1.7h0m1.6-1.5h0m.4-1.3h0m.1 2.9h0m.4-.8h0m.6 0h0m.5-1.8h0m.1 1.4h0m2 1.2h0m-14.8 2.2h0m.9-.2h0m0-.1h0m.3-1.6h0m4.3 .9h0m.5 .5h0m1.8 1.3h0m.3-.5h0m.9-2h0m.2 1.8h0m.6-.3h0m.2 .3h0m.3-.7h0m.2 .6h0m1.5-.2h0m.3-1.7h0m1.7 2.6h0m0-1.2h0m0 1h0m.8-2.4h0m0 2.3h0m1.6-.2h0m1 .4h0m2 .2h0m.5-.2h0m2.8-.1h0m1.8-2.6h0m2 2.6h0m-21.4 1.6h0m.5-1.2h0m.8 1.3h0m.7-1.1h0m.2-.1h0m.1 2.2h0m.6-1.7h0m.8 .4h0m.9 1.8h0m.5-1.9h0m.3 1.3h0m.4 .5h0m1.5-1.4h0m0-.4h0m.1 1.4h0m.5-.1h0m.9-1.2h0m.2-.7h0m.4 .9h0m0-.7h0m.7 1.4h0m.1 .2h0m.1-.2h0m.3-1h0m.9 .2h0m.7 1.6h0m1.3-.3h0m.2-1.9h0m1 1.9h0m1.5-2.1h0m.5 .3h0m.2 .3h0m.8 .8h0m.5-.2h0m2.2 .5h0m.1-.3h0m.1-1.1h0m.3 .5h0m1.2 1.7h0m.2-2.4h0m1.6 2h0m.2-1.6h0m.6 1.2h0m.8-1h0m0-.2h0m-21.2 2.4h0m0 1.8h0m1-1.5h0m.7 1.8h0m.9-.3h0m.7-1.8h0m.8 .7h0m.9 2h0m1-.1h0m.3-1.5h0m.4-.8h0m.7 .5h0m.1-.5h0m.1 1.7h0m.3-2h0m.1 .3h0m.7 .5h0m.1-.5h0m.6-.2h0m.6 1.5h0m1.1 .5h0m.1-1.4h0m.4 .2h0m.5-1.1h0m.1 .9h0m.7-.5h0m.5 .4h0m.5 1.6h0m0-1.1h0m.8-.8h0m.1 .1h0m.1 .8h0m.4-1.2h0m.3 .2h0m.8 .2h0m.4 1.3h0m.7-1.3h0m.1-.4h0m.3 2.3h0m.8 0h0m.8 .1h0m.6-1.2h0m.1 .5h0m.9 .2h0m.4-.9h0m0-.3h0m.1 1.7h0m-18.2 1.5h0m1.9 .2h0m1.6 .2h0m.4 .9h0m1.7-2.3h0m.4 0h0m1.2 2.6h0m.4-1.1h0m.1-.5h0m.8-.6h0m.5 .5h0m1.1 1.9h0m.1-2.2h0m.2 .7h0m2.4 1.1h0m.1-2.1h0m.1 .4h0m1.2 1.4h0m.2-1.7h0m.2-.2h0m0 .6h0m.2-.7h0m1.1 .5h0m.6 1.5h0m1.2 .2h0m.1-.2h0m-11.6 2.9h0m2.2-1.5h0m1.3 .7h0m.3 1.2h0m1.4-1h0m3-1.4h0m.2 1.1h0m1.2-.9h0m3.1 .5h0m.2 1h0" stroke="#a9cde6" stroke-width="0.75" stroke-linecap="round" fill="none"/>
<path d="M235.3 425.2h0m-7.7 3.5h0m5.5-.2h0m.8-.2h0m4.3-.5h0m.8-.4h0m.4 .8h0m.7-1h0m.7 .3h0m4.1 .3h0m-23.7 3.7h0m6.4-.1h0m2.9-.9h0m.9 .9h0m.2-.1h0m.3 0h0m.5 .5h0m.2-.4h0m0 0h0m.6-.7h0m1 .8h0m.4-.4h0m1-1.1h0m1.2 1.2h0m.6-.7h0m.2-1.1h0m.1 2.4h0m.5-.3h0m1.1-.4h0m.8-1.4h0m.1 1.6h0m3.7-.7h0m2.4 1.1h0m-25.1 2.6h0m3.1-.2h0m.5 .9h0m1.2-.6h0m.6-.7h0m4.9-1.1h0m2.7 1.1h0m.2-1.5h0m4 2.5h0m.3-1.4h0m.9 .5h0m2.1-1.7h0m2.5 1.2h0m.4-.9h0m-28.7 3.9h0m2.9 1.5h0m1.7-1.9h0m.5 1.5h0m.1-2.2h0m.6 2.4h0m0 .1h0m1.1-1h0m.2-.8h0m.4 1h0m2.2-.6h0m2.1 .1h0m1.2 .1h0m.6 .2h0m.2-1.5h0m.6 0h0m-14.7 5.4h0m0 .4h0m1.6-2.5h0m.1 1.2h0m.1-1.6h0m1.4 1.9h0m.2 .6h0m1.2-.9h0m.1-1.4h0m.3 1.7h0m.1 .4h0m1-1.2h0m0 .6h0m1.5-.1h0m1.4-.8h0m.3-.1h0m-12.3 4.8h0m1.6 0h0m.2-.1h0m4-2.4h0m.1 .5h0m.4-.5h0m.8 1.9h0m1.4-.9h0m.9 .1h0m-10.6 4h0m.5-.2h0m.2 .6h0m1.4 .4h0m.1-2.1h0m.7 1.6h0m.5-.5h0m1.8-1.5h0m.6 1.9h0m0-1.4h0m.2 .7h0m0-1.1h0m-8 5.2h0m.7-1.1h0m.8 .8h0m.7 .5h0m1.1-1.5h0m.1-.1h0m.3-.9h0m.7 1.3h0m.2 .4h0m.2-.9h0m.1-.3h0m1-.5h0m.4 2h0m1.2-1.6h0m1.1 1.6h0m-10.1 1.3h0m1.4 1.8h0m.6-.5h0m.5 .6h0m.7-.2h0m.7 .1h0m1.2-2.2h0m1.1 1.5h0m-7.2 1.9h0m.8 1.6h0m.6 .4h0m.5 .2h0m2 0h0m.5-1.6h0m.1-1.2h0m.1 1.1h0m.3-.5h0m.1 1.2h0m.8-1.4h0m.1 2.2h0m1-.2h0m-4.8 2.6h0m1.2-1.9h0m-3.9 5.6h0m.9-.8h0m4.8-.9h0m.2-1.1h0m.2 1.3h0m-4.6 3.3h0m.2 0h0m.5 1h0m.2-.5h0m.4-1.2h0m.6-.6h0m.4 1.9h0m1.1 .2h0m2.1-1.7h0m.4-.6h0m-8.3 3h0m.4 .8h0m1.6-.5h0m.1 1.8h0m1.3 .4h0m.9-.2h0m.6-2.1h0m1.2 2h0m-4.9 2.1h0m.7 .8h0m.4-1.3h0m.7-.5h0m1.1 1.8h0m.1-.3h0m1.5-.8h0m.5 .4h0m.4-1h0m1.2 1.3h0m-3.1 1.6h0m.7 2.3h0m.3-2.3h0m1.1 .7h0m.3-.8h0m.7 1.2h0m3.7 1.3h0m-9.7 2.2h0m.4-1h0m.6-.8h0m.7 1.9h0m1.5-1.3h0m1.4 .4h0m.4 .5h0m.7-1.1h0m2 2.2h0m.2-1.2h0m-6.5 2.8h0m.3-1.4h0m2 0h0m1.3 .3h0m.1 .4h0m1.1 0h0m.1 1.3h0m.4-2h0m0 2.2h0m.6 .6h0m2.5-.7h0m.1-.4h0m.3 1.1h0m1.5-.8h0m1.5 .1h0m-10.2 3.3h0m.4-1h0m1.9-1.3h0m.6 2.1h0m1.3-1.7h0m1.7-.1h0m.3 .8h0m1.2-.1h0m1.8 1.7h0m.2-1.7h0m.1 1.5h0m-5.5 .9h0m1.7 .9h0m.1 0h0m.3 .6h0m.4-1.2h0m.1 1.3h0m1.8-.1h0m.2 0h0m.9 .7h0m.9-2.6h0m1 1.9h0m0 .2h0m5.2 .6h0m-9.4 .3h0m1.8 1.4h0m.2 .6h0m.4 0h0m.1 .2h0m1.7-1.8h0m.3-.2h0m.3 .9h0m.3 .3h0m.7-.3h0m.1 1.5h0m1.9-.7h0m.7-.9h0m6.2 .9h0m-12.7 1h0m2.2 .9h0m1.4 .7h0m1.4 .6h0m.1-1.3h0m1.8 1.1h0m0-.2h0m2.6 .9h0m1.8-.8h0m.7 .1h0m.9 .4h0m.8-2h0m.2 2.1h0m.4-1.4h0m.4 .5h0m.3-1.7h0m.5 2.2h0m.7 .8h0m1.1-.1h0m.1-.7h0m.3-.4h0m.7-1.8h0m2.7 2.3h0m-16.1 2.2h0m1.4-.9h0m.1 .4h0m1.6-.9h0m2.5 .2h0m3.9 1.2h0m.5-1h0m.7-.5h0m.8 1.1h0m1.3-.6h0m.4 .2h0m1.9-.4h0m.2 .3h0m0-.1h0m.3 1.7h0m-6.2 .8h0" stroke="#5b9bd0" stroke-width="0.75" stroke-linecap="round" fill="none"/>
<rect x="258.7" y="447.0" width="2.4" height="27.6" fill="url(#cb258_447)" stroke="#2a2a2a" stroke-width="0.5"/>
<path d="M256.6 456.5H258.7M256.6 474.4H258.7" stroke="#2a2a2a" stroke-width="0.5"/>
<text x="254.4" y="458.2" font-size="4.8" text-anchor="end" fill="#2a2a2a" >2</text>
<text x="254.4" y="476.3" font-size="4.8" text-anchor="end" fill="#2a2a2a" >0</text>
<path d="M304.2 425.9h0m1.5-1.2h0m1 1.2h0m2-.3h0m-16.2 2.9h0m3.7-1.9h0m4 .9h0m.8 .9h0m1.1 .1h0m.8 0h0m1.9-.7h0m2.1-1.7h0m.8 1.7h0m.1 .8h0m.5 .4h0m.2-1h0m.8-.1h0m.1-.2h0m.4 .3h0m1.5-1h0m.2 .9h0m.4 .1h0m.1 .5h0m.5-.8h0m0 0h0m.8 .7h0m.4 .5h0m.8 0h0m.5-1.7h0m.3-.1h0m.8 .9h0m.3-.4h0m-23.2 3h0m1.4 1.3h0m0-1.2h0m.5 1h0m.3-1h0m1 .6h0m.9 .4h0m.4-.4h0m.8 .4h0m1.1 .1h0m.3 0h0m.1-.7h0m.7-1.6h0m.8 .8h0m0-.4h0m.2 .3h0m1.7 0h0m.2 .8h0m.3 .6h0m.2-1.3h0m.3 1.2h0m.8-.7h0m.2-1.6h0m0 .3h0m.6-.3h0m1.5 .6h0m.9-.3h0m1.5-.4h0m1.6 1.5h0m.3-.3h0m.2 1.2h0m.5-.3h0m.4 0h0m0 0h0m.5-1.4h0m.1 1.6h0m1-.5h0m.2-.3h0m.2-1.2h0m.3 1h0m0 .7h0m.4 .7h0m0 0h0m1.6-1.2h0m.3-.6h0m-27.1 3.3h0m.2 1.2h0m.4-2.5h0m.1 1.8h0m.2 .7h0m.5-1.1h0m.7-1.1h0m.4 2.4h0m.4-1.5h0m.5 1.1h0m.2-.3h0m0-1.1h0m.2 1.9h0m.9-.9h0m.3 .6h0m.4-2.2h0m.6-.3h0m.2 .4h0m.2 .7h0m.3-.1h0m.4 .4h0m.4 1.5h0m.1-2.1h0m1.1 .5h0m.3-.9h0m1.4 .2h0m.6-.3h0m8.5 .1h0m4.6 .6h0m1.7-.3h0m.5-.6h0m.1 2.3h0m-30.3 3.1h0m1.8-1.4h0m.3 1.1h0m.2-1.5h0m.1 1.2h0m.6-.5h0m.5-1.2h0m.1 .5h0m.2 .5h0m.1 1.3h0m0-.9h0m0-.2h0m0 1.2h0m0-.9h0m.3 1h0m.4-1.7h0m2.1-.5h0m.2 .9h0m.2 .2h0m.5-.3h0m1.4 0h0m-12.3 1.8h0m1.9 2.7h0m.3-2.7h0m.2 1.7h0m.5 .3h0m.6-.1h0m.1 .6h0m.4-.1h0m.1-1.1h0m.4 1.2h0m.3-.9h0m.1-1.5h0m.1 1.5h0m.1-.5h0m.3-.9h0m.3 .2h0m.1 .9h0m.3 .4h0m.8 0h0m1.4-.3h0m-9.7 3.4h0m.6 .8h0m1.1-1.3h0m.2 .9h0m1 .4h0m.7-.7h0m.4-1.3h0m.8 .5h0m.2 .2h0m.2-.2h0m.1 0h0m.3-1.1h0m0 0h0m.5 .6h0m.2 .8h0m.1-.5h0m.6-.2h0m-7 5.2h0m.1-1.4h0m.2 .4h0m.7 0h0m0-1.3h0m.1-.2h0m0 .4h0m.2-.1h0m.5 1.7h0m.2-1.3h0m0-1.1h0m.3 .2h0m.3 1.2h0m1 .3h0m.9-1.3h0m.8-.3h0m-8.7 4.5h0m.3 .3h0m.1-.2h0m.7-.1h0m.3-.8h0m.4 .8h0m.5 0h0m.4 .7h0m.1-1.6h0m0-.5h0m.1 1.8h0m.2 0h0m0 .2h0m.3-1h0m0 .3h0m0-.8h0m.1-.6h0m.7 .4h0m.2 1.1h0m-5.4 3.7h0m1.6-.7h0m.1 1.2h0m.1-2.6h0m.5 2.1h0m.4-1.8h0m.4 .1h0m-6.1 4.3h0m2.5 .1h0m.1-1.9h0m.3 .7h0m.1 2h0m.2-1.4h0m.2 .5h0m.3 0h0m.1 .9h0m.1-1.6h0m0-1.1h0m.2-.2h0m.3 2.3h0m.3-1.5h0m.3 1.8h0m1-2.2h0m1.7-.2h0m-5.5 5.7h0m0-1.5h0m.7 .1h0m.1-.6h0m.1 .3h0m0 .5h0m.1-.9h0m.2 2.1h0m0-1.2h0m.1-1.3h0m.4 .2h0m2.1-.3h0m.7 .2h0m.1-.5h0m-6.9 4h0m.3 1.1h0m.9 .7h0m.5 .2h0m0-1.2h0m.1 1.2h0m.2-1.4h0m.5 .3h0m.8-.7h0m.2-.7h0m.5 .1h0m-4.4 4h0m.8-1.5h0m.8 1h0m.3 .6h0m.1 .7h0m0 0h0m0 .1h0m.3 .2h0m.1-1.2h0m1.4-.9h0m.7 .2h0m-5.9 3h0m.6 .4h0m.4 1.4h0m.5 .1h0m.4-.9h0m.4-1.2h0m.3 1.9h0m.2 .3h0m0-2.6h0m.2 1.6h0m.1-1.3h0m0 2h0m.7-2.1h0m.1 2.2h0m-2.7 3.1h0m.4-2.3h0m0 1.5h0m.1-.4h0m0 0h0m.8 .3h0m.1 .7h0m0-.7h0m.4 1.1h0m.3-1.2h0m0-.4h0m.3-1.1h0m.3 2.3h0m35.1 .3h0m-38.5 3h0m.5-1.6h0m.4 .8h0m.3 .9h0m.3-2.5h0m.2-.1h0m0 .8h0m.6-.8h0m.3 .3h0m.1 .3h0m1.3 .3h0m24 1.7h0m2.8-2.8h0m-29.5 5.7h0m.4-.4h0m.5-1.3h0m.3 .6h0m.5-1.5h0m.1 2.3h0m.2 .4h0m.2-1.8h0m0 1.2h0m.3-1.5h0m.1 .9h0m.4 1.1h0m1.2 0h0m22.5-1.8h0m1.1 1.6h0m.1-1.8h0m.4 1h0m2.6-.5h0m.5 .8h0m-30.4 2h0m0-1.1h0m.2 .5h0m0 1.4h0m.4 .4h0m.1-.3h0m.3-1h0m.2-.7h0m.8 2.7h0m.6-.1h0m0 0h0m.1-2h0m23.5 .5h0m0-.9h0m.6-.1h0m.6 .6h0m.1 1.2h0m0-2.2h0m.1 1.2h0m.1 .1h0m.2 1.5h0m.1-.4h0m.2-1.5h0m.3 1h0m.1-.2h0m1.1-.4h0m-30.2 1.8h0m1 .7h0m0 .6h0m0 .5h0m.4-.4h0m.7 .3h0m1.1-1.2h0m.6-.6h0m22.8 .4h0m2.3 1.6h0m-20.7 2h0m17.5 5.5h0m-4 3.1h0" stroke="#98df8a" stroke-width="0.85" stroke-linecap="round" fill="none"/>
<path d="M357 422.3h0m.6 .4h0m3-.3h0m.3-.7h0m1.5-1.2h0m3.5 1h0m.7 .2h0m.9-.5h0m2.2 1.4h0m-17.4 2h0m.1 .9h0m3.7-.8h0m1.1 .1h0m.4 1.1h0m1.5-.3h0m1 .1h0m.3-.8h0m0-1h0m.5 1.9h0m.8-1.6h0m.4 1.1h0m.1-1.6h0m.2 0h0m.2 2.1h0m.3-1h0m.5-.8h0m.9 1.4h0m.9-1.7h0m.5 .5h0m1.2 .4h0m0 .4h0m.7 .5h0m.1 .1h0m.2 .3h0m1.1-.8h0m.1-.9h0m1.5-.5h0m.2 2.1h0m1-.8h0m1.9 1h0m.6-1.5h0m-28.8 3.3h0m1.1 .9h0m2.1-2h0m0 2h0m.1 .2h0m0-.4h0m.8-1.6h0m.7 1.6h0m.2 .3h0m.1-2.2h0m1 2h0m.9 0h0m.1-1.2h0m.3-.5h0m0 1.1h0m.1 .7h0m.1-1.1h0m0 .2h0m.3 .9h0m0-.4h0m.3-.1h0m0 .4h0m.8 0h0m.3-1.3h0m.3-.6h0m0 1.9h0m1.1-1.7h0m.5 1.1h0m.1-.5h0m.1-1.3h0m.4 1.9h0m.1-.2h0m0 .5h0m.1-2.4h0m0 2.5h0m.1-.5h0m.1-.4h0m.1-.1h0m.2 1.5h0m.1-2.2h0m.2-.3h0m0 1.3h0m0 1h0m.6-.3h0m.9-2h0m.4 2.3h0m.1-2.6h0m.5 .4h0m.3 1.1h0m0-.7h0m.7 1h0m.1-1.5h0m.4 .2h0m.1 1.7h0m0-1h0m.2 1.1h0m1.2-.1h0m.2-.7h0m.2-.4h0m0-.7h0m.5 1.9h0m.3 .1h0m.2-.8h0m.2 .9h0m.3 .2h0m.2-.5h0m.6-2.4h0m.1 .6h0m.4 1.3h0m0-1.1h0m.2-.2h0m.1 2.3h0m.1-2.9h0m0 .3h0m.3 2h0m.4-.5h0m.2-.5h0m.7 .4h0m.5 .5h0m0 .6h0m.3-2.2h0m.1 .5h0m.3 0h0m.3 1.1h0m.2-.6h0m.5-1.3h0m0 1.3h0m.2 .9h0m0-.5h0m.2 .4h0m.1-1.2h0m2.3-.8h0m-32.4 5.2h0m2.8-.9h0m1.7 1.2h0m.7-.8h0m.2-.3h0m1.7 .8h0m.1 .3h0m0-.3h0m.3-1.3h0m.2 1.3h0m.3-1.4h0m.1 1.4h0m.2-1.7h0m.2-.8h0m.1 .2h0m0 1.9h0m.9-.1h0m.2-2h0m.6 1.8h0m.9 .1h0m.2-1.2h0m.6-.2h0m0-.3h0m.2 2h0m.1 0h0m.5-.7h0m.4 .8h0m2.6 .2h0m.7-1h0m.5 .6h0m.1 .1h0m.1-2.2h0m.4 0h0m.2 1h0m.6-.7h0m.2 1.4h0m.1-1.5h0m.2 1.9h0m.8-1.4h0m1.1-.3h0m.9 .2h0m.6 2.1h0m2-.6h0m.8-1h0m.1-.1h0m.5 .2h0m0 1.6h0m.3-.4h0m.7-.5h0m0-1h0m.5 1.3h0m.2-1.2h0m.3 .3h0m.1-.6h0m.1-.7h0m.1 .3h0m.3 .9h0m0-1.1h0m.3 1.8h0m1-1.8h0m.3 .2h0m.8 2.5h0m.1-1.8h0m.4-.7h0m.2 1.2h0m.4 1h0m.4-1.1h0m-32.9 3.1h0m.7-1.5h0m.4 2.2h0m.5 .6h0m.5-2.8h0m1.9 1.2h0m.1 .4h0m.4 1.3h0m0-.8h0m.5-.6h0m.4 1.2h0m0-1h0m.5-1.2h0m.5-.1h0m.2 1.9h0m.2-2h0m.9 2.5h0m.2-1.5h0m.4 1.5h0m.1-.1h0m.3-.2h0m.2 .3h0m.5-.4h0m1.3-2.4h0m.2 .7h0m.2 .1h0m.9 .7h0m1.3-.3h0m1.3 1.4h0m.2-2.6h0m2.1 .2h0m.3 1.7h0m12.5-.4h0m-33 1.5h0m1.4 2.7h0m.9-.2h0m.5-1.9h0m.2 .4h0m.3 1.2h0m.3 .1h0m.4-1h0m.1 0h0m0-.2h0m.2-.5h0m.3 1.7h0m.1-.8h0m.2 1.2h0m.1-2.6h0m.9 1.5h0m.1-.5h0m.9 .2h0m.1 1.3h0m0-.6h0m.6-1.4h0m.4 .1h0m1.2 .8h0m.7-1.3h0m.2 .1h0m1.7 .7h0m-13.1 2.8h0m.9-.6h0m.2 1.7h0m.1-.9h0m.1 1.6h0m.3-1.4h0m.4 1h0m.1 .4h0m.3-1h0m.5 .2h0m.1-1h0m0 .8h0m.1 .8h0m.4-.1h0m0-.3h0m.2-.3h0m.7 .2h0m.1-1.6h0m.6 2.5h0m.1-1.3h0m1.1-.6h0m.3 1.6h0m.1-2.4h0m.7 .5h0m.2 .5h0m.1 .5h0m.1-.9h0m1.1 1.7h0m.6-2.5h0m4.5 .4h0m3.8 1.4h0m-18.3 2.3h0m.6 .5h0m.6 1.3h0m.6-2.4h0m.1 .2h0m1 1.5h0m.5-.8h0m.1-1h0m.3-.2h0m.2 .5h0m0 0h0m.4 1.6h0m.3-1.4h0m.1 .6h0m.2 .1h0m.4-.7h0m.3-.3h0m.2 .7h0m.3 .8h0m.2-1.7h0m.1 .8h0m.7-.1h0m.7 1h0m0-1.2h0m1.2-.1h0m-12.6 3.2h0m1.5 1.8h0m.6-.5h0m1.7 .2h0m1.2-1.7h0m.3-.8h0m.3 0h0m.1 2.3h0m.9-.7h0m.6 .4h0m0 0h0m.1-1.4h0m.1 1.6h0m.9-.7h0m.2-1.5h0m.3 .2h0m1.5 2h0m-9.9 2.9h0m1.2 .1h0m.3-.1h0m.4 .3h0m1.5-2h0m.3 1h0m.8-1.1h0m0 2.3h0m.6 .2h0m.3-.9h0m.1 .1h0m.3 .6h0m.1 0h0m.1-2.5h0m0 .4h0m.1 2h0m.4 .5h0m.5-1.3h0m0-1.2h0m.1-.4h0m1.4 .8h0m-11.6 4.9h0m.6-.6h0m1.4-1.7h0m.1 1.1h0m.1-.3h0m.2 1.6h0m.1-.7h0m1.1 .5h0m.1-2.5h0m.1 1.9h0m.6 .5h0m.1 .4h0m.1-1.1h0m.1-.3h0m.2-1.2h0m.3 1.6h0m0-.3h0m0-1.4h0m0 .8h0m.9-.5h0m0 .4h0m.1 1.2h0m.1-1.6h0m.5 .9h0m.3 1.4h0m.2-.9h0m.1 .2h0m-6.3 3h0m2.1 .2h0m.7-.2h0m.8-1.7h0m.2 .4h0m0 .2h0m.4-.9h0m.2 1.2h0m1.1 1.1h0m.3-.1h0m.2-1.3h0m.2-.8h0m.7 .5h0m.1-.1h0m.2 1h0m.5 1.1h0m.5 0h0m.4-1.7h0m.7 1.1h0m-10.6 1.8h0m.8 .1h0m.2-.3h0m1.8 2.1h0m.5-.6h0m.5-2.3h0m.1 2.5h0m.3 0h0m0-1.8h0m0-.1h0m.4 .5h0m0-.9h0m.4 1.5h0m.1-1.5h0m.1 2.8h0m0-2.5h0m.6 1.8h0m0 0h0m.1-.1h0m.1-.4h0m.5-.3h0m0 1h0m.8-1h0m.1 .7h0m1-.6h0m.9 1.1h0m-9.4 1.5h0m.7 1.3h0m.1 .3h0m.2-2h0m.1 .5h0m.2-1h0m.5 2.1h0m.3-2.2h0m.1-.2h0m.2 1.8h0m.3-.5h0m.5 .7h0m.2 .4h0m.2 .1h0m.1-2.2h0m.2 2.5h0m.7-.7h0m0-.9h0m.6 1.4h0m.1-2.2h0m0 2.3h0m.5-1.2h0m.7-.8h0m2 1.9h0m-10.5 3.2h0m1.7-2.7h0m1.3 .8h0m.1 .5h0m.6 1.1h0m.2-1.9h0m.1 .9h0m.4-.3h0m.2 1.2h0m0-1.1h0m.1 .8h0m.3-.1h0m.5-1h0m.2 .2h0m0-.8h0m.2 1.5h0m.3-.6h0m.2 .3h0m.6 .3h0m.1-.5h0m.3-.1h0m.1 1.2h0m.1-1.7h0m.1 1.7h0m.3-1.9h0m.8-.6h0m1.2 1.2h0m-8 2.8h0m.4-.6h0m.3 2.3h0m.1-1.6h0m1.1-.5h0m.1-.4h0m.6 2h0m.1-2.1h0m0 1.4h0m.2-.7h0m.2 .4h0m.7-.4h0m1.5 1.2h0m.1-1.6h0m.5 1.5h0m.1-1.2h0m.4 .5h0m1.1 .4h0m-6.5 2.8h0m0 .9h0m1.3 .2h0m.8-1.6h0m.6 2h0m.1-2h0m.5 .6h0m1.5-1.5h0m.2 2.7h0m.1-1.1h0m.2 .2h0m.4 .8h0m.6-2.3h0m0-.2h0m.2 1.7h0m.5 .9h0m.3-1.3h0m.3-.1h0m-8.9 2.6h0m3.2 1.1h0m.2-1.2h0m.6 .1h0m.2 .5h0m.5 1.1h0m.1-1.7h0m.1 1.8h0m.2-1.9h0m.6 2.3h0m.1-.8h0m0-1.3h0m1 1.3h0m.6-.2h0m0 .9h0m-4.5 2.2h0m.8-1h0m.6 0h0m0 1.3h0m.1-2.4h0m0 .4h0m.3 .5h0m0-.6h0m.2 .6h0m0-.2h0m.2 0h0m.5 1.7h0m.3-1.9h0m0 .5h0m.7 .9h0m0 .6h0m.1 .4h0m0-1.5h0m.3-.1h0m.1 .5h0m.2-1.3h0m.8 2.1h0m.4-2.1h0m.9 2h0m.1 .1h0m-6.7 1.9h0m1.1-.4h0m1.5-1h0m.9 .8h0m.4-.3h0m0 1.1h0m.1 .4h0m.1-1.2h0m.2-.1h0m.2 1.2h0m.1 .6h0m.2-.8h0m.3 .9h0m.5-2.1h0m0 1.9h0m1.4-2.4h0m.2 2.3h0m.3-2.4h0m0 2.8h0m.4-1.1h0m.1 0h0m1-.4h0m-9.5 4h0m1.2-1.6h0m.9-.3h0m1.1 .5h0m1.1 0h0m.3 .5h0m.5 .5h0m.1 .4h0m.2-1.8h0m.1-.3h0m.1 2.4h0m.6-2.4h0m.3 1.2h0m0 .6h0m.3-1.5h0m.6 2.1h0m.1-1.9h0m.2 1.4h0m.2-.1h0m.2 1h0m0-.5h0m.1-.4h0m.3-1.5h0m1.2 2h0m1 .1h0m.4-.9h0m1.4-1.1h0m-9.4 2.5h0m2-.2h0m.2 1.2h0m2 1h0m.1 .7h0m.4-2.6h0m.3 .6h0m.3-.4h0m.2 1.4h0m.1-.9h0m.2 .5h0m.3-.8h0m.5 1.5h0m.3-1.7h0m.6 1.9h0m.3 .4h0m.6-1.2h0m.1 .6h0m.2-1.7h0m1.5 2h0m1 .3h0m-9.2 2.3h0m.3-1.9h0m1.1-.2h0m.1 .8h0m.3 .9h0m.5-.5h0m.6 1.5h0m.2-1.6h0m.2-.3h0m.1-.2h0m.2-.3h0m.1 2.1h0m.2 .4h0m.6-2.2h0m.1 .7h0m.1-.4h0m.4 1.5h0m.1-1.9h0m.4 2.1h0m.1-2.5h0m0 .4h0m.2 1.1h0m.1-.9h0m0 2h0m.2 0h0m1.4-.4h0m.1-1h0m.1-1h0m.5 2.1h0m.2-1h0m0 1.5h0m.2-2.8h0m0 .8h0m.3 .2h0m.1 .7h0m.1-.8h0m.2 .6h0m0-.3h0m.2 .1h0m.3 1h0m.8-1.1h0m.8-1.3h0m.2 2.8h0m-11 .5h0m2.1 .2h0m2.6 2.2h0m.2-.7h0m.5-1.8h0m.3 1.7h0m.1 .9h0m0-2.5h0m0 1.3h0m1.7-.5h0m0-.9h0m.8 0h0m0 1.8h0m.1-1.7h0m.6 2.4h0m.3-2.1h0m.6 .8h0m0 .1h0m.9-1h0m0 2.2h0m.3-1.3h0m.2 .1h0m.1 1.1h0m.4-1.9h0m.2-.4h0m.1 .1h0m.3 1.1h0m.6 .8h0m.1-.1h0m.1-2.2h0m0 1h0m.6 1.2h0m.2 .1h0m.8 .3h0m.1-2.2h0m.6-.4h0m3.1 .9h0m.7 1.4h0m.2 .6h0m.3-1.9h0m0 .3h0m.1 .4h0m.6 .5h0m-12.3 1.7h0m.6 .5h0m2.1-.6h0m.3 1.2h0m.5-.2h0m.2-1.4h0m.2 1.9h0m.1-.9h0m.2-1.1h0m.1-.2h0m.2 1.5h0m.3-1.6h0m.2 1.4h0m.4 .6h0m0-1.5h0m.8 1.2h0m.7-.1h0m.5 .8h0m.4 .4h0m.1-1.4h0m.4 .4h0m.6 .7h0m0-2.1h0m.3 1.2h0m.2-.3h0m.1-.5h0m.2 1.3h0m.7-1.3h0m.3 2h0m.4-1.2h0m.6 .7h0m0-1h0m.4 1.1h0m.2-.5h0m.2-.3h0m.4-.1h0m.1-.6h0m-8.4 3h0m.2 .4h0m0 .6h0m1.4-1.3h0m.2 0h0m.9 1.2h0m.5-1.1h0m.5 .5h0m1 .2h0m.6-.5h0m1.2 1h0m.6-1.1h0m.5-.7h0m-11.2 3.2h0m8.4 .5h0" stroke="#98df8a" stroke-width="0.8" stroke-linecap="round" fill="none"/>
<path d="M358 431.7h0m.6-.3h0m1.8-1.1h0m2.5 .9h0m1.8-.4h0m6.5 1.1h0m2.5-.5h0m-20.5 2.1h0m1.7 1.2h0m1.9-.9h0m.8-.7h0m.2 1.5h0m.7-.8h0m.5 1.1h0m1.7-1.7h0m.6 .7h0m1-1.7h0m.1 0h0m1.5 2.5h0m.4-.6h0m.2-1.8h0m1 .5h0m.5 1.1h0m2.3 .5h0m.2-.7h0m1 .7h0m1.7 .1h0m1-2.5h0m.9 1.6h0m-22.5 3.9h0m1.1-1.2h0m2.7 1.4h0m.7-2.6h0m.1 2.9h0m.1-1.8h0m0 .9h0m1.4-.6h0m2.2 .8h0m.3 .2h0m.3-1.1h0m2.5-.1h0m1.1 1.1h0m.8 .5h0m.6-1.2h0m2.5-.6h0m1.8 .5h0m0-.4h0m1.4 .5h0m1.1 .4h0m.6-.3h0m.2-1.7h0m-25.6 4.6h0m.8-1.1h0m2.1 0h0m.2 1.4h0m.1 .6h0m.2-.1h0m.6-2h0m0 1.6h0m.3 .9h0m.5-1.9h0m3.5-.1h0m.8 1.3h0m.2-.7h0m4.1 .2h0m.3-.2h0m1.3-.1h0m1.5-.4h0m-14.6 3h0m1.2-.4h0m.2-.4h0m.2 1.1h0m.9 .9h0m1 .4h0m.6-.4h0m.9 .3h0m.6-.8h0m1-.1h0m-12.2 2h0m1.3 2.2h0m.2-2.4h0m3.6 1.7h0m.2-.9h0m2.4 .6h0m2.5-1.9h0m.9 .1h0m-13 4.1h0m.5 1.1h0m2.1-1.7h0m.9 1.2h0m.8-1h0m.5 1.8h0m1.7-1.9h0m2.1-.7h0m1 1.9h0m-8.1 2.8h0m1.3 .7h0m4-1.8h0m2.2-.4h0m-10.2 3.9h0m.1 .3h0m.2 .9h0m2.9 .5h0m.5-2.2h0m.4-.4h0m.8 .9h0m1-.8h0m.6 .3h0m3.4 2h0m-10.6 1.5h0m1.7 1.6h0m.6-.3h0m.8-1.9h0m2.8 .5h0m5.5-.7h0m.1 1.5h0m10.1-.9h0m.8 1.4h0m0-.2h0m1.2-.1h0m-21.8 2.3h0m.5 0h0m.3-.2h0m.9 .4h0m.1-1.1h0m4-.3h0m.4 .9h0m2.6 .2h0m.2 1.4h0m.7-.6h0m4.9-.2h0m.9 .1h0m.1-1.2h0m.6-.6h0m.9 2.7h0m.8-1.9h0m1.7 .3h0m3.2 .8h0m.2 .3h0m1.3-2h0m1 .9h0m.8 .9h0m.6-.7h0m-29.1 3.3h0m.3 1.1h0m.8-2.7h0m.2 .5h0m.1 .1h0m.2 2.2h0m.2-.7h0m2.8 .5h0m4.9-2.4h0m.6 1.5h0m1.4-1.5h0m.6 1h0m.6 .3h0m2.5 .2h0m.8-.3h0m.3 .6h0m.2-2h0m.1 1.7h0m1.7-1h0m0 1.4h0m.4-.8h0m2.5-.7h0m.1 1.9h0m.5-1.2h0m.2 1.2h0m.2-1.6h0m1.4 .6h0m3.2 1.3h0m2.1-1.5h0m.8 .8h0m1.6-1.7h0m1.5 2.1h0m.9 .1h0m-30.8 2.2h0m.5 .2h0m.5-.9h0m.1 1.2h0m1.7 .6h0m.4-1.8h0m.3-.5h0m.8 1.4h0m.2-1.4h0m1.6 1.5h0m1.4-.7h0m.4 .3h0m0-.8h0m1.1-.5h0m2.5 2h0m.7-.2h0m1.7-.3h0m2-.2h0m.7-.5h0m.2 1.6h0m1.2-.8h0m.6-.5h0m1.7 .9h0m1.2-.1h0m2.2-1.2h0m1.9-.7h0m1 .8h0m.1 0h0m1.5 .6h0m1.3-1.5h0m2 2.1h0m1.2 .4h0m-32 .6h0m1.6 .2h0m.2 2.2h0m.3-2.6h0m4.4 1.6h0m2.6 .6h0m1.1-.3h0m1.2-2.2h0m.3 1.4h0m1.3 0h0m.7 1.4h0m1.8-1.9h0m.2 1.5h0m.4 .2h0m.7-2.3h0m2.1 1.8h0m0 .4h0m.1-1.6h0m4.6 .2h0m1.6 .9h0m1.9 0h0m0-.4h0m1.1 .6h0m.3 .3h0m1 .4h0m1.2-.4h0m-31 2.5h0m1.3-.3h0m.4-.9h0m.1 .7h0m.5-.4h0m3.9 .4h0m.1-1.3h0m.2 1.1h0m.2 .4h0m.3 .9h0m.5-1.6h0m2.3-.3h0m.2 .5h0m1.1 1.3h0m1.7-2.4h0m1.6 2.5h0m2.7 .4h0m.9-.3h0m.4 .1h0m1.1-1.6h0m.5 1.3h0m.9-1.7h0m.6 .5h0m.2 1h0m.2 .4h0m.3-2h0m0 0h0m.3 1.7h0m2.1-.5h0m.1-.8h0m.3-.9h0m.1 .5h0m.2-.6h0m.3 1.6h0m.1 .4h0m3.1-2h0m.7 2.7h0m1.4-1.8h0m1.1 .3h0m1.6 1.5h0m-34.2 1.3h0m2-.3h0m1.1 1.3h0m.7-.5h0m.8 .6h0m.4-.8h0m.4 1.6h0m.9-1.2h0m.1-1h0m.3-.5h0m.5 1.2h0m1.4 1.4h0m2.1-.9h0m1.1 .6h0m2.7-.9h0m.3 .4h0m.2-.3h0m.6-.3h0m1.1 1.5h0m4.6-.5h0m.1-2h0m1.1 2.2h0m.1-1.6h0m.4 1.3h0m.3-1.7h0m1.7 .2h0m.1-.5h0m.2 1.2h0m.5-1.4h0m.7 1.9h0m.6-1.4h0m1.9 .2h0m2.9 .3h0m2.2-.4h0m-28 4.3h0m.7 .6h0m.3-2h0m.7 .1h0m1.8 .2h0m.4-.1h0m1.5 1h0m.5 1h0m4.6-.8h0m2.5-1h0m4 1.8h0m0-2.6h0m.1 1.4h0m.4 1.2h0m.6-1.7h0m2.7 1.3h0m3.7 .2h0m1.6-.5h0m.3-2.1h0m.1 .8h0m0 1.4h0m.3-2.2h0m-26.6 4.7h0m2.3 .5h0m.5 .1h0m.2 0h0m.4-1.5h0m.3 .8h0m.1-.7h0m.1 1.9h0m.3-.2h0m.5 .2h0m.1-1.8h0m.4 .8h0m.2 .1h0m2.5-.3h0m.1 .6h0m.8-.4h0m1.4-1.4h0m.7-.3h0m.1 .3h0m2.5 2h0m.2-.5h0m2.7 .3h0m1.1 .2h0m.2-1.8h0m.6-.2h0m.3 .1h0m.5 1.6h0m1-1.1h0m2.9 1.8h0m1.8-1.8h0m-24 4.6h0m.6-2.1h0m0 1.3h0m2.8-1.5h0m.7 2.1h0m.1-.9h0m.4 1.4h0m1.7-2.3h0m1.4-.6h0m.6 .4h0m2.3 1.4h0m.1 .8h0m.4-1.3h0m.2 1.6h0m.1-.6h0m.8-.6h0m1.5-.4h0m.9 .1h0m1.2 1h0m.9-2.1h0m.6 2.2h0m.7 .3h0m1.2-1h0m.5 .6h0m-19.1 1.1h0m.5-.1h0m.7 .7h0m.1-.2h0m.5 .7h0m1.5-1.2h0m.4 .2h0m1.1-.2h0m.4 2.3h0m.4-1.9h0m.1-.6h0m.3 0h0m2.8 .4h0m.7 1.7h0m1.3-.7h0m0-1.5h0m.1 .6h0m1.8 1.7h0m0 .2h0m2.1-.7h0m1.2 .1h0m.7 .2h0m.1-1.8h0m.3 1.1h0m.7-.8h0m.3 .9h0m.2-.4h0m1-.1h0m-16.2 2.5h0m3.2 .1h0m.2-.4h0m3.5 1.1h0m1.5-.8h0m1.4 1h0m1.4-1.2h0m.6 0h0" stroke="#b9eaae" stroke-width="0.75" stroke-linecap="round" fill="none"/>
<rect x="385.2" y="446.2" width="2.4" height="28.0" fill="url(#cb385_446)" stroke="#2a2a2a" stroke-width="0.5"/>
<path d="M383.1 458.3H385.2M383.1 474.0H385.2" stroke="#2a2a2a" stroke-width="0.5"/>
<text x="380.9" y="460.0" font-size="4.8" text-anchor="end" fill="#2a2a2a" >2</text>
<text x="380.9" y="475.9" font-size="4.8" text-anchor="end" fill="#2a2a2a" >0</text>
<rect x="390.3" y="424.2" width="51.4" height="70.8" rx="1.2" fill="#fff" stroke="#dcdcdc" stroke-width="0.5"/>
<rect x="392.6" y="426.4" width="3.1" height="4.6" fill="#1f77b4"/>
<text x="397.8" y="431.1" font-size="6.75" text-anchor="start" fill="#2a2a2a"  stroke="#2a2a2a" stroke-width="0.09">CNS</text>
<rect x="392.6" y="435.1" width="3.1" height="4.6" fill="#ff7f0e"/>
<text x="397.8" y="439.8" font-size="6.75" text-anchor="start" fill="#2a2a2a"  stroke="#2a2a2a" stroke-width="0.09">amnioserosa</text>
<rect x="392.6" y="443.8" width="3.1" height="4.6" fill="#98df8a"/>
<text x="397.8" y="448.5" font-size="6.75" text-anchor="start" fill="#2a2a2a"  stroke="#2a2a2a" stroke-width="0.09">epidermis</text>
<rect x="392.6" y="452.6" width="3.1" height="4.6" fill="#8c564b"/>
<text x="397.8" y="457.3" font-size="6.75" text-anchor="start" fill="#2a2a2a"  stroke="#2a2a2a" stroke-width="0.09">midgut</text>
<rect x="392.6" y="461.3" width="3.1" height="4.6" fill="#e377c2"/>
<text x="397.8" y="466.0" font-size="6.75" text-anchor="start" fill="#2a2a2a"  stroke="#2a2a2a" stroke-width="0.09">muscle</text>
<rect x="392.6" y="470.0" width="3.1" height="4.6" fill="#c7c7c7"/>
<text x="397.8" y="474.7" font-size="6.75" text-anchor="start" fill="#2a2a2a"  stroke="#2a2a2a" stroke-width="0.09">salivary gland</text>
<rect x="392.6" y="478.7" width="3.1" height="4.6" fill="#dbdb8d"/>
<text x="397.8" y="483.4" font-size="6.75" text-anchor="start" fill="#2a2a2a"  stroke="#2a2a2a" stroke-width="0.09">unknown</text>
<rect x="392.6" y="487.4" width="3.1" height="4.6" fill="#9edae5"/>
<text x="397.8" y="492.1" font-size="6.75" text-anchor="start" fill="#2a2a2a"  stroke="#2a2a2a" stroke-width="0.09">yolk</text>
<rect x="470.5" y="28.3" width="208.8" height="61.0" fill="#fff" stroke="#8c8c8c" stroke-width="0.55"/>
<text x="468.7" y="38.0" font-size="4.5" text-anchor="end" fill="#222">500</text>
<text x="468.7" y="47.3" font-size="4.5" text-anchor="end" fill="#222">400</text>
<text x="468.7" y="56.4" font-size="4.5" text-anchor="end" fill="#222">300</text>
<text x="468.7" y="65.7" font-size="4.5" text-anchor="end" fill="#222">200</text>
<text x="468.7" y="74.7" font-size="4.5" text-anchor="end" fill="#222">100</text>
<text x="468.7" y="84.0" font-size="4.5" text-anchor="end" fill="#222">0</text>
<text x="476.5" y="94.7" font-size="4.5" text-anchor="middle" fill="#222">12</text>
<text x="488.8" y="94.7" font-size="4.5" text-anchor="middle" fill="#222">13</text>
<text x="501.0" y="94.7" font-size="4.5" text-anchor="middle" fill="#222">14</text>
<text x="513.3" y="94.7" font-size="4.5" text-anchor="middle" fill="#222">15</text>
<text x="525.5" y="94.7" font-size="4.5" text-anchor="middle" fill="#222">16</text>
<text x="537.8" y="94.7" font-size="4.5" text-anchor="middle" fill="#222">18</text>
<text x="550.1" y="94.7" font-size="4.5" text-anchor="middle" fill="#222">19</text>
<text x="562.3" y="94.7" font-size="4.5" text-anchor="middle" fill="#222">20</text>
<text x="574.6" y="94.7" font-size="4.5" text-anchor="middle" fill="#222">21</text>
<text x="586.9" y="94.7" font-size="4.5" text-anchor="middle" fill="#222">22</text>
<text x="599.1" y="94.7" font-size="4.5" text-anchor="middle" fill="#222">23</text>
<text x="611.4" y="94.7" font-size="4.5" text-anchor="middle" fill="#222">24</text>
<text x="623.6" y="94.7" font-size="4.5" text-anchor="middle" fill="#222">25</text>
<text x="635.9" y="94.7" font-size="4.5" text-anchor="middle" fill="#222">26</text>
<text x="648.2" y="94.7" font-size="4.5" text-anchor="middle" fill="#222">27</text>
<text x="660.4" y="94.7" font-size="4.5" text-anchor="middle" fill="#222">28</text>
<text x="672.7" y="94.7" font-size="4.5" text-anchor="middle" fill="#222">29</text>
<text x="573.2" y="98.4" font-size="4.6" text-anchor="middle" fill="#222">Ids</text>
<text transform="translate(459.3 59.0) rotate(-90)" font-size="4.8" text-anchor="middle" fill="#222">Bin number</text>
<rect x="650.5" y="30.8" width="25.6" height="17.4" rx="0.8" fill="#fff" stroke="#d6d6d6" stroke-width="0.4"/>
<rect x="652.9" y="33.7" width="2.4" height="3.6" fill="#4c72c0"/>
<rect x="652.9" y="41.6" width="2.4" height="3.6" fill="#dd8452"/>
<text x="657.7" y="37.6" font-size="5.9" text-anchor="start" fill="#222">Cell</text>
<text x="657.7" y="45.5" font-size="5.9" text-anchor="start" fill="#222">Nuclei</text>
<g>
<rect x="473.70" y="53.8" width="0.6" height="19.0" fill="url(#wh)"/><path d="M474.00 62.3C474.25 67.0 475.21 69.6 475.21 72.8C475.21 77.2 474.30 78.7 474.00 82.6C473.70 78.7 472.79 77.2 472.79 72.8C472.79 69.6 473.75 67.0 474.00 62.3Z" fill="#4c72c0" stroke="#555" stroke-width="0.12"/>
<rect x="478.70" y="70.7" width="0.6" height="8.8" fill="url(#wh)"/><path d="M479.00 74.9C479.30 77.7 481.70 78.3 481.70 79.5C481.70 80.7 479.50 81.4 479.00 81.9C478.50 81.4 476.30 80.7 476.30 79.5C476.30 78.3 478.70 77.7 479.00 74.9Z" fill="#dd8452" stroke="#555" stroke-width="0.12"/>
<rect x="485.96" y="48.2" width="0.6" height="23.2" fill="url(#wh)"/><path d="M486.26 60.9C486.51 65.6 487.76 68.2 487.76 71.4C487.76 75.5 486.56 76.9 486.26 80.5C485.96 76.9 484.77 75.5 484.77 71.4C484.77 68.2 486.01 65.6 486.26 60.9Z" fill="#4c72c0" stroke="#555" stroke-width="0.12"/>
<rect x="490.96" y="62.9" width="0.6" height="16.2" fill="url(#wh)"/><path d="M491.26 74.5C491.56 77.3 493.76 77.9 493.76 79.1C493.76 80.7 491.76 81.7 491.26 82.3C490.76 81.7 488.76 80.7 488.76 79.1C488.76 77.9 490.96 77.3 491.26 74.5Z" fill="#dd8452" stroke="#555" stroke-width="0.12"/>
<rect x="498.22" y="50.0" width="0.6" height="23.5" fill="url(#wh)"/><path d="M498.52 63.0C498.77 67.7 499.79 70.3 499.79 73.5C499.79 77.3 498.82 78.6 498.52 82.0C498.22 78.6 497.26 77.3 497.26 73.5C497.26 70.3 498.27 67.7 498.52 63.0Z" fill="#4c72c0" stroke="#555" stroke-width="0.12"/>
<rect x="503.22" y="66.5" width="0.6" height="13.0" fill="url(#wh)"/><path d="M503.52 74.9C503.82 77.7 506.02 78.3 506.02 79.5C506.02 80.8 504.02 81.5 503.52 82.0C503.02 81.5 501.02 80.8 501.02 79.5C501.02 78.3 503.22 77.7 503.52 74.9Z" fill="#dd8452" stroke="#555" stroke-width="0.12"/>
<rect x="510.49" y="30.9" width="0.6" height="29.2" fill="url(#wh)"/><path d="M510.79 33.0C511.04 45.2 513.14 52.0 513.14 60.1C513.14 67.5 511.09 69.9 510.79 76.5C510.49 69.9 508.44 67.5 508.44 60.1C508.44 52.0 510.54 45.2 510.79 33.0Z" fill="#4c72c0" stroke="#555" stroke-width="0.12"/>
<rect x="515.49" y="32.7" width="0.6" height="40.9" fill="url(#wh)"/><path d="M515.79 52.0C516.09 65.0 518.69 68.2 518.69 73.6C518.69 80.2 516.29 84.2 515.79 86.8C515.29 84.2 512.89 80.2 512.89 73.6C512.89 68.2 515.49 65.0 515.79 52.0Z" fill="#dd8452" stroke="#555" stroke-width="0.12"/>
<rect x="522.75" y="36.9" width="0.6" height="34.5" fill="url(#wh)"/><path d="M523.05 60.9C523.30 65.6 524.54 68.2 524.54 71.4C524.54 76.2 523.35 77.8 523.05 82.0C522.75 77.8 521.55 76.2 521.55 71.4C521.55 68.2 522.80 65.6 523.05 60.9Z" fill="#4c72c0" stroke="#555" stroke-width="0.12"/>
<rect x="527.75" y="39.1" width="0.6" height="39.3" fill="url(#wh)"/><path d="M528.05 73.8C528.35 76.6 530.65 77.2 530.65 78.4C530.65 80.5 528.55 81.8 528.05 82.6C527.55 81.8 525.45 80.5 525.45 78.4C525.45 77.2 527.75 76.6 528.05 73.8Z" fill="#dd8452" stroke="#555" stroke-width="0.12"/>
<rect x="535.01" y="48.2" width="0.6" height="25.3" fill="url(#wh)"/><path d="M535.31 63.0C535.56 67.7 536.75 70.3 536.75 73.5C536.75 77.3 535.61 78.6 535.31 82.0C535.01 78.6 533.87 77.3 533.87 73.5C533.87 70.3 535.06 67.7 535.31 63.0Z" fill="#4c72c0" stroke="#555" stroke-width="0.12"/>
<rect x="540.01" y="65.0" width="0.6" height="14.1" fill="url(#wh)"/><path d="M540.31 74.5C540.61 77.3 542.71 77.9 542.71 79.1C542.71 80.4 540.81 81.3 540.31 81.8C539.81 81.3 537.91 80.4 537.91 79.1C537.91 77.9 540.01 77.3 540.31 74.5Z" fill="#dd8452" stroke="#555" stroke-width="0.12"/>
<rect x="547.27" y="35.2" width="0.6" height="38.4" fill="url(#wh)"/><path d="M547.57 63.1C547.82 67.8 549.07 70.4 549.07 73.6C549.07 77.2 547.87 78.5 547.57 81.7C547.27 78.5 546.08 77.2 546.08 73.6C546.08 70.4 547.32 67.8 547.57 63.1Z" fill="#4c72c0" stroke="#555" stroke-width="0.12"/>
<rect x="552.27" y="52.1" width="0.6" height="27.0" fill="url(#wh)"/><path d="M552.57 74.5C552.87 77.3 555.17 77.9 555.17 79.1C555.17 80.4 553.07 81.2 552.57 81.7C552.07 81.2 549.97 80.4 549.97 79.1C549.97 77.9 552.27 77.3 552.57 74.5Z" fill="#dd8452" stroke="#555" stroke-width="0.12"/>
<rect x="559.53" y="37.8" width="0.6" height="35.8" fill="url(#wh)"/><path d="M559.83 63.1C560.08 67.8 561.33 70.4 561.33 73.6C561.33 77.2 560.13 78.5 559.83 81.7C559.53 78.5 558.34 77.2 558.34 73.6C558.34 70.4 559.58 67.8 559.83 63.1Z" fill="#4c72c0" stroke="#555" stroke-width="0.12"/>
<rect x="564.53" y="54.8" width="0.6" height="24.3" fill="url(#wh)"/><path d="M564.83 74.5C565.13 77.3 567.43 77.9 567.43 79.1C567.43 80.4 565.33 81.2 564.83 81.7C564.33 81.2 562.23 80.4 562.23 79.1C562.23 77.9 564.53 77.3 564.83 74.5Z" fill="#dd8452" stroke="#555" stroke-width="0.12"/>
<rect x="571.80" y="42.5" width="0.6" height="31.1" fill="url(#wh)"/><path d="M572.10 63.1C572.35 67.8 573.59 70.4 573.59 73.6C573.59 77.2 572.40 78.5 572.10 81.7C571.80 78.5 570.60 77.2 570.60 73.6C570.60 70.4 571.85 67.8 572.10 63.1Z" fill="#4c72c0" stroke="#555" stroke-width="0.12"/>
<rect x="576.80" y="59.3" width="0.6" height="19.8" fill="url(#wh)"/><path d="M577.10 74.5C577.40 77.3 579.70 77.9 579.70 79.1C579.70 80.4 577.60 81.2 577.10 81.7C576.60 81.2 574.50 80.4 574.50 79.1C574.50 77.9 576.80 77.3 577.10 74.5Z" fill="#dd8452" stroke="#555" stroke-width="0.12"/>
<rect x="584.06" y="37.8" width="0.6" height="35.8" fill="url(#wh)"/><path d="M584.36 63.1C584.61 67.8 585.85 70.4 585.85 73.6C585.85 77.2 584.66 78.5 584.36 81.7C584.06 78.5 582.86 77.2 582.86 73.6C582.86 70.4 584.11 67.8 584.36 63.1Z" fill="#4c72c0" stroke="#555" stroke-width="0.12"/>
<rect x="589.06" y="54.8" width="0.6" height="24.3" fill="url(#wh)"/><path d="M589.36 74.5C589.66 77.3 591.96 77.9 591.96 79.1C591.96 80.4 589.86 81.2 589.36 81.7C588.86 81.2 586.76 80.4 586.76 79.1C586.76 77.9 589.06 77.3 589.36 74.5Z" fill="#dd8452" stroke="#555" stroke-width="0.12"/>
<rect x="596.32" y="41.9" width="0.6" height="31.1" fill="url(#wh)"/><path d="M596.62 62.5C596.87 67.2 598.12 69.8 598.12 73.0C598.12 76.9 596.92 78.2 596.62 81.7C596.32 78.2 595.12 76.9 595.12 73.0C595.12 69.8 596.37 67.2 596.62 62.5Z" fill="#4c72c0" stroke="#555" stroke-width="0.12"/>
<rect x="601.32" y="49.0" width="0.6" height="30.1" fill="url(#wh)"/><path d="M601.62 74.5C601.92 77.3 604.22 77.9 604.22 79.1C604.22 80.4 602.12 81.2 601.62 81.7C601.12 81.2 599.02 80.4 599.02 79.1C599.02 77.9 601.32 77.3 601.62 74.5Z" fill="#dd8452" stroke="#555" stroke-width="0.12"/>
<rect x="608.58" y="46.0" width="0.6" height="27.6" fill="url(#wh)"/><path d="M608.88 63.1C609.13 67.8 610.38 70.4 610.38 73.6C610.38 77.2 609.18 78.5 608.88 81.7C608.58 78.5 607.39 77.2 607.39 73.6C607.39 70.4 608.63 67.8 608.88 63.1Z" fill="#4c72c0" stroke="#555" stroke-width="0.12"/>
<rect x="613.58" y="62.3" width="0.6" height="16.8" fill="url(#wh)"/><path d="M613.88 74.5C614.18 77.3 616.48 77.9 616.48 79.1C616.48 80.4 614.38 81.2 613.88 81.7C613.38 81.2 611.28 80.4 611.28 79.1C611.28 77.9 613.58 77.3 613.88 74.5Z" fill="#dd8452" stroke="#555" stroke-width="0.12"/>
<rect x="620.84" y="42.9" width="0.6" height="30.7" fill="url(#wh)"/><path d="M621.14 63.1C621.39 67.8 622.64 70.4 622.64 73.6C622.64 77.2 621.44 78.5 621.14 81.7C620.84 78.5 619.65 77.2 619.65 73.6C619.65 70.4 620.89 67.8 621.14 63.1Z" fill="#4c72c0" stroke="#555" stroke-width="0.12"/>
<rect x="625.84" y="59.7" width="0.6" height="19.4" fill="url(#wh)"/><path d="M626.14 74.5C626.44 77.3 628.74 77.9 628.74 79.1C628.74 80.4 626.64 81.2 626.14 81.7C625.64 81.2 623.54 80.4 623.54 79.1C623.54 77.9 625.84 77.3 626.14 74.5Z" fill="#dd8452" stroke="#555" stroke-width="0.12"/>
<rect x="633.11" y="42.9" width="0.6" height="30.7" fill="url(#wh)"/><path d="M633.41 63.1C633.66 67.8 634.90 70.4 634.90 73.6C634.90 77.2 633.71 78.5 633.41 81.7C633.11 78.5 631.91 77.2 631.91 73.6C631.91 70.4 633.16 67.8 633.41 63.1Z" fill="#4c72c0" stroke="#555" stroke-width="0.12"/>
<rect x="638.11" y="59.3" width="0.6" height="19.8" fill="url(#wh)"/><path d="M638.41 74.5C638.71 77.3 641.01 77.9 641.01 79.1C641.01 80.4 638.91 81.2 638.41 81.7C637.91 81.2 635.81 80.4 635.81 79.1C635.81 77.9 638.11 77.3 638.41 74.5Z" fill="#dd8452" stroke="#555" stroke-width="0.12"/>
<rect x="645.37" y="34.7" width="0.6" height="38.9" fill="url(#wh)"/><path d="M645.67 63.1C645.92 67.8 647.16 70.4 647.16 73.6C647.16 77.2 645.97 78.5 645.67 81.7C645.37 78.5 644.17 77.2 644.17 73.6C644.17 70.4 645.42 67.8 645.67 63.1Z" fill="#4c72c0" stroke="#555" stroke-width="0.12"/>
<rect x="650.37" y="52.1" width="0.6" height="27.0" fill="url(#wh)"/><path d="M650.67 74.5C650.97 77.3 653.27 77.9 653.27 79.1C653.27 80.4 651.17 81.2 650.67 81.7C650.17 81.2 648.07 80.4 648.07 79.1C648.07 77.9 650.37 77.3 650.67 74.5Z" fill="#dd8452" stroke="#555" stroke-width="0.12"/>
<rect x="657.63" y="48.0" width="0.6" height="25.6" fill="url(#wh)"/><path d="M657.93 63.1C658.18 67.8 659.43 70.4 659.43 73.6C659.43 77.2 658.23 78.5 657.93 81.7C657.63 78.5 656.44 77.2 656.44 73.6C656.44 70.4 657.68 67.8 657.93 63.1Z" fill="#4c72c0" stroke="#555" stroke-width="0.12"/>
<rect x="662.63" y="61.9" width="0.6" height="17.4" fill="url(#wh)"/><path d="M662.93 74.7C663.23 77.5 665.53 78.2 665.53 79.3C665.53 80.5 663.43 81.2 662.93 81.7C662.43 81.2 660.33 80.5 660.33 79.3C660.33 78.2 662.63 77.5 662.93 74.7Z" fill="#dd8452" stroke="#555" stroke-width="0.12"/>
<rect x="669.89" y="37.8" width="0.6" height="32.7" fill="url(#wh)"/><path d="M670.19 60.0C670.44 64.7 672.03 67.3 672.03 70.5C672.03 75.0 670.49 76.5 670.19 80.5C669.89 76.5 668.35 75.0 668.35 70.5C668.35 67.3 669.94 64.7 670.19 60.0Z" fill="#4c72c0" stroke="#555" stroke-width="0.12"/>
<rect x="674.89" y="52.1" width="0.6" height="26.7" fill="url(#wh)"/><path d="M675.19 74.2C675.49 77.0 677.99 77.7 677.99 78.8C677.99 80.4 675.69 81.4 675.19 82.0C674.69 81.4 672.39 80.4 672.39 78.8C672.39 77.7 674.89 77.0 675.19 74.2Z" fill="#dd8452" stroke="#555" stroke-width="0.12"/>
</g>
<rect x="470.3" y="110.3" width="208.1" height="60.5" fill="#fff" stroke="#8c8c8c" stroke-width="0.55"/>
<text x="468.5" y="116.0" font-size="4.5" text-anchor="end" fill="#222">500</text>
<text x="468.5" y="126.2" font-size="4.5" text-anchor="end" fill="#222">400</text>
<text x="468.5" y="136.5" font-size="4.5" text-anchor="end" fill="#222">300</text>
<text x="468.5" y="146.7" font-size="4.5" text-anchor="end" fill="#222">200</text>
<text x="468.5" y="156.9" font-size="4.5" text-anchor="end" fill="#222">100</text>
<text x="468.5" y="167.1" font-size="4.5" text-anchor="end" fill="#222">0</text>
<text x="474.5" y="176.2" font-size="4.5" text-anchor="middle" fill="#222">5</text>
<text x="482.8" y="176.2" font-size="4.5" text-anchor="middle" fill="#222">6</text>
<text x="491.1" y="176.2" font-size="4.5" text-anchor="middle" fill="#222">7</text>
<text x="499.4" y="176.2" font-size="4.5" text-anchor="middle" fill="#222">8</text>
<text x="507.7" y="176.2" font-size="4.5" text-anchor="middle" fill="#222">9</text>
<text x="516.0" y="176.2" font-size="4.5" text-anchor="middle" fill="#222">10</text>
<text x="524.3" y="176.2" font-size="4.5" text-anchor="middle" fill="#222">11</text>
<text x="532.6" y="176.2" font-size="4.5" text-anchor="middle" fill="#222">12</text>
<text x="540.9" y="176.2" font-size="4.5" text-anchor="middle" fill="#222">13</text>
<text x="549.2" y="176.2" font-size="4.5" text-anchor="middle" fill="#222">14</text>
<text x="557.5" y="176.2" font-size="4.5" text-anchor="middle" fill="#222">15</text>
<text x="565.7" y="176.2" font-size="4.5" text-anchor="middle" fill="#222">16</text>
<text x="574.0" y="176.2" font-size="4.5" text-anchor="middle" fill="#222">17</text>
<text x="582.3" y="176.2" font-size="4.5" text-anchor="middle" fill="#222">18</text>
<text x="590.6" y="176.2" font-size="4.5" text-anchor="middle" fill="#222">19</text>
<text x="598.9" y="176.2" font-size="4.5" text-anchor="middle" fill="#222">20</text>
<text x="607.2" y="176.2" font-size="4.5" text-anchor="middle" fill="#222">21</text>
<text x="615.5" y="176.2" font-size="4.5" text-anchor="middle" fill="#222">22</text>
<text x="623.8" y="176.2" font-size="4.5" text-anchor="middle" fill="#222">23</text>
<text x="632.1" y="176.2" font-size="4.5" text-anchor="middle" fill="#222">24</text>
<text x="640.4" y="176.2" font-size="4.5" text-anchor="middle" fill="#222">25</text>
<text x="648.7" y="176.2" font-size="4.5" text-anchor="middle" fill="#222">26</text>
<text x="657.0" y="176.2" font-size="4.5" text-anchor="middle" fill="#222">27</text>
<text x="665.3" y="176.2" font-size="4.5" text-anchor="middle" fill="#222">28</text>
<text x="673.6" y="176.2" font-size="4.5" text-anchor="middle" fill="#222">29</text>
<text x="574.4" y="180.5" font-size="4.6" text-anchor="middle" fill="#222">Ids</text>
<text transform="translate(459.1 142.0) rotate(-90)" font-size="4.8" text-anchor="middle" fill="#222">Bin number</text>
<rect x="648.8" y="113.2" width="25.6" height="17.4" rx="0.8" fill="#fff" stroke="#d6d6d6" stroke-width="0.4"/>
<rect x="651.2" y="116.1" width="2.4" height="3.6" fill="#4c72c0"/>
<rect x="651.2" y="124.0" width="2.4" height="3.6" fill="#dd8452"/>
<text x="656.0" y="120.0" font-size="5.9" text-anchor="start" fill="#222">Cell</text>
<text x="656.0" y="127.9" font-size="5.9" text-anchor="start" fill="#222">Nuclei</text>
<g>
<rect x="472.50" y="125.7" width="0.6" height="25.5" fill="url(#wh)"/><path d="M472.80 133.0C473.05 141.2 474.25 145.7 474.25 151.2C474.25 156.7 473.10 158.6 472.80 163.5C472.50 158.6 471.35 156.7 471.35 151.2C471.35 145.7 472.55 141.2 472.80 133.0Z" fill="#4c72c0" stroke="#555" stroke-width="0.12"/>
<rect x="475.95" y="136.9" width="0.6" height="23.5" fill="url(#wh)"/><path d="M476.25 146.0C476.55 154.6 477.95 156.8 477.95 160.4C477.95 164.0 476.75 166.2 476.25 167.6C475.75 166.2 474.55 164.0 474.55 160.4C474.55 156.8 475.95 154.6 476.25 146.0Z" fill="#dd8452" stroke="#555" stroke-width="0.12"/>
<rect x="480.80" y="117.1" width="0.6" height="33.1" fill="url(#wh)"/><path d="M481.10 130.0C481.35 139.1 482.55 144.1 482.55 150.2C482.55 155.7 481.40 157.6 481.10 162.5C480.80 157.6 479.65 155.7 479.65 150.2C479.65 144.1 480.85 139.1 481.10 130.0Z" fill="#4c72c0" stroke="#555" stroke-width="0.12"/>
<rect x="484.25" y="128.7" width="0.6" height="31.7" fill="url(#wh)"/><path d="M484.55 146.0C484.85 154.6 486.25 156.8 486.25 160.4C486.25 163.2 485.05 164.9 484.55 166.0C484.05 164.9 482.85 163.2 482.85 160.4C482.85 156.8 484.25 154.6 484.55 146.0Z" fill="#dd8452" stroke="#555" stroke-width="0.12"/>
<rect x="489.09" y="142.0" width="0.6" height="13.0" fill="url(#wh)"/><path d="M489.39 147.0C489.64 150.6 490.44 152.6 490.44 155.0C490.44 159.1 489.69 160.4 489.39 164.0C489.09 160.4 488.34 159.1 488.34 155.0C488.34 152.6 489.14 150.6 489.39 147.0Z" fill="#4c72c0" stroke="#555" stroke-width="0.12"/>
<rect x="492.54" y="152.2" width="0.6" height="9.6" fill="url(#wh)"/><path d="M492.84 157.2C493.14 160.0 494.59 160.7 494.59 161.8C494.59 163.5 493.34 164.5 492.84 165.2C492.34 164.5 491.09 163.5 491.09 161.8C491.09 160.7 492.54 160.0 492.84 157.2Z" fill="#dd8452" stroke="#555" stroke-width="0.12"/>
<rect x="497.38" y="129.7" width="0.6" height="25.3" fill="url(#wh)"/><path d="M497.69 147.0C497.94 150.6 498.74 152.6 498.74 155.0C498.74 159.1 497.99 160.4 497.69 164.0C497.38 160.4 496.63 159.1 496.63 155.0C496.63 152.6 497.44 150.6 497.69 147.0Z" fill="#4c72c0" stroke="#555" stroke-width="0.12"/>
<rect x="500.83" y="142.0" width="0.6" height="19.8" fill="url(#wh)"/><path d="M501.13 157.2C501.44 160.0 502.88 160.7 502.88 161.8C502.88 163.5 501.63 164.5 501.13 165.2C500.63 164.5 499.38 163.5 499.38 161.8C499.38 160.7 500.83 160.0 501.13 157.2Z" fill="#dd8452" stroke="#555" stroke-width="0.12"/>
<rect x="505.68" y="127.1" width="0.6" height="27.9" fill="url(#wh)"/><path d="M505.98 147.0C506.23 150.6 507.03 152.6 507.03 155.0C507.03 159.1 506.28 160.4 505.98 164.0C505.68 160.4 504.93 159.1 504.93 155.0C504.93 152.6 505.73 150.6 505.98 147.0Z" fill="#4c72c0" stroke="#555" stroke-width="0.12"/>
<rect x="509.13" y="138.9" width="0.6" height="22.9" fill="url(#wh)"/><path d="M509.43 157.2C509.73 160.0 511.18 160.7 511.18 161.8C511.18 163.5 509.93 164.5 509.43 165.2C508.93 164.5 507.68 163.5 507.68 161.8C507.68 160.7 509.13 160.0 509.43 157.2Z" fill="#dd8452" stroke="#555" stroke-width="0.12"/>
<rect x="513.98" y="133.8" width="0.6" height="21.2" fill="url(#wh)"/><path d="M514.27 147.0C514.52 150.6 515.32 152.6 515.32 155.0C515.32 159.1 514.57 160.4 514.27 164.0C513.98 160.4 513.23 159.1 513.23 155.0C513.23 152.6 514.02 150.6 514.27 147.0Z" fill="#4c72c0" stroke="#555" stroke-width="0.12"/>
<rect x="517.43" y="145.7" width="0.6" height="16.1" fill="url(#wh)"/><path d="M517.73 157.2C518.02 160.0 519.48 160.7 519.48 161.8C519.48 163.5 518.23 164.5 517.73 165.2C517.23 164.5 515.98 163.5 515.98 161.8C515.98 160.7 517.43 160.0 517.73 157.2Z" fill="#dd8452" stroke="#555" stroke-width="0.12"/>
<rect x="522.27" y="129.7" width="0.6" height="25.3" fill="url(#wh)"/><path d="M522.57 147.0C522.82 150.6 523.62 152.6 523.62 155.0C523.62 159.1 522.87 160.4 522.57 164.0C522.27 160.4 521.52 159.1 521.52 155.0C521.52 152.6 522.32 150.6 522.57 147.0Z" fill="#4c72c0" stroke="#555" stroke-width="0.12"/>
<rect x="525.72" y="141.6" width="0.6" height="20.2" fill="url(#wh)"/><path d="M526.02 157.2C526.32 160.0 527.77 160.7 527.77 161.8C527.77 163.5 526.52 164.5 526.02 165.2C525.52 164.5 524.27 163.5 524.27 161.8C524.27 160.7 525.72 160.0 526.02 157.2Z" fill="#dd8452" stroke="#555" stroke-width="0.12"/>
<rect x="530.57" y="133.8" width="0.6" height="21.2" fill="url(#wh)"/><path d="M530.87 147.0C531.12 150.6 531.91 152.6 531.91 155.0C531.91 159.1 531.16 160.4 530.87 164.0C530.57 160.4 529.82 159.1 529.82 155.0C529.82 152.6 530.62 150.6 530.87 147.0Z" fill="#4c72c0" stroke="#555" stroke-width="0.12"/>
<rect x="534.02" y="145.1" width="0.6" height="16.7" fill="url(#wh)"/><path d="M534.32 157.2C534.62 160.0 536.07 160.7 536.07 161.8C536.07 163.5 534.82 164.5 534.32 165.2C533.82 164.5 532.57 163.5 532.57 161.8C532.57 160.7 534.02 160.0 534.32 157.2Z" fill="#dd8452" stroke="#555" stroke-width="0.12"/>
<rect x="538.86" y="131.2" width="0.6" height="23.8" fill="url(#wh)"/><path d="M539.16 147.0C539.41 150.6 540.21 152.6 540.21 155.0C540.21 159.1 539.46 160.4 539.16 164.0C538.86 160.4 538.11 159.1 538.11 155.0C538.11 152.6 538.91 150.6 539.16 147.0Z" fill="#4c72c0" stroke="#555" stroke-width="0.12"/>
<rect x="542.31" y="143.0" width="0.6" height="18.8" fill="url(#wh)"/><path d="M542.61 157.2C542.91 160.0 544.36 160.7 544.36 161.8C544.36 163.5 543.11 164.5 542.61 165.2C542.11 164.5 540.86 163.5 540.86 161.8C540.86 160.7 542.31 160.0 542.61 157.2Z" fill="#dd8452" stroke="#555" stroke-width="0.12"/>
<rect x="547.15" y="133.4" width="0.6" height="21.6" fill="url(#wh)"/><path d="M547.45 147.0C547.70 150.6 548.50 152.6 548.50 155.0C548.50 159.1 547.75 160.4 547.45 164.0C547.15 160.4 546.40 159.1 546.40 155.0C546.40 152.6 547.20 150.6 547.45 147.0Z" fill="#4c72c0" stroke="#555" stroke-width="0.12"/>
<rect x="550.61" y="150.6" width="0.6" height="11.2" fill="url(#wh)"/><path d="M550.90 157.2C551.20 160.0 552.65 160.7 552.65 161.8C552.65 163.5 551.40 164.5 550.90 165.2C550.40 164.5 549.15 163.5 549.15 161.8C549.15 160.7 550.61 160.0 550.90 157.2Z" fill="#dd8452" stroke="#555" stroke-width="0.12"/>
<rect x="555.45" y="119.9" width="0.6" height="35.1" fill="url(#wh)"/><path d="M555.75 147.0C556.00 150.6 556.80 152.6 556.80 155.0C556.80 159.1 556.05 160.4 555.75 164.0C555.45 160.4 554.70 159.1 554.70 155.0C554.70 152.6 555.50 150.6 555.75 147.0Z" fill="#4c72c0" stroke="#555" stroke-width="0.12"/>
<rect x="558.90" y="138.5" width="0.6" height="23.3" fill="url(#wh)"/><path d="M559.20 157.2C559.50 160.0 560.95 160.7 560.95 161.8C560.95 163.5 559.70 164.5 559.20 165.2C558.70 164.5 557.45 163.5 557.45 161.8C557.45 160.7 558.90 160.0 559.20 157.2Z" fill="#dd8452" stroke="#555" stroke-width="0.12"/>
<rect x="563.75" y="115.8" width="0.6" height="39.2" fill="url(#wh)"/><path d="M564.04 147.0C564.29 150.6 565.09 152.6 565.09 155.0C565.09 159.1 564.34 160.4 564.04 164.0C563.75 160.4 563.00 159.1 563.00 155.0C563.00 152.6 563.79 150.6 564.04 147.0Z" fill="#4c72c0" stroke="#555" stroke-width="0.12"/>
<rect x="567.20" y="134.9" width="0.6" height="26.9" fill="url(#wh)"/><path d="M567.50 157.2C567.79 160.0 569.25 160.7 569.25 161.8C569.25 163.5 568.00 164.5 567.50 165.2C567.00 164.5 565.75 163.5 565.75 161.8C565.75 160.7 567.20 160.0 567.50 157.2Z" fill="#dd8452" stroke="#555" stroke-width="0.12"/>
<rect x="572.04" y="113.8" width="0.6" height="41.2" fill="url(#wh)"/><path d="M572.34 147.0C572.59 150.6 573.39 152.6 573.39 155.0C573.39 159.1 572.64 160.4 572.34 164.0C572.04 160.4 571.29 159.1 571.29 155.0C571.29 152.6 572.09 150.6 572.34 147.0Z" fill="#4c72c0" stroke="#555" stroke-width="0.12"/>
<rect x="575.49" y="132.8" width="0.6" height="29.0" fill="url(#wh)"/><path d="M575.79 157.2C576.09 160.0 577.54 160.7 577.54 161.8C577.54 163.5 576.29 164.5 575.79 165.2C575.29 164.5 574.04 163.5 574.04 161.8C574.04 160.7 575.49 160.0 575.79 157.2Z" fill="#dd8452" stroke="#555" stroke-width="0.12"/>
<rect x="580.34" y="128.1" width="0.6" height="26.9" fill="url(#wh)"/><path d="M580.63 147.0C580.88 150.6 581.68 152.6 581.68 155.0C581.68 159.1 580.93 160.4 580.63 164.0C580.34 160.4 579.59 159.1 579.59 155.0C579.59 152.6 580.38 150.6 580.63 147.0Z" fill="#4c72c0" stroke="#555" stroke-width="0.12"/>
<rect x="583.79" y="147.1" width="0.6" height="14.7" fill="url(#wh)"/><path d="M584.09 157.2C584.38 160.0 585.84 160.7 585.84 161.8C585.84 163.5 584.59 164.5 584.09 165.2C583.59 164.5 582.34 163.5 582.34 161.8C582.34 160.7 583.79 160.0 584.09 157.2Z" fill="#dd8452" stroke="#555" stroke-width="0.12"/>
<rect x="588.63" y="121.0" width="0.6" height="34.0" fill="url(#wh)"/><path d="M588.93 147.0C589.18 150.6 589.98 152.6 589.98 155.0C589.98 159.1 589.23 160.4 588.93 164.0C588.63 160.4 587.88 159.1 587.88 155.0C587.88 152.6 588.68 150.6 588.93 147.0Z" fill="#4c72c0" stroke="#555" stroke-width="0.12"/>
<rect x="592.08" y="139.6" width="0.6" height="22.2" fill="url(#wh)"/><path d="M592.38 157.2C592.68 160.0 594.13 160.7 594.13 161.8C594.13 163.5 592.88 164.5 592.38 165.2C591.88 164.5 590.63 163.5 590.63 161.8C590.63 160.7 592.08 160.0 592.38 157.2Z" fill="#dd8452" stroke="#555" stroke-width="0.12"/>
<rect x="596.92" y="118.1" width="0.6" height="36.9" fill="url(#wh)"/><path d="M597.22 147.0C597.47 150.6 598.27 152.6 598.27 155.0C598.27 159.1 597.52 160.4 597.22 164.0C596.92 160.4 596.17 159.1 596.17 155.0C596.17 152.6 596.97 150.6 597.22 147.0Z" fill="#4c72c0" stroke="#555" stroke-width="0.12"/>
<rect x="600.38" y="136.9" width="0.6" height="24.9" fill="url(#wh)"/><path d="M600.67 157.2C600.97 160.0 602.42 160.7 602.42 161.8C602.42 163.5 601.17 164.5 600.67 165.2C600.17 164.5 598.92 163.5 598.92 161.8C598.92 160.7 600.38 160.0 600.67 157.2Z" fill="#dd8452" stroke="#555" stroke-width="0.12"/>
<rect x="605.22" y="119.9" width="0.6" height="35.1" fill="url(#wh)"/><path d="M605.52 147.0C605.77 150.6 606.57 152.6 606.57 155.0C606.57 159.1 605.82 160.4 605.52 164.0C605.22 160.4 604.47 159.1 604.47 155.0C604.47 152.6 605.27 150.6 605.52 147.0Z" fill="#4c72c0" stroke="#555" stroke-width="0.12"/>
<rect x="608.67" y="138.9" width="0.6" height="22.9" fill="url(#wh)"/><path d="M608.97 157.2C609.27 160.0 610.72 160.7 610.72 161.8C610.72 163.5 609.47 164.5 608.97 165.2C608.47 164.5 607.22 163.5 607.22 161.8C607.22 160.7 608.67 160.0 608.97 157.2Z" fill="#dd8452" stroke="#555" stroke-width="0.12"/>
<rect x="613.51" y="120.5" width="0.6" height="34.5" fill="url(#wh)"/><path d="M613.81 147.0C614.06 150.6 614.86 152.6 614.86 155.0C614.86 159.1 614.11 160.4 613.81 164.0C613.51 160.4 612.76 159.1 612.76 155.0C612.76 152.6 613.56 150.6 613.81 147.0Z" fill="#4c72c0" stroke="#555" stroke-width="0.12"/>
<rect x="616.97" y="138.9" width="0.6" height="22.9" fill="url(#wh)"/><path d="M617.26 157.2C617.56 160.0 619.01 160.7 619.01 161.8C619.01 163.5 617.76 164.5 617.26 165.2C616.76 164.5 615.51 163.5 615.51 161.8C615.51 160.7 616.97 160.0 617.26 157.2Z" fill="#dd8452" stroke="#555" stroke-width="0.12"/>
<rect x="621.81" y="123.0" width="0.6" height="32.0" fill="url(#wh)"/><path d="M622.11 147.0C622.36 150.6 623.16 152.6 623.16 155.0C623.16 159.1 622.41 160.4 622.11 164.0C621.81 160.4 621.06 159.1 621.06 155.0C621.06 152.6 621.86 150.6 622.11 147.0Z" fill="#4c72c0" stroke="#555" stroke-width="0.12"/>
<rect x="625.26" y="141.6" width="0.6" height="20.2" fill="url(#wh)"/><path d="M625.56 157.2C625.86 160.0 627.31 160.7 627.31 161.8C627.31 163.5 626.06 164.5 625.56 165.2C625.06 164.5 623.81 163.5 623.81 161.8C623.81 160.7 625.26 160.0 625.56 157.2Z" fill="#dd8452" stroke="#555" stroke-width="0.12"/>
<rect x="630.11" y="132.8" width="0.6" height="22.2" fill="url(#wh)"/><path d="M630.40 147.0C630.65 150.6 631.45 152.6 631.45 155.0C631.45 159.1 630.70 160.4 630.40 164.0C630.11 160.4 629.36 159.1 629.36 155.0C629.36 152.6 630.15 150.6 630.40 147.0Z" fill="#4c72c0" stroke="#555" stroke-width="0.12"/>
<rect x="633.56" y="149.2" width="0.6" height="12.6" fill="url(#wh)"/><path d="M633.86 157.2C634.15 160.0 635.61 160.7 635.61 161.8C635.61 163.5 634.36 164.5 633.86 165.2C633.36 164.5 632.11 163.5 632.11 161.8C632.11 160.7 633.56 160.0 633.86 157.2Z" fill="#dd8452" stroke="#555" stroke-width="0.12"/>
<rect x="638.40" y="125.2" width="0.6" height="29.8" fill="url(#wh)"/><path d="M638.70 147.0C638.95 150.6 639.75 152.6 639.75 155.0C639.75 159.1 639.00 160.4 638.70 164.0C638.40 160.4 637.65 159.1 637.65 155.0C637.65 152.6 638.45 150.6 638.70 147.0Z" fill="#4c72c0" stroke="#555" stroke-width="0.12"/>
<rect x="641.85" y="144.0" width="0.6" height="17.8" fill="url(#wh)"/><path d="M642.15 157.2C642.45 160.0 643.90 160.7 643.90 161.8C643.90 163.5 642.65 164.5 642.15 165.2C641.65 164.5 640.40 163.5 640.40 161.8C640.40 160.7 641.85 160.0 642.15 157.2Z" fill="#dd8452" stroke="#555" stroke-width="0.12"/>
<rect x="646.69" y="111.4" width="0.6" height="43.6" fill="url(#wh)"/><path d="M646.99 147.0C647.24 150.6 648.04 152.6 648.04 155.0C648.04 159.1 647.29 160.4 646.99 164.0C646.69 160.4 645.94 159.1 645.94 155.0C645.94 152.6 646.74 150.6 646.99 147.0Z" fill="#4c72c0" stroke="#555" stroke-width="0.12"/>
<rect x="650.14" y="131.8" width="0.6" height="30.0" fill="url(#wh)"/><path d="M650.44 157.2C650.74 160.0 652.19 160.7 652.19 161.8C652.19 163.5 650.94 164.5 650.44 165.2C649.94 164.5 648.69 163.5 648.69 161.8C648.69 160.7 650.14 160.0 650.44 157.2Z" fill="#dd8452" stroke="#555" stroke-width="0.12"/>
<rect x="654.99" y="133.8" width="0.6" height="21.2" fill="url(#wh)"/><path d="M655.29 147.0C655.54 150.6 656.34 152.6 656.34 155.0C656.34 159.1 655.59 160.4 655.29 164.0C654.99 160.4 654.24 159.1 654.24 155.0C654.24 152.6 655.04 150.6 655.29 147.0Z" fill="#4c72c0" stroke="#555" stroke-width="0.12"/>
<rect x="658.44" y="152.2" width="0.6" height="9.6" fill="url(#wh)"/><path d="M658.74 157.2C659.04 160.0 660.49 160.7 660.49 161.8C660.49 163.5 659.24 164.5 658.74 165.2C658.24 164.5 656.99 163.5 656.99 161.8C656.99 160.7 658.44 160.0 658.74 157.2Z" fill="#dd8452" stroke="#555" stroke-width="0.12"/>
<rect x="663.28" y="128.7" width="0.6" height="24.3" fill="url(#wh)"/><path d="M663.58 141.0C663.83 146.4 664.93 149.4 664.93 153.0C664.93 157.7 663.88 159.3 663.58 163.5C663.28 159.3 662.23 157.7 662.23 153.0C662.23 149.4 663.33 146.4 663.58 141.0Z" fill="#4c72c0" stroke="#555" stroke-width="0.12"/>
<rect x="666.74" y="136.9" width="0.6" height="24.1" fill="url(#wh)"/><path d="M667.03 156.4C667.33 159.2 668.83 159.8 668.83 161.0C668.83 163.5 667.53 165.0 667.03 166.0C666.53 165.0 665.24 163.5 665.24 161.0C665.24 159.8 666.74 159.2 667.03 156.4Z" fill="#dd8452" stroke="#555" stroke-width="0.12"/>
<rect x="671.58" y="135.9" width="0.6" height="19.1" fill="url(#wh)"/><path d="M671.88 147.0C672.13 150.6 672.93 152.6 672.93 155.0C672.93 159.1 672.18 160.4 671.88 164.0C671.58 160.4 670.83 159.1 670.83 155.0C670.83 152.6 671.63 150.6 671.88 147.0Z" fill="#4c72c0" stroke="#555" stroke-width="0.12"/>
<rect x="675.03" y="152.2" width="0.6" height="9.6" fill="url(#wh)"/><path d="M675.33 157.2C675.63 160.0 677.08 160.7 677.08 161.8C677.08 163.5 675.83 164.5 675.33 165.2C674.83 164.5 673.58 163.5 673.58 161.8C673.58 160.7 675.03 160.0 675.33 157.2Z" fill="#dd8452" stroke="#555" stroke-width="0.12"/>
</g>
<g clip-path="url(#hcl1)" shape-rendering="crispEdges">
<rect x="509.70" y="210.8" width="9.76" height="13.9" fill="#bbd8ec"/>
<rect x="518.66" y="210.8" width="9.76" height="13.9" fill="#599cd1"/>
<rect x="527.63" y="210.8" width="9.76" height="13.9" fill="#599cd1"/>
<rect x="536.59" y="210.8" width="9.76" height="13.9" fill="#61a3d4"/>
<rect x="545.56" y="210.8" width="9.76" height="13.9" fill="#61a3d4"/>
<rect x="554.52" y="210.8" width="9.76" height="13.9" fill="#dfecf8"/>
<rect x="563.49" y="210.8" width="9.76" height="13.9" fill="#a9cfe6"/>
<rect x="572.45" y="210.8" width="9.76" height="13.9" fill="#a9cfe6"/>
<rect x="581.42" y="210.8" width="9.76" height="13.9" fill="#9cc7e3"/>
<rect x="590.38" y="210.8" width="9.76" height="13.9" fill="#aed2e8"/>
<rect x="599.35" y="210.8" width="9.76" height="13.9" fill="#3f7dc2"/>
<rect x="608.31" y="210.8" width="9.76" height="13.9" fill="#7cb5db"/>
<rect x="617.28" y="210.8" width="9.76" height="13.9" fill="#4d90cc"/>
<rect x="626.24" y="210.8" width="9.76" height="13.9" fill="#93c2e1"/>
<rect x="635.21" y="210.8" width="9.76" height="13.9" fill="#cfe2f2"/>
<rect x="644.17" y="210.8" width="9.76" height="13.9" fill="#f1f7fd"/>
<rect x="653.14" y="210.8" width="9.76" height="13.9" fill="#f7fbff"/>
<rect x="509.70" y="223.9" width="9.76" height="13.7" fill="#66a8d6"/>
<rect x="518.66" y="223.9" width="9.76" height="13.7" fill="#4484c6"/>
<rect x="527.63" y="223.9" width="9.76" height="13.7" fill="#599cd1"/>
<rect x="536.59" y="223.9" width="9.76" height="13.7" fill="#3f7dc2"/>
<rect x="545.56" y="223.9" width="9.76" height="13.7" fill="#4d90cc"/>
<rect x="554.52" y="223.9" width="9.76" height="13.7" fill="#7cb5db"/>
<rect x="563.49" y="223.9" width="9.76" height="13.7" fill="#66a8d6"/>
<rect x="572.45" y="223.9" width="9.76" height="13.7" fill="#66a8d6"/>
<rect x="581.42" y="223.9" width="9.76" height="13.7" fill="#66a8d6"/>
<rect x="590.38" y="223.9" width="9.76" height="13.7" fill="#66a8d6"/>
<rect x="599.35" y="223.9" width="9.76" height="13.7" fill="#61a3d4"/>
<rect x="608.31" y="223.9" width="9.76" height="13.7" fill="#61a3d4"/>
<rect x="617.28" y="223.9" width="9.76" height="13.7" fill="#599cd1"/>
<rect x="626.24" y="223.9" width="9.76" height="13.7" fill="#61a3d4"/>
<rect x="635.21" y="223.9" width="9.76" height="13.7" fill="#5295ce"/>
<rect x="644.17" y="223.9" width="9.76" height="13.7" fill="#61a3d4"/>
<rect x="653.14" y="223.9" width="9.76" height="13.7" fill="#4484c6"/>
<rect x="509.70" y="236.8" width="9.76" height="13.7" fill="#9cc7e3"/>
<rect x="518.66" y="236.8" width="9.76" height="13.7" fill="#356ab4"/>
<rect x="527.63" y="236.8" width="9.76" height="13.7" fill="#3162ad"/>
<rect x="536.59" y="236.8" width="9.76" height="13.7" fill="#21397e"/>
<rect x="545.56" y="236.8" width="9.76" height="13.7" fill="#213b81"/>
<rect x="554.52" y="236.8" width="9.76" height="13.7" fill="#3b78bf"/>
<rect x="563.49" y="236.8" width="9.76" height="13.7" fill="#3f7dc2"/>
<rect x="572.45" y="236.8" width="9.76" height="13.7" fill="#3f7dc2"/>
<rect x="581.42" y="236.8" width="9.76" height="13.7" fill="#3f7dc2"/>
<rect x="590.38" y="236.8" width="9.76" height="13.7" fill="#2d58a4"/>
<rect x="599.35" y="236.8" width="9.76" height="13.7" fill="#2b529e"/>
<rect x="608.31" y="236.8" width="9.76" height="13.7" fill="#284b97"/>
<rect x="617.28" y="236.8" width="9.76" height="13.7" fill="#284b97"/>
<rect x="626.24" y="236.8" width="9.76" height="13.7" fill="#3162ad"/>
<rect x="635.21" y="236.8" width="9.76" height="13.7" fill="#2e5ca9"/>
<rect x="644.17" y="236.8" width="9.76" height="13.7" fill="#274792"/>
<rect x="653.14" y="236.8" width="9.76" height="13.7" fill="#2d58a4"/>
</g>
<text x="507.3" y="219.1" font-size="5.0" text-anchor="end" fill="#222">amnioserosa</text>
<text x="507.3" y="232.1" font-size="5.0" text-anchor="end" fill="#222">CNS</text>
<text x="507.3" y="245.0" font-size="5.0" text-anchor="end" fill="#222">yolk</text>
<text x="514.2" y="255.9" font-size="5.0" text-anchor="middle" fill="#1a1a1a">12</text>
<text x="523.1" y="255.9" font-size="5.0" text-anchor="middle" fill="#1a1a1a">13</text>
<text x="532.1" y="255.9" font-size="5.0" text-anchor="middle" fill="#1a1a1a">14</text>
<text x="541.1" y="255.9" font-size="5.0" text-anchor="middle" fill="#1a1a1a">15</text>
<text x="550.0" y="255.9" font-size="5.0" text-anchor="middle" fill="#1a1a1a">16</text>
<text x="559.0" y="255.9" font-size="5.0" text-anchor="middle" fill="#1a1a1a">18</text>
<text x="568.0" y="255.9" font-size="5.0" text-anchor="middle" fill="#1a1a1a">19</text>
<text x="576.9" y="255.9" font-size="5.0" text-anchor="middle" fill="#1a1a1a">20</text>
<text x="585.9" y="255.9" font-size="5.0" text-anchor="middle" fill="#1a1a1a">21</text>
<text x="594.9" y="255.9" font-size="5.0" text-anchor="middle" fill="#1a1a1a">22</text>
<text x="603.8" y="255.9" font-size="5.0" text-anchor="middle" fill="#1a1a1a">23</text>
<text x="612.8" y="255.9" font-size="5.0" text-anchor="middle" fill="#1a1a1a">24</text>
<text x="621.8" y="255.9" font-size="5.0" text-anchor="middle" fill="#1a1a1a">25</text>
<text x="630.7" y="255.9" font-size="5.0" text-anchor="middle" fill="#1a1a1a">26</text>
<text x="639.7" y="255.9" font-size="5.0" text-anchor="middle" fill="#1a1a1a">27</text>
<text x="648.7" y="255.9" font-size="5.0" text-anchor="middle" fill="#1a1a1a">28</text>
<text x="657.6" y="255.9" font-size="5.0" text-anchor="middle" fill="#1a1a1a">29</text>
<g clip-path="url(#hcl2)" shape-rendering="crispEdges">
<rect x="510.30" y="259.4" width="8.79" height="13.4" fill="#dfecf8"/>
<rect x="518.29" y="259.4" width="8.79" height="13.4" fill="#f3f8fe"/>
<rect x="526.28" y="259.4" width="8.79" height="13.4" fill="#f3f8fe"/>
<rect x="534.27" y="259.4" width="8.79" height="13.4" fill="#e3eef9"/>
<rect x="542.26" y="259.4" width="8.79" height="13.4" fill="#dfecf8"/>
<rect x="550.25" y="259.4" width="8.79" height="13.4" fill="#d5e6f4"/>
<rect x="558.24" y="259.4" width="8.79" height="13.4" fill="#dbe9f6"/>
<rect x="566.23" y="259.4" width="8.79" height="13.4" fill="#e7f1fa"/>
<rect x="574.22" y="259.4" width="8.79" height="13.4" fill="#d9e8f6"/>
<rect x="582.21" y="259.4" width="8.79" height="13.4" fill="#d9e8f6"/>
<rect x="590.19" y="259.4" width="8.79" height="13.4" fill="#356ab4"/>
<rect x="598.18" y="259.4" width="8.79" height="13.4" fill="#2e5ca9"/>
<rect x="606.17" y="259.4" width="8.79" height="13.4" fill="#25448d"/>
<rect x="614.16" y="259.4" width="8.79" height="13.4" fill="#233f86"/>
<rect x="622.15" y="259.4" width="8.79" height="13.4" fill="#284b97"/>
<rect x="630.14" y="259.4" width="8.79" height="13.4" fill="#599cd1"/>
<rect x="638.13" y="259.4" width="8.79" height="13.4" fill="#9cc7e3"/>
<rect x="646.12" y="259.4" width="8.79" height="13.4" fill="#3f7dc2"/>
<rect x="654.11" y="259.4" width="8.79" height="13.4" fill="#213b81"/>
<rect x="510.30" y="272.0" width="8.79" height="13.4" fill="#4484c6"/>
<rect x="518.29" y="272.0" width="8.79" height="13.4" fill="#66a8d6"/>
<rect x="526.28" y="272.0" width="8.79" height="13.4" fill="#61a3d4"/>
<rect x="534.27" y="272.0" width="8.79" height="13.4" fill="#599cd1"/>
<rect x="542.26" y="272.0" width="8.79" height="13.4" fill="#61a3d4"/>
<rect x="550.25" y="272.0" width="8.79" height="13.4" fill="#61a3d4"/>
<rect x="558.24" y="272.0" width="8.79" height="13.4" fill="#599cd1"/>
<rect x="566.23" y="272.0" width="8.79" height="13.4" fill="#6fadd8"/>
<rect x="574.22" y="272.0" width="8.79" height="13.4" fill="#599cd1"/>
<rect x="582.21" y="272.0" width="8.79" height="13.4" fill="#61a3d4"/>
<rect x="590.19" y="272.0" width="8.79" height="13.4" fill="#599cd1"/>
<rect x="598.18" y="272.0" width="8.79" height="13.4" fill="#599cd1"/>
<rect x="606.17" y="272.0" width="8.79" height="13.4" fill="#6fadd8"/>
<rect x="614.16" y="272.0" width="8.79" height="13.4" fill="#61a3d4"/>
<rect x="622.15" y="272.0" width="8.79" height="13.4" fill="#599cd1"/>
<rect x="630.14" y="272.0" width="8.79" height="13.4" fill="#498bc9"/>
<rect x="638.13" y="272.0" width="8.79" height="13.4" fill="#599cd1"/>
<rect x="646.12" y="272.0" width="8.79" height="13.4" fill="#599cd1"/>
<rect x="654.11" y="272.0" width="8.79" height="13.4" fill="#5295ce"/>
<rect x="510.30" y="284.6" width="8.79" height="13.7" fill="#66a8d6"/>
<rect x="518.29" y="284.6" width="8.79" height="13.7" fill="#66a8d6"/>
<rect x="526.28" y="284.6" width="8.79" height="13.7" fill="#66a8d6"/>
<rect x="534.27" y="284.6" width="8.79" height="13.7" fill="#66a8d6"/>
<rect x="542.26" y="284.6" width="8.79" height="13.7" fill="#5295ce"/>
<rect x="550.25" y="284.6" width="8.79" height="13.7" fill="#599cd1"/>
<rect x="558.24" y="284.6" width="8.79" height="13.7" fill="#61a3d4"/>
<rect x="566.23" y="284.6" width="8.79" height="13.7" fill="#498bc9"/>
<rect x="574.22" y="284.6" width="8.79" height="13.7" fill="#7cb5db"/>
<rect x="582.21" y="284.6" width="8.79" height="13.7" fill="#6fadd8"/>
<rect x="590.19" y="284.6" width="8.79" height="13.7" fill="#66a8d6"/>
<rect x="598.18" y="284.6" width="8.79" height="13.7" fill="#8abddf"/>
<rect x="606.17" y="284.6" width="8.79" height="13.7" fill="#66a8d6"/>
<rect x="614.16" y="284.6" width="8.79" height="13.7" fill="#61a3d4"/>
<rect x="622.15" y="284.6" width="8.79" height="13.7" fill="#599cd1"/>
<rect x="630.14" y="284.6" width="8.79" height="13.7" fill="#4d90cc"/>
<rect x="638.13" y="284.6" width="8.79" height="13.7" fill="#599cd1"/>
<rect x="646.12" y="284.6" width="8.79" height="13.7" fill="#599cd1"/>
<rect x="654.11" y="284.6" width="8.79" height="13.7" fill="#498bc9"/>
</g>
<text x="507.9" y="267.4" font-size="5.0" text-anchor="end" fill="#222">salivary gland</text>
<text x="507.9" y="280.1" font-size="5.0" text-anchor="end" fill="#222">CNS</text>
<text x="507.9" y="292.8" font-size="5.0" text-anchor="end" fill="#222">epidermis</text>
<text x="514.3" y="303.4" font-size="5.0" text-anchor="middle" fill="#1a1a1a">07</text>
<text x="522.3" y="303.4" font-size="5.0" text-anchor="middle" fill="#1a1a1a">08</text>
<text x="530.3" y="303.4" font-size="5.0" text-anchor="middle" fill="#1a1a1a">09</text>
<text x="538.3" y="303.4" font-size="5.0" text-anchor="middle" fill="#1a1a1a">10</text>
<text x="546.3" y="303.4" font-size="5.0" text-anchor="middle" fill="#1a1a1a">11</text>
<text x="554.2" y="303.4" font-size="5.0" text-anchor="middle" fill="#1a1a1a">12</text>
<text x="562.2" y="303.4" font-size="5.0" text-anchor="middle" fill="#1a1a1a">13</text>
<text x="570.2" y="303.4" font-size="5.0" text-anchor="middle" fill="#1a1a1a">14</text>
<text x="578.2" y="303.4" font-size="5.0" text-anchor="middle" fill="#1a1a1a">15</text>
<text x="586.2" y="303.4" font-size="5.0" text-anchor="middle" fill="#1a1a1a">16</text>
<text x="594.2" y="303.4" font-size="5.0" text-anchor="middle" fill="#1a1a1a">17</text>
<text x="602.2" y="303.4" font-size="5.0" text-anchor="middle" fill="#1a1a1a">18</text>
<text x="610.2" y="303.4" font-size="5.0" text-anchor="middle" fill="#1a1a1a">19</text>
<text x="618.2" y="303.4" font-size="5.0" text-anchor="middle" fill="#1a1a1a">20</text>
<text x="626.1" y="303.4" font-size="5.0" text-anchor="middle" fill="#1a1a1a">21</text>
<text x="634.1" y="303.4" font-size="5.0" text-anchor="middle" fill="#1a1a1a">22</text>
<text x="642.1" y="303.4" font-size="5.0" text-anchor="middle" fill="#1a1a1a">23</text>
<text x="650.1" y="303.4" font-size="5.0" text-anchor="middle" fill="#1a1a1a">24</text>
<text x="658.1" y="303.4" font-size="5.0" text-anchor="middle" fill="#1a1a1a">25</text>
<rect x="672.0" y="210.8" width="1.9" height="38.9" fill="url(#dcb)"/>
<path d="M673.9 224.7h1.2M673.9 249.5h1.2" stroke="#333" stroke-width="0.4"/>
<text x="675.6" y="226.6" font-size="5.4" text-anchor="start" fill="#222">0.5</text>
<text x="675.6" y="251.0" font-size="5.4" text-anchor="start" fill="#222">0.0</text>
<rect x="672.0" y="259.4" width="1.9" height="38.1" fill="url(#dcb)"/>
<path d="M673.9 273.8h1.2M673.9 297.3h1.2" stroke="#333" stroke-width="0.4"/>
<text x="675.6" y="275.7" font-size="5.4" text-anchor="start" fill="#222">0.5</text>
<text x="675.6" y="298.9" font-size="5.4" text-anchor="start" fill="#222">0.0</text>
<path d="M514.4 330.0V394.3M523.3 330.0V394.3M532.3 330.0V394.3M541.2 330.0V394.3M550.2 330.0V394.3M559.1 330.0V394.3M568.1 330.0V394.3M577.0 330.0V394.3M586.0 330.0V394.3M594.9 330.0V394.3M603.8 330.0V394.3M612.8 330.0V394.3M621.7 330.0V394.3M630.7 330.0V394.3M639.6 330.0V394.3M648.6 330.0V394.3M657.5 330.0V394.3M506.9 338.0H664.0M506.9 364.4H664.0M506.9 391.3H664.0" stroke="#e7e7ea" stroke-width="0.45" fill="none"/>
<path d="M506.9 394.3H664.0" stroke="#9fb4c0" stroke-width="0.7"/>
<text x="502.9" y="339.9" font-size="5.2" text-anchor="end" fill="#333">4000</text>
<text x="502.9" y="366.2" font-size="5.2" text-anchor="end" fill="#333">2000</text>
<text x="502.9" y="393.2" font-size="5.2" text-anchor="end" fill="#333">0</text>
<text x="514.4" y="402.0" font-size="5.0" text-anchor="middle" fill="#222">12</text>
<text x="523.3" y="402.0" font-size="5.0" text-anchor="middle" fill="#222">13</text>
<text x="532.3" y="402.0" font-size="5.0" text-anchor="middle" fill="#222">14</text>
<text x="541.2" y="402.0" font-size="5.0" text-anchor="middle" fill="#222">15</text>
<text x="550.2" y="402.0" font-size="5.0" text-anchor="middle" fill="#222">16</text>
<text x="559.1" y="402.0" font-size="5.0" text-anchor="middle" fill="#222">18</text>
<text x="568.1" y="402.0" font-size="5.0" text-anchor="middle" fill="#222">19</text>
<text x="577.0" y="402.0" font-size="5.0" text-anchor="middle" fill="#222">20</text>
<text x="586.0" y="402.0" font-size="5.0" text-anchor="middle" fill="#222">21</text>
<text x="594.9" y="402.0" font-size="5.0" text-anchor="middle" fill="#222">22</text>
<text x="603.8" y="402.0" font-size="5.0" text-anchor="middle" fill="#222">23</text>
<text x="612.8" y="402.0" font-size="5.0" text-anchor="middle" fill="#222">24</text>
<text x="621.7" y="402.0" font-size="5.0" text-anchor="middle" fill="#222">25</text>
<text x="630.7" y="402.0" font-size="5.0" text-anchor="middle" fill="#222">26</text>
<text x="639.6" y="402.0" font-size="5.0" text-anchor="middle" fill="#222">27</text>
<text x="648.6" y="402.0" font-size="5.0" text-anchor="middle" fill="#222">28</text>
<text x="657.5" y="402.0" font-size="5.0" text-anchor="middle" fill="#222">29</text>
<path d="M514.4 383.2L523.3 384.4L532.3 381.4L541.2 386.8L550.2 391.3L559.1 371.9L568.1 347.3L577 350.9L586 367.4L594.9 344L603.8 359.3L612.8 366.8L621.7 365.9L630.7 359.3L639.6 365.3L648.6 356.9L657.5 391.3" stroke="#4f77c8" stroke-width="0.72" fill="none" stroke-linejoin="round"/>
<circle cx="514.4" cy="383.2" r="1.0" fill="#fff" stroke="#4f77c8" stroke-width="0.5"/><circle cx="523.3" cy="384.4" r="1.0" fill="#fff" stroke="#4f77c8" stroke-width="0.5"/><circle cx="532.3" cy="381.4" r="1.0" fill="#fff" stroke="#4f77c8" stroke-width="0.5"/><circle cx="541.2" cy="386.8" r="1.0" fill="#fff" stroke="#4f77c8" stroke-width="0.5"/><circle cx="550.2" cy="391.3" r="1.0" fill="#fff" stroke="#4f77c8" stroke-width="0.5"/><circle cx="559.1" cy="371.9" r="1.0" fill="#fff" stroke="#4f77c8" stroke-width="0.5"/><circle cx="568.1" cy="347.3" r="1.0" fill="#fff" stroke="#4f77c8" stroke-width="0.5"/><circle cx="577.0" cy="350.9" r="1.0" fill="#fff" stroke="#4f77c8" stroke-width="0.5"/><circle cx="586.0" cy="367.4" r="1.0" fill="#fff" stroke="#4f77c8" stroke-width="0.5"/><circle cx="594.9" cy="344.0" r="1.0" fill="#fff" stroke="#4f77c8" stroke-width="0.5"/><circle cx="603.8" cy="359.3" r="1.0" fill="#fff" stroke="#4f77c8" stroke-width="0.5"/><circle cx="612.8" cy="366.8" r="1.0" fill="#fff" stroke="#4f77c8" stroke-width="0.5"/><circle cx="621.7" cy="365.9" r="1.0" fill="#fff" stroke="#4f77c8" stroke-width="0.5"/><circle cx="630.7" cy="359.3" r="1.0" fill="#fff" stroke="#4f77c8" stroke-width="0.5"/><circle cx="639.6" cy="365.3" r="1.0" fill="#fff" stroke="#4f77c8" stroke-width="0.5"/><circle cx="648.6" cy="356.9" r="1.0" fill="#fff" stroke="#4f77c8" stroke-width="0.5"/><circle cx="657.5" cy="391.3" r="1.0" fill="#fff" stroke="#4f77c8" stroke-width="0.5"/>
<path d="M514.4 379.3L523.3 384.4L532.3 368.3L541.2 388.3L550.2 391.3L559.1 354.8L568.1 341.3L577 357.8L586 348.5L594.9 331.5L603.8 359.3L612.8 333.9L621.7 335.4L630.7 333.9L639.6 351.5L648.6 341L657.5 378.4" stroke="#e37b4b" stroke-width="0.72" fill="none" stroke-linejoin="round"/>
<circle cx="514.4" cy="379.3" r="1.0" fill="#fff" stroke="#e37b4b" stroke-width="0.5"/><circle cx="523.3" cy="384.4" r="1.0" fill="#fff" stroke="#e37b4b" stroke-width="0.5"/><circle cx="532.3" cy="368.3" r="1.0" fill="#fff" stroke="#e37b4b" stroke-width="0.5"/><circle cx="541.2" cy="388.3" r="1.0" fill="#fff" stroke="#e37b4b" stroke-width="0.5"/><circle cx="550.2" cy="391.3" r="1.0" fill="#fff" stroke="#e37b4b" stroke-width="0.5"/><circle cx="559.1" cy="354.8" r="1.0" fill="#fff" stroke="#e37b4b" stroke-width="0.5"/><circle cx="568.1" cy="341.3" r="1.0" fill="#fff" stroke="#e37b4b" stroke-width="0.5"/><circle cx="577.0" cy="357.8" r="1.0" fill="#fff" stroke="#e37b4b" stroke-width="0.5"/><circle cx="586.0" cy="348.5" r="1.0" fill="#fff" stroke="#e37b4b" stroke-width="0.5"/><circle cx="594.9" cy="331.5" r="1.0" fill="#fff" stroke="#e37b4b" stroke-width="0.5"/><circle cx="603.8" cy="359.3" r="1.0" fill="#fff" stroke="#e37b4b" stroke-width="0.5"/><circle cx="612.8" cy="333.9" r="1.0" fill="#fff" stroke="#e37b4b" stroke-width="0.5"/><circle cx="621.7" cy="335.4" r="1.0" fill="#fff" stroke="#e37b4b" stroke-width="0.5"/><circle cx="630.7" cy="333.9" r="1.0" fill="#fff" stroke="#e37b4b" stroke-width="0.5"/><circle cx="639.6" cy="351.5" r="1.0" fill="#fff" stroke="#e37b4b" stroke-width="0.5"/><circle cx="648.6" cy="341.0" r="1.0" fill="#fff" stroke="#e37b4b" stroke-width="0.5"/><circle cx="657.5" cy="378.4" r="1.0" fill="#fff" stroke="#e37b4b" stroke-width="0.5"/>
<rect x="637.7" y="323.2" width="44" height="12.8" rx="0.6" fill="#fff" stroke="#e2e2e2" stroke-width="0.45"/>
<circle cx="640.3" cy="326.6" r="0.7" fill="#4f77c8" fill-opacity="0.55" stroke="#4f77c8" stroke-width="0.3"/>
<text x="642.6" y="328.1" font-size="4.5" text-anchor="start" fill="#333">Segmented cells</text>
<circle cx="640.3" cy="332.3" r="0.7" fill="#e37b4b" fill-opacity="0.55" stroke="#e37b4b" stroke-width="0.3"/>
<text x="642.6" y="333.8" font-size="4.5" text-anchor="start" fill="#333">Segmented nuclei</text>
<path d="M513.8 418.6V487.4M522.0 418.6V487.4M530.3 418.6V487.4M538.5 418.6V487.4M546.7 418.6V487.4M555.0 418.6V487.4M563.2 418.6V487.4M571.4 418.6V487.4M579.7 418.6V487.4M587.9 418.6V487.4M596.1 418.6V487.4M604.4 418.6V487.4M612.6 418.6V487.4M620.8 418.6V487.4M629.1 418.6V487.4M637.3 418.6V487.4M645.5 418.6V487.4M653.8 418.6V487.4M662.0 418.6V487.4M506.9 430.2H668.5M506.9 454.8H668.5M506.9 479.0H668.5" stroke="#e7e7ea" stroke-width="0.45" fill="none"/>
<path d="M506.9 487.4H668.5" stroke="#9fb4c0" stroke-width="0.7"/>
<text x="502.9" y="432.1" font-size="5.2" text-anchor="end" fill="#333">3000</text>
<text x="502.9" y="456.7" font-size="5.2" text-anchor="end" fill="#333">2000</text>
<text x="502.9" y="480.9" font-size="5.2" text-anchor="end" fill="#333">1000</text>
<text x="513.8" y="494.6" font-size="5.0" text-anchor="middle" fill="#222">7</text>
<text x="522.0" y="494.6" font-size="5.0" text-anchor="middle" fill="#222">8</text>
<text x="530.3" y="494.6" font-size="5.0" text-anchor="middle" fill="#222">9</text>
<text x="538.5" y="494.6" font-size="5.0" text-anchor="middle" fill="#222">10</text>
<text x="546.7" y="494.6" font-size="5.0" text-anchor="middle" fill="#222">11</text>
<text x="555.0" y="494.6" font-size="5.0" text-anchor="middle" fill="#222">12</text>
<text x="563.2" y="494.6" font-size="5.0" text-anchor="middle" fill="#222">13</text>
<text x="571.4" y="494.6" font-size="5.0" text-anchor="middle" fill="#222">14</text>
<text x="579.7" y="494.6" font-size="5.0" text-anchor="middle" fill="#222">15</text>
<text x="587.9" y="494.6" font-size="5.0" text-anchor="middle" fill="#222">16</text>
<text x="596.1" y="494.6" font-size="5.0" text-anchor="middle" fill="#222">17</text>
<text x="604.4" y="494.6" font-size="5.0" text-anchor="middle" fill="#222">18</text>
<text x="612.6" y="494.6" font-size="5.0" text-anchor="middle" fill="#222">19</text>
<text x="620.8" y="494.6" font-size="5.0" text-anchor="middle" fill="#222">20</text>
<text x="629.1" y="494.6" font-size="5.0" text-anchor="middle" fill="#222">21</text>
<text x="637.3" y="494.6" font-size="5.0" text-anchor="middle" fill="#222">22</text>
<text x="645.5" y="494.6" font-size="5.0" text-anchor="middle" fill="#222">23</text>
<text x="653.8" y="494.6" font-size="5.0" text-anchor="middle" fill="#222">24</text>
<text x="662.0" y="494.6" font-size="5.0" text-anchor="middle" fill="#222">25</text>
<path d="M513.8 482.3L522 429L530.3 469.4L538.5 439.5L546.7 479.3L555 441.9L563.2 423.9L571.4 436.5L579.7 444.3L587.9 460.5L596.1 465.2L604.4 462.8L612.6 473.3L620.8 459.3L629.1 465.2L637.3 458.7L645.5 483.8L653.8 452.4L662 455.4" stroke="#4f77c8" stroke-width="0.72" fill="none" stroke-linejoin="round"/>
<circle cx="513.8" cy="482.3" r="1.0" fill="#fff" stroke="#4f77c8" stroke-width="0.5"/><circle cx="522.0" cy="429.0" r="1.0" fill="#fff" stroke="#4f77c8" stroke-width="0.5"/><circle cx="530.3" cy="469.4" r="1.0" fill="#fff" stroke="#4f77c8" stroke-width="0.5"/><circle cx="538.5" cy="439.5" r="1.0" fill="#fff" stroke="#4f77c8" stroke-width="0.5"/><circle cx="546.7" cy="479.3" r="1.0" fill="#fff" stroke="#4f77c8" stroke-width="0.5"/><circle cx="555.0" cy="441.9" r="1.0" fill="#fff" stroke="#4f77c8" stroke-width="0.5"/><circle cx="563.2" cy="423.9" r="1.0" fill="#fff" stroke="#4f77c8" stroke-width="0.5"/><circle cx="571.4" cy="436.5" r="1.0" fill="#fff" stroke="#4f77c8" stroke-width="0.5"/><circle cx="579.7" cy="444.3" r="1.0" fill="#fff" stroke="#4f77c8" stroke-width="0.5"/><circle cx="587.9" cy="460.5" r="1.0" fill="#fff" stroke="#4f77c8" stroke-width="0.5"/><circle cx="596.1" cy="465.2" r="1.0" fill="#fff" stroke="#4f77c8" stroke-width="0.5"/><circle cx="604.4" cy="462.8" r="1.0" fill="#fff" stroke="#4f77c8" stroke-width="0.5"/><circle cx="612.6" cy="473.3" r="1.0" fill="#fff" stroke="#4f77c8" stroke-width="0.5"/><circle cx="620.8" cy="459.3" r="1.0" fill="#fff" stroke="#4f77c8" stroke-width="0.5"/><circle cx="629.1" cy="465.2" r="1.0" fill="#fff" stroke="#4f77c8" stroke-width="0.5"/><circle cx="637.3" cy="458.7" r="1.0" fill="#fff" stroke="#4f77c8" stroke-width="0.5"/><circle cx="645.5" cy="483.8" r="1.0" fill="#fff" stroke="#4f77c8" stroke-width="0.5"/><circle cx="653.8" cy="452.4" r="1.0" fill="#fff" stroke="#4f77c8" stroke-width="0.5"/><circle cx="662.0" cy="455.4" r="1.0" fill="#fff" stroke="#4f77c8" stroke-width="0.5"/>
<path d="M513.8 445.8L522 478.7L530.3 442.5L538.5 421.8L546.7 446.4L555 430.5L563.2 466.4L571.4 423.3L579.7 446.4L587.9 426.9L596.1 446.4L604.4 440.4L612.6 456.3L620.8 437.4L629.1 446.4L637.3 436.2L645.5 460.5L653.8 438L662 442.2" stroke="#e37b4b" stroke-width="0.72" fill="none" stroke-linejoin="round"/>
<circle cx="513.8" cy="445.8" r="1.0" fill="#fff" stroke="#e37b4b" stroke-width="0.5"/><circle cx="522.0" cy="478.7" r="1.0" fill="#fff" stroke="#e37b4b" stroke-width="0.5"/><circle cx="530.3" cy="442.5" r="1.0" fill="#fff" stroke="#e37b4b" stroke-width="0.5"/><circle cx="538.5" cy="421.8" r="1.0" fill="#fff" stroke="#e37b4b" stroke-width="0.5"/><circle cx="546.7" cy="446.4" r="1.0" fill="#fff" stroke="#e37b4b" stroke-width="0.5"/><circle cx="555.0" cy="430.5" r="1.0" fill="#fff" stroke="#e37b4b" stroke-width="0.5"/><circle cx="563.2" cy="466.4" r="1.0" fill="#fff" stroke="#e37b4b" stroke-width="0.5"/><circle cx="571.4" cy="423.3" r="1.0" fill="#fff" stroke="#e37b4b" stroke-width="0.5"/><circle cx="579.7" cy="446.4" r="1.0" fill="#fff" stroke="#e37b4b" stroke-width="0.5"/><circle cx="587.9" cy="426.9" r="1.0" fill="#fff" stroke="#e37b4b" stroke-width="0.5"/><circle cx="596.1" cy="446.4" r="1.0" fill="#fff" stroke="#e37b4b" stroke-width="0.5"/><circle cx="604.4" cy="440.4" r="1.0" fill="#fff" stroke="#e37b4b" stroke-width="0.5"/><circle cx="612.6" cy="456.3" r="1.0" fill="#fff" stroke="#e37b4b" stroke-width="0.5"/><circle cx="620.8" cy="437.4" r="1.0" fill="#fff" stroke="#e37b4b" stroke-width="0.5"/><circle cx="629.1" cy="446.4" r="1.0" fill="#fff" stroke="#e37b4b" stroke-width="0.5"/><circle cx="637.3" cy="436.2" r="1.0" fill="#fff" stroke="#e37b4b" stroke-width="0.5"/><circle cx="645.5" cy="460.5" r="1.0" fill="#fff" stroke="#e37b4b" stroke-width="0.5"/><circle cx="653.8" cy="438.0" r="1.0" fill="#fff" stroke="#e37b4b" stroke-width="0.5"/><circle cx="662.0" cy="442.2" r="1.0" fill="#fff" stroke="#e37b4b" stroke-width="0.5"/>
<rect x="637.7" y="409.0" width="44" height="12.8" rx="0.6" fill="#fff" stroke="#e2e2e2" stroke-width="0.45"/>
<circle cx="640.3" cy="412.4" r="0.7" fill="#4f77c8" fill-opacity="0.55" stroke="#4f77c8" stroke-width="0.3"/>
<text x="642.6" y="413.9" font-size="4.5" text-anchor="start" fill="#333">Segmented cells</text>
<circle cx="640.3" cy="418.1" r="0.7" fill="#e37b4b" fill-opacity="0.55" stroke="#e37b4b" stroke-width="0.3"/>
<text x="642.6" y="419.6" font-size="4.5" text-anchor="start" fill="#333">Segmented nuclei</text>
</svg>
</body></html>
